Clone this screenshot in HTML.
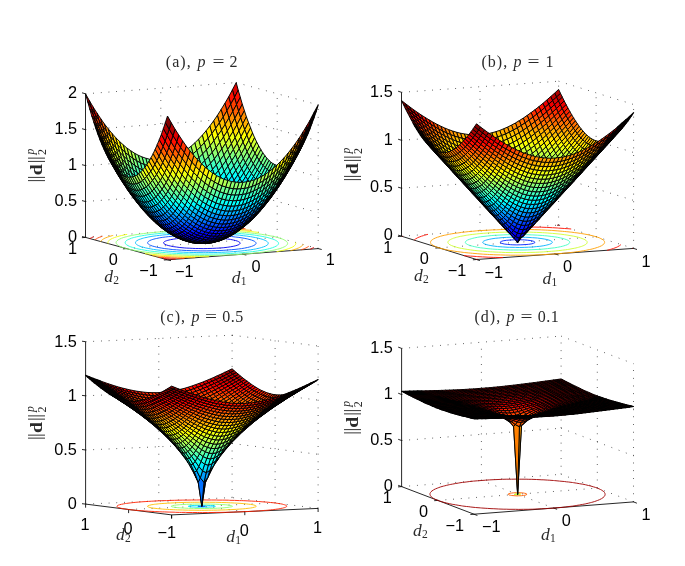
<!DOCTYPE html>
<html lang="en"><head><meta charset="utf-8"><title>Lp norm surfaces</title>
<style>
html,body{margin:0;padding:0;background:#fff}
svg{display:block;will-change:transform}
.gr{fill:none;stroke:#000;stroke-width:.75;stroke-dasharray:.8 6.9;stroke-linecap:butt}
.ax{fill:none;stroke:#000;stroke-width:.85;stroke-linejoin:miter}
.ct{fill:none;stroke-width:.9}
.sf path{stroke:#000;stroke-width:.95;stroke-linejoin:round}
.sf .t{stroke-width:1.15}
.tk{font-family:"Liberation Sans",sans-serif;font-size:16.3px;fill:#000}
.tx{font-family:"Liberation Serif",serif;fill:#2a2a2a}
</style></head><body>
<svg width="685" height="566" viewBox="0 0 685 566">
<rect width="685" height="566" fill="#fff"/>
<g id="pa">
<path class="gr" d="M242.8 254.2L160.8 231.8M126.5 248.6L277.2 237.4M318.2 248.6L236.2 226.2M85.5 237.4L236.2 226.2M160.8 231.8L160.8 88.2M236.2 226.2L236.2 82.6M318.2 248.6L318.2 104.9M277.2 237.4L277.2 93.7M85.5 201.5L236.2 190.3M236.2 190.3L318.2 212.6M85.5 165.6L236.2 154.4M236.2 154.4L318.2 176.7M85.5 129.7L236.2 118.5M236.2 118.5L318.2 140.8M85.5 93.8L236.2 82.6M236.2 82.6L318.2 104.9"/>
<path class="ax" d="M85.5 93.8L85.5 237.4L167.5 259.8L318.2 248.6M167.5 259.8L171 260.7M167.5 259.8L163.9 260M242.8 254.2L246.3 255.1M126.5 248.6L122.9 248.9M318.2 248.6L321.7 249.5M85.5 237.4L81.9 237.7M85.5 237.4L82 236.5M85.5 201.5L82 200.6M85.5 165.6L82 164.7M85.5 129.7L82 128.7M85.5 93.8L82 92.8"/>
<path class="ct" stroke="#0000ef" d="M203.2 248.6L203.2 248.6L198.2 248.5L195.3 248.5L192.8 248.4L189.2 248.2L186.8 248.1L184.2 247.9L179.9 247.5L179.9 247.5L176.3 247L173.2 246.6L170.4 246L168.2 245.5L166.3 244.9L165 244.3L164 243.7L163.5 243L163.5 243L163.7 242.3L164.1 241.9L164.6 241.5L165.7 241L166.6 240.7L167.8 240.3L170.4 239.7L170.4 239.7L173.3 239.2L176.5 238.7L179.9 238.3L183.5 238L187.4 237.8L191.5 237.6L195.9 237.5L200.5 237.4L200.5 237.4L205.5 237.5L208.4 237.5L210.9 237.6L214.5 237.8L216.9 237.9L219.5 238.1L223.8 238.5L223.8 238.5L227.4 239L230.5 239.4L233.3 240L235.5 240.5L237.4 241.1L238.7 241.7L239.7 242.3L240.2 243L240.2 243L240 243.7L239.6 244.1L239.1 244.5L238 245L237.1 245.3L235.9 245.7L233.3 246.3L233.3 246.3L230.4 246.8L227.2 247.3L223.8 247.7L220.2 248L216.3 248.2L212.2 248.4L207.8 248.5L203.2 248.6z"/>
<path class="ct" stroke="#0050ff" d="M211.4 250.8L211.4 250.8L206.8 250.9L202.1 250.9L200.9 250.9L197.1 250.8L193.2 250.7L191.8 250.7L186.8 250.5L186.2 250.5L181.4 250.2L180 250.1L176.6 249.8L173.2 249.6L172.2 249.5L168.4 249L164.8 248.6L164.8 248.6L161.7 248.1L158.9 247.6L156.4 247.1L154.2 246.5L152.3 246L150.7 245.4L149.4 244.8L148.4 244.1L148.4 244.1L147.9 243.5L147.6 242.8L147.6 242.6L147.9 242L148.3 241.5L148.6 241.3L149.7 240.6L149.9 240.5L151.6 239.8L152.2 239.6L153.9 239.1L155.8 238.6L156.4 238.5L159.2 237.9L162.2 237.4L162.2 237.4L165.4 237L168.7 236.6L172.3 236.3L175.9 236L179.8 235.7L183.8 235.5L188 235.3L192.3 235.2L192.3 235.2L196.9 235.1L201.6 235.1L202.8 235.1L206.6 235.2L210.5 235.3L211.9 235.3L216.9 235.5L217.5 235.5L222.3 235.8L223.7 235.9L227.1 236.2L230.5 236.4L231.5 236.5L235.3 237L238.9 237.4L238.9 237.4L242 237.9L244.8 238.4L247.3 238.9L249.5 239.5L251.4 240L253 240.6L254.3 241.2L255.3 241.9L255.3 241.9L255.8 242.5L256.1 243.2L256.1 243.4L255.8 244L255.4 244.5L255.1 244.7L254 245.4L253.8 245.5L252.1 246.2L251.5 246.4L249.8 246.9L247.9 247.4L247.3 247.5L244.5 248.1L241.5 248.6L241.5 248.6L238.3 249L235 249.4L231.4 249.7L227.8 250L223.9 250.3L219.9 250.5L215.7 250.7L211.4 250.8z"/>
<path class="ct" stroke="#00bfff" d="M221.7 252.3L218.1 252.4L217.5 252.5L213.1 252.6L208.5 252.6L205.6 252.7L203.8 252.7L198.9 252.6L196.8 252.6L193.8 252.5L189.6 252.4L188.4 252.4L183.3 252.2L182.8 252.2L177.8 251.9L176.7 251.8L172.8 251.5L170.1 251.3L168.3 251.2L164.2 250.8L162.7 250.6L160.4 250.3L156.9 249.9L153.7 249.4L153.2 249.4L150.8 248.9L148.1 248.4L145.7 247.9L143.5 247.3L141.6 246.8L139.9 246.2L138.5 245.6L137.4 245L137.3 245L136.4 244.3L135.8 243.7L135.5 243.2L135.5 243L135.5 242.3L135.6 242L135.9 241.5L136.6 240.9L136.8 240.7L138.1 240L138.2 239.9L139.9 239.2L140.4 239.1L142.1 238.5L143.5 238.1L144.5 237.8L147.2 237.3L148.2 237L150 236.7L153 236.2L156.1 235.8L156.6 235.7L159.4 235.4L162.8 235L166.4 234.7L170.1 234.4L173.9 234.1L177.9 233.9L182 233.7L185.6 233.6L186.2 233.5L190.6 233.4L195.2 233.4L198.1 233.3L199.9 233.3L204.8 233.4L206.9 233.4L209.9 233.5L214.1 233.6L215.3 233.6L220.4 233.8L220.9 233.8L225.9 234.1L227 234.2L230.9 234.5L233.6 234.7L235.4 234.8L239.5 235.2L241 235.4L243.3 235.7L246.8 236.1L250 236.6L250.5 236.6L252.9 237.1L255.6 237.6L258 238.1L260.2 238.7L262.1 239.2L263.8 239.8L265.2 240.4L266.3 241L266.4 241L267.3 241.7L267.9 242.3L268.2 242.8L268.2 243L268.2 243.7L268.1 244L267.8 244.5L267.1 245.1L266.9 245.3L265.6 246L265.5 246.1L263.8 246.8L263.3 246.9L261.6 247.5L260.2 247.9L259.2 248.2L256.5 248.7L255.5 249L253.7 249.3L250.7 249.8L247.6 250.2L247.1 250.3L244.3 250.6L240.9 251L237.3 251.3L233.6 251.6L229.8 251.9L225.8 252.1L221.7 252.3z"/>
<path class="ct" stroke="#20ffdf" d="M218.2 254L215.8 254L213.8 254.1L209.2 254.1L204.5 254.2L204.5 254.2L199.6 254.1L195.9 254.1L194.6 254.1L189.3 253.9L188.6 253.9L183.8 253.8L182.2 253.7L178 253.5L176.5 253.4L171.9 253.1L171.3 253.1L166.5 252.7L165.3 252.6L162.1 252.3L158 251.9L158 251.9L154.2 251.5L150.7 251.1L149.2 250.9L147.4 250.6L144.4 250.1L141.6 249.6L139 249.1L136.6 248.6L134.5 248L132.5 247.4L130.8 246.9L129.3 246.3L128 245.6L126.9 245L126.4 244.7L126.1 244.4L125.5 243.7L125.2 243L125.2 243L125.2 242.3L125.4 241.8L125.5 241.6L126.2 240.8L126.3 240.7L127.3 240L127.7 239.8L128.9 239.2L129.5 239L131.2 238.3L131.5 238.2L133.8 237.5L134.4 237.4L136.3 236.9L138.9 236.3L138.9 236.3L141.7 235.8L144.7 235.3L146.1 235.1L147.8 234.8L151.1 234.4L154.4 234L157.9 233.7L161.5 233.3L165.2 233L169 232.8L173 232.5L177 232.3L181.2 232.2L185.5 232L187.9 232L189.9 231.9L194.5 231.9L199.2 231.8L199.2 231.8L204.1 231.9L207.8 231.9L209.1 231.9L214.4 232.1L215.1 232.1L219.9 232.2L221.5 232.3L225.7 232.5L227.2 232.6L231.8 232.9L232.4 232.9L237.2 233.3L238.4 233.4L241.6 233.7L245.7 234.1L245.7 234.1L249.5 234.5L253 234.9L254.5 235.1L256.3 235.4L259.3 235.9L262.1 236.4L264.7 236.9L267.1 237.4L269.2 238L271.2 238.6L272.9 239.1L274.4 239.7L275.7 240.4L276.8 241L277.3 241.3L277.6 241.6L278.2 242.3L278.5 243L278.5 243L278.5 243.7L278.3 244.2L278.2 244.4L277.5 245.2L277.4 245.3L276.4 246L276 246.2L274.8 246.8L274.2 247L272.5 247.7L272.2 247.8L269.9 248.5L269.3 248.6L267.4 249.1L264.8 249.7L264.8 249.7L262 250.2L259 250.7L257.6 250.9L255.9 251.2L252.6 251.6L249.3 252L245.8 252.3L242.2 252.7L238.5 253L234.7 253.2L230.7 253.5L226.7 253.7L222.5 253.8L218.2 254z"/>
<path class="ct" stroke="#8fff70" d="M242.8 254.2L239 254.4L235.1 254.7L231.1 254.9L226.9 255L222.7 255.2L218.4 255.3L217.3 255.3L213.9 255.4L209.3 255.5L206 255.5L204.5 255.5L199.7 255.5L197.1 255.4L194.6 255.4L189.4 255.3L189.4 255.3L184 255.1L182.8 255.1L178.4 254.9L176.8 254.8L172.4 254.6L171.3 254.5L166.2 254.2L166.2 254.2L161.5 253.8L159.4 253.6L157.1 253.4L153 253L151.9 252.9L149.2 252.6L145.6 252.1L143 251.8L142.3 251.7L139.2 251.2L136.2 250.7L133.5 250.2L131 249.7L128.6 249.2L126.5 248.6M277.2 237.4L279.2 238L280.9 238.5L282.5 239.1L283.9 239.7L285 240.4L286 241L286.2 241.2L286.8 241.7L287.3 242.3L287.5 242.8L287.6 243L287.6 243.7L287.5 244.1L287.3 244.5L286.7 245.2L286.7 245.2L285.7 246L285.5 246.2L284.3 246.8L283.9 247L282.4 247.7L282 247.8L279.9 248.6L279.9 248.6L277.5 249.2L276.3 249.5L275 249.9L272.4 250.4L271.5 250.6L269.6 251L266.6 251.5L264.3 251.8L263.6 252L260.4 252.4L257.1 252.8L253.7 253.2L250.2 253.5L246.6 253.9L242.8 254.2M126.5 248.6L124.5 248L122.8 247.5L121.2 246.9L119.8 246.3L118.7 245.6L117.7 245L117.5 244.8L116.9 244.3L116.4 243.7L116.2 243.2L116.1 243L116.1 242.3L116.2 241.9L116.4 241.5L117 240.8L117 240.8L118 240L118.2 239.8L119.4 239.2L119.8 239L121.3 238.3L121.7 238.2L123.8 237.4L123.8 237.4L126.2 236.8L127.4 236.5L128.7 236.1L131.3 235.6L132.2 235.4L134.1 235L137.1 234.5L139.4 234.2L140.1 234L143.3 233.6L146.6 233.2L150 232.8L153.5 232.5L157.1 232.1L160.8 231.8M160.8 231.8L164.7 231.6L168.6 231.3L172.6 231.1L176.8 231L181 230.8L185.3 230.7L186.4 230.7L189.8 230.6L194.4 230.5L197.7 230.5L199.2 230.5L204 230.5L206.6 230.6L209.1 230.6L214.3 230.7L214.3 230.7L219.7 230.9L220.9 230.9L225.3 231.1L226.9 231.2L231.3 231.4L232.4 231.5L237.5 231.8L237.5 231.8L242.2 232.2L244.3 232.4L246.6 232.6L250.7 233L251.8 233.1L254.5 233.4L258.1 233.9L260.7 234.2L261.4 234.3L264.5 234.8L267.5 235.3L270.2 235.8L272.7 236.3L275.1 236.8L277.2 237.4"/>
<path class="ct" stroke="#efff10" d="M209.2 256.7L208.9 256.7L204.1 256.7L199.7 256.6L199.2 256.6L194.2 256.6L191.7 256.5L189 256.5L184.7 256.3L183.6 256.3L178.3 256.1L178.1 256.1L172.4 255.8L172.2 255.8L167.1 255.5L166.1 255.5L162.1 255.2L159.6 255L157.4 254.8L153 254.4L152.6 254.4L148.9 254L145 253.6L144.8 253.6M295.5 242.4L295.6 242.4L295.8 243.1L295.8 243.8L295.8 243.8L295.5 244.6L295.2 244.9L294.9 245.3L294.2 245.9L294 246.1L292.8 246.9L292.8 246.9L291.1 247.7L291 247.7L289.1 248.5L288.7 248.6L287 249.2L285.8 249.5L284.6 249.9L282.1 250.5L281.9 250.5L279.5 251.1L276.7 251.6L276.5 251.6M108.2 243.6L108.1 243.6L107.9 242.9L107.9 242.2L107.9 242.2L108.2 241.4L108.5 241.1L108.8 240.7L109.5 240.1L109.7 239.9L110.9 239.1L110.9 239.1L112.6 238.3L112.7 238.3L114.6 237.5L115 237.4L116.7 236.8L117.9 236.5L119.1 236.1L121.6 235.5L121.8 235.5L124.2 234.9L127 234.4L127.2 234.4M194.5 229.3L194.8 229.3L199.6 229.3L204 229.4L204.5 229.4L209.5 229.4L212 229.5L214.7 229.5L219 229.7L220.1 229.7L225.4 229.9L225.6 229.9L231.3 230.2L231.5 230.2L236.6 230.5L237.6 230.5L241.6 230.8L244.1 231L246.3 231.2L250.7 231.6L251.1 231.6L254.8 232L258.7 232.4L258.9 232.4"/>
<path class="ct" stroke="#ffaf00" d="M195.2 257.7L193.4 257.7L188.2 257.6L187.7 257.5L182.8 257.4L180.9 257.3L177.3 257.2L174.7 257.1L171.5 256.9L169 256.8L165.5 256.6L163.7 256.5L159.2 256.2L158.7 256.1L154 255.8L152.4 255.6M303.1 244.4L303 244.7L302.4 245.5L302.3 245.5L301.5 246.2L301.1 246.5L300.3 247L299.6 247.4L298.7 247.9L297.9 248.2L296.6 248.7L295.9 249L293.9 249.6L293.7 249.7L291.4 250.4L290.5 250.6M100.6 241.6L100.7 241.3L101.3 240.5L101.4 240.5L102.2 239.8L102.6 239.5L103.4 239L104.1 238.6L105 238.1L105.8 237.8L107.1 237.3L107.8 237L109.8 236.4L110 236.3L112.3 235.6L113.2 235.4M208.5 228.3L210.3 228.3L215.5 228.4L216 228.5L220.9 228.6L222.8 228.7L226.4 228.8L229 228.9L232.2 229.1L234.7 229.2L238.2 229.4L240 229.5L244.5 229.8L245 229.9L249.7 230.2L251.3 230.4"/>
<path class="ct" stroke="#ff4000" d="M184.5 258.5L181.7 258.4L177.9 258.3L176.2 258.2L171.8 258L170.5 257.9L166.1 257.7L164.5 257.6L160.8 257.4L158.2 257.2M308.9 246L308.5 246.4L307.7 247L307.3 247.2L306.1 247.9L305.7 248.1L304.3 248.7L303.7 248.9L302.3 249.4L301.2 249.8M94.8 240L95.2 239.6L96 239L96.4 238.8L97.6 238.1L98 237.9L99.4 237.3L100 237.1L101.4 236.6L102.5 236.2M219.2 227.5L222 227.6L225.8 227.7L227.5 227.8L231.9 228L233.2 228.1L237.6 228.3L239.2 228.4L242.9 228.6L245.5 228.8"/>
<path class="ct" stroke="#df0000" d="M175.5 259.2L174.8 259.1L169.4 258.9L169.1 258.9L163.8 258.6L163.2 258.6M313.9 247.4L313.7 247.5L312.3 248.2L312.2 248.3L310.5 249.1L310.2 249.1M89.8 238.6L90 238.5L91.4 237.8L91.5 237.7L93.2 236.9L93.5 236.9M228.2 226.8L228.9 226.9L234.3 227.1L234.6 227.1L239.9 227.4L240.5 227.4"/>
<g class="sf">
<path fill="#df0000" d="M234.5 97.4l3.7-7.3-2-7.5-3.8 7.2z"/>
<path fill="#ff1000" d="M230.7 104.3l3.8-6.9-2.1-7.6-3.7 7z"/>
<path fill="#ff3000" d="M226.9 110.9l3.8-6.6-2-7.5-3.8 6.5z"/>
<path fill="#ff6000" d="M223.2 117.1l3.7-6.2-2-7.6-3.8 6.2z"/>
<path fill="#ff8f00" d="M219.4 122.9l3.8-5.8-2.1-7.6-3.7 5.9z"/>
<path fill="#ffaf00" d="M215.6 128.4l3.8-5.5-2-7.5-3.8 5.5z"/>
<path fill="#ffcf00" d="M211.9 133.6l3.7-5.2-2-7.5-3.8 5.1z"/>
<path fill="#ffef00" d="M208.1 138.3l3.8-4.7-2.1-7.6-3.7 4.8z"/>
<path fill="#efff10" d="M204.3 142.7l3.8-4.4-2-7.5-3.8 4.4z"/>
<path fill="#cfff30" d="M200.6 146.8l3.7-4.1-2-7.5-3.8 4z"/>
<path fill="#bfff40" d="M196.8 150.5l3.8-3.7-2.1-7.6-3.7 3.7z"/>
<path fill="#afff50" d="M193 153.8l3.8-3.3-2-7.6-3.8 3.4z"/>
<path fill="#8fff70" d="M189.3 156.8l3.7-3-2-7.5-3.8 2.9z"/>
<path fill="#80ff80" d="M185.5 159.4l3.8-2.6-2.1-7.6-3.7 2.7z"/>
<g fill="#70ff8f"><path d="M181.7 161.7l3.8-2.3-2-7.5-3.8 2.2z"/><path d="M178 163.6l3.7-1.9-2-7.6-3.8 1.9z"/></g>
<g fill="#60ff9f"><path d="M174.2 165.1l3.8-1.5-2.1-7.6-3.7 1.5z"/><path d="M170.4 166.3l3.8-1.2-2-7.6-3.8 1.2z"/></g>
<g fill="#50ffaf"><path d="M166.7 167.1l3.7-.8-2-7.6-3.8 .8z"/><path d="M162.9 167.6l3.8-.5-2.1-7.6-3.8 .5z"/><path d="M159.1 167.7l3.8-.1-2.1-7.6-3.7 .1z"/></g>
<g fill="#60ff9f"><path d="M155.4 167.4l3.7 .3-2-7.6-3.8-.3z"/><path d="M151.6 166.8l3.8 .6-2.1-7.6-3.8-.6z"/></g>
<g fill="#70ff8f"><path d="M147.8 165.8l3.8 1-2.1-7.6-3.7-1z"/><path d="M144.1 164.5l3.7 1.3-2-7.6-3.8-1.3z"/></g>
<path fill="#80ff80" d="M140.3 162.8l3.8 1.7-2.1-7.6-3.8-1.7z"/>
<path fill="#8fff70" d="M136.5 160.7l3.8 2.1-2.1-7.6-3.7-2z"/>
<path fill="#afff50" d="M132.8 158.3l3.7 2.4-2-7.5-3.8-2.5z"/>
<path fill="#bfff40" d="M129 155.5l3.8 2.8-2.1-7.6-3.8-2.7z"/>
<path fill="#cfff30" d="M125.2 152.4l3.8 3.1-2.1-7.5-3.7-3.2z"/>
<path fill="#efff10" d="M121.5 148.9l3.7 3.5-2-7.6-3.8-3.5z"/>
<path fill="#ffef00" d="M117.7 145.1l3.8 3.8-2.1-7.6-3.8-3.8z"/>
<path fill="#ffcf00" d="M113.9 140.8l3.8 4.3-2.1-7.6-3.7-4.2z"/>
<path fill="#ffaf00" d="M110.2 136.3l3.7 4.5-2-7.5-3.8-4.6z"/>
<path fill="#ff8f00" d="M106.4 131.3l3.8 5-2.1-7.6-3.8-4.9z"/>
<path fill="#ff6000" d="M102.6 126.1l3.8 5.2-2.1-7.5-3.7-5.3z"/>
<path fill="#ff3000" d="M98.9 120.4l3.7 5.7-2-7.6-3.8-5.7z"/>
<path fill="#ff1000" d="M95.1 114.4l3.8 6-2.1-7.6-3.8-6z"/>
<path fill="#df0000" d="M91.3 108l3.8 6.4-2.1-7.6-3.7-6.3z"/>
<path fill="#af0000" d="M87.6 101.3l3.7 6.7-2-7.5-3.8-6.7z"/>
<path fill="#ff1000" d="M236.5 104.6l3.8-7.3-2.1-7.2-3.7 7.3z"/>
<path fill="#ff4000" d="M232.8 111.5l3.7-6.9-2-7.2-3.8 6.9z"/>
<path fill="#ff6000" d="M229 118.1l3.8-6.6-2.1-7.2-3.8 6.6z"/>
<path fill="#ff8f00" d="M225.2 124.3l3.8-6.2-2.1-7.2-3.7 6.2z"/>
<path fill="#ffbf00" d="M221.5 130.2l3.7-5.9-2-7.2-3.8 5.8z"/>
<path fill="#ffdf00" d="M217.7 135.6l3.8-5.4-2.1-7.3-3.8 5.5z"/>
<path fill="#ff0" d="M213.9 140.8l3.8-5.2-2.1-7.2-3.7 5.2z"/>
<path fill="#dfff20" d="M210.2 145.5l3.7-4.7-2-7.2-3.8 4.7z"/>
<path fill="#bfff40" d="M206.4 150l3.8-4.5-2.1-7.2-3.8 4.4z"/>
<path fill="#9fff60" d="M202.6 154l3.8-4-2.1-7.3-3.7 4.1z"/>
<path fill="#8fff70" d="M198.9 157.7l3.7-3.7-2-7.2-3.8 3.7z"/>
<path fill="#80ff80" d="M195.1 161l3.8-3.3-2.1-7.2-3.8 3.3z"/>
<path fill="#60ff9f" d="M191.3 164l3.8-3-2.1-7.2-3.7 3z"/>
<path fill="#50ffaf" d="M187.6 166.6l3.7-2.6-2-7.2-3.8 2.6z"/>
<g fill="#40ffbf"><path d="M183.8 168.9l3.8-2.3-2.1-7.2-3.8 2.3z"/><path d="M180 170.8l3.8-1.9-2.1-7.2-3.7 1.9z"/></g>
<g fill="#30ffcf"><path d="M176.3 172.3l3.7-1.5-2-7.2-3.8 1.5z"/><path d="M172.5 173.5l3.8-1.2-2.1-7.2-3.8 1.2z"/><path d="M168.7 174.3l3.8-.8-2.1-7.2-3.7 .8z"/></g>
<path fill="#20ffdf" d="M165 174.8l3.7-.5-2-7.2-3.8 .5z"/>
<g fill="#30ffcf"><path d="M161.2 174.9l3.8-.1-2.1-7.2-3.8 .1z"/><path d="M157.4 174.6l3.8 .3-2.1-7.2-3.7-.3z"/><path d="M153.6 174l3.8 .6-2-7.2-3.8-.6z"/></g>
<g fill="#40ffbf"><path d="M149.9 173l3.7 1-2-7.2-3.8-1z"/><path d="M146.1 171.7l3.8 1.3-2.1-7.2-3.7-1.3z"/></g>
<path fill="#50ffaf" d="M142.3 170l3.8 1.7-2-7.2-3.8-1.7z"/>
<path fill="#60ff9f" d="M138.6 167.9l3.7 2.1-2-7.2-3.8-2.1z"/>
<path fill="#80ff80" d="M134.8 165.5l3.8 2.4-2.1-7.2-3.7-2.4z"/>
<path fill="#8fff70" d="M131 162.7l3.8 2.8-2-7.2-3.8-2.8z"/>
<path fill="#9fff60" d="M127.3 159.6l3.7 3.1-2-7.2-3.8-3.1z"/>
<path fill="#bfff40" d="M123.5 156.1l3.8 3.5-2.1-7.2-3.7-3.5z"/>
<path fill="#dfff20" d="M119.7 152.3l3.8 3.8-2-7.2-3.8-3.8z"/>
<path fill="#ff0" d="M116 148l3.7 4.3-2-7.2-3.8-4.3z"/>
<path fill="#ffdf00" d="M112.2 143.5l3.8 4.5-2.1-7.2-3.7-4.5z"/>
<path fill="#ffbf00" d="M108.4 138.6l3.8 4.9-2-7.2-3.8-5z"/>
<path fill="#ff8f00" d="M104.7 133.3l3.7 5.3-2-7.3-3.8-5.2z"/>
<path fill="#ff6000" d="M100.9 127.6l3.8 5.7-2.1-7.2-3.7-5.7z"/>
<path fill="#ff4000" d="M97.1 121.6l3.8 6-2-7.2-3.8-6z"/>
<path fill="#ff1000" d="M93.4 115.2l3.7 6.4-2-7.2-3.8-6.4z"/>
<path fill="#df0000" d="M89.6 108.5l3.8 6.7-2.1-7.2-3.7-6.7z"/>
<path fill="#ff3000" d="M238.6 111.4l3.7-7.2-2-6.9-3.8 7.3z"/>
<path fill="#ff6000" d="M234.8 118.4l3.8-7-2.1-6.8-3.7 6.9z"/>
<path fill="#ff8f00" d="M231 124.9l3.8-6.5-2-6.9-3.8 6.6z"/>
<path fill="#ffbf00" d="M227.3 131.1l3.7-6.2-2-6.8-3.8 6.2z"/>
<path fill="#ffdf00" d="M223.5 137l3.8-5.9-2.1-6.8-3.7 5.9z"/>
<path fill="#efff10" d="M219.7 142.5l3.8-5.5-2-6.8-3.8 5.4z"/>
<path fill="#cfff30" d="M216 147.6l3.7-5.1-2-6.9-3.8 5.2z"/>
<path fill="#afff50" d="M212.2 152.4l3.8-4.8-2.1-6.8-3.7 4.7z"/>
<path fill="#8fff70" d="M208.4 156.8l3.8-4.4-2-6.9-3.8 4.5z"/>
<path fill="#80ff80" d="M204.7 160.8l3.7-4-2-6.8-3.8 4z"/>
<path fill="#60ff9f" d="M200.9 164.5l3.8-3.7-2.1-6.8-3.7 3.7z"/>
<path fill="#50ffaf" d="M197.1 167.9l3.8-3.4-2-6.8-3.8 3.3z"/>
<path fill="#40ffbf" d="M193.4 170.8l3.7-2.9-2-6.9-3.8 3z"/>
<path fill="#30ffcf" d="M189.6 173.5l3.8-2.7-2.1-6.8-3.7 2.6z"/>
<path fill="#20ffdf" d="M185.8 175.7l3.8-2.2-2-6.9-3.8 2.3z"/>
<path fill="#10ffef" d="M182.1 177.6l3.7-1.9-2-6.8-3.8 1.9z"/>
<g fill="#0ff"><path d="M178.3 179.2l3.8-1.6-2.1-6.8-3.7 1.5z"/><path d="M174.5 180.3l3.8-1.1-2-6.9-3.8 1.2z"/><path d="M170.8 181.2l3.7-.9-2-6.8-3.8 .8z"/><path d="M167 181.6l3.8-.4-2.1-6.9-3.7 .5z"/><path d="M163.2 181.7l3.8-.1-2-6.8-3.8 .1z"/><path d="M159.5 181.5l3.7 .2-2-6.8-3.8-.3z"/><path d="M155.7 180.8l3.8 .7-2.1-6.9-3.8-.6z"/></g>
<path fill="#10ffef" d="M151.9 179.9l3.8 .9-2.1-6.8-3.7-1z"/>
<path fill="#20ffdf" d="M148.2 178.5l3.7 1.4-2-6.9-3.8-1.3z"/>
<path fill="#30ffcf" d="M144.4 176.8l3.8 1.7-2.1-6.8-3.8-1.7z"/>
<path fill="#40ffbf" d="M140.6 174.8l3.8 2-2.1-6.8-3.7-2.1z"/>
<path fill="#50ffaf" d="M136.9 172.4l3.7 2.4-2-6.9-3.8-2.4z"/>
<path fill="#60ff9f" d="M133.1 169.6l3.8 2.8-2.1-6.9-3.8-2.8z"/>
<path fill="#80ff80" d="M129.3 166.4l3.8 3.2-2.1-6.9-3.7-3.1z"/>
<path fill="#8fff70" d="M125.6 163l3.7 3.4-2-6.8-3.8-3.5z"/>
<path fill="#afff50" d="M121.8 159.1l3.8 3.9-2.1-6.9-3.8-3.8z"/>
<path fill="#cfff30" d="M118 154.9l3.8 4.2-2.1-6.8-3.7-4.3z"/>
<path fill="#efff10" d="M114.3 150.3l3.7 4.6-2-6.9-3.8-4.5z"/>
<path fill="#ffdf00" d="M110.5 145.4l3.8 4.9-2.1-6.8-3.8-4.9z"/>
<path fill="#ffbf00" d="M106.7 140.1l3.8 5.3-2.1-6.8-3.7-5.3z"/>
<path fill="#ff8f00" d="M103 134.5l3.7 5.6-2-6.8-3.8-5.7z"/>
<path fill="#ff6000" d="M99.2 128.5l3.8 6-2.1-6.9-3.8-6z"/>
<path fill="#ff3000" d="M95.4 122.1l3.8 6.4-2.1-6.9-3.7-6.4z"/>
<path fill="#f00" d="M91.6 115.4l3.8 6.7-2-6.9-3.8-6.7z"/>
<path fill="#ff6000" d="M240.6 117.9l3.8-7.3-2.1-6.4-3.7 7.2z"/>
<path fill="#ff8f00" d="M236.9 124.9l3.7-7-2-6.5-3.8 7z"/>
<path fill="#ffbf00" d="M233.1 131.4l3.8-6.5-2.1-6.5-3.8 6.5z"/>
<path fill="#ffef00" d="M229.3 137.6l3.8-6.2-2.1-6.5-3.7 6.2z"/>
<path fill="#efff10" d="M225.6 143.5l3.7-5.9-2-6.5-3.8 5.9z"/>
<path fill="#cfff30" d="M221.8 149l3.8-5.5-2.1-6.5-3.8 5.5z"/>
<path fill="#afff50" d="M218 154.1l3.8-5.1-2.1-6.5-3.7 5.1z"/>
<path fill="#8fff70" d="M214.3 158.9l3.7-4.8-2-6.5-3.8 4.8z"/>
<path fill="#70ff8f" d="M210.5 163.3l3.8-4.4-2.1-6.5-3.8 4.4z"/>
<path fill="#50ffaf" d="M206.7 167.3l3.8-4-2.1-6.5-3.7 4z"/>
<path fill="#30ffcf" d="M203 171l3.7-3.7-2-6.5-3.8 3.7z"/>
<path fill="#20ffdf" d="M199.2 174.4l3.8-3.4-2.1-6.5-3.8 3.4z"/>
<path fill="#10ffef" d="M195.4 177.3l3.8-2.9-2.1-6.5-3.7 2.9z"/>
<path fill="#0ff" d="M191.7 179.9l3.7-2.6-2-6.5-3.8 2.7z"/>
<path fill="#00efff" d="M187.9 182.2l3.8-2.3-2.1-6.4-3.8 2.2z"/>
<g fill="#00dfff"><path d="M184.1 184.1l3.8-1.9-2.1-6.5-3.7 1.9z"/><path d="M180.4 185.6l3.7-1.5-2-6.5-3.8 1.6z"/></g>
<g fill="#00cfff"><path d="M176.6 186.8l3.8-1.2-2.1-6.4-3.8 1.1z"/><path d="M172.8 187.6l3.8-.8-2.1-6.5-3.7 .9z"/><path d="M169 188.1l3.8-.5-2-6.4-3.8 .4z"/><path d="M165.3 188.2l3.7-.1-2-6.5-3.8 .1z"/><path d="M161.5 187.9l3.8 .3-2.1-6.5-3.7-.2z"/></g>
<g fill="#00dfff"><path d="M157.7 187.3l3.8 .6-2-6.4-3.8-.7z"/><path d="M154 186.3l3.7 1-2-6.5-3.8-.9z"/></g>
<path fill="#00efff" d="M150.2 185l3.8 1.3-2.1-6.4-3.7-1.4z"/>
<path fill="#0ff" d="M146.4 183.3l3.8 1.7-2-6.5-3.8-1.7z"/>
<path fill="#10ffef" d="M142.7 181.3l3.7 2-2-6.5-3.8-2z"/>
<path fill="#20ffdf" d="M138.9 178.8l3.8 2.5-2.1-6.5-3.7-2.4z"/>
<path fill="#30ffcf" d="M135.1 176.1l3.8 2.7-2-6.4-3.8-2.8z"/>
<path fill="#50ffaf" d="M131.4 172.9l3.7 3.2-2-6.5-3.8-3.2z"/>
<path fill="#70ff8f" d="M127.6 169.4l3.8 3.5-2.1-6.5-3.7-3.4z"/>
<path fill="#8fff70" d="M123.8 165.6l3.8 3.8-2-6.4-3.8-3.9z"/>
<path fill="#afff50" d="M120.1 161.4l3.7 4.2-2-6.5-3.8-4.2z"/>
<path fill="#cfff30" d="M116.3 156.8l3.8 4.6-2.1-6.5-3.7-4.6z"/>
<path fill="#efff10" d="M112.5 151.9l3.8 4.9-2-6.5-3.8-4.9z"/>
<path fill="#ffef00" d="M108.8 146.6l3.7 5.3-2-6.5-3.8-5.3z"/>
<path fill="#ffbf00" d="M105 140.9l3.8 5.7-2.1-6.5-3.7-5.6z"/>
<path fill="#ff8f00" d="M101.2 134.9l3.8 6-2-6.4-3.8-6z"/>
<path fill="#ff6000" d="M97.5 128.6l3.7 6.3-2-6.4-3.8-6.4z"/>
<path fill="#ff3000" d="M93.7 121.8l3.8 6.8-2.1-6.5-3.8-6.7z"/>
<path fill="#ff8f00" d="M242.7 124.1l3.7-7.3-2-6.2-3.8 7.3z"/>
<path fill="#ffbf00" d="M238.9 131l3.8-6.9-2.1-6.2-3.7 7z"/>
<path fill="#ffdf00" d="M235.1 137.6l3.8-6.6-2-6.1-3.8 6.5z"/>
<path fill="#efff10" d="M231.4 143.8l3.7-6.2-2-6.2-3.8 6.2z"/>
<path fill="#cfff30" d="M227.6 149.6l3.8-5.8-2.1-6.2-3.7 5.9z"/>
<path fill="#9fff60" d="M223.8 155.1l3.8-5.5-2-6.1-3.8 5.5z"/>
<path fill="#80ff80" d="M220.1 160.2l3.7-5.1-2-6.1-3.8 5.1z"/>
<path fill="#60ff9f" d="M216.3 165l3.8-4.8-2.1-6.1-3.7 4.8z"/>
<path fill="#40ffbf" d="M212.5 169.4l3.8-4.4-2-6.1-3.8 4.4z"/>
<path fill="#30ffcf" d="M208.8 173.5l3.7-4.1-2-6.1-3.8 4z"/>
<path fill="#10ffef" d="M205 177.2l3.8-3.7-2.1-6.2-3.7 3.7z"/>
<path fill="#0ff" d="M201.2 180.5l3.8-3.3-2-6.2-3.8 3.4z"/>
<path fill="#00dfff" d="M197.5 183.5l3.7-3-2-6.1-3.8 2.9z"/>
<g fill="#00cfff"><path d="M193.7 186.1l3.8-2.6-2.1-6.2-3.7 2.6z"/><path d="M189.9 188.3l3.8-2.2-2-6.2-3.8 2.3z"/></g>
<path fill="#00bfff" d="M186.2 190.2l3.7-1.9-2-6.1-3.8 1.9z"/>
<g fill="#00afff"><path d="M182.4 191.8l3.8-1.6-2.1-6.1-3.7 1.5z"/><path d="M178.6 192.9l3.8-1.1-2-6.2-3.8 1.2z"/><path d="M174.9 193.8l3.7-.9-2-6.1-3.8 .8z"/><path d="M171.1 194.2l3.8-.4-2.1-6.2-3.8 .5z"/><path d="M167.3 194.3l3.8-.1-2.1-6.1-3.7 .1z"/><path d="M163.6 194.1l3.7 .2-2-6.1-3.8-.3z"/><path d="M159.8 193.4l3.8 .7-2.1-6.2-3.8-.6z"/></g>
<path fill="#00bfff" d="M156 192.5l3.8 .9-2.1-6.1-3.7-1z"/>
<g fill="#00cfff"><path d="M152.3 191.1l3.7 1.4-2-6.2-3.8-1.3z"/><path d="M148.5 189.4l3.8 1.7-2.1-6.1-3.8-1.7z"/></g>
<path fill="#00dfff" d="M144.7 187.4l3.8 2-2.1-6.1-3.7-2z"/>
<path fill="#0ff" d="M141 185l3.7 2.4-2-6.1-3.8-2.5z"/>
<path fill="#10ffef" d="M137.2 182.2l3.8 2.8-2.1-6.2-3.8-2.7z"/>
<path fill="#30ffcf" d="M133.4 179.1l3.8 3.1-2.1-6.1-3.7-3.2z"/>
<path fill="#40ffbf" d="M129.7 175.6l3.7 3.5-2-6.2-3.8-3.5z"/>
<path fill="#60ff9f" d="M125.9 171.7l3.8 3.9-2.1-6.2-3.8-3.8z"/>
<path fill="#80ff80" d="M122.1 167.5l3.8 4.2-2.1-6.1-3.7-4.2z"/>
<path fill="#9fff60" d="M118.4 162.9l3.7 4.6-2-6.1-3.8-4.6z"/>
<path fill="#cfff30" d="M114.6 158l3.8 4.9-2.1-6.1-3.8-4.9z"/>
<path fill="#efff10" d="M110.8 152.7l3.8 5.3-2.1-6.1-3.7-5.3z"/>
<path fill="#ffdf00" d="M107.1 147.1l3.7 5.6-2-6.1-3.8-5.7z"/>
<path fill="#ffbf00" d="M103.3 141.1l3.8 6-2.1-6.2-3.8-6z"/>
<path fill="#ff8f00" d="M99.5 134.7l3.8 6.4-2.1-6.2-3.7-6.3z"/>
<path fill="#ff5000" class="t" d="M95.8 128l3.7 6.7-2-6.1-3.8-6.8z"/>
<path fill="#ffaf00" d="M244.7 129.8l3.8-7.3-2.1-5.7-3.7 7.3z"/>
<path fill="#ffdf00" d="M241 136.7l3.7-6.9-2-5.7-3.8 6.9z"/>
<path fill="#efff10" d="M237.2 143.3l3.8-6.6-2.1-5.7-3.8 6.6z"/>
<path fill="#cfff30" d="M233.4 149.5l3.8-6.2-2.1-5.7-3.7 6.2z"/>
<path fill="#9fff60" d="M229.7 155.4l3.7-5.9-2-5.7-3.8 5.8z"/>
<path fill="#80ff80" d="M225.9 160.9l3.8-5.5-2.1-5.8-3.8 5.5z"/>
<path fill="#60ff9f" d="M222.1 166l3.8-5.1-2.1-5.8-3.7 5.1z"/>
<path fill="#40ffbf" d="M218.4 170.8l3.7-4.8-2-5.8-3.8 4.8z"/>
<path fill="#20ffdf" d="M214.6 175.2l3.8-4.4-2.1-5.8-3.8 4.4z"/>
<path fill="#0ff" d="M210.8 179.2l3.8-4-2.1-5.8-3.7 4.1z"/>
<path fill="#00efff" d="M207.1 182.9l3.7-3.7-2-5.7-3.8 3.7z"/>
<path fill="#00cfff" d="M203.3 186.3l3.8-3.4-2.1-5.7-3.8 3.3z"/>
<path fill="#00bfff" d="M199.5 189.2l3.8-2.9-2.1-5.8-3.7 3z"/>
<path fill="#00afff" d="M195.8 191.8l3.7-2.6-2-5.7-3.8 2.6z"/>
<path fill="#009fff" d="M192 194.1l3.8-2.3-2.1-5.7-3.8 2.2z"/>
<g fill="#008fff"><path d="M188.2 196l3.8-1.9-2.1-5.8-3.7 1.9z"/><path d="M184.5 197.5l3.7-1.5-2-5.8-3.8 1.6z"/><path d="M180.7 198.7l3.8-1.2-2.1-5.7-3.8 1.1z"/></g>
<g fill="#0080ff"><path d="M176.9 199.5l3.8-.8-2.1-5.8-3.7 .9z"/><path d="M173.1 200l3.8-.5-2-5.7-3.8 .4z"/><path d="M169.4 200.1l3.7-.1-2-5.8-3.8 .1z"/></g>
<g fill="#008fff"><path d="M165.6 199.8l3.8 .3-2.1-5.8-3.7-.2z"/><path d="M161.8 199.2l3.8 .6-2-5.7-3.8-.7z"/><path d="M158.1 198.2l3.7 1-2-5.8-3.8-.9z"/></g>
<path fill="#009fff" d="M154.3 196.9l3.8 1.3-2.1-5.7-3.7-1.4z"/>
<path fill="#00afff" d="M150.5 195.2l3.8 1.7-2-5.8-3.8-1.7z"/>
<path fill="#00bfff" d="M146.8 193.1l3.7 2.1-2-5.8-3.8-2z"/>
<path fill="#00cfff" d="M143 190.7l3.8 2.4-2.1-5.7-3.7-2.4z"/>
<path fill="#00efff" d="M139.2 188l3.8 2.7-2-5.7-3.8-2.8z"/>
<path fill="#0ff" d="M135.5 184.8l3.7 3.2-2-5.8-3.8-3.1z"/>
<path fill="#20ffdf" d="M131.7 181.3l3.8 3.5-2.1-5.7-3.7-3.5z"/>
<path fill="#40ffbf" d="M127.9 177.5l3.8 3.8-2-5.7-3.8-3.9z"/>
<path fill="#60ff9f" d="M124.2 173.3l3.7 4.2-2-5.8-3.8-4.2z"/>
<path fill="#80ff80" d="M120.4 168.7l3.8 4.6-2.1-5.8-3.7-4.6z"/>
<path fill="#9fff60" d="M116.6 163.8l3.8 4.9-2-5.8-3.8-4.9z"/>
<path fill="#cfff30" d="M112.9 158.5l3.7 5.3-2-5.8-3.8-5.3z"/>
<path fill="#efff10" d="M109.1 152.8l3.8 5.7-2.1-5.8-3.7-5.6z"/>
<path fill="#ffdf00" d="M105.3 146.8l3.8 6-2-5.7-3.8-6z"/>
<path fill="#ffaf00" class="t" d="M101.6 140.5l3.7 6.3-2-5.7-3.8-6.4z"/>
<path fill="#ff8000" class="t" d="M97.8 133.7l3.8 6.8-2.1-5.8-3.7-6.7z"/>
<path fill="#ffcf00" d="M246.8 135.2l3.8-7.3-2.1-5.4-3.8 7.3z"/>
<path fill="#ff0" d="M243 142.2l3.8-7-2.1-5.4-3.7 6.9z"/>
<path fill="#cfff30" d="M239.2 148.7l3.8-6.5-2-5.5-3.8 6.6z"/>
<path fill="#afff50" d="M235.5 154.9l3.7-6.2-2-5.4-3.8 6.2z"/>
<path fill="#80ff80" d="M231.7 160.8l3.8-5.9-2.1-5.4-3.7 5.9z"/>
<path fill="#60ff9f" d="M227.9 166.3l3.8-5.5-2-5.4-3.8 5.5z"/>
<path fill="#40ffbf" d="M224.2 171.4l3.7-5.1-2-5.4-3.8 5.1z"/>
<path fill="#20ffdf" d="M220.4 176.2l3.8-4.8-2.1-5.4-3.7 4.8z"/>
<path fill="#0ff" d="M216.6 180.6l3.8-4.4-2-5.4-3.8 4.4z"/>
<path fill="#00dfff" d="M212.9 184.6l3.7-4-2-5.4-3.8 4z"/>
<path fill="#00cfff" d="M209.1 188.3l3.8-3.7-2.1-5.4-3.7 3.7z"/>
<path fill="#00afff" d="M205.3 191.7l3.8-3.4-2-5.4-3.8 3.4z"/>
<path fill="#009fff" d="M201.6 194.6l3.7-2.9-2-5.4-3.8 2.9z"/>
<path fill="#008fff" d="M197.8 197.2l3.8-2.6-2.1-5.4-3.7 2.6z"/>
<path fill="#0080ff" d="M194 199.5l3.8-2.3-2-5.4-3.8 2.3z"/>
<g fill="#0070ff"><path d="M190.3 201.4l3.7-1.9-2-5.4-3.8 1.9z"/><path d="M186.5 202.9l3.8-1.5-2.1-5.4-3.7 1.5z"/></g>
<g fill="#0060ff"><path d="M182.7 204.1l3.8-1.2-2-5.4-3.8 1.2z"/><path d="M179 204.9l3.7-.8-2-5.4-3.8 .8z"/><path d="M175.2 205.4l3.8-.5-2.1-5.4-3.8 .5z"/><path d="M171.4 205.5l3.8-.1-2.1-5.4-3.7 .1z"/><path d="M167.7 205.2l3.7 .3-2-5.4-3.8-.3z"/></g>
<g fill="#0070ff"><path d="M163.9 204.6l3.8 .6-2.1-5.4-3.8-.6z"/><path d="M160.1 203.6l3.8 1-2.1-5.4-3.7-1z"/></g>
<path fill="#0080ff" d="M156.4 202.3l3.7 1.3-2-5.4-3.8-1.3z"/>
<path fill="#008fff" d="M152.6 200.6l3.8 1.7-2.1-5.4-3.8-1.7z"/>
<path fill="#009fff" d="M148.8 198.6l3.8 2-2.1-5.4-3.7-2.1z"/>
<path fill="#00afff" d="M145.1 196.1l3.7 2.5-2-5.5-3.8-2.4z"/>
<path fill="#00cfff" d="M141.3 193.4l3.8 2.7-2.1-5.4-3.8-2.7z"/>
<path fill="#00dfff" d="M137.5 190.2l3.8 3.2-2.1-5.4-3.7-3.2z"/>
<path fill="#0ff" d="M133.8 186.7l3.7 3.5-2-5.4-3.8-3.5z"/>
<path fill="#20ffdf" d="M130 182.9l3.8 3.8-2.1-5.4-3.8-3.8z"/>
<path fill="#40ffbf" d="M126.2 178.7l3.8 4.2-2.1-5.4-3.7-4.2z"/>
<path fill="#60ff9f" d="M122.5 174.1l3.7 4.6-2-5.4-3.8-4.6z"/>
<path fill="#80ff80" d="M118.7 169.2l3.8 4.9-2.1-5.4-3.8-4.9z"/>
<path fill="#afff50" d="M114.9 163.9l3.8 5.3-2.1-5.4-3.7-5.3z"/>
<path fill="#cfff30" d="M111.2 158.2l3.7 5.7-2-5.4-3.8-5.7z"/>
<path fill="#ff0" class="t" d="M107.4 152.2l3.8 6-2.1-5.4-3.8-6z"/>
<path fill="#ffcf00" class="t" d="M103.6 145.9l3.8 6.3-2.1-5.4-3.7-6.3z"/>
<path fill="#ff9f00" class="t" d="M99.8 139.1l3.8 6.8-2-5.4-3.8-6.8z"/>
<path fill="#ffef00" d="M248.8 140.3l3.8-7.3-2-5.1-3.8 7.3z"/>
<path fill="#dfff20" d="M245.1 147.2l3.7-6.9-2-5.1-3.8 7z"/>
<path fill="#afff50" d="M241.3 153.8l3.8-6.6-2.1-5-3.8 6.5z"/>
<path fill="#8fff70" d="M237.5 160l3.8-6.2-2.1-5.1-3.7 6.2z"/>
<path fill="#60ff9f" d="M233.8 165.8l3.7-5.8-2-5.1-3.8 5.9z"/>
<path fill="#40ffbf" d="M230 171.3l3.8-5.5-2.1-5-3.8 5.5z"/>
<path fill="#20ffdf" d="M226.2 176.4l3.8-5.1-2.1-5-3.7 5.1z"/>
<path fill="#0ff" d="M222.5 181.2l3.7-4.8-2-5-3.8 4.8z"/>
<path fill="#00dfff" d="M218.7 185.6l3.8-4.4-2.1-5-3.8 4.4z"/>
<path fill="#00bfff" d="M214.9 189.7l3.8-4.1-2.1-5-3.7 4z"/>
<path fill="#00afff" d="M211.2 193.4l3.7-3.7-2-5.1-3.8 3.7z"/>
<path fill="#008fff" d="M207.4 196.7l3.8-3.3-2.1-5.1-3.8 3.4z"/>
<path fill="#0080ff" d="M203.6 199.7l3.8-3-2.1-5-3.7 2.9z"/>
<path fill="#0070ff" d="M199.9 202.3l3.7-2.6-2-5.1-3.8 2.6z"/>
<path fill="#0060ff" d="M196.1 204.6l3.8-2.3-2.1-5.1-3.8 2.3z"/>
<g fill="#0050ff"><path d="M192.3 206.4l3.8-1.8-2.1-5.1-3.7 1.9z"/><path d="M188.6 208l3.7-1.6-2-5-3.8 1.5z"/></g>
<g fill="#0040ff"><path d="M184.8 209.2l3.8-1.2-2.1-5.1-3.8 1.2z"/><path d="M181 210l3.8-.8-2.1-5.1-3.7 .8z"/><path d="M177.2 210.4l3.8-.4-2-5.1-3.8 .5z"/><path d="M173.5 210.5l3.7-.1-2-5-3.8 .1z"/><path d="M169.7 210.3l3.8 .2-2.1-5-3.7-.3z"/></g>
<g fill="#0050ff"><path d="M165.9 209.7l3.8 .6-2-5.1-3.8-.6z"/><path d="M162.2 208.7l3.7 1-2-5.1-3.8-1z"/></g>
<path fill="#0060ff" d="M158.4 207.4l3.8 1.3-2.1-5.1-3.7-1.3z"/>
<path fill="#0070ff" d="M154.6 205.7l3.8 1.7-2-5.1-3.8-1.7z"/>
<path fill="#0080ff" d="M150.9 203.6l3.7 2.1-2-5.1-3.8-2z"/>
<path fill="#008fff" d="M147.1 201.2l3.8 2.4-2.1-5-3.7-2.5z"/>
<path fill="#00afff" d="M143.3 198.4l3.8 2.8-2-5.1-3.8-2.7z"/>
<path fill="#00bfff" d="M139.6 195.3l3.7 3.1-2-5-3.8-3.2z"/>
<path fill="#00dfff" d="M135.8 191.8l3.8 3.5-2.1-5.1-3.7-3.5z"/>
<path fill="#0ff" d="M132 187.9l3.8 3.9-2-5.1-3.8-3.8z"/>
<path fill="#20ffdf" d="M128.3 183.7l3.7 4.2-2-5-3.8-4.2z"/>
<path fill="#40ffbf" d="M124.5 179.2l3.8 4.5-2.1-5-3.7-4.6z"/>
<path fill="#60ff9f" d="M120.7 174.2l3.8 5-2-5.1-3.8-4.9z"/>
<path fill="#8fff70" class="t" d="M117 168.9l3.7 5.3-2-5-3.8-5.3z"/>
<path fill="#afff50" class="t" d="M113.2 163.3l3.8 5.6-2.1-5-3.7-5.7z"/>
<path fill="#dfff20" class="t" d="M109.4 157.3l3.8 6-2-5.1-3.8-6z"/>
<path fill="#ffef00" class="t" d="M105.7 150.9l3.7 6.4-2-5.1-3.8-6.3z"/>
<path fill="#ffbf00" class="t" d="M101.9 144.2l3.8 6.7-2.1-5-3.8-6.8z"/>
<path fill="#efff10" d="M250.9 145l3.7-7.3-2-4.7-3.8 7.3z"/>
<path fill="#bfff40" d="M247.1 151.9l3.8-6.9-2.1-4.7-3.7 6.9z"/>
<path fill="#8fff70" d="M243.3 158.5l3.8-6.6-2-4.7-3.8 6.6z"/>
<path fill="#70ff8f" d="M239.6 164.7l3.7-6.2-2-4.7-3.8 6.2z"/>
<path fill="#40ffbf" d="M235.8 170.5l3.8-5.8-2.1-4.7-3.7 5.8z"/>
<path fill="#20ffdf" d="M232 176l3.8-5.5-2-4.7-3.8 5.5z"/>
<path fill="#0ff" d="M228.3 181.1l3.7-5.1-2-4.7-3.8 5.1z"/>
<path fill="#00dfff" d="M224.5 185.9l3.8-4.8-2.1-4.7-3.7 4.8z"/>
<path fill="#00bfff" d="M220.7 190.3l3.8-4.4-2-4.7-3.8 4.4z"/>
<path fill="#009fff" d="M217 194.4l3.7-4.1-2-4.7-3.8 4.1z"/>
<path fill="#008fff" d="M213.2 198.1l3.8-3.7-2.1-4.7-3.7 3.7z"/>
<path fill="#0070ff" d="M209.4 201.4l3.8-3.3-2-4.7-3.8 3.3z"/>
<path fill="#0060ff" d="M205.7 204.4l3.7-3-2-4.7-3.8 3z"/>
<path fill="#0050ff" d="M201.9 207l3.8-2.6-2.1-4.7-3.7 2.6z"/>
<path fill="#0040ff" d="M198.1 209.2l3.8-2.2-2-4.7-3.8 2.3z"/>
<g fill="#0030ff"><path d="M194.4 211.1l3.7-1.9-2-4.6-3.8 1.8z"/><path d="M190.6 212.7l3.8-1.6-2.1-4.7-3.7 1.6z"/><path d="M186.8 213.9l3.8-1.2-2-4.7-3.8 1.2z"/></g>
<g fill="#0020ff"><path d="M183.1 214.7l3.7-.8-2-4.7-3.8 .8z"/><path d="M179.3 215.1l3.8-.4-2.1-4.7-3.8 .4z"/><path d="M175.5 215.2l3.8-.1-2.1-4.7-3.7 .1z"/></g>
<g fill="#0030ff"><path d="M171.8 215l3.7 .2-2-4.7-3.8-.2z"/><path d="M168 214.4l3.8 .6-2.1-4.7-3.8-.6z"/><path d="M164.2 213.4l3.8 1-2.1-4.7-3.7-1z"/></g>
<path fill="#0040ff" d="M160.5 212l3.7 1.4-2-4.7-3.8-1.3z"/>
<path fill="#0050ff" d="M156.7 210.3l3.8 1.7-2.1-4.6-3.8-1.7z"/>
<path fill="#0060ff" d="M152.9 208.3l3.8 2-2.1-4.6-3.7-2.1z"/>
<path fill="#0070ff" d="M149.2 205.9l3.7 2.4-2-4.7-3.8-2.4z"/>
<path fill="#008fff" d="M145.4 203.1l3.8 2.8-2.1-4.7-3.8-2.8z"/>
<path fill="#009fff" d="M141.6 200l3.8 3.1-2.1-4.7-3.7-3.1z"/>
<path fill="#00bfff" d="M137.9 196.5l3.7 3.5-2-4.7-3.8-3.5z"/>
<path fill="#00dfff" d="M134.1 192.6l3.8 3.9-2.1-4.7-3.8-3.9z"/>
<path fill="#0ff" d="M130.3 188.4l3.8 4.2-2.1-4.7-3.7-4.2z"/>
<path fill="#20ffdf" d="M126.6 183.8l3.7 4.6-2-4.7-3.8-4.5z"/>
<path fill="#40ffbf" class="t" d="M122.8 178.9l3.8 4.9-2.1-4.6-3.8-5z"/>
<path fill="#70ff8f" class="t" d="M119 173.6l3.8 5.3-2.1-4.7-3.7-5.3z"/>
<path fill="#8fff70" class="t" d="M115.3 168l3.7 5.6-2-4.7-3.8-5.6z"/>
<path fill="#bfff40" class="t" d="M111.5 162l3.8 6-2.1-4.7-3.8-6z"/>
<path fill="#efff10" class="t" d="M107.7 155.6l3.8 6.4-2.1-4.7-3.7-6.4z"/>
<path fill="#ffdf00" class="t" d="M104 148.9l3.7 6.7-2-4.7-3.8-6.7z"/>
<path fill="#cfff30" d="M252.9 149.3l3.8-7.3-2.1-4.3-3.7 7.3z"/>
<path fill="#9fff60" d="M249.2 156.2l3.7-6.9-2-4.3-3.8 6.9z"/>
<path fill="#80ff80" d="M245.4 162.8l3.8-6.6-2.1-4.3-3.8 6.6z"/>
<path fill="#50ffaf" d="M241.6 169l3.8-6.2-2.1-4.3-3.7 6.2z"/>
<path fill="#30ffcf" d="M237.9 174.8l3.7-5.8-2-4.3-3.8 5.8z"/>
<path fill="#0ff" d="M234.1 180.3l3.8-5.5-2.1-4.3-3.8 5.5z"/>
<path fill="#00dfff" d="M230.3 185.5l3.8-5.2-2.1-4.3-3.7 5.1z"/>
<path fill="#00bfff" d="M226.6 190.2l3.7-4.7-2-4.4-3.8 4.8z"/>
<path fill="#009fff" d="M222.8 194.6l3.8-4.4-2.1-4.3-3.8 4.4z"/>
<path fill="#008fff" d="M219 198.7l3.8-4.1-2.1-4.3-3.7 4.1z"/>
<path fill="#0070ff" d="M215.3 202.4l3.7-3.7-2-4.3-3.8 3.7z"/>
<path fill="#0060ff" d="M211.5 205.7l3.8-3.3-2.1-4.3-3.8 3.3z"/>
<path fill="#0040ff" d="M207.7 208.7l3.8-3-2.1-4.3-3.7 3z"/>
<g fill="#0030ff"><path d="M204 211.3l3.7-2.6-2-4.3-3.8 2.6z"/><path d="M200.2 213.6l3.8-2.3-2.1-4.3-3.8 2.2z"/></g>
<path fill="#0020ff" d="M196.4 215.5l3.8-1.9-2.1-4.4-3.7 1.9z"/>
<g fill="#0010ff"><path d="M192.7 217l3.7-1.5-2-4.4-3.8 1.6z"/><path d="M188.9 218.2l3.8-1.2-2.1-4.3-3.8 1.2z"/><path d="M185.1 219l3.8-.8-2.1-4.3-3.7 .8z"/><path d="M181.4 219.5l3.7-.5-2-4.3-3.8 .4z"/><path d="M177.6 219.6l3.8-.1-2.1-4.4-3.8 .1z"/><path d="M173.8 219.3l3.8 .3-2.1-4.4-3.7-.2z"/><path d="M170 218.7l3.8 .6-2-4.3-3.8-.6z"/></g>
<path fill="#0020ff" d="M166.3 217.7l3.7 1-2-4.3-3.8-1z"/>
<g fill="#0030ff"><path d="M162.5 216.4l3.8 1.3-2.1-4.3-3.7-1.4z"/><path d="M158.7 214.7l3.8 1.7-2-4.4-3.8-1.7z"/></g>
<path fill="#0040ff" d="M155 212.6l3.7 2.1-2-4.4-3.8-2z"/>
<path fill="#0060ff" d="M151.2 210.2l3.8 2.4-2.1-4.3-3.7-2.4z"/>
<path fill="#0070ff" d="M147.4 207.4l3.8 2.8-2-4.3-3.8-2.8z"/>
<path fill="#008fff" d="M143.7 204.3l3.7 3.1-2-4.3-3.8-3.1z"/>
<path fill="#009fff" d="M139.9 200.8l3.8 3.5-2.1-4.3-3.7-3.5z"/>
<path fill="#00bfff" d="M136.1 197l3.8 3.8-2-4.3-3.8-3.9z"/>
<path fill="#00dfff" d="M132.4 192.7l3.7 4.3-2-4.4-3.8-4.2z"/>
<path fill="#0ff" class="t" d="M128.6 188.2l3.8 4.5-2.1-4.3-3.7-4.6z"/>
<path fill="#30ffcf" class="t" d="M124.8 183.2l3.8 5-2-4.4-3.8-4.9z"/>
<path fill="#50ffaf" class="t" d="M121.1 178l3.7 5.2-2-4.3-3.8-5.3z"/>
<path fill="#80ff80" class="t" d="M117.3 172.3l3.8 5.7-2.1-4.4-3.7-5.6z"/>
<path fill="#9fff60" class="t" d="M113.5 166.3l3.8 6-2-4.3-3.8-6z"/>
<path fill="#cfff30" class="t" d="M109.8 159.9l3.7 6.4-2-4.3-3.8-6.4z"/>
<path fill="#ffef00" class="t" d="M106 153.2l3.8 6.7-2.1-4.3-3.7-6.7z"/>
<path fill="#bfff40" d="M255 153.3l3.8-7.3-2.1-4-3.8 7.3z"/>
<path fill="#8fff70" d="M251.2 160.2l3.8-6.9-2.1-4-3.7 6.9z"/>
<path fill="#60ff9f" d="M247.4 166.8l3.8-6.6-2-4-3.8 6.6z"/>
<path fill="#30ffcf" d="M243.7 173l3.7-6.2-2-4-3.8 6.2z"/>
<path fill="#10ffef" d="M239.9 178.8l3.8-5.8-2.1-4-3.7 5.8z"/>
<path fill="#00efff" d="M236.1 184.3l3.8-5.5-2-4-3.8 5.5z"/>
<path fill="#00cfff" d="M232.4 189.4l3.7-5.1-2-4-3.8 5.2z"/>
<path fill="#00afff" d="M228.6 194.2l3.8-4.8-2.1-3.9-3.7 4.7z"/>
<path fill="#008fff" d="M224.8 198.6l3.8-4.4-2-4-3.8 4.4z"/>
<path fill="#0070ff" d="M221.1 202.7l3.7-4.1-2-4-3.8 4.1z"/>
<path fill="#0050ff" d="M217.3 206.4l3.8-3.7-2.1-4-3.7 3.7z"/>
<path fill="#0040ff" d="M213.5 209.7l3.8-3.3-2-4-3.8 3.3z"/>
<path fill="#0030ff" d="M209.8 212.7l3.7-3-2-4-3.8 3z"/>
<path fill="#0020ff" d="M206 215.3l3.8-2.6-2.1-4-3.7 2.6z"/>
<path fill="#0010ff" d="M202.2 217.5l3.8-2.2-2-4-3.8 2.3z"/>
<g fill="#00f"><path d="M198.5 219.4l3.7-1.9-2-3.9-3.8 1.9z"/><path d="M194.7 221l3.8-1.6-2.1-3.9-3.7 1.5z"/></g>
<g fill="#0000ef"><path d="M190.9 222.2l3.8-1.2-2-4-3.8 1.2z"/><path d="M187.2 223l3.7-.8-2-4-3.8 .8z"/><path d="M183.4 223.4l3.8-.4-2.1-4-3.7 .5z"/><path d="M179.6 223.5l3.8-.1-2-3.9-3.8 .1z"/><path d="M175.9 223.3l3.7 .2-2-3.9-3.8-.3z"/></g>
<g fill="#00f"><path d="M172.1 222.7l3.8 .6-2.1-4-3.8-.6z"/><path d="M168.3 221.7l3.8 1-2.1-4-3.7-1z"/></g>
<path fill="#0010ff" d="M164.6 220.3l3.7 1.4-2-4-3.8-1.3z"/>
<path fill="#0020ff" d="M160.8 218.6l3.8 1.7-2.1-3.9-3.8-1.7z"/>
<path fill="#0030ff" d="M157 216.6l3.8 2-2.1-3.9-3.7-2.1z"/>
<path fill="#0040ff" d="M153.3 214.2l3.7 2.4-2-4-3.8-2.4z"/>
<path fill="#0050ff" d="M149.5 211.4l3.8 2.8-2.1-4-3.8-2.8z"/>
<path fill="#0070ff" d="M145.7 208.3l3.8 3.1-2.1-4-3.7-3.1z"/>
<path fill="#008fff" d="M142 204.8l3.7 3.5-2-4-3.8-3.5z"/>
<path fill="#00afff" d="M138.2 200.9l3.8 3.9-2.1-4-3.8-3.8z"/>
<path fill="#00cfff" class="t" d="M134.4 196.7l3.8 4.2-2.1-3.9-3.7-4.3z"/>
<path fill="#00efff" class="t" d="M130.7 192.1l3.7 4.6-2-4-3.8-4.5z"/>
<path fill="#10ffef" class="t" d="M126.9 187.2l3.8 4.9-2.1-3.9-3.8-5z"/>
<path fill="#30ffcf" class="t" d="M123.1 181.9l3.8 5.3-2.1-4-3.7-5.2z"/>
<path fill="#60ff9f" class="t" d="M119.4 176.3l3.7 5.6-2-3.9-3.8-5.7z"/>
<path fill="#8fff70" class="t" d="M115.6 170.3l3.8 6-2.1-4-3.8-6z"/>
<path fill="#bfff40" class="t" d="M111.8 163.9l3.8 6.4-2.1-4-3.7-6.4z"/>
<path fill="#efff10" class="t" d="M108 157.2l3.8 6.7-2-4-3.8-6.7z"/>
<path fill="#afff50" d="M257 156.9l3.8-7.3-2-3.6-3.8 7.3z"/>
<path fill="#80ff80" d="M253.3 163.8l3.7-6.9-2-3.6-3.8 6.9z"/>
<path fill="#50ffaf" d="M249.5 170.4l3.8-6.6-2.1-3.6-3.8 6.6z"/>
<path fill="#20ffdf" d="M245.7 176.6l3.8-6.2-2.1-3.6-3.7 6.2z"/>
<path fill="#0ff" d="M242 182.4l3.7-5.8-2-3.6-3.8 5.8z"/>
<path fill="#00cfff" d="M238.2 187.9l3.8-5.5-2.1-3.6-3.8 5.5z"/>
<path fill="#00afff" d="M234.4 193l3.8-5.1-2.1-3.6-3.7 5.1z"/>
<path fill="#008fff" d="M230.7 197.8l3.7-4.8-2-3.6-3.8 4.8z"/>
<path fill="#0070ff" d="M226.9 202.2l3.8-4.4-2.1-3.6-3.8 4.4z"/>
<path fill="#0060ff" d="M223.1 206.3l3.8-4.1-2.1-3.6-3.7 4.1z"/>
<path fill="#0040ff" d="M219.4 210l3.7-3.7-2-3.6-3.8 3.7z"/>
<path fill="#0030ff" d="M215.6 213.3l3.8-3.3-2.1-3.6-3.8 3.3z"/>
<path fill="#0020ff" d="M211.8 216.3l3.8-3-2.1-3.6-3.7 3z"/>
<path fill="#0010ff" d="M208.1 218.9l3.7-2.6-2-3.6-3.8 2.6z"/>
<path fill="#00f" d="M204.3 221.2l3.8-2.3-2.1-3.6-3.8 2.2z"/>
<path fill="#0000ef" d="M200.5 223l3.8-1.8-2.1-3.7-3.7 1.9z"/>
<g fill="#0000df"><path d="M196.8 224.6l3.7-1.6-2-3.6-3.8 1.6z"/><path d="M193 225.8l3.8-1.2-2.1-3.6-3.8 1.2z"/><path d="M189.2 226.6l3.8-.8-2.1-3.6-3.7 .8z"/><path d="M185.4 227l3.8-.4-2-3.6-3.8 .4z"/><path d="M181.7 227.1l3.7-.1-2-3.6-3.8 .1z"/><path d="M177.9 226.9l3.8 .2-2.1-3.6-3.7-.2z"/><path d="M174.1 226.3l3.8 .6-2-3.6-3.8-.6z"/></g>
<path fill="#0000ef" d="M170.4 225.3l3.7 1-2-3.6-3.8-1z"/>
<path fill="#00f" d="M166.6 224l3.8 1.3-2.1-3.6-3.7-1.4z"/>
<path fill="#0010ff" d="M162.8 222.3l3.8 1.7-2-3.7-3.8-1.7z"/>
<path fill="#0020ff" d="M159.1 220.2l3.7 2.1-2-3.7-3.8-2z"/>
<path fill="#0030ff" d="M155.3 217.8l3.8 2.4-2.1-3.6-3.7-2.4z"/>
<path fill="#0040ff" d="M151.5 215l3.8 2.8-2-3.6-3.8-2.8z"/>
<path fill="#0060ff" d="M147.8 211.9l3.7 3.1-2-3.6-3.8-3.1z"/>
<path fill="#0070ff" d="M144 208.4l3.8 3.5-2.1-3.6-3.7-3.5z"/>
<path fill="#008fff" class="t" d="M140.2 204.5l3.8 3.9-2-3.6-3.8-3.9z"/>
<path fill="#00afff" class="t" d="M136.5 200.3l3.7 4.2-2-3.6-3.8-4.2z"/>
<path fill="#00cfff" class="t" d="M132.7 195.8l3.8 4.5-2.1-3.6-3.7-4.6z"/>
<path fill="#0ff" class="t" d="M128.9 190.8l3.8 5-2-3.7-3.8-4.9z"/>
<path fill="#20ffdf" class="t" d="M125.2 185.5l3.7 5.3-2-3.6-3.8-5.3z"/>
<path fill="#50ffaf" class="t" d="M121.4 179.9l3.8 5.6-2.1-3.6-3.7-5.6z"/>
<path fill="#80ff80" class="t" d="M117.6 173.9l3.8 6-2-3.6-3.8-6z"/>
<path fill="#afff50" class="t" d="M113.9 167.5l3.7 6.4-2-3.6-3.8-6.4z"/>
<path fill="#dfff20" class="t" d="M110.1 160.8l3.8 6.7-2.1-3.6-3.8-6.7z"/>
<path fill="#8fff70" d="M259.1 160.1l3.7-7.3-2-3.2-3.8 7.3z"/>
<path fill="#60ff9f" d="M255.3 167.1l3.8-7-2.1-3.2-3.7 6.9z"/>
<path fill="#40ffbf" d="M251.5 173.6l3.8-6.5-2-3.3-3.8 6.6z"/>
<path fill="#10ffef" d="M247.8 179.8l3.7-6.2-2-3.2-3.8 6.2z"/>
<path fill="#00dfff" d="M244 185.7l3.8-5.9-2.1-3.2-3.7 5.8z"/>
<path fill="#00bfff" d="M240.2 191.2l3.8-5.5-2-3.3-3.8 5.5z"/>
<path fill="#009fff" d="M236.5 196.3l3.7-5.1-2-3.3-3.8 5.1z"/>
<path fill="#0080ff" d="M232.7 201.1l3.8-4.8-2.1-3.3-3.7 4.8z"/>
<path fill="#0060ff" d="M228.9 205.5l3.8-4.4-2-3.3-3.8 4.4z"/>
<path fill="#0040ff" d="M225.2 209.5l3.7-4-2-3.3-3.8 4.1z"/>
<path fill="#0030ff" d="M221.4 213.2l3.8-3.7-2.1-3.2-3.7 3.7z"/>
<path fill="#0020ff" d="M217.6 216.6l3.8-3.4-2-3.2-3.8 3.3z"/>
<path fill="#00f" d="M213.9 219.5l3.7-2.9-2-3.3-3.8 3z"/>
<path fill="#0000ef" d="M210.1 222.1l3.8-2.6-2.1-3.2-3.7 2.6z"/>
<g fill="#0000df"><path d="M206.3 224.4l3.8-2.3-2-3.2-3.8 2.3z"/><path d="M202.6 226.3l3.7-1.9-2-3.2-3.8 1.8z"/></g>
<g fill="#0000cf"><path d="M198.8 227.8l3.8-1.5-2.1-3.3-3.7 1.6z"/><path d="M195 229l3.8-1.2-2-3.2-3.8 1.2z"/><path d="M191.3 229.8l3.7-.8-2-3.2-3.8 .8z"/></g>
<path fill="#0000bf" d="M187.5 230.3l3.8-.5-2.1-3.2-3.8 .4z"/>
<g fill="#0000cf"><path d="M183.7 230.4l3.8-.1-2.1-3.3-3.7 .1z"/><path d="M180 230.1l3.7 .3-2-3.3-3.8-.2z"/><path d="M176.2 229.5l3.8 .6-2.1-3.2-3.8-.6z"/></g>
<g fill="#0000df"><path d="M172.4 228.5l3.8 1-2.1-3.2-3.7-1z"/><path d="M168.7 227.2l3.7 1.3-2-3.2-3.8-1.3z"/></g>
<path fill="#0000ef" d="M164.9 225.5l3.8 1.7-2.1-3.2-3.8-1.7z"/>
<path fill="#00f" d="M161.1 223.5l3.8 2-2.1-3.2-3.7-2.1z"/>
<path fill="#0020ff" d="M157.4 221l3.7 2.5-2-3.3-3.8-2.4z"/>
<path fill="#0030ff" d="M153.6 218.3l3.8 2.7-2.1-3.2-3.8-2.8z"/>
<path fill="#0040ff" class="t" d="M149.8 215.1l3.8 3.2-2.1-3.3-3.7-3.1z"/>
<path fill="#0060ff" class="t" d="M146.1 211.6l3.7 3.5-2-3.2-3.8-3.5z"/>
<path fill="#0080ff" class="t" d="M142.3 207.8l3.8 3.8-2.1-3.2-3.8-3.9z"/>
<path fill="#009fff" class="t" d="M138.5 203.6l3.8 4.2-2.1-3.3-3.7-4.2z"/>
<path fill="#00bfff" class="t" d="M134.8 199l3.7 4.6-2-3.3-3.8-4.5z"/>
<path fill="#00dfff" class="t" d="M131 194.1l3.8 4.9-2.1-3.2-3.8-5z"/>
<path fill="#10ffef" class="t" d="M127.2 188.8l3.8 5.3-2.1-3.3-3.7-5.3z"/>
<path fill="#40ffbf" class="t" d="M123.5 183.1l3.7 5.7-2-3.3-3.8-5.6z"/>
<path fill="#60ff9f" class="t" d="M119.7 177.1l3.8 6-2.1-3.2-3.8-6z"/>
<path fill="#8fff70" class="t" d="M115.9 170.8l3.8 6.3-2.1-3.2-3.7-6.4z"/>
<path fill="#bfff40" class="t" d="M112.2 164l3.7 6.8-2-3.3-3.8-6.7z"/>
<path fill="#80ff80" d="M261.1 163l3.8-7.3-2.1-2.9-3.7 7.3z"/>
<path fill="#50ffaf" d="M257.4 170l3.7-7-2-2.9-3.8 7z"/>
<path fill="#30ffcf" d="M253.6 176.5l3.8-6.5-2.1-2.9-3.8 6.5z"/>
<path fill="#0ff" d="M249.8 182.7l3.8-6.2-2.1-2.9-3.7 6.2z"/>
<path fill="#00cfff" d="M246.1 188.6l3.7-5.9-2-2.9-3.8 5.9z"/>
<path fill="#00afff" d="M242.3 194.1l3.8-5.5-2.1-2.9-3.8 5.5z"/>
<path fill="#008fff" d="M238.5 199.2l3.8-5.1-2.1-2.9-3.7 5.1z"/>
<path fill="#0070ff" d="M234.8 204l3.7-4.8-2-2.9-3.8 4.8z"/>
<path fill="#0050ff" d="M231 208.4l3.8-4.4-2.1-2.9-3.8 4.4z"/>
<path fill="#0030ff" d="M227.2 212.4l3.8-4-2.1-2.9-3.7 4z"/>
<path fill="#0020ff" d="M223.5 216.1l3.7-3.7-2-2.9-3.8 3.7z"/>
<path fill="#0010ff" d="M219.7 219.5l3.8-3.4-2.1-2.9-3.8 3.4z"/>
<path fill="#0000ef" d="M215.9 222.4l3.8-2.9-2.1-2.9-3.7 2.9z"/>
<path fill="#0000df" d="M212.2 225l3.7-2.6-2-2.9-3.8 2.6z"/>
<g fill="#0000cf"><path d="M208.4 227.3l3.8-2.3-2.1-2.9-3.8 2.3z"/><path d="M204.6 229.2l3.8-1.9-2.1-2.9-3.7 1.9z"/></g>
<g fill="#0000bf"><path d="M200.9 230.7l3.7-1.5-2-2.9-3.8 1.5z"/><path d="M197.1 231.9l3.8-1.2-2.1-2.9-3.8 1.2z"/></g>
<g fill="#0000af"><path d="M193.3 232.7l3.8-.8-2.1-2.9-3.7 .8z"/><path d="M189.5 233.2l3.8-.5-2-2.9-3.8 .5z"/><path d="M185.8 233.3l3.7-.1-2-2.9-3.8 .1z"/></g>
<g fill="#0000bf"><path d="M182 233l3.8 .3-2.1-2.9-3.7-.3z"/><path d="M178.2 232.4l3.8 .6-2-2.9-3.8-.6z"/></g>
<g fill="#0000cf"><path d="M174.5 231.4l3.7 1-2-2.9-3.8-1z"/><path d="M170.7 230.1l3.8 1.3-2.1-2.9-3.7-1.3z"/></g>
<path fill="#0000df" d="M166.9 228.4l3.8 1.7-2-2.9-3.8-1.7z"/>
<path fill="#0000ef" d="M163.2 226.3l3.7 2.1-2-2.9-3.8-2z"/>
<path fill="#00f" d="M159.4 223.9l3.8 2.4-2.1-2.8-3.7-2.5z"/>
<path fill="#0020ff" class="t" d="M155.6 221.2l3.8 2.7-2-2.9-3.8-2.7z"/>
<path fill="#0030ff" class="t" d="M151.9 218l3.7 3.2-2-2.9-3.8-3.2z"/>
<path fill="#0050ff" class="t" d="M148.1 214.5l3.8 3.5-2.1-2.9-3.7-3.5z"/>
<path fill="#0070ff" class="t" d="M144.3 210.7l3.8 3.8-2-2.9-3.8-3.8z"/>
<path fill="#008fff" class="t" d="M140.6 206.5l3.7 4.2-2-2.9-3.8-4.2z"/>
<path fill="#00afff" class="t" d="M136.8 201.9l3.8 4.6-2.1-2.9-3.7-4.6z"/>
<path fill="#00cfff" class="t" d="M133 197l3.8 4.9-2-2.9-3.8-4.9z"/>
<path fill="#0ff" class="t" d="M129.3 191.7l3.7 5.3-2-2.9-3.8-5.3z"/>
<path fill="#30ffcf" class="t" d="M125.5 186l3.8 5.7-2.1-2.9-3.7-5.7z"/>
<path fill="#50ffaf" class="t" d="M121.7 180l3.8 6-2-2.9-3.8-6z"/>
<path fill="#80ff80" class="t" d="M118 173.7l3.7 6.3-2-2.9-3.8-6.3z"/>
<path fill="#afff50" class="t" d="M114.2 166.9l3.8 6.8-2.1-2.9-3.7-6.8z"/>
<path fill="#70ff8f" d="M263.2 165.6l3.8-7.3-2.1-2.6-3.8 7.3z"/>
<path fill="#40ffbf" d="M259.4 172.5l3.8-6.9-2.1-2.6-3.7 7z"/>
<path fill="#20ffdf" d="M255.6 179.1l3.8-6.6-2-2.5-3.8 6.5z"/>
<path fill="#00efff" d="M251.9 185.3l3.7-6.2-2-2.6-3.8 6.2z"/>
<path fill="#00cfff" d="M248.1 191.1l3.8-5.8-2.1-2.6-3.7 5.9z"/>
<path fill="#009fff" d="M244.3 196.6l3.8-5.5-2-2.5-3.8 5.5z"/>
<path fill="#0080ff" d="M240.6 201.7l3.7-5.1-2-2.5-3.8 5.1z"/>
<path fill="#0060ff" d="M236.8 206.5l3.8-4.8-2.1-2.5-3.7 4.8z"/>
<path fill="#0040ff" d="M233 210.9l3.8-4.4-2-2.5-3.8 4.4z"/>
<path fill="#0030ff" d="M229.3 215l3.7-4.1-2-2.5-3.8 4z"/>
<path fill="#0010ff" d="M225.5 218.7l3.8-3.7-2.1-2.6-3.7 3.7z"/>
<path fill="#00f" d="M221.7 222l3.8-3.3-2-2.6-3.8 3.4z"/>
<path fill="#0000df" d="M218 225l3.7-3-2-2.5-3.8 2.9z"/>
<g fill="#0000cf"><path d="M214.2 227.6l3.8-2.6-2.1-2.6-3.7 2.6z"/><path d="M210.4 229.8l3.8-2.2-2-2.6-3.8 2.3z"/></g>
<path fill="#0000bf" d="M206.7 231.7l3.7-1.9-2-2.5-3.8 1.9z"/>
<g fill="#0000af"><path d="M202.9 233.3l3.8-1.6-2.1-2.5-3.7 1.5z"/><path d="M199.1 234.4l3.8-1.1-2-2.6-3.8 1.2z"/><path d="M195.4 235.3l3.7-.9-2-2.5-3.8 .8z"/><path d="M191.6 235.7l3.8-.4-2.1-2.6-3.8 .5z"/><path d="M187.8 235.8l3.8-.1-2.1-2.5-3.7 .1z"/><path d="M184.1 235.6l3.7 .2-2-2.5-3.8-.3z"/><path d="M180.3 234.9l3.8 .7-2.1-2.6-3.8-.6z"/></g>
<path fill="#0000bf" d="M176.5 234l3.8 .9-2.1-2.5-3.7-1z"/>
<g fill="#0000cf"><path d="M172.8 232.6l3.7 1.4-2-2.6-3.8-1.3z"/><path d="M169 230.9l3.8 1.7-2.1-2.5-3.8-1.7z"/></g>
<path fill="#0000df" d="M165.2 228.9l3.8 2-2.1-2.5-3.7-2.1z"/>
<path fill="#00f" class="t" d="M161.5 226.5l3.7 2.4-2-2.6-3.8-2.4z"/>
<path fill="#0010ff" class="t" d="M157.7 223.7l3.8 2.8-2.1-2.6-3.8-2.7z"/>
<path fill="#0030ff" class="t" d="M153.9 220.6l3.8 3.1-2.1-2.5-3.7-3.2z"/>
<path fill="#0040ff" class="t" d="M150.2 217.1l3.7 3.5-2-2.6-3.8-3.5z"/>
<path fill="#0060ff" class="t" d="M146.4 213.2l3.8 3.9-2.1-2.6-3.8-3.8z"/>
<path fill="#0080ff" class="t" d="M142.6 209l3.8 4.2-2.1-2.5-3.7-4.2z"/>
<path fill="#009fff" class="t" d="M138.9 204.4l3.7 4.6-2-2.5-3.8-4.6z"/>
<path fill="#00cfff" class="t" d="M135.1 199.5l3.8 4.9-2.1-2.5-3.8-4.9z"/>
<path fill="#00efff" class="t" d="M131.3 194.2l3.8 5.3-2.1-2.5-3.7-5.3z"/>
<path fill="#20ffdf" class="t" d="M127.6 188.6l3.7 5.6-2-2.5-3.8-5.7z"/>
<path fill="#40ffbf" class="t" d="M123.8 182.6l3.8 6-2.1-2.6-3.8-6z"/>
<path fill="#70ff8f" class="t" d="M120 176.2l3.8 6.4-2.1-2.6-3.7-6.3z"/>
<path fill="#afff50" class="t" d="M116.2 169.5l3.8 6.7-2-2.5-3.8-6.8z"/>
<path fill="#70ff8f" d="M265.2 167.7l3.8-7.3-2-2.1-3.8 7.3z"/>
<path fill="#40ffbf" d="M261.5 174.7l3.7-7-2-2.1-3.8 6.9z"/>
<path fill="#10ffef" d="M257.7 181.2l3.8-6.5-2.1-2.2-3.8 6.6z"/>
<path fill="#00dfff" d="M253.9 187.4l3.8-6.2-2.1-2.1-3.7 6.2z"/>
<path fill="#00bfff" d="M250.2 193.3l3.7-5.9-2-2.1-3.8 5.8z"/>
<path fill="#008fff" d="M246.4 198.8l3.8-5.5-2.1-2.2-3.8 5.5z"/>
<path fill="#0070ff" d="M242.6 203.9l3.8-5.1-2.1-2.2-3.7 5.1z"/>
<path fill="#0050ff" d="M238.9 208.7l3.7-4.8-2-2.2-3.8 4.8z"/>
<path fill="#0030ff" d="M235.1 213.1l3.8-4.4-2.1-2.2-3.8 4.4z"/>
<path fill="#0020ff" d="M231.3 217.1l3.8-4-2.1-2.2-3.7 4.1z"/>
<path fill="#00f" d="M227.6 220.8l3.7-3.7-2-2.1-3.8 3.7z"/>
<path fill="#0000ef" d="M223.8 224.2l3.8-3.4-2.1-2.1-3.8 3.3z"/>
<path fill="#0000df" d="M220 227.1l3.8-2.9-2.1-2.2-3.7 3z"/>
<path fill="#0000cf" d="M216.3 229.7l3.7-2.6-2-2.1-3.8 2.6z"/>
<path fill="#0000bf" d="M212.5 232l3.8-2.3-2.1-2.1-3.8 2.2z"/>
<g fill="#0000af"><path d="M208.7 233.9l3.8-1.9-2.1-2.2-3.7 1.9z"/><path d="M205 235.4l3.7-1.5-2-2.2-3.8 1.6z"/></g>
<g fill="#00009f"><path d="M201.2 236.6l3.8-1.2-2.1-2.1-3.8 1.1z"/><path d="M197.4 237.4l3.8-.8-2.1-2.2-3.7 .9z"/><path d="M193.6 237.9l3.8-.5-2-2.1-3.8 .4z"/><path d="M189.9 238l3.7-.1-2-2.2-3.8 .1z"/><path d="M186.1 237.7l3.8 .3-2.1-2.2-3.7-.2z"/></g>
<g fill="#0000af"><path d="M182.3 237.1l3.8 .6-2-2.1-3.8-.7z"/><path d="M178.6 236.1l3.7 1-2-2.2-3.8-.9z"/></g>
<path fill="#0000bf" d="M174.8 234.8l3.8 1.3-2.1-2.1-3.7-1.4z"/>
<path fill="#0000cf" class="t" d="M171 233.1l3.8 1.7-2-2.2-3.8-1.7z"/>
<path fill="#0000df" class="t" d="M167.3 231.1l3.7 2-2-2.2-3.8-2z"/>
<path fill="#0000ef" class="t" d="M163.5 228.6l3.8 2.5-2.1-2.2-3.7-2.4z"/>
<path fill="#00f" class="t" d="M159.7 225.9l3.8 2.7-2-2.1-3.8-2.8z"/>
<path fill="#0020ff" class="t" d="M156 222.7l3.7 3.2-2-2.2-3.8-3.1z"/>
<path fill="#0030ff" class="t" d="M152.2 219.2l3.8 3.5-2.1-2.1-3.7-3.5z"/>
<path fill="#0050ff" class="t" d="M148.4 215.4l3.8 3.8-2-2.1-3.8-3.9z"/>
<path fill="#0070ff" class="t" d="M144.7 211.2l3.7 4.2-2-2.2-3.8-4.2z"/>
<path fill="#008fff" class="t" d="M140.9 206.6l3.8 4.6-2.1-2.2-3.7-4.6z"/>
<path fill="#00bfff" class="t" d="M137.1 201.7l3.8 4.9-2-2.2-3.8-4.9z"/>
<path fill="#00dfff" class="t" d="M133.4 196.4l3.7 5.3-2-2.2-3.8-5.3z"/>
<path fill="#10ffef" class="t" d="M129.6 190.7l3.8 5.7-2.1-2.2-3.7-5.6z"/>
<path fill="#40ffbf" class="t" d="M125.8 184.7l3.8 6-2-2.1-3.8-6z"/>
<path fill="#70ff8f" class="t" d="M122.1 178.4l3.7 6.3-2-2.1-3.8-6.4z"/>
<path fill="#9fff60" class="t" d="M118.3 171.6l3.8 6.8-2.1-2.2-3.8-6.7z"/>
<path fill="#60ff9f" d="M267.3 169.5l3.7-7.2-2-1.9-3.8 7.3z"/>
<path fill="#30ffcf" d="M263.5 176.5l3.8-7-2.1-1.8-3.7 7z"/>
<path fill="#0ff" d="M259.7 183l3.8-6.5-2-1.8-3.8 6.5z"/>
<path fill="#00dfff" d="M256 189.2l3.7-6.2-2-1.8-3.8 6.2z"/>
<path fill="#00afff" d="M252.2 195.1l3.8-5.9-2.1-1.8-3.7 5.9z"/>
<path fill="#008fff" d="M248.4 200.6l3.8-5.5-2-1.8-3.8 5.5z"/>
<path fill="#0070ff" d="M244.7 205.7l3.7-5.1-2-1.8-3.8 5.1z"/>
<path fill="#0050ff" d="M240.9 210.5l3.8-4.8-2.1-1.8-3.7 4.8z"/>
<path fill="#0030ff" d="M237.1 214.9l3.8-4.4-2-1.8-3.8 4.4z"/>
<path fill="#0010ff" d="M233.4 218.9l3.7-4-2-1.8-3.8 4z"/>
<path fill="#00f" d="M229.6 222.6l3.8-3.7-2.1-1.8-3.7 3.7z"/>
<path fill="#0000df" d="M225.8 226l3.8-3.4-2-1.8-3.8 3.4z"/>
<path fill="#0000cf" d="M222.1 228.9l3.7-2.9-2-1.8-3.8 2.9z"/>
<path fill="#0000bf" d="M218.3 231.6l3.8-2.7-2.1-1.8-3.7 2.6z"/>
<g fill="#0000af"><path d="M214.5 233.8l3.8-2.2-2-1.9-3.8 2.3z"/><path d="M210.8 235.7l3.7-1.9-2-1.8-3.8 1.9z"/></g>
<g fill="#00009f"><path d="M207 237.3l3.8-1.6-2.1-1.8-3.7 1.5z"/><path d="M203.2 238.4l3.8-1.1-2-1.9-3.8 1.2z"/></g>
<g fill="#00008f"><path d="M199.5 239.3l3.7-.9-2-1.8-3.8 .8z"/><path d="M195.7 239.7l3.8-.4-2.1-1.9-3.8 .5z"/><path d="M191.9 239.8l3.8-.1-2.1-1.8-3.7 .1z"/></g>
<g fill="#00009f"><path d="M188.2 239.6l3.7 .2-2-1.8-3.8-.3z"/><path d="M184.4 238.9l3.8 .7-2.1-1.9-3.8-.6z"/></g>
<g fill="#0000af"><path d="M180.6 238l3.8 .9-2.1-1.8-3.7-1z"/><path class="t" d="M176.9 236.6l3.7 1.4-2-1.9-3.8-1.3z"/></g>
<path fill="#0000bf" class="t" d="M173.1 234.9l3.8 1.7-2.1-1.8-3.8-1.7z"/>
<path fill="#0000cf" class="t" d="M169.3 232.9l3.8 2-2.1-1.8-3.7-2z"/>
<path fill="#0000df" class="t" d="M165.6 230.5l3.7 2.4-2-1.8-3.8-2.5z"/>
<path fill="#00f" class="t" d="M161.8 227.7l3.8 2.8-2.1-1.9-3.8-2.7z"/>
<path fill="#0010ff" class="t" d="M158 224.5l3.8 3.2-2.1-1.8-3.7-3.2z"/>
<path fill="#0030ff" class="t" d="M154.3 221.1l3.7 3.4-2-1.8-3.8-3.5z"/>
<path fill="#0050ff" class="t" d="M150.5 217.2l3.8 3.9-2.1-1.9-3.8-3.8z"/>
<path fill="#0070ff" class="t" d="M146.7 213l3.8 4.2-2.1-1.8-3.7-4.2z"/>
<path fill="#008fff" class="t" d="M143 208.4l3.7 4.6-2-1.8-3.8-4.6z"/>
<path fill="#00afff" class="t" d="M139.2 203.5l3.8 4.9-2.1-1.8-3.8-4.9z"/>
<path fill="#00dfff" class="t" d="M135.4 198.2l3.8 5.3-2.1-1.8-3.7-5.3z"/>
<path fill="#0ff" class="t" d="M131.7 192.6l3.7 5.6-2-1.8-3.8-5.7z"/>
<path fill="#30ffcf" class="t" d="M127.9 186.6l3.8 6-2.1-1.9-3.8-6z"/>
<path fill="#60ff9f" class="t" d="M124.1 180.2l3.8 6.4-2.1-1.9-3.7-6.3z"/>
<path fill="#8fff70" class="t" d="M120.4 173.5l3.7 6.7-2-1.8-3.8-6.8z"/>
<path fill="#60ff9f" d="M269.3 171l3.8-7.3-2.1-1.4-3.7 7.2z"/>
<path fill="#30ffcf" d="M265.6 177.9l3.7-6.9-2-1.5-3.8 7z"/>
<path fill="#0ff" d="M261.8 184.5l3.8-6.6-2.1-1.4-3.8 6.5z"/>
<path fill="#00cfff" d="M258 190.7l3.8-6.2-2.1-1.5-3.7 6.2z"/>
<path fill="#00afff" d="M254.3 196.6l3.7-5.9-2-1.5-3.8 5.9z"/>
<path fill="#008fff" d="M250.5 202l3.8-5.4-2.1-1.5-3.8 5.5z"/>
<path fill="#0060ff" d="M246.7 207.2l3.8-5.2-2.1-1.4-3.7 5.1z"/>
<path fill="#0040ff" d="M243 211.9l3.7-4.7-2-1.5-3.8 4.8z"/>
<path fill="#0030ff" d="M239.2 216.4l3.8-4.5-2.1-1.4-3.8 4.4z"/>
<path fill="#0010ff" d="M235.4 220.4l3.8-4-2.1-1.5-3.7 4z"/>
<path fill="#0000ef" d="M231.7 224.1l3.7-3.7-2-1.5-3.8 3.7z"/>
<path fill="#0000df" d="M227.9 227.4l3.8-3.3-2.1-1.5-3.8 3.4z"/>
<path fill="#0000cf" d="M224.1 230.4l3.8-3-2.1-1.4-3.7 2.9z"/>
<path fill="#0000bf" d="M220.4 233l3.7-2.6-2-1.5-3.8 2.7z"/>
<path fill="#0000af" d="M216.6 235.3l3.8-2.3-2.1-1.4-3.8 2.2z"/>
<g fill="#00009f"><path d="M212.8 237.2l3.8-1.9-2.1-1.5-3.7 1.9z"/><path d="M209.1 238.7l3.7-1.5-2-1.5-3.8 1.6z"/></g>
<g fill="#00008f"><path d="M205.3 239.9l3.8-1.2-2.1-1.4-3.8 1.1z"/><path d="M201.5 240.7l3.8-.8-2.1-1.5-3.7 .9z"/><path d="M197.8 241.2l3.7-.5-2-1.4-3.8 .4z"/><path d="M194 241.3l3.8-.1-2.1-1.5-3.8 .1z"/><path d="M190.2 241l3.8 .3-2.1-1.5-3.7-.2z"/></g>
<g fill="#00009f"><path class="t" d="M186.4 240.4l3.8 .6-2-1.4-3.8-.7z"/><path class="t" d="M182.7 239.4l3.7 1-2-1.5-3.8-.9z"/></g>
<path fill="#0000af" class="t" d="M178.9 238.1l3.8 1.3-2.1-1.4-3.7-1.4z"/>
<path fill="#0000bf" class="t" d="M175.1 236.4l3.8 1.7-2-1.5-3.8-1.7z"/>
<path fill="#0000cf" class="t" d="M171.4 234.3l3.7 2.1-2-1.5-3.8-2z"/>
<path fill="#0000df" class="t" d="M167.6 231.9l3.8 2.4-2.1-1.4-3.7-2.4z"/>
<path fill="#0000ef" class="t" d="M163.8 229.1l3.8 2.8-2-1.4-3.8-2.8z"/>
<path fill="#0010ff" class="t" d="M160.1 226l3.7 3.1-2-1.4-3.8-3.2z"/>
<path fill="#0030ff" class="t" d="M156.3 222.5l3.8 3.5-2.1-1.5-3.7-3.4z"/>
<path fill="#0040ff" class="t" d="M152.5 218.7l3.8 3.8-2-1.4-3.8-3.9z"/>
<path fill="#0060ff" class="t" d="M148.8 214.4l3.7 4.3-2-1.5-3.8-4.2z"/>
<path fill="#0080ff" class="t" d="M145 209.9l3.8 4.5-2.1-1.4-3.7-4.6z"/>
<path fill="#00afff" class="t" d="M141.2 205l3.8 4.9-2-1.5-3.8-4.9z"/>
<path fill="#00cfff" class="t" d="M137.5 199.7l3.7 5.3-2-1.5-3.8-5.3z"/>
<path fill="#0ff" class="t" d="M133.7 194l3.8 5.7-2.1-1.5-3.7-5.6z"/>
<path fill="#30ffcf" d="M129.9 188l3.8 6-2-1.4-3.8-6z"/>
<path fill="#60ff9f" d="M126.2 181.6l3.7 6.4-2-1.4-3.8-6.4z"/>
<path fill="#8fff70" d="M122.4 174.9l3.8 6.7-2.1-1.4-3.7-6.7z"/>
<path fill="#50ffaf" d="M271.4 172.1l3.8-7.3-2.1-1.1-3.8 7.3z"/>
<path fill="#30ffcf" d="M267.6 179l3.8-6.9-2.1-1.1-3.7 6.9z"/>
<path fill="#0ff" d="M263.8 185.6l3.8-6.6-2-1.1-3.8 6.6z"/>
<path fill="#00cfff" d="M260.1 191.8l3.7-6.2-2-1.1-3.8 6.2z"/>
<path fill="#00afff" d="M256.3 197.6l3.8-5.8-2.1-1.1-3.7 5.9z"/>
<path fill="#0080ff" d="M252.5 203.1l3.8-5.5-2-1-3.8 5.4z"/>
<path fill="#0060ff" d="M248.8 208.3l3.7-5.2-2-1.1-3.8 5.2z"/>
<path fill="#0040ff" d="M245 213l3.8-4.7-2.1-1.1-3.7 4.7z"/>
<path fill="#0020ff" d="M241.2 217.4l3.8-4.4-2-1.1-3.8 4.5z"/>
<path fill="#0010ff" d="M237.5 221.5l3.7-4.1-2-1-3.8 4z"/>
<path fill="#0000ef" d="M233.7 225.2l3.8-3.7-2.1-1.1-3.7 3.7z"/>
<path fill="#0000df" d="M229.9 228.5l3.8-3.3-2-1.1-3.8 3.3z"/>
<path fill="#0000cf" d="M226.2 231.5l3.7-3-2-1.1-3.8 3z"/>
<g fill="#0000af"><path d="M222.4 234.1l3.8-2.6-2.1-1.1-3.7 2.6z"/><path d="M218.6 236.4l3.8-2.3-2-1.1-3.8 2.3z"/></g>
<path fill="#00009f" d="M214.9 238.3l3.7-1.9-2-1.1-3.8 1.9z"/>
<g fill="#00008f"><path d="M211.1 239.8l3.8-1.5-2.1-1.1-3.7 1.5z"/><path d="M207.3 241l3.8-1.2-2-1.1-3.8 1.2z"/><path d="M203.6 241.8l3.7-.8-2-1.1-3.8 .8z"/><path d="M199.8 242.3l3.8-.5-2.1-1.1-3.7 .5z"/><path d="M196 242.4l3.8-.1-2-1.1-3.8 .1z"/><path class="t" d="M192.3 242.1l3.7 .3-2-1.1-3.8-.3z"/><path class="t" d="M188.5 241.5l3.8 .6-2.1-1.1-3.8-.6z"/></g>
<path fill="#00009f" class="t" d="M184.7 240.5l3.8 1-2.1-1.1-3.7-1z"/>
<g fill="#0000af"><path class="t" d="M181 239.2l3.7 1.3-2-1.1-3.8-1.3z"/><path class="t" d="M177.2 237.5l3.8 1.7-2.1-1.1-3.8-1.7z"/></g>
<path fill="#0000bf" class="t" d="M173.4 235.4l3.8 2.1-2.1-1.1-3.7-2.1z"/>
<path fill="#0000df" class="t" d="M169.7 233l3.7 2.4-2-1.1-3.8-2.4z"/>
<path fill="#0000ef" class="t" d="M165.9 230.2l3.8 2.8-2.1-1.1-3.8-2.8z"/>
<path fill="#0010ff" class="t" d="M162.1 227.1l3.8 3.1-2.1-1.1-3.7-3.1z"/>
<path fill="#0020ff" class="t" d="M158.4 223.6l3.7 3.5-2-1.1-3.8-3.5z"/>
<path fill="#0040ff" class="t" d="M154.6 219.8l3.8 3.8-2.1-1.1-3.8-3.8z"/>
<path fill="#0060ff" class="t" d="M150.8 215.5l3.8 4.3-2.1-1.1-3.7-4.3z"/>
<path fill="#0080ff" class="t" d="M147.1 211l3.7 4.5-2-1.1-3.8-4.5z"/>
<path fill="#00afff" d="M143.3 206l3.8 5-2.1-1.1-3.8-4.9z"/>
<path fill="#00cfff" d="M139.5 200.8l3.8 5.2-2.1-1-3.7-5.3z"/>
<path fill="#0ff" d="M135.8 195.1l3.7 5.7-2-1.1-3.8-5.7z"/>
<path fill="#30ffcf" d="M132 189.1l3.8 6-2.1-1.1-3.8-6z"/>
<path fill="#50ffaf" d="M128.2 182.7l3.8 6.4-2.1-1.1-3.7-6.4z"/>
<path fill="#8fff70" d="M124.4 176l3.8 6.7-2-1.1-3.8-6.7z"/>
<path fill="#50ffaf" d="M273.4 172.8l3.8-7.2-2-.8-3.8 7.3z"/>
<path fill="#20ffdf" d="M269.7 179.8l3.7-7-2-.7-3.8 6.9z"/>
<path fill="#0ff" d="M265.9 186.3l3.8-6.5-2.1-.8-3.8 6.6z"/>
<path fill="#00cfff" d="M262.1 192.5l3.8-6.2-2.1-.7-3.7 6.2z"/>
<path fill="#00afff" d="M258.4 198.4l3.7-5.9-2-.7-3.8 5.8z"/>
<path fill="#0080ff" d="M254.6 203.9l3.8-5.5-2.1-.8-3.8 5.5z"/>
<path fill="#0060ff" d="M250.8 209l3.8-5.1-2.1-.8-3.7 5.2z"/>
<path fill="#0040ff" d="M247.1 213.8l3.7-4.8-2-.7-3.8 4.7z"/>
<path fill="#0020ff" d="M243.3 218.2l3.8-4.4-2.1-.8-3.8 4.4z"/>
<path fill="#0010ff" d="M239.5 222.2l3.8-4-2.1-.8-3.7 4.1z"/>
<path fill="#0000ef" d="M235.8 225.9l3.7-3.7-2-.7-3.8 3.7z"/>
<path fill="#0000df" d="M232 229.3l3.8-3.4-2.1-.7-3.8 3.3z"/>
<path fill="#0000bf" d="M228.2 232.2l3.8-2.9-2.1-.8-3.7 3z"/>
<g fill="#0000af"><path d="M224.5 234.9l3.7-2.7-2-.7-3.8 2.6z"/><path d="M220.7 237.1l3.8-2.2-2.1-.8-3.8 2.3z"/></g>
<path fill="#00009f" d="M216.9 239l3.8-1.9-2.1-.7-3.7 1.9z"/>
<g fill="#00008f"><path d="M213.2 240.5l3.7-1.5-2-.7-3.8 1.5z"/><path d="M209.4 241.7l3.8-1.2-2.1-.7-3.8 1.2z"/><path d="M205.6 242.5l3.8-.8-2.1-.7-3.7 .8z"/><path class="t" d="M201.8 243l3.8-.5-2-.7-3.8 .5z"/><path class="t" d="M198.1 243.1l3.7-.1-2-.7-3.8 .1z"/><path class="t" d="M194.3 242.8l3.8 .3-2.1-.7-3.7-.3z"/><path class="t" d="M190.5 242.2l3.8 .6-2-.7-3.8-.6z"/></g>
<path fill="#00009f" class="t" d="M186.8 241.2l3.7 1-2-.7-3.8-1z"/>
<g fill="#0000af"><path class="t" d="M183 239.9l3.8 1.3-2.1-.7-3.7-1.3z"/><path class="t" d="M179.2 238.2l3.8 1.7-2-.7-3.8-1.7z"/></g>
<path fill="#0000bf" class="t" d="M175.5 236.2l3.7 2-2-.7-3.8-2.1z"/>
<path fill="#0000df" class="t" d="M171.7 233.7l3.8 2.5-2.1-.8-3.7-2.4z"/>
<path fill="#0000ef" class="t" d="M167.9 231l3.8 2.7-2-.7-3.8-2.8z"/>
<path fill="#0010ff" class="t" d="M164.2 227.8l3.7 3.2-2-.8-3.8-3.1z"/>
<path fill="#0020ff" class="t" d="M160.4 224.3l3.8 3.5-2.1-.7-3.7-3.5z"/>
<path fill="#0040ff" class="t" d="M156.6 220.5l3.8 3.8-2-.7-3.8-3.8z"/>
<path fill="#0060ff" d="M152.9 216.3l3.7 4.2-2-.7-3.8-4.3z"/>
<path fill="#0080ff" d="M149.1 211.7l3.8 4.6-2.1-.8-3.7-4.5z"/>
<path fill="#00afff" d="M145.3 206.8l3.8 4.9-2-.7-3.8-5z"/>
<path fill="#00cfff" d="M141.6 201.5l3.7 5.3-2-.8-3.8-5.2z"/>
<path fill="#0ff" d="M137.8 195.8l3.8 5.7-2.1-.7-3.7-5.7z"/>
<path fill="#20ffdf" d="M134 189.8l3.8 6-2-.7-3.8-6z"/>
<path fill="#50ffaf" d="M130.3 183.5l3.7 6.3-2-.7-3.8-6.4z"/>
<path fill="#8fff70" d="M126.5 176.8l3.8 6.7-2.1-.8-3.8-6.7z"/>
<path fill="#50ffaf" d="M275.5 173.2l3.7-7.3-2-.3-3.8 7.2z"/>
<path fill="#30ffcf" d="M271.7 180.1l3.8-6.9-2.1-.4-3.7 7z"/>
<path fill="#0ff" d="M267.9 186.7l3.8-6.6-2-.3-3.8 6.5z"/>
<path fill="#00cfff" d="M264.2 192.9l3.7-6.2-2-.4-3.8 6.2z"/>
<path fill="#00afff" d="M260.4 198.8l3.8-5.9-2.1-.4-3.7 5.9z"/>
<path fill="#0080ff" d="M256.6 204.3l3.8-5.5-2-.4-3.8 5.5z"/>
<path fill="#0060ff" d="M252.9 209.4l3.7-5.1-2-.4-3.8 5.1z"/>
<path fill="#0040ff" d="M249.1 214.2l3.8-4.8-2.1-.4-3.7 4.8z"/>
<path fill="#0020ff" d="M245.3 218.6l3.8-4.4-2-.4-3.8 4.4z"/>
<path fill="#0010ff" d="M241.6 222.6l3.7-4-2-.4-3.8 4z"/>
<path fill="#0000ef" d="M237.8 226.3l3.8-3.7-2.1-.4-3.7 3.7z"/>
<path fill="#0000df" d="M234 229.6l3.8-3.3-2-.4-3.8 3.4z"/>
<path fill="#0000cf" d="M230.3 232.6l3.7-3-2-.3-3.8 2.9z"/>
<g fill="#0000af"><path d="M226.5 235.2l3.8-2.6-2.1-.4-3.7 2.7z"/><path d="M222.7 237.5l3.8-2.3-2-.3-3.8 2.2z"/></g>
<path fill="#00009f" d="M219 239.4l3.7-1.9-2-.4-3.8 1.9z"/>
<g fill="#00008f"><path d="M215.2 240.9l3.8-1.5-2.1-.4-3.7 1.5z"/><path class="t" d="M211.4 242.1l3.8-1.2-2-.4-3.8 1.2z"/><path class="t" d="M207.7 242.9l3.7-.8-2-.4-3.8 .8z"/><path class="t" d="M203.9 243.4l3.8-.5-2.1-.4-3.8 .5z"/><path class="t" d="M200.1 243.5l3.8-.1-2.1-.4-3.7 .1z"/><path class="t" d="M196.4 243.2l3.7 .3-2-.4-3.8-.3z"/><path class="t" d="M192.6 242.6l3.8 .6-2.1-.4-3.8-.6z"/></g>
<path fill="#00009f" class="t" d="M188.8 241.6l3.8 1-2.1-.4-3.7-1z"/>
<g fill="#0000af"><path class="t" d="M185.1 240.3l3.7 1.3-2-.4-3.8-1.3z"/><path class="t" d="M181.3 238.6l3.8 1.7-2.1-.4-3.8-1.7z"/></g>
<path fill="#0000bf" class="t" d="M177.5 236.5l3.8 2.1-2.1-.4-3.7-2z"/>
<path fill="#0000df" class="t" d="M173.8 234.1l3.7 2.4-2-.3-3.8-2.5z"/>
<path fill="#0000ef" class="t" d="M170 231.3l3.8 2.8-2.1-.4-3.8-2.7z"/>
<path fill="#0010ff" d="M166.2 228.2l3.8 3.1-2.1-.3-3.7-3.2z"/>
<path fill="#0020ff" d="M162.5 224.7l3.7 3.5-2-.4-3.8-3.5z"/>
<path fill="#0040ff" d="M158.7 220.9l3.8 3.8-2.1-.4-3.8-3.8z"/>
<path fill="#0060ff" d="M154.9 216.7l3.8 4.2-2.1-.4-3.7-4.2z"/>
<path fill="#0080ff" d="M151.2 212.1l3.7 4.6-2-.4-3.8-4.6z"/>
<path fill="#00afff" d="M147.4 207.2l3.8 4.9-2.1-.4-3.8-4.9z"/>
<path fill="#00cfff" d="M143.6 201.9l3.8 5.3-2.1-.4-3.7-5.3z"/>
<path fill="#0ff" d="M139.9 196.2l3.7 5.7-2-.4-3.8-5.7z"/>
<path fill="#30ffcf" d="M136.1 190.2l3.8 6-2.1-.4-3.8-6z"/>
<path fill="#50ffaf" d="M132.3 183.9l3.8 6.3-2.1-.4-3.7-6.3z"/>
<path fill="#8fff70" d="M128.6 177.1l3.7 6.8-2-.4-3.8-6.7z"/>
<path fill="#60ff9f" d="M277.5 173.2l3.8-7.3-2.1 0-3.7 7.3z"/>
<path fill="#30ffcf" d="M273.8 180.2l3.7-7-2 0-3.8 6.9z"/>
<path fill="#0ff" d="M270 186.7l3.8-6.5-2.1-.1-3.8 6.6z"/>
<path fill="#00cfff" d="M266.2 192.9l3.8-6.2-2.1 0-3.7 6.2z"/>
<path fill="#00afff" d="M262.5 198.8l3.7-5.9-2 0-3.8 5.9z"/>
<path fill="#008fff" d="M258.7 204.3l3.8-5.5-2.1 0-3.8 5.5z"/>
<path fill="#0060ff" d="M254.9 209.4l3.8-5.1-2.1 0-3.7 5.1z"/>
<path fill="#0040ff" d="M251.2 214.2l3.7-4.8-2 0-3.8 4.8z"/>
<path fill="#0030ff" d="M247.4 218.6l3.8-4.4-2.1 0-3.8 4.4z"/>
<path fill="#0010ff" d="M243.6 222.6l3.8-4-2.1 0-3.7 4z"/>
<path fill="#0000ef" d="M239.9 226.3l3.7-3.7-2 0-3.8 3.7z"/>
<path fill="#0000df" d="M236.1 229.7l3.8-3.4-2.1 0-3.8 3.3z"/>
<path fill="#0000cf" d="M232.3 232.6l3.8-2.9-2.1-.1-3.7 3z"/>
<path fill="#0000bf" d="M228.6 235.2l3.7-2.6-2 0-3.8 2.6z"/>
<path fill="#0000af" d="M224.8 237.5l3.8-2.3-2.1 0-3.8 2.3z"/>
<g fill="#00009f"><path class="t" d="M221 239.4l3.8-1.9-2.1 0-3.7 1.9z"/><path class="t" d="M217.3 240.9l3.7-1.5-2 0-3.8 1.5z"/></g>
<g fill="#00008f"><path class="t" d="M213.5 242.1l3.8-1.2-2.1 0-3.8 1.2z"/><path class="t" d="M209.7 242.9l3.8-.8-2.1 0-3.7 .8z"/><path class="t" d="M206 243.4l3.7-.5-2 0-3.8 .5z"/><path class="t" d="M202.2 243.5l3.8-.1-2.1 0-3.8 .1z"/><path class="t" d="M198.4 243.2l3.8 .3-2.1 0-3.7-.3z"/></g>
<g fill="#00009f"><path class="t" d="M194.6 242.6l3.8 .6-2 0-3.8-.6z"/><path class="t" d="M190.9 241.6l3.7 1-2 0-3.8-1z"/></g>
<path fill="#0000af" class="t" d="M187.1 240.3l3.8 1.3-2.1 0-3.7-1.3z"/>
<path fill="#0000bf" class="t" d="M183.3 238.6l3.8 1.7-2 0-3.8-1.7z"/>
<path fill="#0000cf" class="t" d="M179.6 236.6l3.7 2-2 0-3.8-2.1z"/>
<path fill="#0000df" d="M175.8 234.1l3.8 2.5-2.1-.1-3.7-2.4z"/>
<path fill="#0000ef" d="M172 231.4l3.8 2.7-2 0-3.8-2.8z"/>
<path fill="#0010ff" d="M168.3 228.2l3.7 3.2-2-.1-3.8-3.1z"/>
<path fill="#0030ff" d="M164.5 224.7l3.8 3.5-2.1 0-3.7-3.5z"/>
<path fill="#0040ff" d="M160.7 220.9l3.8 3.8-2 0-3.8-3.8z"/>
<path fill="#0060ff" d="M157 216.7l3.7 4.2-2 0-3.8-4.2z"/>
<path fill="#0080ff" d="M153.2 212.1l3.8 4.6-2.1 0-3.7-4.6z"/>
<path fill="#00afff" d="M149.4 207.2l3.8 4.9-2 0-3.8-4.9z"/>
<path fill="#00cfff" d="M145.7 201.9l3.7 5.3-2 0-3.8-5.3z"/>
<path fill="#0ff" d="M141.9 196.2l3.8 5.7-2.1 0-3.7-5.7z"/>
<path fill="#30ffcf" d="M138.1 190.2l3.8 6-2 0-3.8-6z"/>
<path fill="#60ff9f" d="M134.4 183.9l3.7 6.3-2 0-3.8-6.3z"/>
<path fill="#8fff70" d="M130.6 177.1l3.8 6.8-2.1 0-3.7-6.8z"/>
<path fill="#60ff9f" d="M279.6 172.9l3.7-7.3-2 .3-3.8 7.3z"/>
<path fill="#30ffcf" d="M275.8 179.8l3.8-6.9-2.1 .3-3.7 7z"/>
<path fill="#0ff" d="M272 186.4l3.8-6.6-2 .4-3.8 6.5z"/>
<path fill="#00dfff" d="M268.3 192.6l3.7-6.2-2 .3-3.8 6.2z"/>
<path fill="#00afff" d="M264.5 198.4l3.8-5.8-2.1 .3-3.7 5.9z"/>
<path fill="#008fff" d="M260.7 203.9l3.8-5.5-2 .4-3.8 5.5z"/>
<path fill="#0070ff" d="M257 209.1l3.7-5.2-2 .4-3.8 5.1z"/>
<path fill="#0050ff" d="M253.2 213.8l3.8-4.7-2.1 .3-3.7 4.8z"/>
<path fill="#0030ff" d="M249.4 218.2l3.8-4.4-2 .4-3.8 4.4z"/>
<path fill="#0010ff" d="M245.7 222.3l3.7-4.1-2 .4-3.8 4z"/>
<path fill="#00f" d="M241.9 226l3.8-3.7-2.1 .3-3.7 3.7z"/>
<path fill="#0000df" d="M238.1 229.3l3.8-3.3-2 .3-3.8 3.4z"/>
<path fill="#0000cf" d="M234.4 232.3l3.7-3-2 .4-3.8 2.9z"/>
<path fill="#0000bf" class="t" d="M230.6 234.9l3.8-2.6-2.1 .3-3.7 2.6z"/>
<g fill="#0000af"><path class="t" d="M226.8 237.2l3.8-2.3-2 .3-3.8 2.3z"/><path class="t" d="M223.1 239.1l3.7-1.9-2 .3-3.8 1.9z"/></g>
<g fill="#00009f"><path class="t" d="M219.3 240.6l3.8-1.5-2.1 .3-3.7 1.5z"/><path class="t" d="M215.5 241.8l3.8-1.2-2 .3-3.8 1.2z"/></g>
<g fill="#00008f"><path class="t" d="M211.8 242.6l3.7-.8-2 .3-3.8 .8z"/><path class="t" d="M208 243.1l3.8-.5-2.1 .3-3.7 .5z"/><path class="t" d="M204.2 243.2l3.8-.1-2 .3-3.8 .1z"/></g>
<g fill="#00009f"><path class="t" d="M200.5 242.9l3.7 .3-2 .3-3.8-.3z"/><path class="t" d="M196.7 242.3l3.8 .6-2.1 .3-3.8-.6z"/><path class="t" d="M192.9 241.3l3.8 1-2.1 .3-3.7-1z"/></g>
<path fill="#0000af" class="t" d="M189.2 240l3.7 1.3-2 .3-3.8-1.3z"/>
<path fill="#0000bf" d="M185.4 238.3l3.8 1.7-2.1 .3-3.8-1.7z"/>
<path fill="#0000cf" d="M181.6 236.2l3.8 2.1-2.1 .3-3.7-2z"/>
<path fill="#0000df" d="M177.9 233.8l3.7 2.4-2 .4-3.8-2.5z"/>
<path fill="#00f" d="M174.1 231l3.8 2.8-2.1 .3-3.8-2.7z"/>
<path fill="#0010ff" d="M170.3 227.9l3.8 3.1-2.1 .4-3.7-3.2z"/>
<path fill="#0030ff" d="M166.6 224.4l3.7 3.5-2 .3-3.8-3.5z"/>
<path fill="#0050ff" d="M162.8 220.5l3.8 3.9-2.1 .3-3.8-3.8z"/>
<path fill="#0070ff" d="M159 216.3l3.8 4.2-2.1 .4-3.7-4.2z"/>
<path fill="#008fff" d="M155.3 211.8l3.7 4.5-2 .4-3.8-4.6z"/>
<path fill="#00afff" d="M151.5 206.8l3.8 5-2.1 .3-3.8-4.9z"/>
<path fill="#00dfff" d="M147.7 201.6l3.8 5.2-2.1 .4-3.7-5.3z"/>
<path fill="#0ff" d="M144 195.9l3.7 5.7-2 .3-3.8-5.7z"/>
<path fill="#30ffcf" d="M140.2 189.9l3.8 6-2.1 .3-3.8-6z"/>
<path fill="#60ff9f" d="M136.4 183.5l3.8 6.4-2.1 .3-3.7-6.3z"/>
<path fill="#8fff70" d="M132.6 176.8l3.8 6.7-2 .4-3.8-6.8z"/>
<path fill="#70ff8f" d="M281.6 172.2l3.8-7.3-2.1 .7-3.7 7.3z"/>
<path fill="#40ffbf" d="M277.9 179.1l3.7-6.9-2 .7-3.8 6.9z"/>
<path fill="#10ffef" d="M274.1 185.7l3.8-6.6-2.1 .7-3.8 6.6z"/>
<path fill="#00dfff" d="M270.3 191.9l3.8-6.2-2.1 .7-3.7 6.2z"/>
<path fill="#00bfff" d="M266.6 197.7l3.7-5.8-2 .7-3.8 5.8z"/>
<path fill="#008fff" d="M262.8 203.2l3.8-5.5-2.1 .7-3.8 5.5z"/>
<path fill="#0070ff" d="M259 208.4l3.8-5.2-2.1 .7-3.7 5.2z"/>
<path fill="#0050ff" d="M255.3 213.1l3.7-4.7-2 .7-3.8 4.7z"/>
<path fill="#0030ff" d="M251.5 217.5l3.8-4.4-2.1 .7-3.8 4.4z"/>
<path fill="#0020ff" d="M247.7 221.6l3.8-4.1-2.1 .7-3.7 4.1z"/>
<path fill="#00f" class="t" d="M244 225.3l3.7-3.7-2 .7-3.8 3.7z"/>
<path fill="#0000ef" class="t" d="M240.2 228.6l3.8-3.3-2.1 .7-3.8 3.3z"/>
<path fill="#0000df" class="t" d="M236.4 231.6l3.8-3-2.1 .7-3.7 3z"/>
<path fill="#0000cf" class="t" d="M232.7 234.2l3.7-2.6-2 .7-3.8 2.6z"/>
<path fill="#0000bf" class="t" d="M228.9 236.5l3.8-2.3-2.1 .7-3.8 2.3z"/>
<g fill="#0000af"><path class="t" d="M225.1 238.4l3.8-1.9-2.1 .7-3.7 1.9z"/><path class="t" d="M221.4 239.9l3.7-1.5-2 .7-3.8 1.5z"/></g>
<g fill="#00009f"><path class="t" d="M217.6 241.1l3.8-1.2-2.1 .7-3.8 1.2z"/><path class="t" d="M213.8 241.9l3.8-.8-2.1 .7-3.7 .8z"/><path class="t" d="M210 242.4l3.8-.5-2 .7-3.8 .5z"/><path class="t" d="M206.3 242.5l3.7-.1-2 .7-3.8 .1z"/><path class="t" d="M202.5 242.2l3.8 .3-2.1 .7-3.7-.3z"/><path class="t" d="M198.7 241.6l3.8 .6-2 .7-3.8-.6z"/></g>
<path fill="#0000af" d="M195 240.6l3.7 1-2 .7-3.8-1z"/>
<path fill="#0000bf" d="M191.2 239.3l3.8 1.3-2.1 .7-3.7-1.3z"/>
<path fill="#0000cf" d="M187.4 237.6l3.8 1.7-2 .7-3.8-1.7z"/>
<path fill="#0000df" d="M183.7 235.5l3.7 2.1-2 .7-3.8-2.1z"/>
<path fill="#0000ef" d="M179.9 233.1l3.8 2.4-2.1 .7-3.7-2.4z"/>
<path fill="#00f" d="M176.1 230.3l3.8 2.8-2 .7-3.8-2.8z"/>
<path fill="#0020ff" d="M172.4 227.2l3.7 3.1-2 .7-3.8-3.1z"/>
<path fill="#0030ff" d="M168.6 223.7l3.8 3.5-2.1 .7-3.7-3.5z"/>
<path fill="#0050ff" d="M164.8 219.8l3.8 3.9-2 .7-3.8-3.9z"/>
<path fill="#0070ff" d="M161.1 215.6l3.7 4.2-2 .7-3.8-4.2z"/>
<path fill="#008fff" d="M157.3 211.1l3.8 4.5-2.1 .7-3.7-4.5z"/>
<path fill="#00bfff" d="M153.5 206.1l3.8 5-2 .7-3.8-5z"/>
<path fill="#00dfff" d="M149.8 200.9l3.7 5.2-2 .7-3.8-5.2z"/>
<path fill="#10ffef" d="M146 195.2l3.8 5.7-2.1 .7-3.7-5.7z"/>
<path fill="#40ffbf" d="M142.2 189.2l3.8 6-2 .7-3.8-6z"/>
<path fill="#70ff8f" d="M138.5 182.8l3.7 6.4-2 .7-3.8-6.4z"/>
<path fill="#9fff60" d="M134.7 176.1l3.8 6.7-2.1 .7-3.8-6.7z"/>
<path fill="#70ff8f" d="M283.7 171.1l3.7-7.3-2 1.1-3.8 7.3z"/>
<path fill="#40ffbf" d="M279.9 178.1l3.8-7-2.1 1.1-3.7 6.9z"/>
<path fill="#20ffdf" d="M276.1 184.6l3.8-6.5-2 1-3.8 6.6z"/>
<path fill="#00efff" d="M272.4 190.8l3.7-6.2-2 1.1-3.8 6.2z"/>
<path fill="#00cfff" d="M268.6 196.7l3.8-5.9-2.1 1.1-3.7 5.8z"/>
<path fill="#009fff" d="M264.8 202.2l3.8-5.5-2 1-3.8 5.5z"/>
<path fill="#0080ff" d="M261.1 207.3l3.7-5.1-2 1-3.8 5.2z"/>
<path fill="#0060ff" d="M257.3 212.1l3.8-4.8-2.1 1.1-3.7 4.7z"/>
<path fill="#0040ff" class="t" d="M253.5 216.5l3.8-4.4-2 1-3.8 4.4z"/>
<path fill="#0030ff" class="t" d="M249.8 220.5l3.7-4-2 1-3.8 4.1z"/>
<path fill="#0010ff" class="t" d="M246 224.2l3.8-3.7-2.1 1.1-3.7 3.7z"/>
<path fill="#00f" class="t" d="M242.2 227.6l3.8-3.4-2 1.1-3.8 3.3z"/>
<path fill="#0000df" class="t" d="M238.5 230.5l3.7-2.9-2 1-3.8 3z"/>
<g fill="#0000cf"><path class="t" d="M234.7 233.2l3.8-2.7-2.1 1.1-3.7 2.6z"/><path class="t" d="M230.9 235.4l3.8-2.2-2 1-3.8 2.3z"/></g>
<path fill="#0000bf" class="t" d="M227.2 237.3l3.7-1.9-2 1.1-3.8 1.9z"/>
<g fill="#0000af"><path class="t" d="M223.4 238.8l3.8-1.5-2.1 1.1-3.7 1.5z"/><path class="t" d="M219.6 240l3.8-1.2-2 1.1-3.8 1.2z"/><path class="t" d="M215.9 240.8l3.7-.8-2 1.1-3.8 .8z"/><path class="t" d="M212.1 241.3l3.8-.5-2.1 1.1-3.8 .5z"/><path class="t" d="M208.3 241.4l3.8-.1-2.1 1.1-3.7 .1z"/><path d="M204.6 241.1l3.7 .3-2 1.1-3.8-.3z"/><path d="M200.8 240.5l3.8 .6-2.1 1.1-3.8-.6z"/></g>
<path fill="#0000bf" d="M197 239.5l3.8 1-2.1 1.1-3.7-1z"/>
<g fill="#0000cf"><path d="M193.3 238.2l3.7 1.3-2 1.1-3.8-1.3z"/><path d="M189.5 236.5l3.8 1.7-2.1 1.1-3.8-1.7z"/></g>
<path fill="#0000df" d="M185.7 234.5l3.8 2-2.1 1.1-3.7-2.1z"/>
<path fill="#00f" d="M182 232l3.7 2.5-2 1-3.8-2.4z"/>
<path fill="#0010ff" d="M178.2 229.3l3.8 2.7-2.1 1.1-3.8-2.8z"/>
<path fill="#0030ff" d="M174.4 226.1l3.8 3.2-2.1 1-3.7-3.1z"/>
<path fill="#0040ff" d="M170.7 222.6l3.7 3.5-2 1.1-3.8-3.5z"/>
<path fill="#0060ff" d="M166.9 218.8l3.8 3.8-2.1 1.1-3.8-3.9z"/>
<path fill="#0080ff" d="M163.1 214.6l3.8 4.2-2.1 1-3.7-4.2z"/>
<path fill="#009fff" d="M159.4 210l3.7 4.6-2 1-3.8-4.5z"/>
<path fill="#00cfff" d="M155.6 205.1l3.8 4.9-2.1 1.1-3.8-5z"/>
<path fill="#00efff" d="M151.8 199.8l3.8 5.3-2.1 1-3.7-5.2z"/>
<path fill="#20ffdf" d="M148.1 194.1l3.7 5.7-2 1.1-3.8-5.7z"/>
<path fill="#40ffbf" d="M144.3 188.1l3.8 6-2.1 1.1-3.8-6z"/>
<path fill="#70ff8f" d="M140.5 181.8l3.8 6.3-2.1 1.1-3.7-6.4z"/>
<path fill="#afff50" d="M136.8 175l3.7 6.8-2 1-3.8-6.7z"/>
<path fill="#80ff80" d="M285.7 169.7l3.8-7.3-2.1 1.4-3.7 7.3z"/>
<path fill="#50ffaf" d="M282 176.6l3.7-6.9-2 1.4-3.8 7z"/>
<path fill="#30ffcf" d="M278.2 183.2l3.8-6.6-2.1 1.5-3.8 6.5z"/>
<path fill="#0ff" d="M274.4 189.4l3.8-6.2-2.1 1.4-3.7 6.2z"/>
<path fill="#00cfff" d="M270.7 195.3l3.7-5.9-2 1.4-3.8 5.9z"/>
<path fill="#00afff" class="t" d="M266.9 200.8l3.8-5.5-2.1 1.4-3.8 5.5z"/>
<path fill="#008fff" class="t" d="M263.1 205.9l3.8-5.1-2.1 1.4-3.7 5.1z"/>
<path fill="#0070ff" class="t" d="M259.4 210.7l3.7-4.8-2 1.4-3.8 4.8z"/>
<path fill="#0050ff" class="t" d="M255.6 215.1l3.8-4.4-2.1 1.4-3.8 4.4z"/>
<path fill="#0030ff" class="t" d="M251.8 219.1l3.8-4-2.1 1.4-3.7 4z"/>
<path fill="#0020ff" class="t" d="M248.1 222.8l3.7-3.7-2 1.4-3.8 3.7z"/>
<path fill="#0010ff" class="t" d="M244.3 226.1l3.8-3.3-2.1 1.4-3.8 3.4z"/>
<path fill="#0000ef" class="t" d="M240.5 229.1l3.8-3-2.1 1.5-3.7 2.9z"/>
<path fill="#0000df" class="t" d="M236.8 231.7l3.7-2.6-2 1.4-3.8 2.7z"/>
<g fill="#0000cf"><path class="t" d="M233 234l3.8-2.3-2.1 1.5-3.8 2.2z"/><path class="t" d="M229.2 235.9l3.8-1.9-2.1 1.4-3.7 1.9z"/></g>
<g fill="#0000bf"><path class="t" d="M225.5 237.4l3.7-1.5-2 1.4-3.8 1.5z"/><path class="t" d="M221.7 238.6l3.8-1.2-2.1 1.4-3.8 1.2z"/></g>
<g fill="#0000af"><path class="t" d="M217.9 239.4l3.8-.8-2.1 1.4-3.7 .8z"/><path d="M214.2 239.9l3.7-.5-2 1.4-3.8 .5z"/><path d="M210.4 240l3.8-.1-2.1 1.4-3.8 .1z"/></g>
<g fill="#0000bf"><path d="M206.6 239.7l3.8 .3-2.1 1.4-3.7-.3z"/><path d="M202.8 239.1l3.8 .6-2 1.4-3.8-.6z"/></g>
<g fill="#0000cf"><path d="M199.1 238.1l3.7 1-2 1.4-3.8-1z"/><path d="M195.3 236.8l3.8 1.3-2.1 1.4-3.7-1.3z"/></g>
<path fill="#0000df" d="M191.5 235.1l3.8 1.7-2 1.4-3.8-1.7z"/>
<path fill="#0000ef" d="M187.8 233l3.7 2.1-2 1.4-3.8-2z"/>
<path fill="#00f" d="M184 230.6l3.8 2.4-2.1 1.5-3.7-2.5z"/>
<path fill="#0020ff" d="M180.2 227.8l3.8 2.8-2 1.4-3.8-2.7z"/>
<path fill="#0030ff" d="M176.5 224.7l3.7 3.1-2 1.5-3.8-3.2z"/>
<path fill="#0050ff" d="M172.7 221.2l3.8 3.5-2.1 1.4-3.7-3.5z"/>
<path fill="#0070ff" d="M168.9 217.4l3.8 3.8-2 1.4-3.8-3.8z"/>
<path fill="#008fff" d="M165.2 213.2l3.7 4.2-2 1.4-3.8-4.2z"/>
<path fill="#00afff" d="M161.4 208.6l3.8 4.6-2.1 1.4-3.7-4.6z"/>
<path fill="#00cfff" d="M157.6 203.7l3.8 4.9-2 1.4-3.8-4.9z"/>
<path fill="#0ff" d="M153.9 198.4l3.7 5.3-2 1.4-3.8-5.3z"/>
<path fill="#20ffdf" d="M150.1 192.7l3.8 5.7-2.1 1.4-3.7-5.7z"/>
<path fill="#50ffaf" d="M146.3 186.7l3.8 6-2 1.4-3.8-6z"/>
<path fill="#80ff80" d="M142.6 180.4l3.7 6.3-2 1.4-3.8-6.3z"/>
<path fill="#afff50" d="M138.8 173.6l3.8 6.8-2.1 1.4-3.7-6.8z"/>
<path fill="#8fff70" d="M287.8 167.9l3.8-7.2-2.1 1.7-3.8 7.3z"/>
<path fill="#60ff9f" d="M284 174.9l3.8-7-2.1 1.8-3.7 6.9z"/>
<path fill="#40ffbf" class="t" d="M280.2 181.4l3.8-6.5-2 1.7-3.8 6.6z"/>
<path fill="#10ffef" class="t" d="M276.5 187.6l3.7-6.2-2 1.8-3.8 6.2z"/>
<path fill="#00dfff" class="t" d="M272.7 193.5l3.8-5.9-2.1 1.8-3.7 5.9z"/>
<path fill="#00bfff" class="t" d="M268.9 199l3.8-5.5-2 1.8-3.8 5.5z"/>
<path fill="#009fff" class="t" d="M265.2 204.1l3.7-5.1-2 1.8-3.8 5.1z"/>
<path fill="#0080ff" class="t" d="M261.4 208.9l3.8-4.8-2.1 1.8-3.7 4.8z"/>
<path fill="#0060ff" class="t" d="M257.6 213.3l3.8-4.4-2 1.8-3.8 4.4z"/>
<path fill="#0040ff" class="t" d="M253.9 217.3l3.7-4-2 1.8-3.8 4z"/>
<path fill="#0030ff" class="t" d="M250.1 221l3.8-3.7-2.1 1.8-3.7 3.7z"/>
<path fill="#0020ff" class="t" d="M246.3 224.4l3.8-3.4-2 1.8-3.8 3.3z"/>
<path fill="#00f" class="t" d="M242.6 227.3l3.7-2.9-2 1.7-3.8 3z"/>
<path fill="#0000ef" class="t" d="M238.8 230l3.8-2.7-2.1 1.8-3.7 2.6z"/>
<g fill="#0000df"><path class="t" d="M235 232.2l3.8-2.2-2 1.7-3.8 2.3z"/><path class="t" d="M231.3 234.1l3.7-1.9-2 1.8-3.8 1.9z"/></g>
<g fill="#0000cf"><path class="t" d="M227.5 235.6l3.8-1.5-2.1 1.8-3.7 1.5z"/><path class="t" d="M223.7 236.8l3.8-1.2-2 1.8-3.8 1.2z"/></g>
<g fill="#0000bf"><path d="M220 237.6l3.7-.8-2 1.8-3.8 .8z"/><path d="M216.2 238.1l3.8-.5-2.1 1.8-3.7 .5z"/><path d="M212.4 238.2l3.8-.1-2 1.8-3.8 .1z"/></g>
<g fill="#0000cf"><path d="M208.7 237.9l3.7 .3-2 1.8-3.8-.3z"/><path d="M204.9 237.3l3.8 .6-2.1 1.8-3.8-.6z"/></g>
<g fill="#0000df"><path d="M201.1 236.3l3.8 1-2.1 1.8-3.7-1z"/><path d="M197.4 235l3.7 1.3-2 1.8-3.8-1.3z"/></g>
<path fill="#0000ef" d="M193.6 233.3l3.8 1.7-2.1 1.8-3.8-1.7z"/>
<path fill="#00f" d="M189.8 231.3l3.8 2-2.1 1.8-3.7-2.1z"/>
<path fill="#0020ff" d="M186.1 228.8l3.7 2.5-2 1.7-3.8-2.4z"/>
<path fill="#0030ff" d="M182.3 226.1l3.8 2.7-2.1 1.8-3.8-2.8z"/>
<path fill="#0040ff" d="M178.5 222.9l3.8 3.2-2.1 1.7-3.7-3.1z"/>
<path fill="#0060ff" d="M174.8 219.4l3.7 3.5-2 1.8-3.8-3.5z"/>
<path fill="#0080ff" d="M171 215.6l3.8 3.8-2.1 1.8-3.8-3.8z"/>
<path fill="#009fff" d="M167.2 211.4l3.8 4.2-2.1 1.8-3.7-4.2z"/>
<path fill="#00bfff" d="M163.5 206.8l3.7 4.6-2 1.8-3.8-4.6z"/>
<path fill="#00dfff" d="M159.7 201.9l3.8 4.9-2.1 1.8-3.8-4.9z"/>
<path fill="#10ffef" d="M155.9 196.6l3.8 5.3-2.1 1.8-3.7-5.3z"/>
<path fill="#40ffbf" d="M152.2 190.9l3.7 5.7-2 1.8-3.8-5.7z"/>
<path fill="#60ff9f" d="M148.4 184.9l3.8 6-2.1 1.8-3.8-6z"/>
<path fill="#8fff70" d="M144.6 178.6l3.8 6.3-2.1 1.8-3.7-6.3z"/>
<path fill="#bfff40" d="M140.8 171.9l3.8 6.7-2 1.8-3.8-6.8z"/>
<path fill="#afff50" class="t" d="M289.8 165.8l3.8-7.3-2 2.2-3.8 7.2z"/>
<path fill="#80ff80" class="t" d="M286.1 172.7l3.7-6.9-2 2.1-3.8 7z"/>
<path fill="#50ffaf" class="t" d="M282.3 179.3l3.8-6.6-2.1 2.2-3.8 6.5z"/>
<path fill="#20ffdf" class="t" d="M278.5 185.5l3.8-6.2-2.1 2.1-3.7 6.2z"/>
<path fill="#0ff" class="t" d="M274.8 191.3l3.7-5.8-2 2.1-3.8 5.9z"/>
<path fill="#00cfff" class="t" d="M271 196.8l3.8-5.5-2.1 2.2-3.8 5.5z"/>
<path fill="#00afff" class="t" d="M267.2 202l3.8-5.2-2.1 2.2-3.7 5.1z"/>
<path fill="#008fff" class="t" d="M263.5 206.7l3.7-4.7-2 2.1-3.8 4.8z"/>
<path fill="#0070ff" class="t" d="M259.7 211.1l3.8-4.4-2.1 2.2-3.8 4.4z"/>
<path fill="#0060ff" class="t" d="M255.9 215.2l3.8-4.1-2.1 2.2-3.7 4z"/>
<path fill="#0040ff" class="t" d="M252.2 218.9l3.7-3.7-2 2.1-3.8 3.7z"/>
<path fill="#0030ff" class="t" d="M248.4 222.2l3.8-3.3-2.1 2.1-3.8 3.4z"/>
<path fill="#0020ff" class="t" d="M244.6 225.2l3.8-3-2.1 2.2-3.7 2.9z"/>
<g fill="#00f"><path class="t" d="M240.9 227.8l3.7-2.6-2 2.1-3.8 2.7z"/><path class="t" d="M237.1 230.1l3.8-2.3-2.1 2.2-3.8 2.2z"/></g>
<path fill="#0000ef" class="t" d="M233.3 232l3.8-1.9-2.1 2.1-3.7 1.9z"/>
<g fill="#0000df"><path d="M229.6 233.5l3.7-1.5-2 2.1-3.8 1.5z"/><path d="M225.8 234.7l3.8-1.2-2.1 2.1-3.8 1.2z"/><path d="M222 235.5l3.8-.8-2.1 2.1-3.7 .8z"/><path d="M218.2 236l3.8-.5-2 2.1-3.8 .5z"/><path d="M214.5 236.1l3.7-.1-2 2.1-3.8 .1z"/><path d="M210.7 235.8l3.8 .3-2.1 2.1-3.7-.3z"/><path d="M206.9 235.2l3.8 .6-2 2.1-3.8-.6z"/></g>
<path fill="#0000ef" d="M203.2 234.2l3.7 1-2 2.1-3.8-1z"/>
<g fill="#00f"><path d="M199.4 232.9l3.8 1.3-2.1 2.1-3.7-1.3z"/><path d="M195.6 231.2l3.8 1.7-2 2.1-3.8-1.7z"/></g>
<path fill="#0020ff" d="M191.9 229.1l3.7 2.1-2 2.1-3.8-2z"/>
<path fill="#0030ff" d="M188.1 226.7l3.8 2.4-2.1 2.2-3.7-2.5z"/>
<path fill="#0040ff" d="M184.3 223.9l3.8 2.8-2 2.1-3.8-2.7z"/>
<path fill="#0060ff" d="M180.6 220.8l3.7 3.1-2 2.2-3.8-3.2z"/>
<path fill="#0070ff" d="M176.8 217.3l3.8 3.5-2.1 2.1-3.7-3.5z"/>
<path fill="#008fff" d="M173 213.5l3.8 3.8-2 2.1-3.8-3.8z"/>
<path fill="#00afff" d="M169.3 209.2l3.7 4.3-2 2.1-3.8-4.2z"/>
<path fill="#00cfff" d="M165.5 204.7l3.8 4.5-2.1 2.2-3.7-4.6z"/>
<path fill="#0ff" d="M161.7 199.7l3.8 5-2 2.1-3.8-4.9z"/>
<path fill="#20ffdf" d="M158 194.5l3.7 5.2-2 2.2-3.8-5.3z"/>
<path fill="#50ffaf" d="M154.2 188.8l3.8 5.7-2.1 2.1-3.7-5.7z"/>
<path fill="#80ff80" d="M150.4 182.8l3.8 6-2 2.1-3.8-6z"/>
<path fill="#afff50" d="M146.7 176.4l3.7 6.4-2 2.1-3.8-6.3z"/>
<path fill="#dfff20" d="M142.9 169.7l3.8 6.7-2.1 2.2-3.8-6.7z"/>
<path fill="#bfff40" class="t" d="M291.9 163.3l3.7-7.3-2 2.5-3.8 7.3z"/>
<path fill="#8fff70" class="t" d="M288.1 170.2l3.8-6.9-2.1 2.5-3.7 6.9z"/>
<path fill="#60ff9f" class="t" d="M284.3 176.8l3.8-6.6-2 2.5-3.8 6.6z"/>
<path fill="#30ffcf" class="t" d="M280.6 183l3.7-6.2-2 2.5-3.8 6.2z"/>
<path fill="#10ffef" class="t" d="M276.8 188.9l3.8-5.9-2.1 2.5-3.7 5.8z"/>
<path fill="#00efff" class="t" d="M273 194.3l3.8-5.4-2 2.4-3.8 5.5z"/>
<path fill="#00cfff" class="t" d="M269.3 199.5l3.7-5.2-2 2.5-3.8 5.2z"/>
<path fill="#00afff" class="t" d="M265.5 204.2l3.8-4.7-2.1 2.5-3.7 4.7z"/>
<path fill="#008fff" class="t" d="M261.7 208.7l3.8-4.5-2 2.5-3.8 4.4z"/>
<path fill="#0070ff" class="t" d="M258 212.7l3.7-4-2 2.4-3.8 4.1z"/>
<path fill="#0050ff" class="t" d="M254.2 216.4l3.8-3.7-2.1 2.5-3.7 3.7z"/>
<path fill="#0040ff" class="t" d="M250.4 219.7l3.8-3.3-2 2.5-3.8 3.3z"/>
<path fill="#0030ff" class="t" d="M246.7 222.7l3.7-3-2 2.5-3.8 3z"/>
<path fill="#0020ff" class="t" d="M242.9 225.3l3.8-2.6-2.1 2.5-3.7 2.6z"/>
<path fill="#0010ff" class="t" d="M239.1 227.6l3.8-2.3-2 2.5-3.8 2.3z"/>
<g fill="#00f"><path d="M235.4 229.5l3.7-1.9-2 2.5-3.8 1.9z"/><path d="M231.6 231l3.8-1.5-2.1 2.5-3.7 1.5z"/></g>
<g fill="#0000ef"><path d="M227.8 232.2l3.8-1.2-2 2.5-3.8 1.2z"/><path d="M224.1 233l3.7-.8-2 2.5-3.8 .8z"/><path d="M220.3 233.5l3.8-.5-2.1 2.5-3.8 .5z"/><path d="M216.5 233.6l3.8-.1-2.1 2.5-3.7 .1z"/><path d="M212.8 233.3l3.7 .3-2 2.5-3.8-.3z"/></g>
<g fill="#00f"><path d="M209 232.7l3.8 .6-2.1 2.5-3.8-.6z"/><path d="M205.2 231.7l3.8 1-2.1 2.5-3.7-1z"/></g>
<path fill="#0010ff" d="M201.5 230.4l3.7 1.3-2 2.5-3.8-1.3z"/>
<path fill="#0020ff" d="M197.7 228.7l3.8 1.7-2.1 2.5-3.8-1.7z"/>
<path fill="#0030ff" d="M193.9 226.6l3.8 2.1-2.1 2.5-3.7-2.1z"/>
<path fill="#0040ff" d="M190.2 224.2l3.7 2.4-2 2.5-3.8-2.4z"/>
<path fill="#0050ff" d="M186.4 221.4l3.8 2.8-2.1 2.5-3.8-2.8z"/>
<path fill="#0070ff" d="M182.6 218.3l3.8 3.1-2.1 2.5-3.7-3.1z"/>
<path fill="#008fff" d="M178.9 214.8l3.7 3.5-2 2.5-3.8-3.5z"/>
<path fill="#00afff" d="M175.1 211l3.8 3.8-2.1 2.5-3.8-3.8z"/>
<path fill="#00bfff" d="M171.3 206.8l3.8 4.2-2.1 2.5-3.7-4.3z"/>
<path fill="#00efff" d="M167.6 202.2l3.7 4.6-2 2.4-3.8-4.5z"/>
<path fill="#10ffef" d="M163.8 197.3l3.8 4.9-2.1 2.5-3.8-5z"/>
<path fill="#30ffcf" d="M160 192l3.8 5.3-2.1 2.4-3.7-5.2z"/>
<path fill="#60ff9f" d="M156.3 186.3l3.7 5.7-2 2.5-3.8-5.7z"/>
<path fill="#8fff70" d="M152.5 180.3l3.8 6-2.1 2.5-3.8-6z"/>
<path fill="#bfff40" d="M148.7 173.9l3.8 6.4-2.1 2.5-3.7-6.4z"/>
<path fill="#efff10" d="M145 167.2l3.7 6.7-2 2.5-3.8-6.7z"/>
<path fill="#cfff30" class="t" d="M293.9 160.4l3.8-7.2-2.1 2.8-3.7 7.3z"/>
<path fill="#9fff60" class="t" d="M290.2 167.4l3.7-7-2 2.9-3.8 6.9z"/>
<path fill="#80ff80" class="t" d="M286.4 173.9l3.8-6.5-2.1 2.8-3.8 6.6z"/>
<path fill="#50ffaf" class="t" d="M282.6 180.1l3.8-6.2-2.1 2.9-3.7 6.2z"/>
<path fill="#30ffcf" class="t" d="M278.9 186l3.7-5.9-2 2.9-3.8 5.9z"/>
<path fill="#0ff" class="t" d="M275.1 191.5l3.8-5.5-2.1 2.9-3.8 5.4z"/>
<path fill="#00dfff" class="t" d="M271.3 196.6l3.8-5.1-2.1 2.8-3.7 5.2z"/>
<path fill="#00bfff" class="t" d="M267.6 201.4l3.7-4.8-2 2.9-3.8 4.7z"/>
<path fill="#009fff" class="t" d="M263.8 205.8l3.8-4.4-2.1 2.8-3.8 4.5z"/>
<path fill="#008fff" class="t" d="M260 209.8l3.8-4-2.1 2.9-3.7 4z"/>
<path fill="#0070ff" class="t" d="M256.3 213.5l3.7-3.7-2 2.9-3.8 3.7z"/>
<path fill="#0060ff" class="t" d="M252.5 216.9l3.8-3.4-2.1 2.9-3.8 3.3z"/>
<path fill="#0040ff" class="t" d="M248.7 219.9l3.8-3-2.1 2.8-3.7 3z"/>
<g fill="#0030ff"><path class="t" d="M245 222.5l3.7-2.6-2 2.8-3.8 2.6z"/><path d="M241.2 224.7l3.8-2.2-2.1 2.8-3.8 2.3z"/></g>
<path fill="#0020ff" d="M237.4 226.6l3.8-1.9-2.1 2.9-3.7 1.9z"/>
<g fill="#0010ff"><path d="M233.7 228.2l3.7-1.6-2 2.9-3.8 1.5z"/><path d="M229.9 229.3l3.8-1.1-2.1 2.8-3.8 1.2z"/><path d="M226.1 230.2l3.8-.9-2.1 2.9-3.7 .8z"/><path d="M222.4 230.6l3.7-.4-2 2.8-3.8 .5z"/><path d="M218.6 230.7l3.8-.1-2.1 2.9-3.8 .1z"/><path d="M214.8 230.5l3.8 .2-2.1 2.9-3.7-.3z"/><path d="M211 229.8l3.8 .7-2 2.8-3.8-.6z"/></g>
<path fill="#0020ff" d="M207.3 228.9l3.7 .9-2 2.9-3.8-1z"/>
<g fill="#0030ff"><path d="M203.5 227.5l3.8 1.4-2.1 2.8-3.7-1.3z"/><path d="M199.7 225.8l3.8 1.7-2 2.9-3.8-1.7z"/></g>
<path fill="#0040ff" d="M196 223.8l3.7 2-2 2.9-3.8-2.1z"/>
<path fill="#0060ff" d="M192.2 221.4l3.8 2.4-2.1 2.8-3.7-2.4z"/>
<path fill="#0070ff" d="M188.4 218.6l3.8 2.8-2 2.8-3.8-2.8z"/>
<path fill="#008fff" d="M184.7 215.4l3.7 3.2-2 2.8-3.8-3.1z"/>
<path fill="#009fff" d="M180.9 212l3.8 3.4-2.1 2.9-3.7-3.5z"/>
<path fill="#00bfff" d="M177.1 208.1l3.8 3.9-2 2.8-3.8-3.8z"/>
<path fill="#00dfff" d="M173.4 203.9l3.7 4.2-2 2.9-3.8-4.2z"/>
<path fill="#0ff" d="M169.6 199.3l3.8 4.6-2.1 2.9-3.7-4.6z"/>
<path fill="#30ffcf" d="M165.8 194.4l3.8 4.9-2 2.9-3.8-4.9z"/>
<path fill="#50ffaf" d="M162.1 189.1l3.7 5.3-2 2.9-3.8-5.3z"/>
<path fill="#80ff80" d="M158.3 183.5l3.8 5.6-2.1 2.9-3.7-5.7z"/>
<path fill="#9fff60" d="M154.5 177.5l3.8 6-2 2.8-3.8-6z"/>
<path fill="#cfff30" d="M150.8 171.1l3.7 6.4-2 2.8-3.8-6.4z"/>
<path fill="#ffef00" d="M147 164.4l3.8 6.7-2.1 2.8-3.7-6.7z"/>
<path fill="#efff10" class="t" d="M296 157.2l3.8-7.3-2.1 3.3-3.8 7.2z"/>
<path fill="#bfff40" class="t" d="M292.2 164.2l3.8-7-2.1 3.2-3.7 7z"/>
<path fill="#8fff70" class="t" d="M288.4 170.7l3.8-6.5-2 3.2-3.8 6.5z"/>
<path fill="#70ff8f" class="t" d="M284.7 176.9l3.7-6.2-2 3.2-3.8 6.2z"/>
<path fill="#40ffbf" class="t" d="M280.9 182.8l3.8-5.9-2.1 3.2-3.7 5.9z"/>
<path fill="#20ffdf" class="t" d="M277.1 188.3l3.8-5.5-2 3.2-3.8 5.5z"/>
<path fill="#0ff" class="t" d="M273.4 193.4l3.7-5.1-2 3.2-3.8 5.1z"/>
<path fill="#00dfff" class="t" d="M269.6 198.2l3.8-4.8-2.1 3.2-3.7 4.8z"/>
<path fill="#00bfff" class="t" d="M265.8 202.6l3.8-4.4-2 3.2-3.8 4.4z"/>
<path fill="#009fff" class="t" d="M262.1 206.6l3.7-4-2 3.2-3.8 4z"/>
<path fill="#008fff" class="t" d="M258.3 210.3l3.8-3.7-2.1 3.2-3.7 3.7z"/>
<path fill="#0070ff" class="t" d="M254.5 213.7l3.8-3.4-2 3.2-3.8 3.4z"/>
<path fill="#0060ff" d="M250.8 216.6l3.7-2.9-2 3.2-3.8 3z"/>
<path fill="#0050ff" d="M247 219.3l3.8-2.7-2.1 3.3-3.7 2.6z"/>
<path fill="#0040ff" d="M243.2 221.5l3.8-2.2-2 3.2-3.8 2.2z"/>
<g fill="#0030ff"><path d="M239.5 223.4l3.7-1.9-2 3.2-3.8 1.9z"/><path d="M235.7 224.9l3.8-1.5-2.1 3.2-3.7 1.6z"/><path d="M231.9 226.1l3.8-1.2-2 3.3-3.8 1.1z"/></g>
<g fill="#0020ff"><path d="M228.2 226.9l3.7-.8-2 3.2-3.8 .9z"/><path d="M224.4 227.4l3.8-.5-2.1 3.3-3.7 .4z"/><path d="M220.6 227.5l3.8-.1-2 3.2-3.8 .1z"/></g>
<g fill="#0030ff"><path d="M216.9 227.2l3.7 .3-2 3.2-3.8-.2z"/><path d="M213.1 226.6l3.8 .6-2.1 3.3-3.8-.7z"/><path d="M209.3 225.6l3.8 1-2.1 3.2-3.7-.9z"/></g>
<path fill="#0040ff" d="M205.6 224.3l3.7 1.3-2 3.3-3.8-1.4z"/>
<path fill="#0050ff" d="M201.8 222.6l3.8 1.7-2.1 3.2-3.8-1.7z"/>
<path fill="#0060ff" d="M198 220.6l3.8 2-2.1 3.2-3.7-2z"/>
<path fill="#0070ff" d="M194.3 218.1l3.7 2.5-2 3.2-3.8-2.4z"/>
<path fill="#008fff" d="M190.5 215.4l3.8 2.7-2.1 3.3-3.8-2.8z"/>
<path fill="#009fff" d="M186.7 212.2l3.8 3.2-2.1 3.2-3.7-3.2z"/>
<path fill="#00bfff" d="M183 208.7l3.7 3.5-2 3.2-3.8-3.4z"/>
<path fill="#00dfff" d="M179.2 204.9l3.8 3.8-2.1 3.3-3.8-3.9z"/>
<path fill="#0ff" d="M175.4 200.7l3.8 4.2-2.1 3.2-3.7-4.2z"/>
<path fill="#20ffdf" d="M171.7 196.1l3.7 4.6-2 3.2-3.8-4.6z"/>
<path fill="#40ffbf" d="M167.9 191.2l3.8 4.9-2.1 3.2-3.8-4.9z"/>
<path fill="#70ff8f" d="M164.1 185.9l3.8 5.3-2.1 3.2-3.7-5.3z"/>
<path fill="#8fff70" d="M160.4 180.2l3.7 5.7-2 3.2-3.8-5.6z"/>
<path fill="#bfff40" d="M156.6 174.2l3.8 6-2.1 3.3-3.8-6z"/>
<path fill="#efff10" d="M152.8 167.9l3.8 6.3-2.1 3.3-3.7-6.4z"/>
<path fill="#ffdf00" d="M149 161.1l3.8 6.8-2 3.2-3.8-6.7z"/>
<path fill="#ffef00" class="t" d="M298 153.7l3.8-7.3-2 3.5-3.8 7.3z"/>
<path fill="#dfff20" class="t" d="M294.3 160.6l3.7-6.9-2 3.5-3.8 7z"/>
<path fill="#afff50" class="t" d="M290.5 167.2l3.8-6.6-2.1 3.6-3.8 6.5z"/>
<path fill="#8fff70" class="t" d="M286.7 173.4l3.8-6.2-2.1 3.5-3.7 6.2z"/>
<path fill="#60ff9f" class="t" d="M283 179.2l3.7-5.8-2 3.5-3.8 5.9z"/>
<path fill="#40ffbf" class="t" d="M279.2 184.7l3.8-5.5-2.1 3.6-3.8 5.5z"/>
<path fill="#20ffdf" class="t" d="M275.4 189.8l3.8-5.1-2.1 3.6-3.7 5.1z"/>
<path fill="#0ff" class="t" d="M271.7 194.6l3.7-4.8-2 3.6-3.8 4.8z"/>
<path fill="#00dfff" class="t" d="M267.9 199l3.8-4.4-2.1 3.6-3.8 4.4z"/>
<path fill="#00bfff" class="t" d="M264.1 203.1l3.8-4.1-2.1 3.6-3.7 4z"/>
<path fill="#00afff" class="t" d="M260.4 206.8l3.7-3.7-2 3.5-3.8 3.7z"/>
<path fill="#008fff" d="M256.6 210.1l3.8-3.3-2.1 3.5-3.8 3.4z"/>
<path fill="#0080ff" d="M252.8 213.1l3.8-3-2.1 3.6-3.7 2.9z"/>
<path fill="#0070ff" d="M249.1 215.7l3.7-2.6-2 3.5-3.8 2.7z"/>
<path fill="#0060ff" d="M245.3 217.9l3.8-2.2-2.1 3.6-3.8 2.2z"/>
<g fill="#0050ff"><path d="M241.5 219.8l3.8-1.9-2.1 3.6-3.7 1.9z"/><path d="M237.8 221.4l3.7-1.6-2 3.6-3.8 1.5z"/></g>
<g fill="#0040ff"><path d="M234 222.5l3.8-1.1-2.1 3.5-3.8 1.2z"/><path d="M230.2 223.4l3.8-.9-2.1 3.6-3.7 .8z"/><path d="M226.4 223.8l3.8-.4-2 3.5-3.8 .5z"/><path d="M222.7 223.9l3.7-.1-2 3.6-3.8 .1z"/><path d="M218.9 223.7l3.8 .2-2.1 3.6-3.7-.3z"/></g>
<g fill="#0050ff"><path d="M215.1 223l3.8 .7-2 3.5-3.8-.6z"/><path d="M211.4 222.1l3.7 .9-2 3.6-3.8-1z"/></g>
<path fill="#0060ff" d="M207.6 220.7l3.8 1.4-2.1 3.5-3.7-1.3z"/>
<path fill="#0070ff" d="M203.8 219l3.8 1.7-2 3.6-3.8-1.7z"/>
<path fill="#0080ff" d="M200.1 217l3.7 2-2 3.6-3.8-2z"/>
<path fill="#008fff" d="M196.3 214.6l3.8 2.4-2.1 3.6-3.7-2.5z"/>
<path fill="#00afff" d="M192.5 211.8l3.8 2.8-2 3.5-3.8-2.7z"/>
<path fill="#00bfff" d="M188.8 208.7l3.7 3.1-2 3.6-3.8-3.2z"/>
<path fill="#00dfff" d="M185 205.2l3.8 3.5-2.1 3.5-3.7-3.5z"/>
<path fill="#0ff" d="M181.2 201.3l3.8 3.9-2 3.5-3.8-3.8z"/>
<path fill="#20ffdf" d="M177.5 197.1l3.7 4.2-2 3.6-3.8-4.2z"/>
<path fill="#40ffbf" d="M173.7 192.5l3.8 4.6-2.1 3.6-3.7-4.6z"/>
<path fill="#60ff9f" d="M169.9 187.6l3.8 4.9-2 3.6-3.8-4.9z"/>
<path fill="#8fff70" d="M166.2 182.3l3.7 5.3-2 3.6-3.8-5.3z"/>
<path fill="#afff50" d="M162.4 176.7l3.8 5.6-2.1 3.6-3.7-5.7z"/>
<path fill="#dfff20" d="M158.6 170.7l3.8 6-2 3.5-3.8-6z"/>
<path fill="#ffef00" d="M154.9 164.3l3.7 6.4-2 3.5-3.8-6.3z"/>
<path fill="#ffbf00" d="M151.1 157.6l3.8 6.7-2.1 3.6-3.8-6.8z"/>
<path fill="#ffcf00" class="t" d="M300.1 149.7l3.7-7.3-2 4-3.8 7.3z"/>
<path fill="#ff0" class="t" d="M296.3 156.7l3.8-7-2.1 4-3.7 6.9z"/>
<path fill="#cfff30" class="t" d="M292.5 163.2l3.8-6.5-2 3.9-3.8 6.6z"/>
<path fill="#afff50" class="t" d="M288.8 169.4l3.7-6.2-2 4-3.8 6.2z"/>
<path fill="#80ff80" class="t" d="M285 175.3l3.8-5.9-2.1 4-3.7 5.8z"/>
<path fill="#60ff9f" class="t" d="M281.2 180.8l3.8-5.5-2 3.9-3.8 5.5z"/>
<path fill="#40ffbf" class="t" d="M277.5 185.9l3.7-5.1-2 3.9-3.8 5.1z"/>
<path fill="#20ffdf" class="t" d="M273.7 190.7l3.8-4.8-2.1 3.9-3.7 4.8z"/>
<path fill="#0ff" class="t" d="M269.9 195.1l3.8-4.4-2 3.9-3.8 4.4z"/>
<path fill="#00dfff" class="t" d="M266.2 199.1l3.7-4-2 3.9-3.8 4.1z"/>
<path fill="#00cfff" d="M262.4 202.8l3.8-3.7-2.1 4-3.7 3.7z"/>
<path fill="#00afff" d="M258.6 206.2l3.8-3.4-2 4-3.8 3.3z"/>
<path fill="#009fff" d="M254.9 209.1l3.7-2.9-2 3.9-3.8 3z"/>
<path fill="#008fff" d="M251.1 211.7l3.8-2.6-2.1 4-3.7 2.6z"/>
<path fill="#0080ff" d="M247.3 214l3.8-2.3-2 4-3.8 2.2z"/>
<g fill="#0070ff"><path d="M243.6 215.9l3.7-1.9-2 3.9-3.8 1.9z"/><path d="M239.8 217.4l3.8-1.5-2.1 3.9-3.7 1.6z"/></g>
<g fill="#0060ff"><path d="M236 218.6l3.8-1.2-2 4-3.8 1.1z"/><path d="M232.3 219.4l3.7-.8-2 3.9-3.8 .9z"/><path d="M228.5 219.9l3.8-.5-2.1 4-3.8 .4z"/><path d="M224.7 220l3.8-.1-2.1 3.9-3.7 .1z"/><path d="M221 219.7l3.7 .3-2 3.9-3.8-.2z"/></g>
<g fill="#0070ff"><path d="M217.2 219.1l3.8 .6-2.1 4-3.8-.7z"/><path d="M213.4 218.1l3.8 1-2.1 3.9-3.7-.9z"/></g>
<path fill="#0080ff" d="M209.7 216.8l3.7 1.3-2 4-3.8-1.4z"/>
<path fill="#008fff" d="M205.9 215.1l3.8 1.7-2.1 3.9-3.8-1.7z"/>
<path fill="#009fff" d="M202.1 213l3.8 2.1-2.1 3.9-3.7-2z"/>
<path fill="#00afff" d="M198.4 210.6l3.7 2.4-2 4-3.8-2.4z"/>
<path fill="#00bfff" d="M194.6 207.9l3.8 2.7-2.1 4-3.8-2.8z"/>
<path fill="#00dfff" d="M190.8 204.7l3.8 3.2-2.1 3.9-3.7-3.1z"/>
<path fill="#0ff" d="M187.1 201.2l3.7 3.5-2 4-3.8-3.5z"/>
<path fill="#20ffdf" d="M183.3 197.4l3.8 3.8-2.1 4-3.8-3.9z"/>
<path fill="#40ffbf" d="M179.5 193.2l3.8 4.2-2.1 3.9-3.7-4.2z"/>
<path fill="#60ff9f" d="M175.8 188.6l3.7 4.6-2 3.9-3.8-4.6z"/>
<path fill="#80ff80" d="M172 183.7l3.8 4.9-2.1 3.9-3.8-4.9z"/>
<path fill="#afff50" d="M168.2 178.4l3.8 5.3-2.1 3.9-3.7-5.3z"/>
<path fill="#cfff30" d="M164.5 172.7l3.7 5.7-2 3.9-3.8-5.6z"/>
<path fill="#ff0" d="M160.7 166.7l3.8 6-2.1 4-3.8-6z"/>
<path fill="#ffcf00" d="M156.9 160.4l3.8 6.3-2.1 4-3.7-6.4z"/>
<path fill="#ff9f00" d="M153.2 153.6l3.7 6.8-2 3.9-3.8-6.7z"/>
<path fill="#ffaf00" class="t" d="M302.1 145.4l3.8-7.3-2.1 4.3-3.7 7.3z"/>
<path fill="#ffdf00" class="t" d="M298.4 152.4l3.7-7-2 4.3-3.8 7z"/>
<path fill="#efff10" class="t" d="M294.6 158.9l3.8-6.5-2.1 4.3-3.8 6.5z"/>
<path fill="#cfff30" class="t" d="M290.8 165.1l3.8-6.2-2.1 4.3-3.7 6.2z"/>
<path fill="#9fff60" class="t" d="M287.1 171l3.7-5.9-2 4.3-3.8 5.9z"/>
<path fill="#80ff80" class="t" d="M283.3 176.5l3.8-5.5-2.1 4.3-3.8 5.5z"/>
<path fill="#60ff9f" class="t" d="M279.5 181.6l3.8-5.1-2.1 4.3-3.7 5.1z"/>
<path fill="#40ffbf" class="t" d="M275.8 186.4l3.7-4.8-2 4.3-3.8 4.8z"/>
<path fill="#20ffdf" class="t" d="M272 190.8l3.8-4.4-2.1 4.3-3.8 4.4z"/>
<path fill="#0ff" d="M268.2 194.8l3.8-4-2.1 4.3-3.7 4z"/>
<path fill="#00efff" d="M264.5 198.5l3.7-3.7-2 4.3-3.8 3.7z"/>
<path fill="#00cfff" d="M260.7 201.9l3.8-3.4-2.1 4.3-3.8 3.4z"/>
<path fill="#00bfff" d="M256.9 204.8l3.8-2.9-2.1 4.3-3.7 2.9z"/>
<path fill="#00afff" d="M253.2 207.5l3.7-2.7-2 4.3-3.8 2.6z"/>
<path fill="#009fff" d="M249.4 209.7l3.8-2.2-2.1 4.2-3.8 2.3z"/>
<g fill="#008fff"><path d="M245.6 211.6l3.8-1.9-2.1 4.3-3.7 1.9z"/><path d="M241.9 213.1l3.7-1.5-2 4.3-3.8 1.5z"/></g>
<g fill="#0080ff"><path d="M238.1 214.3l3.8-1.2-2.1 4.3-3.8 1.2z"/><path d="M234.3 215.1l3.8-.8-2.1 4.3-3.7 .8z"/><path d="M230.6 215.6l3.7-.5-2 4.3-3.8 .5z"/><path d="M226.8 215.7l3.8-.1-2.1 4.3-3.8 .1z"/><path d="M223 215.4l3.8 .3-2.1 4.3-3.7-.3z"/></g>
<g fill="#008fff"><path d="M219.2 214.8l3.8 .6-2 4.3-3.8-.6z"/><path d="M215.5 213.8l3.7 1-2 4.3-3.8-1z"/></g>
<path fill="#009fff" d="M211.7 212.5l3.8 1.3-2.1 4.3-3.7-1.3z"/>
<path fill="#00afff" d="M207.9 210.8l3.8 1.7-2 4.3-3.8-1.7z"/>
<path fill="#00bfff" d="M204.2 208.8l3.7 2-2 4.3-3.8-2.1z"/>
<path fill="#00cfff" d="M200.4 206.3l3.8 2.5-2.1 4.2-3.7-2.4z"/>
<path fill="#00efff" d="M196.6 203.6l3.8 2.7-2 4.3-3.8-2.7z"/>
<path fill="#0ff" d="M192.9 200.4l3.7 3.2-2 4.3-3.8-3.2z"/>
<path fill="#20ffdf" d="M189.1 196.9l3.8 3.5-2.1 4.3-3.7-3.5z"/>
<path fill="#40ffbf" d="M185.3 193.1l3.8 3.8-2 4.3-3.8-3.8z"/>
<path fill="#60ff9f" d="M181.6 188.9l3.7 4.2-2 4.3-3.8-4.2z"/>
<path fill="#80ff80" d="M177.8 184.3l3.8 4.6-2.1 4.3-3.7-4.6z"/>
<path fill="#9fff60" d="M174 179.4l3.8 4.9-2 4.3-3.8-4.9z"/>
<path fill="#cfff30" d="M170.3 174.1l3.7 5.3-2 4.3-3.8-5.3z"/>
<path fill="#efff10" d="M166.5 168.4l3.8 5.7-2.1 4.3-3.7-5.7z"/>
<path fill="#ffdf00" d="M162.7 162.4l3.8 6-2 4.3-3.8-6z"/>
<path fill="#ffaf00" d="M159 156.1l3.7 6.3-2 4.3-3.8-6.3z"/>
<path fill="#ff8000" d="M155.2 149.3l3.8 6.8-2.1 4.3-3.7-6.8z"/>
<path fill="#ff8f00" class="t" d="M304.2 140.8l3.8-7.3-2.1 4.6-3.8 7.3z"/>
<path fill="#ffbf00" class="t" d="M300.4 147.7l3.8-6.9-2.1 4.6-3.7 7z"/>
<path fill="#ffdf00" class="t" d="M296.6 154.3l3.8-6.6-2 4.7-3.8 6.5z"/>
<path fill="#efff10" class="t" d="M292.9 160.5l3.7-6.2-2 4.6-3.8 6.2z"/>
<path fill="#cfff30" class="t" d="M289.1 166.3l3.8-5.8-2.1 4.6-3.7 5.9z"/>
<path fill="#9fff60" class="t" d="M285.3 171.8l3.8-5.5-2 4.7-3.8 5.5z"/>
<path fill="#80ff80" class="t" d="M281.6 177l3.7-5.2-2 4.7-3.8 5.1z"/>
<path fill="#60ff9f" class="t" d="M277.8 181.7l3.8-4.7-2.1 4.6-3.7 4.8z"/>
<path fill="#40ffbf" d="M274 186.1l3.8-4.4-2 4.7-3.8 4.4z"/>
<path fill="#30ffcf" d="M270.3 190.2l3.7-4.1-2 4.7-3.8 4z"/>
<path fill="#10ffef" d="M266.5 193.9l3.8-3.7-2.1 4.6-3.7 3.7z"/>
<path fill="#0ff" d="M262.7 197.2l3.8-3.3-2 4.6-3.8 3.4z"/>
<path fill="#00dfff" d="M259 200.2l3.7-3-2 4.7-3.8 2.9z"/>
<g fill="#00cfff"><path d="M255.2 202.8l3.8-2.6-2.1 4.6-3.7 2.7z"/><path d="M251.4 205.1l3.8-2.3-2 4.7-3.8 2.2z"/></g>
<path fill="#00bfff" d="M247.7 207l3.7-1.9-2 4.6-3.8 1.9z"/>
<g fill="#00afff"><path d="M243.9 208.5l3.8-1.5-2.1 4.6-3.7 1.5z"/><path d="M240.1 209.7l3.8-1.2-2 4.6-3.8 1.2z"/><path d="M236.4 210.5l3.7-.8-2 4.6-3.8 .8z"/><path d="M232.6 210.9l3.8-.4-2.1 4.6-3.7 .5z"/><path d="M228.8 211l3.8-.1-2 4.7-3.8 .1z"/><path d="M225.1 210.8l3.7 .2-2 4.7-3.8-.3z"/><path d="M221.3 210.2l3.8 .6-2.1 4.6-3.8-.6z"/></g>
<path fill="#00bfff" d="M217.5 209.2l3.8 1-2.1 4.6-3.7-1z"/>
<g fill="#00cfff"><path d="M213.8 207.9l3.7 1.3-2 4.6-3.8-1.3z"/><path d="M210 206.2l3.8 1.7-2.1 4.6-3.8-1.7z"/></g>
<path fill="#00dfff" d="M206.2 204.1l3.8 2.1-2.1 4.6-3.7-2z"/>
<path fill="#0ff" d="M202.5 201.7l3.7 2.4-2 4.7-3.8-2.5z"/>
<path fill="#10ffef" d="M198.7 198.9l3.8 2.8-2.1 4.6-3.8-2.7z"/>
<path fill="#30ffcf" d="M194.9 195.8l3.8 3.1-2.1 4.7-3.7-3.2z"/>
<path fill="#40ffbf" d="M191.2 192.3l3.7 3.5-2 4.6-3.8-3.5z"/>
<path fill="#60ff9f" d="M187.4 188.4l3.8 3.9-2.1 4.6-3.8-3.8z"/>
<path fill="#80ff80" d="M183.6 184.2l3.8 4.2-2.1 4.7-3.7-4.2z"/>
<path fill="#9fff60" d="M179.9 179.7l3.7 4.5-2 4.7-3.8-4.6z"/>
<path fill="#cfff30" d="M176.1 174.7l3.8 5-2.1 4.6-3.8-4.9z"/>
<path fill="#efff10" d="M172.3 169.4l3.8 5.3-2.1 4.7-3.7-5.3z"/>
<path fill="#ffdf00" d="M168.6 163.8l3.7 5.6-2 4.7-3.8-5.7z"/>
<path fill="#ffbf00" d="M164.8 157.8l3.8 6-2.1 4.6-3.8-6z"/>
<path fill="#ff8f00" d="M161 151.4l3.8 6.4-2.1 4.6-3.7-6.3z"/>
<path fill="#ff5000" d="M157.2 144.7l3.8 6.7-2 4.7-3.8-6.8z"/>
<path fill="#ff6000" class="t" d="M306.2 135.8l3.8-7.3-2 5-3.8 7.3z"/>
<path fill="#ff8f00" class="t" d="M302.5 142.7l3.7-6.9-2 5-3.8 6.9z"/>
<path fill="#ffbf00" class="t" d="M298.7 149.3l3.8-6.6-2.1 5-3.8 6.6z"/>
<path fill="#ffef00" class="t" d="M294.9 155.5l3.8-6.2-2.1 5-3.7 6.2z"/>
<path fill="#efff10" class="t" d="M291.2 161.3l3.7-5.8-2 5-3.8 5.8z"/>
<path fill="#cfff30" class="t" d="M287.4 166.8l3.8-5.5-2.1 5-3.8 5.5z"/>
<path fill="#afff50" d="M283.6 171.9l3.8-5.1-2.1 5-3.7 5.2z"/>
<path fill="#8fff70" d="M279.9 176.7l3.7-4.8-2 5.1-3.8 4.7z"/>
<path fill="#70ff8f" d="M276.1 181.1l3.8-4.4-2.1 5-3.8 4.4z"/>
<path fill="#50ffaf" d="M272.3 185.2l3.8-4.1-2.1 5-3.7 4.1z"/>
<path fill="#30ffcf" d="M268.6 188.9l3.7-3.7-2 5-3.8 3.7z"/>
<path fill="#20ffdf" d="M264.8 192.2l3.8-3.3-2.1 5-3.8 3.3z"/>
<path fill="#10ffef" d="M261 195.2l3.8-3-2.1 5-3.7 3z"/>
<path fill="#0ff" d="M257.3 197.8l3.7-2.6-2 5-3.8 2.6z"/>
<path fill="#00efff" d="M253.5 200l3.8-2.2-2.1 5-3.8 2.3z"/>
<g fill="#00dfff"><path d="M249.7 201.9l3.8-1.9-2.1 5.1-3.7 1.9z"/><path d="M246 203.5l3.7-1.6-2 5.1-3.8 1.5z"/></g>
<g fill="#00cfff"><path d="M242.2 204.7l3.8-1.2-2.1 5-3.8 1.2z"/><path d="M238.4 205.5l3.8-.8-2.1 5-3.7 .8z"/><path d="M234.6 205.9l3.8-.4-2 5-3.8 .4z"/><path d="M230.9 206l3.7-.1-2 5-3.8 .1z"/><path d="M227.1 205.8l3.8 .2-2.1 5-3.7-.2z"/></g>
<g fill="#00dfff"><path d="M223.3 205.2l3.8 .6-2 5-3.8-.6z"/><path d="M219.6 204.2l3.7 1-2 5-3.8-1z"/></g>
<path fill="#00efff" d="M215.8 202.8l3.8 1.4-2.1 5-3.7-1.3z"/>
<path fill="#0ff" d="M212 201.1l3.8 1.7-2 5.1-3.8-1.7z"/>
<path fill="#10ffef" d="M208.3 199.1l3.7 2-2 5.1-3.8-2.1z"/>
<path fill="#20ffdf" d="M204.5 196.7l3.8 2.4-2.1 5-3.7-2.4z"/>
<path fill="#30ffcf" d="M200.7 193.9l3.8 2.8-2 5-3.8-2.8z"/>
<path fill="#50ffaf" d="M197 190.8l3.7 3.1-2 5-3.8-3.1z"/>
<path fill="#70ff8f" d="M193.2 187.3l3.8 3.5-2.1 5-3.7-3.5z"/>
<path fill="#8fff70" d="M189.4 183.4l3.8 3.9-2 5-3.8-3.9z"/>
<path fill="#afff50" d="M185.7 179.2l3.7 4.2-2 5-3.8-4.2z"/>
<path fill="#cfff30" d="M181.9 174.6l3.8 4.6-2.1 5-3.7-4.5z"/>
<path fill="#efff10" d="M178.1 169.7l3.8 4.9-2 5.1-3.8-5z"/>
<path fill="#ffef00" d="M174.4 164.4l3.7 5.3-2 5-3.8-5.3z"/>
<path fill="#ffbf00" d="M170.6 158.8l3.8 5.6-2.1 5-3.7-5.6z"/>
<path fill="#ff8f00" d="M166.8 152.8l3.8 6-2 5-3.8-6z"/>
<path fill="#ff6000" d="M163.1 146.4l3.7 6.4-2 5-3.8-6.4z"/>
<g fill="#ff3000"><path d="M159.3 139.7l3.8 6.7-2.1 5-3.8-6.7z"/><path class="t" d="M308.3 130.4l3.7-7.3-2 5.4-3.8 7.3z"/></g>
<path fill="#ff6000" class="t" d="M304.5 137.3l3.8-6.9-2.1 5.4-3.7 6.9z"/>
<path fill="#ff8f00" class="t" d="M300.7 143.9l3.8-6.6-2 5.4-3.8 6.6z"/>
<path fill="#ffbf00" class="t" d="M297 150.1l3.7-6.2-2 5.4-3.8 6.2z"/>
<path fill="#ffdf00" class="t" d="M293.2 156l3.8-5.9-2.1 5.4-3.7 5.8z"/>
<path fill="#efff10" d="M289.4 161.4l3.8-5.4-2 5.3-3.8 5.5z"/>
<path fill="#cfff30" d="M285.7 166.6l3.7-5.2-2 5.4-3.8 5.1z"/>
<path fill="#afff50" d="M281.9 171.3l3.8-4.7-2.1 5.3-3.7 4.8z"/>
<path fill="#8fff70" d="M278.1 175.8l3.8-4.5-2 5.4-3.8 4.4z"/>
<path fill="#80ff80" d="M274.4 179.8l3.7-4-2 5.3-3.8 4.1z"/>
<path fill="#60ff9f" d="M270.6 183.5l3.8-3.7-2.1 5.4-3.7 3.7z"/>
<path fill="#50ffaf" d="M266.8 186.8l3.8-3.3-2 5.4-3.8 3.3z"/>
<path fill="#40ffbf" d="M263.1 189.8l3.7-3-2 5.4-3.8 3z"/>
<path fill="#30ffcf" d="M259.3 192.4l3.8-2.6-2.1 5.4-3.7 2.6z"/>
<path fill="#20ffdf" d="M255.5 194.7l3.8-2.3-2 5.4-3.8 2.2z"/>
<path fill="#10ffef" d="M251.8 196.6l3.7-1.9-2 5.3-3.8 1.9z"/>
<g fill="#0ff"><path d="M248 198.1l3.8-1.5-2.1 5.3-3.7 1.6z"/><path d="M244.2 199.3l3.8-1.2-2 5.4-3.8 1.2z"/><path d="M240.5 200.1l3.7-.8-2 5.4-3.8 .8z"/><path d="M236.7 200.6l3.8-.5-2.1 5.4-3.8 .4z"/><path d="M232.9 200.7l3.8-.1-2.1 5.3-3.7 .1z"/><path d="M229.2 200.4l3.7 .3-2 5.3-3.8-.2z"/><path d="M225.4 199.8l3.8 .6-2.1 5.4-3.8-.6z"/></g>
<path fill="#10ffef" d="M221.6 198.8l3.8 1-2.1 5.4-3.7-1z"/>
<g fill="#20ffdf"><path d="M217.9 197.5l3.7 1.3-2 5.4-3.8-1.4z"/><path d="M214.1 195.8l3.8 1.7-2.1 5.3-3.8-1.7z"/></g>
<path fill="#40ffbf" d="M210.3 193.7l3.8 2.1-2.1 5.3-3.7-2z"/>
<path fill="#50ffaf" d="M206.6 191.3l3.7 2.4-2 5.4-3.8-2.4z"/>
<path fill="#60ff9f" d="M202.8 188.5l3.8 2.8-2.1 5.4-3.8-2.8z"/>
<path fill="#80ff80" d="M199 185.4l3.8 3.1-2.1 5.4-3.7-3.1z"/>
<path fill="#8fff70" d="M195.3 181.9l3.7 3.5-2 5.4-3.8-3.5z"/>
<path fill="#afff50" d="M191.5 178.1l3.8 3.8-2.1 5.4-3.8-3.9z"/>
<path fill="#cfff30" d="M187.7 173.8l3.8 4.3-2.1 5.3-3.7-4.2z"/>
<path fill="#efff10" d="M184 169.3l3.7 4.5-2 5.4-3.8-4.6z"/>
<path fill="#ffdf00" d="M180.2 164.4l3.8 4.9-2.1 5.3-3.8-4.9z"/>
<path fill="#ffbf00" d="M176.4 159.1l3.8 5.3-2.1 5.3-3.7-5.3z"/>
<path fill="#ff8f00" d="M172.7 153.4l3.7 5.7-2 5.3-3.8-5.6z"/>
<path fill="#ff6000" d="M168.9 147.4l3.8 6-2.1 5.4-3.8-6z"/>
<path fill="#ff3000" d="M165.1 141l3.8 6.4-2.1 5.4-3.7-6.4z"/>
<path fill="#f00" d="M161.4 134.3l3.7 6.7-2 5.4-3.8-6.7z"/>
<path fill="#ff1000" class="t" d="M310.3 124.7l3.8-7.3-2.1 5.7-3.7 7.3z"/>
<path fill="#ff4000" class="t" d="M306.6 131.6l3.7-6.9-2 5.7-3.8 6.9z"/>
<path fill="#ff6000" class="t" d="M302.8 138.2l3.8-6.6-2.1 5.7-3.8 6.6z"/>
<path fill="#ff8f00" class="t" d="M299 144.4l3.8-6.2-2.1 5.7-3.7 6.2z"/>
<path fill="#ffbf00" d="M295.3 150.2l3.7-5.8-2 5.7-3.8 5.9z"/>
<path fill="#ffdf00" d="M291.5 155.7l3.8-5.5-2.1 5.8-3.8 5.4z"/>
<path fill="#ff0" d="M287.7 160.8l3.8-5.1-2.1 5.7-3.7 5.2z"/>
<path fill="#dfff20" d="M284 165.6l3.7-4.8-2 5.8-3.8 4.7z"/>
<path fill="#bfff40" d="M280.2 170l3.8-4.4-2.1 5.7-3.8 4.5z"/>
<path fill="#9fff60" d="M276.4 174.1l3.8-4.1-2.1 5.8-3.7 4z"/>
<path fill="#8fff70" d="M272.7 177.8l3.7-3.7-2 5.7-3.8 3.7z"/>
<path fill="#80ff80" d="M268.9 181.1l3.8-3.3-2.1 5.7-3.8 3.3z"/>
<path fill="#60ff9f" d="M265.1 184.1l3.8-3-2.1 5.7-3.7 3z"/>
<path fill="#50ffaf" d="M261.4 186.7l3.7-2.6-2 5.7-3.8 2.6z"/>
<g fill="#40ffbf"><path d="M257.6 188.9l3.8-2.2-2.1 5.7-3.8 2.3z"/><path d="M253.8 190.8l3.8-1.9-2.1 5.8-3.7 1.9z"/></g>
<g fill="#30ffcf"><path d="M250.1 192.4l3.7-1.6-2 5.8-3.8 1.5z"/><path d="M246.3 193.6l3.8-1.2-2.1 5.7-3.8 1.2z"/><path d="M242.5 194.4l3.8-.8-2.1 5.7-3.7 .8z"/></g>
<path fill="#20ffdf" d="M238.8 194.8l3.7-.4-2 5.7-3.8 .5z"/>
<g fill="#30ffcf"><path d="M235 194.9l3.8-.1-2.1 5.8-3.8 .1z"/><path d="M231.2 194.7l3.8 .2-2.1 5.8-3.7-.3z"/><path d="M227.4 194.1l3.8 .6-2 5.7-3.8-.6z"/></g>
<g fill="#40ffbf"><path d="M223.7 193.1l3.7 1-2 5.7-3.8-1z"/><path d="M219.9 191.7l3.8 1.4-2.1 5.7-3.7-1.3z"/></g>
<path fill="#50ffaf" d="M216.1 190l3.8 1.7-2 5.8-3.8-1.7z"/>
<path fill="#60ff9f" d="M212.4 188l3.7 2-2 5.8-3.8-2.1z"/>
<path fill="#80ff80" d="M208.6 185.6l3.8 2.4-2.1 5.7-3.7-2.4z"/>
<path fill="#8fff70" d="M204.8 182.8l3.8 2.8-2 5.7-3.8-2.8z"/>
<path fill="#9fff60" d="M201.1 179.7l3.7 3.1-2 5.7-3.8-3.1z"/>
<path fill="#bfff40" d="M197.3 176.2l3.8 3.5-2.1 5.7-3.7-3.5z"/>
<path fill="#dfff20" d="M193.5 172.3l3.8 3.9-2 5.7-3.8-3.8z"/>
<path fill="#ff0" d="M189.8 168.1l3.7 4.2-2 5.8-3.8-4.3z"/>
<path fill="#ffdf00" d="M186 163.5l3.8 4.6-2.1 5.7-3.7-4.5z"/>
<path fill="#ffbf00" d="M182.2 158.6l3.8 4.9-2 5.8-3.8-4.9z"/>
<path fill="#ff8f00" d="M178.5 153.3l3.7 5.3-2 5.8-3.8-5.3z"/>
<path fill="#ff6000" d="M174.7 147.7l3.8 5.6-2.1 5.8-3.7-5.7z"/>
<path fill="#ff4000" d="M170.9 141.7l3.8 6-2 5.7-3.8-6z"/>
<path fill="#ff1000" d="M167.2 135.3l3.7 6.4-2 5.7-3.8-6.4z"/>
<g fill="#df0000"><path d="M163.4 128.6l3.8 6.7-2.1 5.7-3.7-6.7z"/><path class="t" d="M312.4 118.6l3.8-7.3-2.1 6.1-3.8 7.3z"/></g>
<path fill="#ff1000" class="t" d="M308.6 125.5l3.8-6.9-2.1 6.1-3.7 6.9z"/>
<path fill="#ff3000" class="t" d="M304.8 132.1l3.8-6.6-2 6.1-3.8 6.6z"/>
<path fill="#ff6000" d="M301.1 138.3l3.7-6.2-2 6.1-3.8 6.2z"/>
<path fill="#ff8f00" d="M297.3 144.1l3.8-5.8-2.1 6.1-3.7 5.8z"/>
<path fill="#ffaf00" d="M293.5 149.6l3.8-5.5-2 6.1-3.8 5.5z"/>
<path fill="#ffcf00" d="M289.8 154.8l3.7-5.2-2 6.1-3.8 5.1z"/>
<path fill="#ffef00" d="M286 159.5l3.8-4.7-2.1 6-3.7 4.8z"/>
<path fill="#efff10" d="M282.2 163.9l3.8-4.4-2 6.1-3.8 4.4z"/>
<path fill="#cfff30" d="M278.5 168l3.7-4.1-2 6.1-3.8 4.1z"/>
<path fill="#bfff40" d="M274.7 171.7l3.8-3.7-2.1 6.1-3.7 3.7z"/>
<path fill="#afff50" d="M270.9 175l3.8-3.3-2 6.1-3.8 3.3z"/>
<path fill="#8fff70" d="M267.2 178l3.7-3-2 6.1-3.8 3z"/>
<path fill="#80ff80" d="M263.4 180.6l3.8-2.6-2.1 6.1-3.7 2.6z"/>
<g fill="#70ff8f"><path d="M259.6 182.9l3.8-2.3-2 6.1-3.8 2.2z"/><path d="M255.9 184.8l3.7-1.9-2 6-3.8 1.9z"/></g>
<g fill="#60ff9f"><path d="M252.1 186.3l3.8-1.5-2.1 6-3.7 1.6z"/><path d="M248.3 187.5l3.8-1.2-2 6.1-3.8 1.2z"/></g>
<g fill="#50ffaf"><path d="M244.6 188.3l3.7-.8-2 6.1-3.8 .8z"/><path d="M240.8 188.7l3.8-.4-2.1 6.1-3.7 .4z"/><path d="M237 188.8l3.8-.1-2 6.1-3.8 .1z"/></g>
<g fill="#60ff9f"><path d="M233.3 188.6l3.7 .2-2 6.1-3.8-.2z"/><path d="M229.5 188l3.8 .6-2.1 6.1-3.8-.6z"/></g>
<g fill="#70ff8f"><path d="M225.7 187l3.8 1-2.1 6.1-3.7-1z"/><path d="M222 185.7l3.7 1.3-2 6.1-3.8-1.4z"/></g>
<path fill="#80ff80" d="M218.2 184l3.8 1.7-2.1 6-3.8-1.7z"/>
<path fill="#8fff70" d="M214.4 181.9l3.8 2.1-2.1 6-3.7-2z"/>
<path fill="#afff50" d="M210.7 179.5l3.7 2.4-2 6.1-3.8-2.4z"/>
<path fill="#bfff40" d="M206.9 176.7l3.8 2.8-2.1 6.1-3.8-2.8z"/>
<path fill="#cfff30" d="M203.1 173.6l3.8 3.1-2.1 6.1-3.7-3.1z"/>
<path fill="#efff10" d="M199.4 170.1l3.7 3.5-2 6.1-3.8-3.5z"/>
<path fill="#ffef00" d="M195.6 166.2l3.8 3.9-2.1 6.1-3.8-3.9z"/>
<path fill="#ffcf00" d="M191.8 162l3.8 4.2-2.1 6.1-3.7-4.2z"/>
<path fill="#ffaf00" d="M188.1 157.5l3.7 4.5-2 6.1-3.8-4.6z"/>
<path fill="#ff8f00" d="M184.3 152.5l3.8 5-2.1 6-3.8-4.9z"/>
<path fill="#ff6000" d="M180.5 147.2l3.8 5.3-2.1 6.1-3.7-5.3z"/>
<path fill="#ff3000" d="M176.8 141.6l3.7 5.6-2 6.1-3.8-5.6z"/>
<path fill="#ff1000" d="M173 135.6l3.8 6-2.1 6.1-3.8-6z"/>
<path fill="#df0000" d="M169.2 129.2l3.8 6.4-2.1 6.1-3.7-6.4z"/>
<g fill="#af0000"><path d="M165.4 122.5l3.8 6.7-2 6.1-3.8-6.7z"/><path class="t" d="M314.4 112.1l3.8-7.2-2 6.4-3.8 7.3z"/></g>
<path fill="#df0000" class="t" d="M310.7 119.1l3.7-7-2 6.5-3.8 6.9z"/>
<path fill="#f00" d="M306.9 125.6l3.8-6.5-2.1 6.4-3.8 6.6z"/>
<path fill="#ff3000" d="M303.1 131.8l3.8-6.2-2.1 6.5-3.7 6.2z"/>
<path fill="#ff5000" d="M299.4 137.7l3.7-5.9-2 6.5-3.8 5.8z"/>
<path fill="#ff8000" d="M295.6 143.2l3.8-5.5-2.1 6.4-3.8 5.5z"/>
<path fill="#ff9f00" d="M291.8 148.3l3.8-5.1-2.1 6.4-3.7 5.2z"/>
<path fill="#ffbf00" d="M288.1 153.1l3.7-4.8-2 6.5-3.8 4.7z"/>
<path fill="#ffdf00" d="M284.3 157.5l3.8-4.4-2.1 6.4-3.8 4.4z"/>
<path fill="#ffef00" d="M280.5 161.5l3.8-4-2.1 6.4-3.7 4.1z"/>
<path fill="#efff10" d="M276.8 165.2l3.7-3.7-2 6.5-3.8 3.7z"/>
<path fill="#dfff20" d="M273 168.6l3.8-3.4-2.1 6.5-3.8 3.3z"/>
<path fill="#bfff40" d="M269.2 171.5l3.8-2.9-2.1 6.4-3.7 3z"/>
<g fill="#afff50"><path d="M265.5 174.2l3.7-2.7-2 6.5-3.8 2.6z"/><path d="M261.7 176.4l3.8-2.2-2.1 6.4-3.8 2.3z"/></g>
<path fill="#9fff60" d="M257.9 178.3l3.8-1.9-2.1 6.5-3.7 1.9z"/>
<g fill="#8fff70"><path d="M254.2 179.8l3.7-1.5-2 6.5-3.8 1.5z"/><path d="M250.4 181l3.8-1.2-2.1 6.5-3.8 1.2z"/><path d="M246.6 181.8l3.8-.8-2.1 6.5-3.7 .8z"/><path d="M242.8 182.3l3.8-.5-2 6.5-3.8 .4z"/><path d="M239.1 182.4l3.7-.1-2 6.4-3.8 .1z"/><path d="M235.3 182.1l3.8 .3-2.1 6.4-3.7-.2z"/><path d="M231.5 181.5l3.8 .6-2 6.5-3.8-.6z"/></g>
<path fill="#9fff60" d="M227.8 180.5l3.7 1-2 6.5-3.8-1z"/>
<g fill="#afff50"><path d="M224 179.2l3.8 1.3-2.1 6.5-3.7-1.3z"/><path d="M220.2 177.5l3.8 1.7-2 6.5-3.8-1.7z"/></g>
<path fill="#bfff40" d="M216.5 175.5l3.7 2-2 6.5-3.8-2.1z"/>
<path fill="#dfff20" d="M212.7 173l3.8 2.5-2.1 6.4-3.7-2.4z"/>
<path fill="#efff10" d="M208.9 170.3l3.8 2.7-2 6.5-3.8-2.8z"/>
<path fill="#ffef00" d="M205.2 167.1l3.7 3.2-2 6.4-3.8-3.1z"/>
<path fill="#ffdf00" d="M201.4 163.6l3.8 3.5-2.1 6.5-3.7-3.5z"/>
<path fill="#ffbf00" d="M197.6 159.8l3.8 3.8-2 6.5-3.8-3.9z"/>
<path fill="#ff9f00" d="M193.9 155.6l3.7 4.2-2 6.4-3.8-4.2z"/>
<path fill="#ff8000" d="M190.1 151l3.8 4.6-2.1 6.4-3.7-4.5z"/>
<path fill="#ff5000" d="M186.3 146.1l3.8 4.9-2 6.5-3.8-5z"/>
<path fill="#ff3000" d="M182.6 140.8l3.7 5.3-2 6.4-3.8-5.3z"/>
<path fill="#f00" d="M178.8 135.1l3.8 5.7-2.1 6.4-3.7-5.6z"/>
<path fill="#df0000" d="M175 129.1l3.8 6-2 6.5-3.8-6z"/>
<path fill="#af0000" d="M171.3 122.8l3.7 6.3-2 6.5-3.8-6.4z"/>
<path fill="#800000" d="M167.5 116l3.8 6.8-2.1 6.4-3.8-6.7z"/>
</g>
</g>
<g id="pb">
<path class="gr" d="M555 253.9L480 230.6M439 247.8L596.1 236.8M633.6 248.4L558.6 225.1M401.5 236.2L558.6 225.1M480 230.6L480 86.8M558.6 225.1L558.6 81.2M633.6 248.4L633.6 104.5M596.1 236.8L596.1 92.9M401.5 188.2L558.6 177.1M558.6 177.1L633.6 200.4M401.5 140.3L558.6 129.2M558.6 129.2L633.6 152.5M401.5 92.3L558.6 81.2M558.6 81.2L633.6 104.5"/>
<path class="ax" d="M401.5 92.3L401.5 236.2L476.5 259.5L633.6 248.4M476.5 259.5L479.9 260.6M476.5 259.5L472.9 259.8M555 253.9L558.5 255M439 247.8L435.4 248.1M633.6 248.4L637 249.5M401.5 236.2L397.9 236.5M401.5 236.2L398.1 235.1M401.5 188.2L398.1 187.2M401.5 140.3L398.1 139.2M401.5 92.3L398.1 91.2"/>
<path class="ct" stroke="#0020ff" d="M525 244.6L525 244.6L520.9 244.8L516.2 244.9L512.9 244.8L510.7 244.7L507.7 244.4L504.2 244L501.8 243.4L501.8 243.4L501.8 243.4L500.5 242.8L500.2 242.1L500.9 241.6L501.6 241.3L503.2 240.8L506.4 240.3L510 240L514.2 239.8L518.9 239.7L522.2 239.8L524.4 239.9L527.4 240.2L530.9 240.6L533.3 241.2L534.6 241.8L534.9 242.5L534.2 243L533.5 243.3L531.9 243.8L528.7 244.3L525.1 244.6L525 244.6z"/>
<path class="ct" stroke="#00afff" d="M532.5 247L532.5 247L528.5 247.2L524.2 247.4L519.7 247.5L515.5 247.4L514.8 247.4L509.6 247.3L508.1 247.3L503.9 247L502.4 246.9L497.8 246.6L497.3 246.5L494.1 246.1L490.9 245.6L488.3 245.1L486.1 244.5L486.1 244.5L486.1 244.5L484.5 243.9L483.4 243.3L482.8 242.6L482.8 242L482.8 241.9L483.7 241.1L484.1 240.9L485.6 240.3L486.2 240.1L488.9 239.4L489.3 239.3L491.9 238.8L495.2 238.3L498.7 238L502.5 237.6L506.6 237.4L510.9 237.2L515.4 237.1L519.6 237.2L520.3 237.2L525.5 237.3L527 237.3L531.2 237.6L532.7 237.7L537.3 238L537.8 238.1L541 238.5L544.2 239L546.8 239.5L549 240.1L550.6 240.7L551.7 241.3L552.3 242L552.3 242.6L552.3 242.7L551.4 243.5L551 243.7L549.5 244.3L548.9 244.5L546.2 245.2L545.8 245.3L543.2 245.8L539.9 246.3L536.4 246.6L532.6 247L532.5 247z"/>
<path class="ct" stroke="#40ffbf" d="M540 249.3L540 249.3L536 249.5L531.9 249.7L527.6 249.9L523.1 250L519.4 250L518.4 250L513.5 250L510.3 250L508.3 249.9L503.3 249.7L502.9 249.7L497.4 249.4L497.1 249.4L492.4 249.1L490.7 248.9L488 248.7L484.1 248.2L483.3 248.1L480.6 247.8L477.5 247.3L474.8 246.7L472.5 246.2L470.4 245.6L470.4 245.6L470.4 245.6L468.7 245L467.3 244.4L466.3 243.8L465.6 243.1L465.4 242.6L465.3 242.4L465.5 241.7L465.9 241.2L466.2 240.9L467.3 240.2L467.4 240.1L469.4 239.3L469.5 239.3L471.8 238.6L472.8 238.3L474.5 237.9L477.5 237.3L478.1 237.2L480.6 236.8L484 236.4L487.5 236L491.2 235.6L495 235.3L495 235.3L495 235.3L499.1 235.1L503.2 234.9L507.5 234.7L512 234.6L515.7 234.6L516.7 234.6L521.6 234.6L524.8 234.6L526.8 234.7L531.8 234.9L532.2 234.9L537.7 235.2L538 235.2L542.7 235.5L544.4 235.7L547.1 235.9L551 236.4L551.8 236.5L554.5 236.8L557.6 237.3L560.3 237.9L562.6 238.4L564.7 239L564.7 239L564.7 239L566.4 239.6L567.8 240.2L568.8 240.8L569.5 241.5L569.7 242L569.8 242.2L569.6 242.9L569.2 243.4L568.9 243.7L567.8 244.4L567.7 244.5L565.7 245.3L565.6 245.3L563.3 246L562.3 246.3L560.6 246.7L557.6 247.3L557 247.4L554.5 247.8L551.1 248.2L547.6 248.6L543.9 249L540.1 249.3L540 249.3z"/>
<path class="ct" stroke="#cfff30" d="M547.5 251.6L547.5 251.6L543.6 251.9L539.5 252.1L535.2 252.3L530.9 252.4L526.4 252.5L523.9 252.6L521.8 252.6L517 252.6L513.4 252.6L512.1 252.6L507 252.5L505.3 252.5L501.7 252.3L498.5 252.2L496.1 252.1L492.6 251.9L490.3 251.8L487.3 251.6L484 251.3L482.5 251.2L478.1 250.8L477.1 250.7L474.2 250.4L470.5 249.9L469 249.7L467.2 249.4L464.2 248.9L461.5 248.4L459 247.9L456.7 247.3L454.7 246.7L454.7 246.7L454.7 246.7L453 246.1L451.5 245.5L450.2 244.9L449.2 244.3L448.5 243.6L448.2 243.2L448 242.9L447.9 242.2L448.1 241.7L448.1 241.5L448.7 240.7L449 240.5L449.8 239.9L450.6 239.5L451.3 239.1L452.6 238.6L453.5 238.2L454.9 237.8L456.6 237.3L457.4 237.1L460.2 236.4L460.9 236.3L463.1 235.9L466.2 235.3L467.6 235.1L469.4 234.8L472.8 234.4L476.3 234L479.9 233.6L483.7 233.3L487.5 233L487.5 233L487.5 233L491.5 232.7L495.6 232.5L499.9 232.3L504.2 232.2L508.7 232.1L511.2 232L513.3 232L518.1 232L521.7 232L523 232L528.1 232.1L529.8 232.1L533.4 232.3L536.6 232.4L539 232.5L542.5 232.7L544.8 232.8L547.8 233L551.1 233.3L552.6 233.4L557 233.8L558 233.9L560.9 234.2L564.6 234.7L566.1 234.9L567.9 235.2L570.9 235.7L573.6 236.2L576.1 236.7L578.4 237.3L580.4 237.9L580.4 237.9L580.4 237.9L582.1 238.5L583.6 239.1L584.9 239.7L585.9 240.3L586.6 241L586.9 241.4L587.1 241.7L587.2 242.4L587 242.9L587 243.1L586.4 243.9L586.1 244.1L585.3 244.7L584.5 245.1L583.8 245.5L582.5 246L581.6 246.4L580.2 246.8L578.5 247.3L577.7 247.5L574.9 248.2L574.2 248.3L572 248.7L568.9 249.3L567.5 249.5L565.7 249.8L562.3 250.2L558.8 250.6L555.2 251L551.4 251.3L547.5 251.6L547.5 251.6z"/>
<path class="ct" stroke="#ff9f00" d="M555 253.9L551.1 254.2L547 254.4L542.8 254.7L538.6 254.8L534.2 255L529.8 255.1L528.7 255.1L525.2 255.2L520.5 255.2L517.1 255.2L515.7 255.2L510.7 255.2L508.1 255.1L505.7 255.1L500.4 254.9L500.4 254.9L495 254.8L493.7 254.7L489.3 254.5L487.7 254.4L483.4 254.2L482.2 254.1L477.2 253.7L477.2 253.7L472.6 253.3L470.5 253.1L468.3 252.9L464.3 252.5L463.2 252.4L460.6 252L457.1 251.6L454.6 251.2L453.9 251.1L450.9 250.6L448.1 250.1L445.5 249.5L443.1 249L441 248.4L439 247.8M596.1 236.8L597.9 237.3L599.5 237.9L600.8 238.6L602 239.2L603 239.8L603.7 240.5L603.9 240.7L604.3 241.2L604.5 241.9L604.6 242.4L604.6 242.6L604.3 243.3L604.1 243.7L603.8 244.1L602.9 244.8L602.9 244.8L601.6 245.7L601.3 245.8L599.9 246.5L599.3 246.7L597.6 247.4L597.1 247.5L594.7 248.3L594.7 248.3L592.1 249L590.8 249.3L589.3 249.6L586.4 250.2L585.5 250.4L583.3 250.8L580.2 251.3L577.7 251.6L576.9 251.7L573.5 252.2L570 252.6L566.4 253L562.7 253.3L558.9 253.7L555 253.9M439 247.8L437.2 247.3L435.6 246.7L434.3 246L433.1 245.4L432.1 244.8L431.4 244.1L431.2 243.9L430.8 243.4L430.6 242.7L430.5 242.2L430.5 242L430.8 241.3L431 240.9L431.3 240.5L432.2 239.8L432.2 239.8L433.5 238.9L433.8 238.8L435.2 238.1L435.8 237.9L437.5 237.2L438 237.1L440.4 236.3L440.4 236.3L443 235.6L444.3 235.3L445.8 235L448.7 234.4L449.6 234.2L451.8 233.8L454.9 233.3L457.4 233L458.2 232.9L461.6 232.4L465.1 232L468.7 231.6L472.4 231.3L476.2 230.9L480 230.6M480 230.6L484 230.4L488.1 230.2L492.3 229.9L496.5 229.8L500.9 229.6L505.3 229.5L506.4 229.5L509.9 229.4L514.6 229.4L518 229.4L519.4 229.4L524.4 229.4L527 229.5L529.4 229.5L534.7 229.7L534.7 229.7L540.1 229.8L541.4 229.9L545.8 230.1L547.4 230.2L551.7 230.4L552.9 230.5L557.9 230.9L557.9 230.9L562.5 231.3L564.6 231.5L566.8 231.7L570.8 232.1L571.9 232.2L574.5 232.6L578 233L580.5 233.4L581.2 233.5L584.2 234L587 234.5L589.6 235.1L592 235.6L594.1 236.2L596.1 236.8"/>
<path class="ct" stroke="#ff1000" d="M503 257.6L499.1 257.5L495.6 257.4L493.8 257.4L489 257.2L488.2 257.2L482.9 256.9L482.5 256.9L477.3 256.6L476.6 256.5L472.1 256.2L470.4 256.1L467.2 255.9L463.9 255.6M621 244.5L620.4 245L619.7 245.6L619.2 245.8L618 246.6L617.8 246.7L616.1 247.5L616 247.5L613.9 248.3L613.6 248.4L611.6 249L610.7 249.3L609.1 249.8L607.1 250.3M414.1 240.1L414.7 239.6L415.4 239L415.9 238.8L417.1 238L417.3 237.9L419 237.1L419.1 237.1L421.2 236.3L421.5 236.2L423.5 235.6L424.4 235.3L426 234.8L428 234.3M532.1 227L536 227.1L539.5 227.2L541.3 227.2L546.1 227.4L546.9 227.4L552.2 227.7L552.6 227.7L557.8 228L558.5 228.1L563 228.4L564.7 228.5L567.9 228.7L571.2 229"/>
<path class="ct" stroke="#800000" d="M478.1 259.4L475.7 259.3M632.8 248.2L632 248.5M402.3 236.4L403.1 236.1M557 225.2L559.4 225.3"/>
<g class="sf">
<path fill="#af0000" d="M556.5 97.1l4-3.7-1.9-4-3.9 3.7z"/>
<path fill="#bf0000" d="M552.6 100.7l3.9-3.6-1.8-4-4 3.5z"/>
<path fill="#df0000" d="M548.7 104.2l3.9-3.5-1.9-4.1-3.9 3.4z"/>
<path fill="#ef0000" d="M544.8 107.6l3.9-3.4-1.9-4.2-3.9 3.4z"/>
<path fill="#ff1000" d="M540.8 111l4-3.4-1.9-4.2-3.9 3.2z"/>
<path fill="#ff2000" d="M536.9 114.1l3.9-3.1-1.8-4.4-4 3.1z"/>
<path fill="#ff3000" d="M533 117.2l3.9-3.1-1.9-4.4-3.9 2.9z"/>
<path fill="#ff5000" d="M529.1 120.1l3.9-2.9-1.9-4.6-3.9 2.8z"/>
<path fill="#ff6000" d="M525.1 122.9l4-2.8-1.9-4.7-3.9 2.7z"/>
<path fill="#ff7000" d="M521.2 125.5l3.9-2.6-1.8-4.8-4 2.5z"/>
<path fill="#ff8000" d="M517.3 127.9l3.9-2.4-1.9-4.9-3.9 2.4z"/>
<path fill="#ff8f00" d="M513.3 130.1l4-2.2-1.9-4.9-3.9 2.1z"/>
<g fill="#ff9f00"><path d="M509.4 132.2l3.9-2.1-1.8-5-4 2z"/><path d="M505.5 134l3.9-1.8-1.9-5.1-3.9 1.7z"/></g>
<path fill="#ffaf00" d="M501.6 135.6l3.9-1.6-1.9-5.2-3.9 1.6z"/>
<g fill="#ffbf00"><path d="M497.6 137l4-1.4-1.9-5.2-3.9 1.3z"/><path d="M493.7 138.1l3.9-1.1-1.8-5.3-4 1.1z"/><path d="M489.8 139l3.9-.9-1.9-5.3-3.9 .9z"/><path d="M485.9 139.7l3.9-.7-1.9-5.3-3.9 .6z"/></g>
<path fill="#ffcf00" d="M481.9 140.1l4-.4-1.9-5.4-4 .4z"/>
<g fill="#ffbf00"><path d="M478 140.3l3.9-.2-1.9-5.4-3.9 .2z"/><path d="M474.1 140.2l3.9 .1-1.9-5.4-3.9-.1z"/><path d="M470.1 139.8l4 .4-1.9-5.4-3.9-.3z"/><path d="M466.2 139.2l3.9 .6-1.8-5.3-4-.6z"/></g>
<path fill="#ffaf00" d="M462.3 138.4l3.9 .8-1.9-5.3-3.9-.7z"/>
<g fill="#ff9f00"><path d="M458.4 137.3l3.9 1.1-1.9-5.2-3.9-1z"/><path d="M454.4 136.1l4 1.2-1.9-5.1-3.9-1.2z"/></g>
<path fill="#ff8f00" d="M450.5 134.6l3.9 1.5-1.8-5.1-4-1.4z"/>
<path fill="#ff8000" d="M446.6 132.9l3.9 1.7-1.9-5-3.9-1.6z"/>
<path fill="#ff7000" d="M442.6 131l4 1.9-1.9-4.9-3.9-1.8z"/>
<path fill="#ff6000" d="M438.7 129l3.9 2-1.8-4.8-4-2z"/>
<path fill="#ff5000" d="M434.8 126.8l3.9 2.2-1.9-4.8-3.9-2.1z"/>
<path fill="#ff3000" d="M430.9 124.4l3.9 2.4-1.9-4.7-3.9-2.3z"/>
<path fill="#ff2000" d="M426.9 121.9l4 2.5-1.9-4.6-3.9-2.4z"/>
<path fill="#ff1000" d="M423 119.3l3.9 2.6-1.8-4.5-4-2.5z"/>
<path fill="#ef0000" d="M419.1 116.5l3.9 2.8-1.9-4.4-3.9-2.7z"/>
<path fill="#df0000" d="M415.2 113.7l3.9 2.8-1.9-4.3-3.9-2.7z"/>
<path fill="#bf0000" d="M411.2 110.7l4 3-1.9-4.2-3.9-2.9z"/>
<path fill="#af0000" d="M407.3 107.6l3.9 3.1-1.8-4.1-4-3z"/>
<path fill="#8f0000" d="M403.4 104.5l3.9 3.1-1.9-4-3.9-3.1z"/>
<path fill="#bf0000" d="M558.4 101l4-3.8-1.9-3.8-4 3.7z"/>
<path fill="#df0000" d="M554.5 104.7l3.9-3.7-1.9-3.9-3.9 3.6z"/>
<path fill="#ef0000" d="M550.6 108.3l3.9-3.6-1.9-4-3.9 3.5z"/>
<path fill="#ff1000" d="M546.6 111.9l4-3.6-1.9-4.1-3.9 3.4z"/>
<path fill="#ff2000" d="M542.7 115.3l3.9-3.4-1.8-4.3-4 3.4z"/>
<path fill="#ff4000" d="M538.8 118.6l3.9-3.3-1.9-4.3-3.9 3.1z"/>
<path fill="#ff5000" d="M534.9 121.7l3.9-3.1-1.9-4.5-3.9 3.1z"/>
<path fill="#ff7000" d="M530.9 124.7l4-3-1.9-4.5-3.9 2.9z"/>
<path fill="#ff8000" d="M527 127.6l3.9-2.9-1.8-4.6-4 2.8z"/>
<path fill="#ff8f00" d="M523.1 130.3l3.9-2.7-1.9-4.7-3.9 2.6z"/>
<path fill="#ff9f00" d="M519.1 132.8l4-2.5-1.9-4.8-3.9 2.4z"/>
<path fill="#ffaf00" d="M515.2 135.1l3.9-2.3-1.8-4.9-4 2.2z"/>
<path fill="#ffbf00" d="M511.3 137.2l3.9-2.1-1.9-5-3.9 2.1z"/>
<g fill="#ffcf00"><path d="M507.4 139.1l3.9-1.9-1.9-5-3.9 1.8z"/><path d="M503.4 140.8l4-1.7-1.9-5.1-3.9 1.6z"/></g>
<g fill="#ffdf00"><path d="M499.5 142.3l3.9-1.5-1.8-5.2-4 1.4z"/><path d="M495.6 143.5l3.9-1.2-1.9-5.3-3.9 1.1z"/></g>
<g fill="#ffef00"><path d="M491.7 144.4l3.9-.9-1.9-5.4-3.9 .9z"/><path d="M487.7 145.1l4-.7-1.9-5.4-3.9 .7z"/><path d="M483.8 145.5l3.9-.4-1.8-5.4-4 .4z"/><path d="M479.9 145.6l3.9-.1-1.9-5.4-3.9 .2z"/><path d="M475.9 145.5l4 .1-1.9-5.3-3.9-.1z"/></g>
<g fill="#ffdf00"><path d="M472 145.1l3.9 .4-1.8-5.3-4-.4z"/><path d="M468.1 144.5l3.9 .6-1.9-5.3-3.9-.6z"/></g>
<g fill="#ffcf00"><path d="M464.2 143.6l3.9 .9-1.9-5.3-3.9-.8z"/><path d="M460.2 142.5l4 1.1-1.9-5.2-3.9-1.1z"/></g>
<path fill="#ffbf00" d="M456.3 141.1l3.9 1.4-1.8-5.2-4-1.2z"/>
<path fill="#ffaf00" d="M452.4 139.6l3.9 1.5-1.9-5-3.9-1.5z"/>
<path fill="#ff9f00" d="M448.5 137.8l3.9 1.8-1.9-5-3.9-1.7z"/>
<path fill="#ff8f00" d="M444.5 135.8l4 2-1.9-4.9-4-1.9z"/>
<path fill="#ff8000" d="M440.6 133.7l3.9 2.1-1.9-4.8-3.9-2z"/>
<path fill="#ff7000" d="M436.7 131.4l3.9 2.3-1.9-4.7-3.9-2.2z"/>
<path fill="#ff5000" d="M432.7 128.9l4 2.5-1.9-4.6-3.9-2.4z"/>
<path fill="#ff4000" d="M428.8 126.3l3.9 2.6-1.8-4.5-4-2.5z"/>
<path fill="#ff2000" d="M424.9 123.6l3.9 2.7-1.9-4.4-3.9-2.6z"/>
<path fill="#ff1000" d="M421 120.7l3.9 2.9-1.9-4.3-3.9-2.8z"/>
<path fill="#ef0000" d="M417 117.8l4 2.9-1.9-4.2-3.9-2.8z"/>
<path fill="#df0000" d="M413.1 114.7l3.9 3.1-1.8-4.1-4-3z"/>
<path fill="#bf0000" d="M409.2 111.6l3.9 3.1-1.9-4-3.9-3.1z"/>
<path fill="#af0000" d="M405.2 108.3l4 3.3-1.9-4-3.9-3.1z"/>
<path fill="#df0000" d="M560.3 104.8l3.9-3.9-1.8-3.7-4 3.8z"/>
<path fill="#ef0000" d="M556.4 108.6l3.9-3.8-1.9-3.8-3.9 3.7z"/>
<path fill="#ff1000" d="M552.4 112.4l4-3.8-1.9-3.9-3.9 3.6z"/>
<path fill="#ff3000" d="M548.5 116l3.9-3.6-1.8-4.1-4 3.6z"/>
<path fill="#ff4000" d="M544.6 119.5l3.9-3.5-1.9-4.1-3.9 3.4z"/>
<path fill="#ff6000" d="M540.7 122.9l3.9-3.4-1.9-4.2-3.9 3.3z"/>
<path fill="#ff7000" d="M536.7 126.1l4-3.2-1.9-4.3-3.9 3.1z"/>
<path fill="#ff8000" d="M532.8 129.3l3.9-3.2-1.8-4.4-4 3z"/>
<path fill="#ff9f00" d="M528.9 132.2l3.9-2.9-1.9-4.6-3.9 2.9z"/>
<path fill="#ffaf00" d="M525 135l3.9-2.8-1.9-4.6-3.9 2.7z"/>
<path fill="#ffbf00" d="M521 137.6l4-2.6-1.9-4.7-4 2.5z"/>
<path fill="#ffcf00" d="M517.1 140.1l3.9-2.5-1.9-4.8-3.9 2.3z"/>
<path fill="#ffdf00" d="M513.2 142.3l3.9-2.2-1.9-5-3.9 2.1z"/>
<g fill="#ffef00"><path d="M509.2 144.3l4-2-1.9-5.1-3.9 1.9z"/><path d="M505.3 146l3.9-1.7-1.8-5.2-4 1.7z"/></g>
<g fill="#ff0"><path d="M501.4 147.5l3.9-1.5-1.9-5.2-3.9 1.5z"/><path d="M497.5 148.8l3.9-1.3-1.9-5.2-3.9 1.2z"/></g>
<g fill="#efff10"><path d="M493.5 149.7l4-.9-1.9-5.3-3.9 .9z"/><path d="M489.6 150.4l3.9-.7-1.8-5.3-4 .7z"/><path d="M485.7 150.9l3.9-.5-1.9-5.3-3.9 .4z"/><path d="M481.7 151l4-.1-1.9-5.4-3.9 .1z"/><path d="M477.8 150.8l3.9 .2-1.8-5.4-4-.1z"/></g>
<g fill="#ff0"><path d="M473.9 150.4l3.9 .4-1.9-5.3-3.9-.4z"/><path d="M470 149.7l3.9 .7-1.9-5.3-3.9-.6z"/></g>
<g fill="#ffef00"><path d="M466 148.8l4 .9-1.9-5.2-3.9-.9z"/><path d="M462.1 147.6l3.9 1.2-1.8-5.2-4-1.1z"/></g>
<path fill="#ffdf00" d="M458.2 146.2l3.9 1.4-1.9-5.1-3.9-1.4z"/>
<path fill="#ffcf00" d="M454.3 144.5l3.9 1.7-1.9-5.1-3.9-1.5z"/>
<path fill="#ffbf00" d="M450.3 142.6l4 1.9-1.9-4.9-3.9-1.8z"/>
<path fill="#ffaf00" d="M446.4 140.6l3.9 2-1.8-4.8-4-2z"/>
<path fill="#ff9f00" d="M442.5 138.3l3.9 2.3-1.9-4.8-3.9-2.1z"/>
<path fill="#ff8000" d="M438.5 135.9l4 2.4-1.9-4.6-3.9-2.3z"/>
<path fill="#ff7000" d="M434.6 133.4l3.9 2.5-1.8-4.5-4-2.5z"/>
<path fill="#ff6000" d="M430.7 130.7l3.9 2.7-1.9-4.5-3.9-2.6z"/>
<path fill="#ff4000" d="M426.8 127.8l3.9 2.9-1.9-4.4-3.9-2.7z"/>
<path fill="#ff3000" d="M422.8 124.9l4 2.9-1.9-4.2-3.9-2.9z"/>
<path fill="#ff1000" d="M418.9 121.8l3.9 3.1-1.8-4.2-4-2.9z"/>
<path fill="#ef0000" d="M415 118.6l3.9 3.2-1.9-4-3.9-3.1z"/>
<path fill="#df0000" d="M411.1 115.4l3.9 3.2-1.9-3.9-3.9-3.1z"/>
<path fill="#bf0000" d="M407.1 112l4 3.4-1.9-3.8-4-3.3z"/>
<path fill="#ef0000" d="M562.2 108.6l3.9-4-1.9-3.7-3.9 3.9z"/>
<path fill="#ff1000" d="M558.2 112.5l4-3.9-1.9-3.8-3.9 3.8z"/>
<path fill="#ff3000" d="M554.3 116.3l3.9-3.8-1.8-3.9-4 3.8z"/>
<path fill="#ff4000" d="M550.4 120l3.9-3.7-1.9-3.9-3.9 3.6z"/>
<path fill="#ff6000" d="M546.5 123.6l3.9-3.6-1.9-4-3.9 3.5z"/>
<path fill="#ff7000" d="M542.5 127.1l4-3.5-1.9-4.1-3.9 3.4z"/>
<path fill="#ff8f00" d="M538.6 130.5l3.9-3.4-1.8-4.2-4 3.2z"/>
<path fill="#ff9f00" d="M534.7 133.7l3.9-3.2-1.9-4.4-3.9 3.2z"/>
<path fill="#ffbf00" d="M530.8 136.8l3.9-3.1-1.9-4.4-3.9 2.9z"/>
<path fill="#ffcf00" d="M526.8 139.7l4-2.9-1.9-4.6-3.9 2.8z"/>
<path fill="#ffdf00" d="M522.9 142.4l3.9-2.7-1.8-4.7-4 2.6z"/>
<path fill="#ffef00" d="M519 145l3.9-2.6-1.9-4.8-3.9 2.5z"/>
<path fill="#ff0" d="M515 147.3l4-2.3-1.9-4.9-3.9 2.2z"/>
<path fill="#efff10" d="M511.1 149.4l3.9-2.1-1.8-5-4 2z"/>
<g fill="#dfff20"><path d="M507.2 151.2l3.9-1.8-1.9-5.1-3.9 1.7z"/><path d="M503.3 152.8l3.9-1.6-1.9-5.2-3.9 1.5z"/></g>
<g fill="#cfff30"><path d="M499.3 154.1l4-1.3-1.9-5.3-3.9 1.3z"/><path d="M495.4 155.1l3.9-1-1.8-5.3-4 .9z"/><path d="M491.5 155.8l3.9-.7-1.9-5.4-3.9 .7z"/><path d="M487.6 156.2l3.9-.4-1.9-5.4-3.9 .5z"/><path d="M483.6 156.4l4-.2-1.9-5.3-4 .1z"/><path d="M479.7 156.2l3.9 .2-1.9-5.4-3.9-.2z"/><path d="M475.8 155.7l3.9 .5-1.9-5.4-3.9-.4z"/></g>
<g fill="#dfff20"><path d="M471.8 155l4 .7-1.9-5.3-3.9-.7z"/><path d="M467.9 154l3.9 1-1.8-5.3-4-.9z"/></g>
<path fill="#efff10" d="M464 152.7l3.9 1.3-1.9-5.2-3.9-1.2z"/>
<path fill="#ff0" d="M460.1 151.2l3.9 1.5-1.9-5.1-3.9-1.4z"/>
<path fill="#ffef00" d="M456.1 149.4l4 1.8-1.9-5-3.9-1.7z"/>
<path fill="#ffdf00" d="M452.2 147.4l3.9 2-1.8-4.9-4-1.9z"/>
<path fill="#ffcf00" d="M448.3 145.3l3.9 2.1-1.9-4.8-3.9-2z"/>
<path fill="#ffbf00" d="M444.3 142.9l4 2.4-1.9-4.7-3.9-2.3z"/>
<path fill="#ff9f00" d="M440.4 140.4l3.9 2.5-1.8-4.6-4-2.4z"/>
<path fill="#ff8f00" d="M436.5 137.7l3.9 2.7-1.9-4.5-3.9-2.5z"/>
<path fill="#ff7000" d="M432.6 134.9l3.9 2.8-1.9-4.3-3.9-2.7z"/>
<path fill="#ff6000" d="M428.6 131.9l4 3-1.9-4.2-3.9-2.9z"/>
<path fill="#ff4000" d="M424.7 128.9l3.9 3-1.8-4.1-4-2.9z"/>
<path fill="#ff3000" d="M420.8 125.7l3.9 3.2-1.9-4-3.9-3.1z"/>
<path fill="#ff1000" d="M416.9 122.5l3.9 3.2-1.9-3.9-3.9-3.2z"/>
<path fill="#ef0000" d="M412.9 119.1l4 3.4-1.9-3.9-3.9-3.2z"/>
<path fill="#df0000" d="M409 115.7l3.9 3.4-1.8-3.7-4-3.4z"/>
<path fill="#ff1000" d="M564 112.2l4-4.1-1.9-3.5-3.9 4z"/>
<path fill="#ff2000" d="M560.1 116.2l3.9-4-1.8-3.6-4 3.9z"/>
<path fill="#ff4000" d="M556.2 120.1l3.9-3.9-1.9-3.7-3.9 3.8z"/>
<path fill="#ff6000" d="M552.3 123.9l3.9-3.8-1.9-3.8-3.9 3.7z"/>
<path fill="#ff8000" d="M548.3 127.7l4-3.8-1.9-3.9-3.9 3.6z"/>
<path fill="#ff8f00" d="M544.4 131.3l3.9-3.6-1.8-4.1-4 3.5z"/>
<path fill="#ffaf00" d="M540.5 134.7l3.9-3.4-1.9-4.2-3.9 3.4z"/>
<path fill="#ffbf00" d="M536.6 138.1l3.9-3.4-1.9-4.2-3.9 3.2z"/>
<path fill="#ffcf00" d="M532.6 141.3l4-3.2-1.9-4.4-3.9 3.1z"/>
<path fill="#ffef00" d="M528.7 144.3l3.9-3-1.8-4.5-4 2.9z"/>
<path fill="#ff0" d="M524.8 147.2l3.9-2.9-1.9-4.6-3.9 2.7z"/>
<path fill="#efff10" d="M520.8 149.8l4-2.6-1.9-4.8-3.9 2.6z"/>
<path fill="#dfff20" d="M516.9 152.2l3.9-2.4-1.8-4.8-4 2.3z"/>
<path fill="#cfff30" d="M513 154.4l3.9-2.2-1.9-4.9-3.9 2.1z"/>
<g fill="#bfff40"><path d="M509.1 156.3l3.9-1.9-1.9-5-3.9 1.8z"/><path d="M505.1 158l4-1.7-1.9-5.1-3.9 1.6z"/></g>
<g fill="#afff50"><path d="M501.2 159.4l3.9-1.4-1.8-5.2-4 1.3z"/><path d="M497.3 160.4l3.9-1-1.9-5.3-3.9 1z"/><path d="M493.4 161.2l3.9-.8-1.9-5.3-3.9 .7z"/></g>
<path fill="#9fff60" d="M489.4 161.6l4-.4-1.9-5.4-3.9 .4z"/>
<g fill="#afff50"><path d="M485.5 161.7l3.9-.1-1.8-5.4-4 .2z"/><path d="M481.6 161.5l3.9 .2-1.9-5.3-3.9-.2z"/><path d="M477.6 161l4 .5-1.9-5.3-3.9-.5z"/></g>
<g fill="#bfff40"><path d="M473.7 160.2l3.9 .8-1.8-5.3-4-.7z"/><path d="M469.8 159.1l3.9 1.1-1.9-5.2-3.9-1z"/></g>
<path fill="#cfff30" d="M465.9 157.7l3.9 1.4-1.9-5.1-3.9-1.3z"/>
<path fill="#dfff20" d="M461.9 156.1l4 1.6-1.9-5-3.9-1.5z"/>
<path fill="#efff10" d="M458 154.2l3.9 1.9-1.8-4.9-4-1.8z"/>
<path fill="#ff0" d="M454.1 152.2l3.9 2-1.9-4.8-3.9-2z"/>
<path fill="#ffef00" d="M450.2 149.9l3.9 2.3-1.9-4.8-3.9-2.1z"/>
<path fill="#ffcf00" d="M446.2 147.4l4 2.5-1.9-4.6-4-2.4z"/>
<path fill="#ffbf00" d="M442.3 144.8l3.9 2.6-1.9-4.5-3.9-2.5z"/>
<path fill="#ffaf00" d="M438.4 142l3.9 2.8-1.9-4.4-3.9-2.7z"/>
<path fill="#ff8f00" d="M434.4 139l4 3-1.9-4.3-3.9-2.8z"/>
<path fill="#ff8000" d="M430.5 136l3.9 3-1.8-4.1-4-3z"/>
<path fill="#ff6000" d="M426.6 132.8l3.9 3.2-1.9-4.1-3.9-3z"/>
<path fill="#ff4000" d="M422.7 129.5l3.9 3.3-1.9-3.9-3.9-3.2z"/>
<path fill="#ff2000" d="M418.7 126.2l4 3.3-1.9-3.8-3.9-3.2z"/>
<path fill="#ff1000" d="M414.8 122.7l3.9 3.5-1.8-3.7-4-3.4z"/>
<path fill="#ef0000" d="M410.9 119.2l3.9 3.5-1.9-3.6-3.9-3.4z"/>
<path fill="#ff2000" d="M565.9 115.7l3.9-4.2-1.8-3.4-4 4.1z"/>
<path fill="#ff4000" d="M562 119.8l3.9-4.1-1.9-3.5-3.9 4z"/>
<path fill="#ff6000" d="M558.1 123.8l3.9-4-1.9-3.6-3.9 3.9z"/>
<path fill="#ff7000" d="M554.1 127.7l4-3.9-1.9-3.7-3.9 3.8z"/>
<path fill="#ff8f00" d="M550.2 131.6l3.9-3.9-1.8-3.8-4 3.8z"/>
<path fill="#ffaf00" d="M546.3 135.3l3.9-3.7-1.9-3.9-3.9 3.6z"/>
<path fill="#ffbf00" d="M542.4 138.9l3.9-3.6-1.9-4-3.9 3.4z"/>
<path fill="#ffdf00" d="M538.4 142.4l4-3.5-1.9-4.2-3.9 3.4z"/>
<path fill="#ffef00" d="M534.5 145.7l3.9-3.3-1.8-4.3-4 3.2z"/>
<path fill="#efff10" d="M530.6 148.8l3.9-3.1-1.9-4.4-3.9 3z"/>
<path fill="#dfff20" d="M526.6 151.8l4-3-1.9-4.5-3.9 2.9z"/>
<path fill="#cfff30" d="M522.7 154.6l3.9-2.8-1.8-4.6-4 2.6z"/>
<path fill="#bfff40" d="M518.8 157.1l3.9-2.5-1.9-4.8-3.9 2.4z"/>
<path fill="#afff50" d="M514.9 159.4l3.9-2.3-1.9-4.9-3.9 2.2z"/>
<path fill="#9fff60" d="M510.9 161.5l4-2.1-1.9-5-3.9 1.9z"/>
<g fill="#8fff70"><path d="M507 163.2l3.9-1.7-1.8-5.2-4 1.7z"/><path d="M503.1 164.6l3.9-1.4-1.9-5.2-3.9 1.4z"/><path d="M499.2 165.8l3.9-1.2-1.9-5.2-3.9 1z"/></g>
<g fill="#80ff80"><path d="M495.2 166.5l4-.7-1.9-5.4-3.9 .8z"/><path d="M491.3 167l3.9-.5-1.8-5.3-4 .4z"/><path d="M487.4 167.1l3.9-.1-1.9-5.4-3.9 .1z"/></g>
<g fill="#8fff70"><path d="M483.4 166.9l4 .2-1.9-5.4-3.9-.2z"/><path d="M479.5 166.3l3.9 .6-1.8-5.4-4-.5z"/><path d="M475.6 165.4l3.9 .9-1.9-5.3-3.9-.8z"/></g>
<path fill="#9fff60" d="M471.7 164.2l3.9 1.2-1.9-5.2-3.9-1.1z"/>
<path fill="#afff50" d="M467.7 162.8l4 1.4-1.9-5.1-3.9-1.4z"/>
<path fill="#bfff40" d="M463.8 161l3.9 1.8-1.8-5.1-4-1.6z"/>
<path fill="#cfff30" d="M459.9 159l3.9 2-1.9-4.9-3.9-1.9z"/>
<path fill="#dfff20" d="M456 156.8l3.9 2.2-1.9-4.8-3.9-2z"/>
<path fill="#efff10" d="M452 154.4l4 2.4-1.9-4.6-3.9-2.3z"/>
<path fill="#ffef00" d="M448.1 151.8l3.9 2.6-1.8-4.5-4-2.5z"/>
<path fill="#ffdf00" d="M444.2 149l3.9 2.8-1.9-4.4-3.9-2.6z"/>
<path fill="#ffbf00" d="M440.2 146.1l4 2.9-1.9-4.2-3.9-2.8z"/>
<path fill="#ffaf00" d="M436.3 143.1l3.9 3-1.8-4.1-4-3z"/>
<path fill="#ff8f00" d="M432.4 139.9l3.9 3.2-1.9-4.1-3.9-3z"/>
<path fill="#ff7000" d="M428.5 136.6l3.9 3.3-1.9-3.9-3.9-3.2z"/>
<path fill="#ff6000" d="M424.5 133.2l4 3.4-1.9-3.8-3.9-3.3z"/>
<path fill="#ff4000" d="M420.6 129.8l3.9 3.4-1.8-3.7-4-3.3z"/>
<path fill="#ff2000" d="M416.7 126.2l3.9 3.6-1.9-3.6-3.9-3.5z"/>
<path fill="#f00" d="M412.8 122.6l3.9 3.6-1.9-3.5-3.9-3.5z"/>
<path fill="#ff3000" d="M567.8 119l3.9-4.2-1.9-3.3-3.9 4.2z"/>
<path fill="#ff5000" d="M563.9 123.2l3.9-4.2-1.9-3.3-3.9 4.1z"/>
<path fill="#ff7000" d="M559.9 127.4l4-4.2-1.9-3.4-3.9 4z"/>
<path fill="#ff8f00" d="M556 131.4l3.9-4-1.8-3.6-4 3.9z"/>
<path fill="#ffaf00" d="M552.1 135.4l3.9-4-1.9-3.7-3.9 3.9z"/>
<path fill="#ffbf00" d="M548.2 139.2l3.9-3.8-1.9-3.8-3.9 3.7z"/>
<path fill="#ffdf00" d="M544.2 142.9l4-3.7-1.9-3.9-3.9 3.6z"/>
<path fill="#ffef00" d="M540.3 146.5l3.9-3.6-1.8-4-4 3.5z"/>
<path fill="#efff10" d="M536.4 150l3.9-3.5-1.9-4.1-3.9 3.3z"/>
<path fill="#dfff20" d="M532.4 153.3l4-3.3-1.9-4.3-3.9 3.1z"/>
<path fill="#bfff40" d="M528.5 156.4l3.9-3.1-1.8-4.5-4 3z"/>
<path fill="#afff50" d="M524.6 159.3l3.9-2.9-1.9-4.6-3.9 2.8z"/>
<path fill="#9fff60" d="M520.7 162l3.9-2.7-1.9-4.7-3.9 2.5z"/>
<path fill="#8fff70" d="M516.7 164.4l4-2.4-1.9-4.9-3.9 2.3z"/>
<path fill="#80ff80" d="M512.8 166.5l3.9-2.1-1.8-5-4 2.1z"/>
<g fill="#70ff8f"><path d="M508.9 168.4l3.9-1.9-1.9-5-3.9 1.7z"/><path d="M505 169.9l3.9-1.5-1.9-5.2-3.9 1.4z"/></g>
<g fill="#60ff9f"><path d="M501 171.1l4-1.2-1.9-5.3-3.9 1.2z"/><path d="M497.1 171.9l3.9-.8-1.8-5.3-4 .7z"/><path d="M493.2 172.4l3.9-.5-1.9-5.4-3.9 .5z"/><path d="M489.2 172.5l4-.1-1.9-5.4-3.9 .1z"/><path d="M485.3 172.2l3.9 .3-1.8-5.4-4-.2z"/></g>
<g fill="#70ff8f"><path d="M481.4 171.6l3.9 .6-1.9-5.3-3.9-.6z"/><path d="M477.5 170.6l3.9 1-1.9-5.3-3.9-.9z"/></g>
<path fill="#80ff80" d="M473.5 169.3l4 1.3-1.9-5.2-3.9-1.2z"/>
<path fill="#8fff70" d="M469.6 167.7l3.9 1.6-1.8-5.1-4-1.4z"/>
<path fill="#9fff60" d="M465.7 165.9l3.9 1.8-1.9-4.9-3.9-1.8z"/>
<path fill="#afff50" d="M461.8 163.7l3.9 2.2-1.9-4.9-3.9-2z"/>
<path fill="#bfff40" d="M457.8 161.4l4 2.3-1.9-4.7-3.9-2.2z"/>
<path fill="#dfff20" d="M453.9 158.8l3.9 2.6-1.8-4.6-4-2.4z"/>
<path fill="#efff10" d="M450 156.1l3.9 2.7-1.9-4.4-3.9-2.6z"/>
<path fill="#ffef00" d="M446 153.2l4 2.9-1.9-4.3-3.9-2.8z"/>
<path fill="#ffdf00" d="M442.1 150.2l3.9 3-1.8-4.2-4-2.9z"/>
<path fill="#ffbf00" d="M438.2 147l3.9 3.2-1.9-4.1-3.9-3z"/>
<path fill="#ffaf00" d="M434.3 143.7l3.9 3.3-1.9-3.9-3.9-3.2z"/>
<path fill="#ff8f00" d="M430.3 140.3l4 3.4-1.9-3.8-3.9-3.3z"/>
<path fill="#ff7000" d="M426.4 136.8l3.9 3.5-1.8-3.7-4-3.4z"/>
<path fill="#ff5000" d="M422.5 133.2l3.9 3.6-1.9-3.6-3.9-3.4z"/>
<path fill="#ff3000" d="M418.6 129.6l3.9 3.6-1.9-3.4-3.9-3.6z"/>
<path fill="#ff2000" class="t" d="M414.6 125.9l4 3.7-1.9-3.4-3.9-3.6z"/>
<path fill="#ff5000" d="M569.7 122.2l3.9-4.3-1.9-3.1-3.9 4.2z"/>
<path fill="#ff7000" d="M565.7 126.6l4-4.4-1.9-3.2-3.9 4.2z"/>
<path fill="#ff8000" d="M561.8 130.8l3.9-4.2-1.8-3.4-4 4.2z"/>
<path fill="#ff9f00" d="M557.9 134.9l3.9-4.1-1.9-3.4-3.9 4z"/>
<path fill="#ffbf00" d="M554 139l3.9-4.1-1.9-3.5-3.9 4z"/>
<path fill="#ffdf00" d="M550 143l4-4-1.9-3.6-3.9 3.8z"/>
<path fill="#ffef00" d="M546.1 146.8l3.9-3.8-1.8-3.8-4 3.7z"/>
<path fill="#efff10" d="M542.2 150.6l3.9-3.8-1.9-3.9-3.9 3.6z"/>
<path fill="#cfff30" d="M538.3 154.2l3.9-3.6-1.9-4.1-3.9 3.5z"/>
<path fill="#bfff40" d="M534.3 157.6l4-3.4-1.9-4.2-4 3.3z"/>
<path fill="#9fff60" d="M530.4 160.9l3.9-3.3-1.9-4.3-3.9 3.1z"/>
<path fill="#8fff70" d="M526.5 163.9l3.9-3-1.9-4.5-3.9 2.9z"/>
<path fill="#80ff80" d="M522.5 166.7l4-2.8-1.9-4.6-3.9 2.7z"/>
<path fill="#70ff8f" d="M518.6 169.3l3.9-2.6-1.8-4.7-4 2.4z"/>
<path fill="#60ff9f" d="M514.7 171.6l3.9-2.3-1.9-4.9-3.9 2.1z"/>
<path fill="#50ffaf" d="M510.8 173.5l3.9-1.9-1.9-5.1-3.9 1.9z"/>
<g fill="#40ffbf"><path d="M506.8 175.1l4-1.6-1.9-5.1-3.9 1.5z"/><path d="M502.9 176.4l3.9-1.3-1.8-5.2-4 1.2z"/><path d="M499 177.3l3.9-.9-1.9-5.3-3.9 .8z"/><path d="M495 177.8l4-.5-1.9-5.4-3.9 .5z"/><path d="M491.1 177.8l3.9 0-1.8-5.4-4 .1z"/><path d="M487.2 177.5l3.9 .3-1.9-5.3-3.9-.3z"/><path d="M483.3 176.8l3.9 .7-1.9-5.3-3.9-.6z"/></g>
<path fill="#50ffaf" d="M479.3 175.7l4 1.1-1.9-5.2-3.9-1z"/>
<path fill="#60ff9f" d="M475.4 174.3l3.9 1.4-1.8-5.1-4-1.3z"/>
<path fill="#70ff8f" d="M471.5 172.6l3.9 1.7-1.9-5-3.9-1.6z"/>
<path fill="#80ff80" d="M467.6 170.6l3.9 2-1.9-4.9-3.9-1.8z"/>
<path fill="#8fff70" d="M463.6 168.4l4 2.2-1.9-4.7-3.9-2.2z"/>
<path fill="#9fff60" d="M459.7 165.9l3.9 2.5-1.8-4.7-4-2.3z"/>
<path fill="#bfff40" d="M455.8 163.2l3.9 2.7-1.9-4.5-3.9-2.6z"/>
<path fill="#cfff30" d="M451.8 160.3l4 2.9-1.9-4.4-3.9-2.7z"/>
<path fill="#efff10" d="M447.9 157.2l3.9 3.1-1.8-4.2-4-2.9z"/>
<path fill="#ffef00" d="M444 154.1l3.9 3.1-1.9-4-3.9-3z"/>
<path fill="#ffdf00" d="M440.1 150.8l3.9 3.3-1.9-3.9-3.9-3.2z"/>
<path fill="#ffbf00" d="M436.1 147.3l4 3.5-1.9-3.8-3.9-3.3z"/>
<path fill="#ff9f00" d="M432.2 143.8l3.9 3.5-1.8-3.6-4-3.4z"/>
<path fill="#ff8000" d="M428.3 140.2l3.9 3.6-1.9-3.5-3.9-3.5z"/>
<path fill="#ff7000" d="M424.4 136.5l3.9 3.7-1.9-3.4-3.9-3.6z"/>
<path fill="#ff5000" class="t" d="M420.4 132.8l4 3.7-1.9-3.3-3.9-3.6z"/>
<path fill="#ff3000" class="t" d="M416.5 129l3.9 3.8-1.8-3.2-4-3.7z"/>
<path fill="#ff6000" d="M571.5 125.3l4-4.4-1.9-3-3.9 4.3z"/>
<path fill="#ff8000" d="M567.6 129.7l3.9-4.4-1.8-3.1-4 4.4z"/>
<path fill="#ff9f00" d="M563.7 134.1l3.9-4.4-1.9-3.1-3.9 4.2z"/>
<path fill="#ffbf00" d="M559.8 138.3l3.9-4.2-1.9-3.3-3.9 4.1z"/>
<path fill="#ffcf00" d="M555.8 142.5l4-4.2-1.9-3.4-3.9 4.1z"/>
<path fill="#ffef00" d="M551.9 146.6l3.9-4.1-1.8-3.5-4 4z"/>
<path fill="#efff10" d="M548 150.6l3.9-4-1.9-3.6-3.9 3.8z"/>
<path fill="#cfff30" d="M544.1 154.5l3.9-3.9-1.9-3.8-3.9 3.8z"/>
<path fill="#bfff40" d="M540.1 158.2l4-3.7-1.9-3.9-3.9 3.6z"/>
<path fill="#9fff60" d="M536.2 161.8l3.9-3.6-1.8-4-4 3.4z"/>
<path fill="#8fff70" d="M532.3 165.2l3.9-3.4-1.9-4.2-3.9 3.3z"/>
<path fill="#70ff8f" d="M528.3 168.4l4-3.2-1.9-4.3-3.9 3z"/>
<path fill="#60ff9f" d="M524.4 171.4l3.9-3-1.8-4.5-4 2.8z"/>
<path fill="#50ffaf" d="M520.5 174.1l3.9-2.7-1.9-4.7-3.9 2.6z"/>
<path fill="#40ffbf" d="M516.6 176.5l3.9-2.4-1.9-4.8-3.9 2.3z"/>
<path fill="#30ffcf" d="M512.6 178.6l4-2.1-1.9-4.9-3.9 1.9z"/>
<g fill="#20ffdf"><path d="M508.7 180.4l3.9-1.8-1.8-5.1-4 1.6z"/><path d="M504.8 181.7l3.9-1.3-1.9-5.3-3.9 1.3z"/></g>
<g fill="#10ffef"><path d="M500.9 182.6l3.9-.9-1.9-5.3-3.9 .9z"/><path d="M496.9 183.1l4-.5-1.9-5.3-4 .5z"/><path d="M493 183.2l3.9-.1-1.9-5.3-3.9 0z"/></g>
<g fill="#20ffdf"><path d="M489.1 182.8l3.9 .4-1.9-5.4-3.9-.3z"/><path d="M485.1 182l4 .8-1.9-5.3-3.9-.7z"/></g>
<path fill="#30ffcf" d="M481.2 180.9l3.9 1.1-1.8-5.2-4-1.1z"/>
<path fill="#40ffbf" d="M477.3 179.3l3.9 1.6-1.9-5.2-3.9-1.4z"/>
<path fill="#50ffaf" d="M473.4 177.5l3.9 1.8-1.9-5-3.9-1.7z"/>
<path fill="#60ff9f" d="M469.4 175.3l4 2.2-1.9-4.9-3.9-2z"/>
<path fill="#70ff8f" d="M465.5 172.9l3.9 2.4-1.8-4.7-4-2.2z"/>
<path fill="#8fff70" d="M461.6 170.2l3.9 2.7-1.9-4.5-3.9-2.5z"/>
<path fill="#9fff60" d="M457.6 167.4l4 2.8-1.9-4.3-3.9-2.7z"/>
<path fill="#bfff40" d="M453.7 164.3l3.9 3.1-1.8-4.2-4-2.9z"/>
<path fill="#cfff30" d="M449.8 161.1l3.9 3.2-1.9-4-3.9-3.1z"/>
<path fill="#efff10" d="M445.9 157.8l3.9 3.3-1.9-3.9-3.9-3.1z"/>
<path fill="#ffef00" d="M441.9 154.4l4 3.4-1.9-3.7-3.9-3.3z"/>
<path fill="#ffcf00" d="M438 150.8l3.9 3.6-1.8-3.6-4-3.5z"/>
<path fill="#ffbf00" d="M434.1 147.2l3.9 3.6-1.9-3.5-3.9-3.5z"/>
<path fill="#ff9f00" class="t" d="M430.2 143.5l3.9 3.7-1.9-3.4-3.9-3.6z"/>
<path fill="#ff8000" class="t" d="M426.2 139.7l4 3.8-1.9-3.3-3.9-3.7z"/>
<path fill="#ff6000" class="t" d="M422.3 135.9l3.9 3.8-1.8-3.2-4-3.7z"/>
<path fill="#ff4000" class="t" d="M418.4 132l3.9 3.9-1.9-3.1-3.9-3.8z"/>
<path fill="#ff7000" d="M573.4 128.2l4-4.5-1.9-2.8-4 4.4z"/>
<path fill="#ff8f00" d="M569.5 132.7l3.9-4.5-1.9-2.9-3.9 4.4z"/>
<path fill="#ffaf00" d="M565.6 137.2l3.9-4.5-1.9-3-3.9 4.4z"/>
<path fill="#ffcf00" d="M561.6 141.5l4-4.3-1.9-3.1-3.9 4.2z"/>
<path fill="#ffef00" d="M557.7 145.8l3.9-4.3-1.8-3.2-4 4.2z"/>
<path fill="#efff10" d="M553.8 150.1l3.9-4.3-1.9-3.3-3.9 4.1z"/>
<path fill="#dfff20" d="M549.9 154.2l3.9-4.1-1.9-3.5-3.9 4z"/>
<path fill="#bfff40" d="M545.9 158.2l4-4-1.9-3.6-3.9 3.9z"/>
<path fill="#9fff60" d="M542 162.1l3.9-3.9-1.8-3.7-4 3.7z"/>
<path fill="#8fff70" d="M538.1 165.9l3.9-3.8-1.9-3.9-3.9 3.6z"/>
<path fill="#70ff8f" d="M534.1 169.4l4-3.5-1.9-4.1-3.9 3.4z"/>
<path fill="#50ffaf" d="M530.2 172.8l3.9-3.4-1.8-4.2-4 3.2z"/>
<path fill="#40ffbf" d="M526.3 176l3.9-3.2-1.9-4.4-3.9 3z"/>
<path fill="#30ffcf" d="M522.4 178.9l3.9-2.9-1.9-4.6-3.9 2.7z"/>
<path fill="#20ffdf" d="M518.4 181.5l4-2.6-1.9-4.8-3.9 2.4z"/>
<path fill="#10ffef" d="M514.5 183.7l3.9-2.2-1.8-5-4 2.1z"/>
<g fill="#0ff"><path d="M510.6 185.6l3.9-1.9-1.9-5.1-3.9 1.8z"/><path d="M506.7 187l3.9-1.4-1.9-5.2-3.9 1.3z"/></g>
<g fill="#00efff"><path d="M502.7 188l4-1-1.9-5.3-3.9 .9z"/><path d="M498.8 188.5l3.9-.5-1.8-5.4-4 .5z"/><path d="M494.9 188.5l3.9 0-1.9-5.4-3.9 .1z"/></g>
<g fill="#0ff"><path d="M490.9 188.1l4 .4-1.9-5.3-3.9-.4z"/><path d="M487 187.2l3.9 .9-1.8-5.3-4-.8z"/></g>
<path fill="#10ffef" d="M483.1 185.9l3.9 1.3-1.9-5.2-3.9-1.1z"/>
<path fill="#20ffdf" d="M479.2 184.2l3.9 1.7-1.9-5-3.9-1.6z"/>
<path fill="#30ffcf" d="M475.2 182.2l4 2-1.9-4.9-3.9-1.8z"/>
<path fill="#40ffbf" d="M471.3 179.9l3.9 2.3-1.8-4.7-4-2.2z"/>
<path fill="#50ffaf" d="M467.4 177.3l3.9 2.6-1.9-4.6-3.9-2.4z"/>
<path fill="#70ff8f" d="M463.5 174.4l3.9 2.9-1.9-4.4-3.9-2.7z"/>
<path fill="#8fff70" d="M459.5 171.4l4 3-1.9-4.2-4-2.8z"/>
<path fill="#9fff60" d="M455.6 168.2l3.9 3.2-1.9-4-3.9-3.1z"/>
<path fill="#bfff40" d="M451.7 164.9l3.9 3.3-1.9-3.9-3.9-3.2z"/>
<path fill="#dfff20" d="M447.7 161.4l4 3.5-1.9-3.8-3.9-3.3z"/>
<path fill="#efff10" d="M443.8 157.8l3.9 3.6-1.8-3.6-4-3.4z"/>
<path fill="#ffef00" d="M439.9 154.2l3.9 3.6-1.9-3.4-3.9-3.6z"/>
<path fill="#ffcf00" class="t" d="M436 150.4l3.9 3.8-1.9-3.4-3.9-3.6z"/>
<path fill="#ffaf00" class="t" d="M432 146.6l4 3.8-1.9-3.2-3.9-3.7z"/>
<path fill="#ff8f00" class="t" d="M428.1 142.7l3.9 3.9-1.8-3.1-4-3.8z"/>
<path fill="#ff7000" class="t" d="M424.2 138.8l3.9 3.9-1.9-3-3.9-3.8z"/>
<path fill="#ff5000" class="t" d="M420.2 134.8l4 4-1.9-2.9-3.9-3.9z"/>
<path fill="#ff8000" d="M575.3 130.9l3.9-4.6-1.8-2.6-4 4.5z"/>
<path fill="#ff9f00" d="M571.4 135.5l3.9-4.6-1.9-2.7-3.9 4.5z"/>
<path fill="#ffbf00" d="M567.4 140.1l4-4.6-1.9-2.8-3.9 4.5z"/>
<path fill="#ffdf00" d="M563.5 144.6l3.9-4.5-1.8-2.9-4 4.3z"/>
<path fill="#ff0" d="M559.6 149l3.9-4.4-1.9-3.1-3.9 4.3z"/>
<path fill="#dfff20" d="M555.7 153.3l3.9-4.3-1.9-3.2-3.9 4.3z"/>
<path fill="#bfff40" d="M551.7 157.6l4-4.3-1.9-3.2-3.9 4.1z"/>
<path fill="#9fff60" d="M547.8 161.8l3.9-4.2-1.8-3.4-4 4z"/>
<path fill="#8fff70" d="M543.9 165.8l3.9-4-1.9-3.6-3.9 3.9z"/>
<path fill="#70ff8f" d="M540 169.8l3.9-4-1.9-3.7-3.9 3.8z"/>
<path fill="#50ffaf" d="M536 173.5l4-3.7-1.9-3.9-4 3.5z"/>
<path fill="#40ffbf" d="M532.1 177.1l3.9-3.6-1.9-4.1-3.9 3.4z"/>
<path fill="#20ffdf" d="M528.2 180.4l3.9-3.3-1.9-4.3-3.9 3.2z"/>
<path fill="#10ffef" d="M524.2 183.5l4-3.1-1.9-4.4-3.9 2.9z"/>
<path fill="#0ff" d="M520.3 186.3l3.9-2.8-1.8-4.6-4 2.6z"/>
<path fill="#00efff" d="M516.4 188.7l3.9-2.4-1.9-4.8-3.9 2.2z"/>
<path fill="#00dfff" d="M512.5 190.7l3.9-2-1.9-5-3.9 1.9z"/>
<g fill="#00cfff"><path d="M508.5 192.3l4-1.6-1.9-5.1-3.9 1.4z"/><path d="M504.6 193.3l3.9-1-1.8-5.3-4 1z"/><path d="M500.7 193.9l3.9-.6-1.9-5.3-3.9 .5z"/><path d="M496.7 193.9l4 0-1.9-5.4-3.9 0z"/><path d="M492.8 193.4l3.9 .5-1.8-5.4-4-.4z"/></g>
<path fill="#00dfff" d="M488.9 192.4l3.9 1-1.9-5.3-3.9-.9z"/>
<path fill="#00efff" d="M485 190.9l3.9 1.5-1.9-5.2-3.9-1.3z"/>
<path fill="#0ff" d="M481 189.1l4 1.8-1.9-5-3.9-1.7z"/>
<path fill="#10ffef" d="M477.1 186.8l3.9 2.3-1.8-4.9-4-2z"/>
<path fill="#20ffdf" d="M473.2 184.3l3.9 2.5-1.9-4.6-3.9-2.3z"/>
<path fill="#40ffbf" d="M469.3 181.5l3.9 2.8-1.9-4.4-3.9-2.6z"/>
<path fill="#50ffaf" d="M465.3 178.5l4 3-1.9-4.2-3.9-2.9z"/>
<path fill="#70ff8f" d="M461.4 175.3l3.9 3.2-1.8-4.1-4-3z"/>
<path fill="#8fff70" d="M457.5 171.9l3.9 3.4-1.9-3.9-3.9-3.2z"/>
<path fill="#9fff60" d="M453.5 168.4l4 3.5-1.9-3.7-3.9-3.3z"/>
<path fill="#bfff40" d="M449.6 164.8l3.9 3.6-1.8-3.5-4-3.5z"/>
<path fill="#dfff20" class="t" d="M445.7 161.1l3.9 3.7-1.9-3.4-3.9-3.6z"/>
<path fill="#ff0" class="t" d="M441.8 157.3l3.9 3.8-1.9-3.3-3.9-3.6z"/>
<path fill="#ffdf00" class="t" d="M437.8 153.4l4 3.9-1.9-3.1-3.9-3.8z"/>
<path fill="#ffbf00" class="t" d="M433.9 149.5l3.9 3.9-1.8-3-4-3.8z"/>
<path fill="#ff9f00" class="t" d="M430 145.5l3.9 4-1.9-2.9-3.9-3.9z"/>
<path fill="#ff8000" class="t" d="M426.1 141.5l3.9 4-1.9-2.8-3.9-3.9z"/>
<path fill="#ff6000" class="t" d="M422.1 137.4l4 4.1-1.9-2.7-4-4z"/>
<path fill="#ff8f00" d="M577.2 133.5l3.9-4.7-1.9-2.5-3.9 4.6z"/>
<path fill="#ffaf00" d="M573.2 138.2l4-4.7-1.9-2.6-3.9 4.6z"/>
<path fill="#ffcf00" d="M569.3 142.8l3.9-4.6-1.8-2.7-4 4.6z"/>
<path fill="#ffef00" d="M565.4 147.4l3.9-4.6-1.9-2.7-3.9 4.5z"/>
<path fill="#efff10" d="M561.5 151.9l3.9-4.5-1.9-2.8-3.9 4.4z"/>
<path fill="#cfff30" d="M557.5 156.4l4-4.5-1.9-2.9-3.9 4.3z"/>
<path fill="#afff50" d="M553.6 160.8l3.9-4.4-1.8-3.1-4 4.3z"/>
<path fill="#8fff70" d="M549.7 165.1l3.9-4.3-1.9-3.2-3.9 4.2z"/>
<path fill="#70ff8f" d="M545.8 169.3l3.9-4.2-1.9-3.3-3.9 4z"/>
<path fill="#50ffaf" d="M541.8 173.4l4-4.1-1.9-3.5-3.9 4z"/>
<path fill="#40ffbf" d="M537.9 177.4l3.9-4-1.8-3.6-4 3.7z"/>
<path fill="#20ffdf" d="M534 181.2l3.9-3.8-1.9-3.9-3.9 3.6z"/>
<path fill="#10ffef" d="M530 184.7l4-3.5-1.9-4.1-3.9 3.3z"/>
<path fill="#00efff" d="M526.1 188l3.9-3.3-1.8-4.3-4 3.1z"/>
<path fill="#00dfff" d="M522.2 191l3.9-3-1.9-4.5-3.9 2.8z"/>
<path fill="#00cfff" d="M518.3 193.6l3.9-2.6-1.9-4.7-3.9 2.4z"/>
<path fill="#00bfff" d="M514.3 195.8l4-2.2-1.9-4.9-3.9 2z"/>
<g fill="#00afff"><path d="M510.4 197.5l3.9-1.7-1.8-5.1-4 1.6z"/><path d="M506.5 198.7l3.9-1.2-1.9-5.2-3.9 1z"/><path d="M502.6 199.3l3.9-.6-1.9-5.4-3.9 .6z"/><path d="M498.6 199.2l4 .1-1.9-5.4-4 0z"/><path d="M494.7 198.6l3.9 .6-1.9-5.3-3.9-.5z"/></g>
<path fill="#00bfff" d="M490.8 197.5l3.9 1.1-1.9-5.2-3.9-1z"/>
<path fill="#00cfff" d="M486.8 195.8l4 1.7-1.9-5.1-3.9-1.5z"/>
<path fill="#00dfff" d="M482.9 193.8l3.9 2-1.8-4.9-4-1.8z"/>
<path fill="#00efff" d="M479 191.3l3.9 2.5-1.9-4.7-3.9-2.3z"/>
<path fill="#10ffef" d="M475.1 188.6l3.9 2.7-1.9-4.5-3.9-2.5z"/>
<path fill="#20ffdf" d="M471.1 185.6l4 3-1.9-4.3-3.9-2.8z"/>
<path fill="#40ffbf" d="M467.2 182.4l3.9 3.2-1.8-4.1-4-3z"/>
<path fill="#50ffaf" d="M463.3 179l3.9 3.4-1.9-3.9-3.9-3.2z"/>
<path fill="#70ff8f" d="M459.3 175.5l4 3.5-1.9-3.7-3.9-3.4z"/>
<path fill="#8fff70" d="M455.4 171.8l3.9 3.7-1.8-3.6-4-3.5z"/>
<path fill="#afff50" class="t" d="M451.5 168l3.9 3.8-1.9-3.4-3.9-3.6z"/>
<path fill="#cfff30" class="t" d="M447.6 164.2l3.9 3.8-1.9-3.2-3.9-3.7z"/>
<path fill="#efff10" class="t" d="M443.6 160.3l4 3.9-1.9-3.1-3.9-3.8z"/>
<path fill="#ffef00" class="t" d="M439.7 156.3l3.9 4-1.8-3-4-3.9z"/>
<path fill="#ffcf00" class="t" d="M435.8 152.2l3.9 4.1-1.9-2.9-3.9-3.9z"/>
<path fill="#ffaf00" class="t" d="M431.9 148.2l3.9 4-1.9-2.7-3.9-4z"/>
<path fill="#ff8f00" class="t" d="M427.9 144l4 4.2-1.9-2.7-3.9-4z"/>
<path fill="#ff7000" class="t" d="M424 139.9l3.9 4.1-1.8-2.5-4-4.1z"/>
<path fill="#ff9f00" d="M579 135.8l4-4.8-1.9-2.2-3.9 4.7z"/>
<path fill="#ffbf00" d="M575.1 140.6l3.9-4.8-1.8-2.3-4 4.7z"/>
<path fill="#ffdf00" d="M571.2 145.3l3.9-4.7-1.9-2.4-3.9 4.6z"/>
<path fill="#ff0" d="M567.3 150l3.9-4.7-1.9-2.5-3.9 4.6z"/>
<path fill="#dfff20" d="M563.3 154.7l4-4.7-1.9-2.6-3.9 4.5z"/>
<path fill="#bfff40" d="M559.4 159.3l3.9-4.6-1.8-2.8-4 4.5z"/>
<path fill="#9fff60" d="M555.5 163.8l3.9-4.5-1.9-2.9-3.9 4.4z"/>
<path fill="#80ff80" d="M551.6 168.3l3.9-4.5-1.9-3-3.9 4.3z"/>
<path fill="#60ff9f" d="M547.6 172.6l4-4.3-1.9-3.2-3.9 4.2z"/>
<path fill="#40ffbf" d="M543.7 176.9l3.9-4.3-1.8-3.3-4 4.1z"/>
<path fill="#20ffdf" d="M539.8 181l3.9-4.1-1.9-3.5-3.9 4z"/>
<path fill="#10ffef" d="M535.8 185l4-4-1.9-3.6-3.9 3.8z"/>
<path fill="#00efff" d="M531.9 188.8l3.9-3.8-1.8-3.8-4 3.5z"/>
<path fill="#00cfff" d="M528 192.3l3.9-3.5-1.9-4.1-3.9 3.3z"/>
<path fill="#00bfff" d="M524.1 195.6l3.9-3.3-1.9-4.3-3.9 3z"/>
<path fill="#00afff" d="M520.1 198.4l4-2.8-1.9-4.6-3.9 2.6z"/>
<path fill="#009fff" d="M516.2 200.9l3.9-2.5-1.8-4.8-4 2.2z"/>
<g fill="#008fff"><path d="M512.3 202.7l3.9-1.8-1.9-5.1-3.9 1.7z"/><path d="M508.4 204l3.9-1.3-1.9-5.2-3.9 1.2z"/></g>
<path fill="#0080ff" d="M504.4 204.6l4-.6-1.9-5.3-3.9 .6z"/>
<g fill="#008fff"><path d="M500.5 204.6l3.9 0-1.8-5.3-4-.1z"/><path d="M496.6 203.9l3.9 .7-1.9-5.4-3.9-.6z"/></g>
<path fill="#009fff" d="M492.6 202.5l4 1.4-1.9-5.3-3.9-1.1z"/>
<path fill="#00afff" d="M488.7 200.7l3.9 1.8-1.8-5-4-1.7z"/>
<path fill="#00bfff" d="M484.8 198.3l3.9 2.4-1.9-4.9-3.9-2z"/>
<path fill="#00cfff" d="M480.9 195.7l3.9 2.6-1.9-4.5-3.9-2.5z"/>
<path fill="#00efff" d="M476.9 192.7l4 3-1.9-4.4-3.9-2.7z"/>
<path fill="#10ffef" d="M473 189.5l3.9 3.2-1.8-4.1-4-3z"/>
<path fill="#20ffdf" d="M469.1 186l3.9 3.5-1.9-3.9-3.9-3.2z"/>
<path fill="#40ffbf" d="M465.2 182.4l3.9 3.6-1.9-3.6-3.9-3.4z"/>
<path fill="#60ff9f" d="M461.2 178.7l4 3.7-1.9-3.4-4-3.5z"/>
<path fill="#80ff80" class="t" d="M457.3 174.9l3.9 3.8-1.9-3.2-3.9-3.7z"/>
<path fill="#9fff60" class="t" d="M453.4 171l3.9 3.9-1.9-3.1-3.9-3.8z"/>
<path fill="#bfff40" class="t" d="M449.4 167l4 4-1.9-3-3.9-3.8z"/>
<path fill="#dfff20" class="t" d="M445.5 163l3.9 4-1.8-2.8-4-3.9z"/>
<path fill="#ff0" class="t" d="M441.6 158.9l3.9 4.1-1.9-2.7-3.9-4z"/>
<path fill="#ffdf00" class="t" d="M437.7 154.8l3.9 4.1-1.9-2.6-3.9-4.1z"/>
<path fill="#ffbf00" class="t" d="M433.7 150.6l4 4.2-1.9-2.6-3.9-4z"/>
<path fill="#ff9f00" class="t" d="M429.8 146.4l3.9 4.2-1.8-2.4-4-4.2z"/>
<path fill="#ff8000" class="t" d="M425.9 142.1l3.9 4.3-1.9-2.4-3.9-4.1z"/>
<path fill="#ff9f00" d="M580.9 138l3.9-4.9-1.8-2.1-4 4.8z"/>
<path fill="#ffcf00" d="M577 142.8l3.9-4.8-1.9-2.2-3.9 4.8z"/>
<path fill="#ffef00" d="M573.1 147.6l3.9-4.8-1.9-2.2-3.9 4.7z"/>
<path fill="#efff10" d="M569.1 152.4l4-4.8-1.9-2.3-3.9 4.7z"/>
<path fill="#cfff30" d="M565.2 157.2l3.9-4.8-1.8-2.4-4 4.7z"/>
<path fill="#afff50" d="M561.3 161.9l3.9-4.7-1.9-2.5-3.9 4.6z"/>
<path fill="#8fff70" d="M557.4 166.5l3.9-4.6-1.9-2.6-3.9 4.5z"/>
<path fill="#70ff8f" d="M553.4 171.1l4-4.6-1.9-2.7-3.9 4.5z"/>
<path fill="#50ffaf" d="M549.5 175.7l3.9-4.6-1.8-2.8-4 4.3z"/>
<path fill="#30ffcf" d="M545.6 180.1l3.9-4.4-1.9-3.1-3.9 4.3z"/>
<path fill="#10ffef" d="M541.6 184.4l4-4.3-1.9-3.2-3.9 4.1z"/>
<path fill="#00efff" d="M537.7 188.6l3.9-4.2-1.8-3.4-4 4z"/>
<path fill="#00cfff" d="M533.8 192.6l3.9-4-1.9-3.6-3.9 3.8z"/>
<path fill="#00bfff" d="M529.9 196.4l3.9-3.8-1.9-3.8-3.9 3.5z"/>
<path fill="#009fff" d="M525.9 200l4-3.6-1.9-4.1-3.9 3.3z"/>
<path fill="#008fff" d="M522 203.1l3.9-3.1-1.8-4.4-4 2.8z"/>
<path fill="#0080ff" d="M518.1 205.8l3.9-2.7-1.9-4.7-3.9 2.5z"/>
<path fill="#0070ff" d="M514.2 207.9l3.9-2.1-1.9-4.9-3.9 1.8z"/>
<g fill="#0060ff"><path d="M510.2 209.4l4-1.5-1.9-5.2-3.9 1.3z"/><path d="M506.3 210l3.9-.6-1.8-5.4-4 .6z"/><path d="M502.4 209.9l3.9 .1-1.9-5.4-3.9 0z"/></g>
<path fill="#0070ff" d="M498.4 209l4 .9-1.9-5.3-3.9-.7z"/>
<path fill="#0080ff" d="M494.5 207.5l3.9 1.5-1.8-5.1-4-1.4z"/>
<path fill="#008fff" d="M490.6 205.3l3.9 2.2-1.9-5-3.9-1.8z"/>
<path fill="#009fff" d="M486.7 202.7l3.9 2.6-1.9-4.6-3.9-2.4z"/>
<path fill="#00bfff" d="M482.7 199.8l4 2.9-1.9-4.4-3.9-2.6z"/>
<path fill="#00cfff" d="M478.8 196.5l3.9 3.3-1.8-4.1-4-3z"/>
<path fill="#00efff" d="M474.9 193.1l3.9 3.4-1.9-3.8-3.9-3.2z"/>
<path fill="#10ffef" d="M471 189.4l3.9 3.7-1.9-3.6-3.9-3.5z"/>
<path fill="#30ffcf" class="t" d="M467 185.6l4 3.8-1.9-3.4-3.9-3.6z"/>
<path fill="#50ffaf" class="t" d="M463.1 181.8l3.9 3.8-1.8-3.2-4-3.7z"/>
<path fill="#70ff8f" class="t" d="M459.2 177.8l3.9 4-1.9-3.1-3.9-3.8z"/>
<path fill="#8fff70" class="t" d="M455.2 173.7l4 4.1-1.9-2.9-3.9-3.9z"/>
<path fill="#afff50" class="t" d="M451.3 169.6l3.9 4.1-1.8-2.7-4-4z"/>
<path fill="#cfff30" class="t" d="M447.4 165.5l3.9 4.1-1.9-2.6-3.9-4z"/>
<path fill="#efff10" class="t" d="M443.5 161.3l3.9 4.2-1.9-2.5-3.9-4.1z"/>
<path fill="#ffef00" class="t" d="M439.5 157.1l4 4.2-1.9-2.4-3.9-4.1z"/>
<path fill="#ffcf00" class="t" d="M435.6 152.8l3.9 4.3-1.8-2.3-4-4.2z"/>
<path fill="#ff9f00" class="t" d="M431.7 148.5l3.9 4.3-1.9-2.2-3.9-4.2z"/>
<path fill="#ff8000" class="t" d="M427.8 144.2l3.9 4.3-1.9-2.1-3.9-4.3z"/>
<path fill="#ffaf00" d="M582.8 139.9l3.9-4.9-1.9-1.9-3.9 4.9z"/>
<path fill="#ffcf00" d="M578.9 144.8l3.9-4.9-1.9-1.9-3.9 4.8z"/>
<path fill="#ffef00" d="M574.9 149.7l4-4.9-1.9-2-3.9 4.8z"/>
<path fill="#dfff20" d="M571 154.5l3.9-4.8-1.8-2.1-4 4.8z"/>
<path fill="#bfff40" d="M567.1 159.4l3.9-4.9-1.9-2.1-3.9 4.8z"/>
<path fill="#9fff60" d="M563.2 164.2l3.9-4.8-1.9-2.2-3.9 4.7z"/>
<path fill="#80ff80" d="M559.2 169l4-4.8-1.9-2.3-3.9 4.6z"/>
<path fill="#60ff9f" d="M555.3 173.7l3.9-4.7-1.8-2.5-4 4.6z"/>
<path fill="#40ffbf" d="M551.4 178.4l3.9-4.7-1.9-2.6-3.9 4.6z"/>
<path fill="#20ffdf" d="M547.4 183l4-4.6-1.9-2.7-3.9 4.4z"/>
<path fill="#0ff" d="M543.5 187.5l3.9-4.5-1.8-2.9-4 4.3z"/>
<path fill="#00dfff" d="M539.6 191.9l3.9-4.4-1.9-3.1-3.9 4.2z"/>
<path fill="#00bfff" d="M535.7 196.2l3.9-4.3-1.9-3.3-3.9 4z"/>
<path fill="#009fff" d="M531.7 200.3l4-4.1-1.9-3.6-3.9 3.8z"/>
<path fill="#008fff" d="M527.8 204.1l3.9-3.8-1.8-3.9-4 3.6z"/>
<path fill="#0070ff" d="M523.9 207.6l3.9-3.5-1.9-4.1-3.9 3.1z"/>
<path fill="#0060ff" d="M520 210.6l3.9-3-1.9-4.5-3.9 2.7z"/>
<path fill="#0050ff" d="M516 213l4-2.4-1.9-4.8-3.9 2.1z"/>
<g fill="#0040ff"><path d="M512.1 214.7l3.9-1.7-1.8-5.1-4 1.5z"/><path d="M508.2 215.4l3.9-.7-1.9-5.3-3.9 .6z"/><path d="M504.2 215.2l4 .2-1.9-5.4-3.9-.1z"/></g>
<path fill="#0050ff" d="M500.3 214.1l3.9 1.1-1.8-5.3-4-.9z"/>
<path fill="#0060ff" d="M496.4 212.3l3.9 1.8-1.9-5.1-3.9-1.5z"/>
<path fill="#0070ff" d="M492.5 209.8l3.9 2.5-1.9-4.8-3.9-2.2z"/>
<path fill="#008fff" d="M488.5 206.9l4 2.9-1.9-4.5-3.9-2.6z"/>
<path fill="#009fff" d="M484.6 203.6l3.9 3.3-1.8-4.2-4-2.9z"/>
<path fill="#00bfff" d="M480.7 200.1l3.9 3.5-1.9-3.8-3.9-3.3z"/>
<path fill="#00dfff" d="M476.8 196.4l3.9 3.7-1.9-3.6-3.9-3.4z"/>
<path fill="#0ff" class="t" d="M472.8 192.5l4 3.9-1.9-3.3-3.9-3.7z"/>
<path fill="#20ffdf" class="t" d="M468.9 188.5l3.9 4-1.8-3.1-4-3.8z"/>
<path fill="#40ffbf" class="t" d="M465 184.5l3.9 4-1.9-2.9-3.9-3.8z"/>
<path fill="#60ff9f" class="t" d="M461 180.4l4 4.1-1.9-2.7-3.9-4z"/>
<path fill="#80ff80" class="t" d="M457.1 176.2l3.9 4.2-1.8-2.6-4-4.1z"/>
<path fill="#9fff60" class="t" d="M453.2 172l3.9 4.2-1.9-2.5-3.9-4.1z"/>
<path fill="#bfff40" class="t" d="M449.3 167.7l3.9 4.3-1.9-2.4-3.9-4.1z"/>
<path fill="#dfff20" class="t" d="M445.3 163.4l4 4.3-1.9-2.2-3.9-4.2z"/>
<path fill="#ffef00" class="t" d="M441.4 159.1l3.9 4.3-1.8-2.1-4-4.2z"/>
<path fill="#ffcf00" class="t" d="M437.5 154.8l3.9 4.3-1.9-2-3.9-4.3z"/>
<path fill="#ffaf00" class="t" d="M433.6 150.4l3.9 4.4-1.9-2-3.9-4.3z"/>
<path fill="#ff8f00" class="t" d="M429.6 146.1l4 4.3-1.9-1.9-3.9-4.3z"/>
<path fill="#ffbf00" d="M584.7 141.6l3.9-5-1.9-1.6-3.9 4.9z"/>
<path fill="#ffdf00" d="M580.7 146.5l4-4.9-1.9-1.7-3.9 4.9z"/>
<path fill="#ff0" d="M576.8 151.5l3.9-5-1.8-1.7-4 4.9z"/>
<path fill="#dfff20" d="M572.9 156.4l3.9-4.9-1.9-1.8-3.9 4.8z"/>
<path fill="#bfff40" d="M569 161.3l3.9-4.9-1.9-1.9-3.9 4.9z"/>
<path fill="#8fff70" d="M565 166.2l4-4.9-1.9-1.9-3.9 4.8z"/>
<path fill="#70ff8f" d="M561.1 171.1l3.9-4.9-1.8-2-4 4.8z"/>
<path fill="#50ffaf" d="M557.2 176l3.9-4.9-1.9-2.1-3.9 4.7z"/>
<path fill="#30ffcf" d="M553.3 180.8l3.9-4.8-1.9-2.3-3.9 4.7z"/>
<path fill="#10ffef" d="M549.3 185.5l4-4.7-1.9-2.4-4 4.6z"/>
<path fill="#00efff" d="M545.4 190.2l3.9-4.7-1.9-2.5-3.9 4.5z"/>
<path fill="#00cfff" d="M541.5 194.8l3.9-4.6-1.9-2.7-3.9 4.4z"/>
<path fill="#00afff" d="M537.5 199.4l4-4.6-1.9-2.9-3.9 4.3z"/>
<path fill="#008fff" d="M533.6 203.7l3.9-4.3-1.8-3.2-4 4.1z"/>
<path fill="#0070ff" d="M529.7 207.9l3.9-4.2-1.9-3.4-3.9 3.8z"/>
<path fill="#0050ff" d="M525.8 211.7l3.9-3.8-1.9-3.8-3.9 3.5z"/>
<path fill="#0040ff" d="M521.8 215.2l4-3.5-1.9-4.1-3.9 3z"/>
<path fill="#0030ff" d="M517.9 218l3.9-2.8-1.8-4.6-4 2.4z"/>
<g fill="#0020ff"><path d="M514 219.9l3.9-1.9-1.9-5-3.9 1.7z"/><path d="M510 220.8l4-.9-1.9-5.2-3.9 .7z"/><path d="M506.1 220.5l3.9 .3-1.8-5.4-4-.2z"/></g>
<path fill="#0030ff" d="M502.2 219.1l3.9 1.4-1.9-5.3-3.9-1.1z"/>
<path fill="#0040ff" d="M498.3 216.8l3.9 2.3-1.9-5-3.9-1.8z"/>
<path fill="#0050ff" d="M494.3 213.9l4 2.9-1.9-4.5-3.9-2.5z"/>
<path fill="#0070ff" d="M490.4 210.6l3.9 3.3-1.8-4.1-4-2.9z"/>
<path fill="#008fff" d="M486.5 207l3.9 3.6-1.9-3.7-3.9-3.3z"/>
<path fill="#00afff" class="t" d="M482.6 203.2l3.9 3.8-1.9-3.4-3.9-3.5z"/>
<path fill="#00cfff" class="t" d="M478.6 199.3l4 3.9-1.9-3.1-3.9-3.7z"/>
<path fill="#00efff" class="t" d="M474.7 195.2l3.9 4.1-1.8-2.9-4-3.9z"/>
<path fill="#10ffef" class="t" d="M470.8 191.1l3.9 4.1-1.9-2.7-3.9-4z"/>
<path fill="#30ffcf" class="t" d="M466.8 186.9l4 4.2-1.9-2.6-3.9-4z"/>
<path fill="#50ffaf" class="t" d="M462.9 182.6l3.9 4.3-1.8-2.4-4-4.1z"/>
<path fill="#70ff8f" class="t" d="M459 178.3l3.9 4.3-1.9-2.2-3.9-4.2z"/>
<path fill="#8fff70" class="t" d="M455.1 174l3.9 4.3-1.9-2.1-3.9-4.2z"/>
<path fill="#bfff40" class="t" d="M451.1 169.7l4 4.3-1.9-2-3.9-4.3z"/>
<path fill="#dfff20" class="t" d="M447.2 165.3l3.9 4.4-1.8-2-4-4.3z"/>
<path fill="#ff0" class="t" d="M443.3 160.9l3.9 4.4-1.9-1.9-3.9-4.3z"/>
<path fill="#ffdf00" class="t" d="M439.4 156.5l3.9 4.4-1.9-1.8-3.9-4.3z"/>
<path fill="#ffbf00" class="t" d="M435.4 152.1l4 4.4-1.9-1.7-3.9-4.4z"/>
<path fill="#ff8f00" class="t" d="M431.5 147.7l3.9 4.4-1.8-1.7-4-4.3z"/>
<path fill="#ffbf00" d="M586.5 143l4-5-1.9-1.4-3.9 5z"/>
<path fill="#ffdf00" d="M582.6 148l3.9-5-1.8-1.4-4 4.9z"/>
<path fill="#ff0" d="M578.7 153l3.9-5-1.9-1.5-3.9 5z"/>
<path fill="#cfff30" d="M574.8 158l3.9-5-1.9-1.5-3.9 4.9z"/>
<path fill="#afff50" d="M570.8 163l4-5-1.9-1.6-3.9 4.9z"/>
<path fill="#8fff70" d="M566.9 168l3.9-5-1.8-1.7-4 4.9z"/>
<path fill="#70ff8f" d="M563 173l3.9-5-1.9-1.8-3.9 4.9z"/>
<path fill="#40ffbf" d="M559.1 177.9l3.9-4.9-1.9-1.9-3.9 4.9z"/>
<path fill="#20ffdf" d="M555.1 182.8l4-4.9-1.9-1.9-3.9 4.8z"/>
<path fill="#0ff" d="M551.2 187.7l3.9-4.9-1.8-2-4 4.7z"/>
<path fill="#00dfff" d="M547.3 192.6l3.9-4.9-1.9-2.2-3.9 4.7z"/>
<path fill="#00bfff" d="M543.3 197.4l4-4.8-1.9-2.4-3.9 4.6z"/>
<path fill="#009fff" d="M539.4 202.1l3.9-4.7-1.8-2.6-4 4.6z"/>
<path fill="#0080ff" d="M535.5 206.7l3.9-4.6-1.9-2.7-3.9 4.3z"/>
<path fill="#0060ff" d="M531.6 211.2l3.9-4.5-1.9-3-3.9 4.2z"/>
<path fill="#0040ff" d="M527.6 215.5l4-4.3-1.9-3.3-3.9 3.8z"/>
<path fill="#0020ff" d="M523.7 219.4l3.9-3.9-1.8-3.8-4 3.5z"/>
<path fill="#0010ff" d="M519.8 222.7l3.9-3.3-1.9-4.2-3.9 2.8z"/>
<path fill="#00f" d="M515.9 225.1l3.9-2.4-1.9-4.7-3.9 1.9z"/>
<path fill="#0000ef" d="M511.9 226.2l4-1.1-1.9-5.2-4 .9z"/>
<path fill="#00f" d="M508 225.7l3.9 .5-1.9-5.4-3.9-.3z"/>
<path fill="#0010ff" d="M504.1 223.8l3.9 1.9-1.9-5.2-3.9-1.4z"/>
<path fill="#0020ff" d="M500.1 221l4 2.8-1.9-4.7-3.9-2.3z"/>
<path fill="#0040ff" d="M496.2 217.7l3.9 3.3-1.8-4.2-4-2.9z"/>
<path fill="#0060ff" d="M492.3 214l3.9 3.7-1.9-3.8-3.9-3.3z"/>
<path fill="#0080ff" class="t" d="M488.4 210l3.9 4-1.9-3.4-3.9-3.6z"/>
<path fill="#009fff" class="t" d="M484.4 206l4 4-1.9-3-3.9-3.8z"/>
<path fill="#00bfff" class="t" d="M480.5 201.8l3.9 4.2-1.8-2.8-4-3.9z"/>
<path fill="#00dfff" class="t" d="M476.6 197.5l3.9 4.3-1.9-2.5-3.9-4.1z"/>
<path fill="#0ff" class="t" d="M472.6 193.3l4 4.2-1.9-2.3-3.9-4.1z"/>
<path fill="#20ffdf" class="t" d="M468.7 188.9l3.9 4.4-1.8-2.2-4-4.2z"/>
<path fill="#40ffbf" class="t" d="M464.8 184.6l3.9 4.3-1.9-2-3.9-4.3z"/>
<path fill="#70ff8f" class="t" d="M460.9 180.2l3.9 4.4-1.9-2-3.9-4.3z"/>
<path fill="#8fff70" class="t" d="M456.9 175.8l4 4.4-1.9-1.9-3.9-4.3z"/>
<path fill="#afff50" class="t" d="M453 171.3l3.9 4.5-1.8-1.8-4-4.3z"/>
<path fill="#cfff30" class="t" d="M449.1 166.9l3.9 4.4-1.9-1.6-3.9-4.4z"/>
<path fill="#ff0" class="t" d="M445.2 162.5l3.9 4.4-1.9-1.6-3.9-4.4z"/>
<path fill="#ffdf00" class="t" d="M441.2 158l4 4.5-1.9-1.6-3.9-4.4z"/>
<path fill="#ffbf00" class="t" d="M437.3 153.6l3.9 4.4-1.8-1.5-4-4.4z"/>
<path fill="#ff9f00" class="t" d="M433.4 149.1l3.9 4.5-1.9-1.5-3.9-4.4z"/>
<path fill="#ffbf00" d="M588.4 144.2l4-5-1.9-1.2-4 5z"/>
<path fill="#ffef00" d="M584.5 149.3l3.9-5.1-1.9-1.2-3.9 5z"/>
<path fill="#efff10" d="M580.6 154.3l3.9-5-1.9-1.3-3.9 5z"/>
<path fill="#cfff30" d="M576.6 159.4l4-5.1-1.9-1.3-3.9 5z"/>
<path fill="#afff50" d="M572.7 164.4l3.9-5-1.8-1.4-4 5z"/>
<path fill="#8fff70" d="M568.8 169.4l3.9-5-1.9-1.4-3.9 5z"/>
<path fill="#60ff9f" d="M564.9 174.4l3.9-5-1.9-1.4-3.9 5z"/>
<path fill="#40ffbf" d="M560.9 179.5l4-5.1-1.9-1.4-3.9 4.9z"/>
<path fill="#20ffdf" d="M557 184.5l3.9-5-1.8-1.6-4 4.9z"/>
<path fill="#0ff" d="M553.1 189.4l3.9-4.9-1.9-1.7-3.9 4.9z"/>
<path fill="#00cfff" d="M549.1 194.4l4-5-1.9-1.7-3.9 4.9z"/>
<path fill="#00afff" d="M545.2 199.4l3.9-5-1.8-1.8-4 4.8z"/>
<path fill="#008fff" d="M541.3 204.3l3.9-4.9-1.9-2-3.9 4.7z"/>
<path fill="#0070ff" d="M537.4 209.1l3.9-4.8-1.9-2.2-3.9 4.6z"/>
<path fill="#0050ff" d="M533.4 213.9l4-4.8-1.9-2.4-3.9 4.5z"/>
<path fill="#0030ff" d="M529.5 218.6l3.9-4.7-1.8-2.7-4 4.3z"/>
<path fill="#0010ff" d="M525.6 223l3.9-4.4-1.9-3.1-3.9 3.9z"/>
<path fill="#0000ef" d="M521.7 227l3.9-4-1.9-3.6-3.9 3.3z"/>
<path fill="#0000df" d="M517.7 230.1l4-3.1-1.9-4.3-3.9 2.4z"/>
<path fill="#0000cf" d="M513.8 231.5l3.9-1.4-1.8-5-4 1.1z"/>
<path fill="#0000df" d="M509.9 230.7l3.9 .8-1.9-5.3-3.9-.5z"/>
<path fill="#0000ef" d="M505.9 228.1l4 2.6-1.9-5-3.9-1.9z"/>
<path fill="#0010ff" d="M502 224.7l3.9 3.4-1.8-4.3-4-2.8z"/>
<path fill="#0030ff" d="M498.1 220.8l3.9 3.9-1.9-3.7-3.9-3.3z"/>
<path fill="#0050ff" class="t" d="M494.2 216.7l3.9 4.1-1.9-3.1-3.9-3.7z"/>
<path fill="#0070ff" class="t" d="M490.2 212.5l4 4.2-1.9-2.7-3.9-4z"/>
<path fill="#008fff" class="t" d="M486.3 208.2l3.9 4.3-1.8-2.5-4-4z"/>
<path fill="#00afff" class="t" d="M482.4 203.8l3.9 4.4-1.9-2.2-3.9-4.2z"/>
<path fill="#00cfff" class="t" d="M478.5 199.4l3.9 4.4-1.9-2-3.9-4.3z"/>
<path fill="#0ff" class="t" d="M474.5 195l4 4.4-1.9-1.9-4-4.2z"/>
<path fill="#20ffdf" class="t" d="M470.6 190.6l3.9 4.4-1.9-1.7-3.9-4.4z"/>
<path fill="#40ffbf" class="t" d="M466.7 186.1l3.9 4.5-1.9-1.7-3.9-4.3z"/>
<path fill="#60ff9f" class="t" d="M462.7 181.7l4 4.4-1.9-1.5-3.9-4.4z"/>
<path fill="#80ff80" class="t" d="M458.8 177.2l3.9 4.5-1.8-1.5-4-4.4z"/>
<path fill="#afff50" class="t" d="M454.9 172.7l3.9 4.5-1.9-1.4-3.9-4.5z"/>
<path fill="#cfff30" class="t" d="M451 168.2l3.9 4.5-1.9-1.4-3.9-4.4z"/>
<path fill="#efff10" class="t" d="M447 163.7l4 4.5-1.9-1.3-3.9-4.4z"/>
<path fill="#ffef00" class="t" d="M443.1 159.3l3.9 4.4-1.8-1.2-4-4.5z"/>
<path fill="#ffbf00" class="t" d="M439.2 154.8l3.9 4.5-1.9-1.3-3.9-4.4z"/>
<path fill="#ff9f00" class="t" d="M435.2 150.3l4 4.5-1.9-1.2-3.9-4.5z"/>
<path fill="#ffbf00" d="M590.3 145.2l3.9-5.1-1.8-.9-4 5z"/>
<path fill="#ffef00" d="M586.4 150.3l3.9-5.1-1.9-1-3.9 5.1z"/>
<path fill="#efff10" d="M582.4 155.3l4-5-1.9-1-3.9 5z"/>
<path fill="#cfff30" d="M578.5 160.4l3.9-5.1-1.8-1-4 5.1z"/>
<path fill="#afff50" d="M574.6 165.4l3.9-5-1.9-1-3.9 5z"/>
<path fill="#80ff80" d="M570.7 170.5l3.9-5.1-1.9-1-3.9 5z"/>
<path fill="#60ff9f" d="M566.7 175.6l4-5.1-1.9-1.1-3.9 5z"/>
<path fill="#40ffbf" d="M562.8 180.6l3.9-5-1.8-1.2-4 5.1z"/>
<path fill="#10ffef" d="M558.9 185.7l3.9-5.1-1.9-1.1-3.9 5z"/>
<path fill="#00efff" d="M555 190.7l3.9-5-1.9-1.2-3.9 4.9z"/>
<path fill="#00cfff" d="M551 195.8l4-5.1-1.9-1.3-4 5z"/>
<path fill="#00afff" d="M547.1 200.8l3.9-5-1.9-1.4-3.9 5z"/>
<path fill="#008fff" d="M543.2 205.9l3.9-5.1-1.9-1.4-3.9 4.9z"/>
<path fill="#0060ff" d="M539.2 210.9l4-5-1.9-1.6-3.9 4.8z"/>
<path fill="#0040ff" d="M535.3 215.9l3.9-5-1.8-1.8-4 4.8z"/>
<path fill="#0020ff" d="M531.4 220.8l3.9-4.9-1.9-2-3.9 4.7z"/>
<path fill="#00f" d="M527.5 225.7l3.9-4.9-1.9-2.2-3.9 4.4z"/>
<path fill="#0000df" d="M523.5 230.4l4-4.7-1.9-2.7-3.9 4z"/>
<path fill="#0000bf" d="M519.6 234.7l3.9-4.3-1.8-3.4-4 3.1z"/>
<path fill="#0000af" d="M515.7 236.9l3.9-2.2-1.9-4.6-3.9 1.4z"/>
<path fill="#0000bf" d="M511.7 235.2l4 1.7-1.9-5.4-3.9-.8z"/>
<path fill="#0000df" d="M507.8 231.5l3.9 3.7-1.8-4.5-4-2.6z"/>
<path fill="#00f" class="t" d="M503.9 227.4l3.9 4.1-1.9-3.4-3.9-3.4z"/>
<path fill="#0020ff" class="t" d="M500 223.1l3.9 4.3-1.9-2.7-3.9-3.9z"/>
<path fill="#0040ff" class="t" d="M496 218.6l4 4.5-1.9-2.3-3.9-4.1z"/>
<path fill="#0060ff" class="t" d="M492.1 214.2l3.9 4.4-1.8-1.9-4-4.2z"/>
<path fill="#0080ff" class="t" d="M488.2 209.7l3.9 4.5-1.9-1.7-3.9-4.3z"/>
<path fill="#00afff" class="t" d="M484.3 205.3l3.9 4.4-1.9-1.5-3.9-4.4z"/>
<path fill="#00cfff" class="t" d="M480.3 200.8l4 4.5-1.9-1.5-3.9-4.4z"/>
<path fill="#00efff" class="t" d="M476.4 196.3l3.9 4.5-1.8-1.4-4-4.4z"/>
<path fill="#10ffef" class="t" d="M472.5 191.8l3.9 4.5-1.9-1.3-3.9-4.4z"/>
<path fill="#40ffbf" class="t" d="M468.5 187.3l4 4.5-1.9-1.2-3.9-4.5z"/>
<path fill="#60ff9f" class="t" d="M464.6 182.8l3.9 4.5-1.8-1.2-4-4.4z"/>
<path fill="#80ff80" class="t" d="M460.7 178.3l3.9 4.5-1.9-1.1-3.9-4.5z"/>
<path fill="#afff50" class="t" d="M456.8 173.8l3.9 4.5-1.9-1.1-3.9-4.5z"/>
<path fill="#cfff30" class="t" d="M452.8 169.3l4 4.5-1.9-1.1-3.9-4.5z"/>
<path fill="#efff10" class="t" d="M448.9 164.8l3.9 4.5-1.8-1.1-4-4.5z"/>
<path fill="#ffef00" class="t" d="M445 160.2l3.9 4.6-1.9-1.1-3.9-4.4z"/>
<path fill="#ffbf00" class="t" d="M441.1 155.7l3.9 4.5-1.9-.9-3.9-4.5z"/>
<path fill="#ff9f00" class="t" d="M437.1 151.2l4 4.5-1.9-.9-4-4.5z"/>
<path fill="#ffcf00" d="M592.2 145.9l3.9-5.1-1.9-.7-3.9 5.1z"/>
<path fill="#ffef00" d="M588.2 151l4-5.1-1.9-.7-3.9 5.1z"/>
<path fill="#efff10" d="M584.3 156l3.9-5-1.8-.7-4 5z"/>
<path fill="#cfff30" d="M580.4 161.1l3.9-5.1-1.9-.7-3.9 5.1z"/>
<path fill="#9fff60" d="M576.5 166.2l3.9-5.1-1.9-.7-3.9 5z"/>
<path fill="#80ff80" d="M572.5 171.3l4-5.1-1.9-.8-3.9 5.1z"/>
<path fill="#60ff9f" d="M568.6 176.3l3.9-5-1.8-.8-4 5.1z"/>
<path fill="#40ffbf" d="M564.7 181.4l3.9-5.1-1.9-.7-3.9 5z"/>
<path fill="#10ffef" d="M560.8 186.5l3.9-5.1-1.9-.8-3.9 5.1z"/>
<path fill="#00efff" d="M556.8 191.6l4-5.1-1.9-.8-3.9 5z"/>
<path fill="#00cfff" d="M552.9 196.6l3.9-5-1.8-.9-4 5.1z"/>
<path fill="#00afff" d="M549 201.7l3.9-5.1-1.9-.8-3.9 5z"/>
<path fill="#0080ff" d="M545 206.8l4-5.1-1.9-.9-3.9 5.1z"/>
<path fill="#0060ff" d="M541.1 211.9l3.9-5.1-1.8-.9-4 5z"/>
<path fill="#0040ff" d="M537.2 216.9l3.9-5-1.9-1-3.9 5z"/>
<path fill="#0020ff" d="M533.3 222l3.9-5.1-1.9-1-3.9 4.9z"/>
<path fill="#0000ef" d="M529.3 227.1l4-5.1-1.9-1.2-3.9 4.9z"/>
<path fill="#0000cf" d="M525.4 232.2l3.9-5.1-1.8-1.4-4 4.7z"/>
<path fill="#0000af" d="M521.5 237.2l3.9-5-1.9-1.8-3.9 4.3z"/>
<path fill="#00008f" d="M517.6 242.3l3.9-5.1-1.9-2.5-3.9 2.2z"/>
<path fill="#0000af" d="M513.6 237.8l4 4.5-1.9-5.4-4-1.7z"/>
<path fill="#0000cf" class="t" d="M509.7 233.3l3.9 4.5-1.9-2.6-3.9-3.7z"/>
<path fill="#0000ef" class="t" d="M505.8 228.7l3.9 4.6-1.9-1.8-3.9-4.1z"/>
<path fill="#0020ff" class="t" d="M501.8 224.2l4 4.5-1.9-1.3-3.9-4.3z"/>
<path fill="#0040ff" class="t" d="M497.9 219.7l3.9 4.5-1.8-1.1-4-4.5z"/>
<path fill="#0060ff" class="t" d="M494 215.2l3.9 4.5-1.9-1.1-3.9-4.4z"/>
<path fill="#0080ff" class="t" d="M490.1 210.7l3.9 4.5-1.9-1-3.9-4.5z"/>
<path fill="#00afff" class="t" d="M486.1 206.1l4 4.6-1.9-1-3.9-4.4z"/>
<path fill="#00cfff" class="t" d="M482.2 201.6l3.9 4.5-1.8-.8-4-4.5z"/>
<path fill="#00efff" class="t" d="M478.3 197.1l3.9 4.5-1.9-.8-3.9-4.5z"/>
<path fill="#10ffef" class="t" d="M474.3 192.6l4 4.5-1.9-.8-3.9-4.5z"/>
<path fill="#40ffbf" class="t" d="M470.4 188.1l3.9 4.5-1.8-.8-4-4.5z"/>
<path fill="#60ff9f" class="t" d="M466.5 183.6l3.9 4.5-1.9-.8-3.9-4.5z"/>
<path fill="#80ff80" class="t" d="M462.6 179l3.9 4.6-1.9-.8-3.9-4.5z"/>
<path fill="#9fff60" d="M458.6 174.5l4 4.5-1.9-.7-3.9-4.5z"/>
<path fill="#cfff30" d="M454.7 170l3.9 4.5-1.8-.7-4-4.5z"/>
<path fill="#efff10" d="M450.8 165.5l3.9 4.5-1.9-.7-3.9-4.5z"/>
<path fill="#ffef00" d="M446.9 161l3.9 4.5-1.9-.7-3.9-4.6z"/>
<path fill="#ffcf00" d="M442.9 156.4l4 4.6-1.9-.8-3.9-4.5z"/>
<path fill="#ff9f00" d="M439 151.9l3.9 4.5-1.8-.7-4-4.5z"/>
<path fill="#ffbf00" d="M594 146.4l4-5.1-1.9-.5-3.9 5.1z"/>
<path fill="#ffef00" d="M590.1 151.4l3.9-5-1.8-.5-4 5.1z"/>
<path fill="#efff10" d="M586.2 156.5l3.9-5.1-1.9-.4-3.9 5z"/>
<path fill="#cfff30" d="M582.3 161.5l3.9-5-1.9-.5-3.9 5.1z"/>
<path fill="#afff50" d="M578.3 166.6l4-5.1-1.9-.4-3.9 5.1z"/>
<path fill="#80ff80" d="M574.4 171.7l3.9-5.1-1.8-.4-4 5.1z"/>
<path fill="#60ff9f" d="M570.5 176.7l3.9-5-1.9-.4-3.9 5z"/>
<path fill="#40ffbf" d="M566.6 181.8l3.9-5.1-1.9-.4-3.9 5.1z"/>
<path fill="#10ffef" d="M562.6 186.9l4-5.1-1.9-.4-3.9 5.1z"/>
<path fill="#00efff" d="M558.7 191.9l3.9-5-1.8-.4-4 5.1z"/>
<path fill="#00cfff" d="M554.8 197l3.9-5.1-1.9-.3-3.9 5z"/>
<path fill="#00afff" d="M550.8 202l4-5-1.9-.4-3.9 5.1z"/>
<path fill="#008fff" d="M546.9 207l3.9-5-1.8-.3-4 5.1z"/>
<path fill="#0060ff" d="M543 212l3.9-5-1.9-.2-3.9 5.1z"/>
<path fill="#0040ff" d="M539.1 217l3.9-5-1.9-.1-3.9 5z"/>
<path fill="#0020ff" d="M535.1 222l4-5-1.9-.1-3.9 5.1z"/>
<path fill="#00f" d="M531.2 226.9l3.9-4.9-1.8 0-4 5.1z"/>
<path fill="#0000df" d="M527.3 231.6l3.9-4.7-1.9 .2-3.9 5.1z"/>
<path fill="#0000bf" class="t" d="M523.4 235.8l3.9-4.2-1.9 .6-3.9 5z"/>
<path fill="#0000af" class="t" d="M519.4 238.1l4-2.3-1.9 1.4-3.9 5.1z"/>
<path fill="#0000bf" d="M515.5 236.4l3.9 1.7-1.8 4.2-4-4.5z"/>
<path fill="#0000df" d="M511.6 232.7l3.9 3.7-1.9 1.4-3.9-4.5z"/>
<path fill="#00f" d="M507.6 228.5l4 4.2-1.9 .6-3.9-4.6z"/>
<path fill="#0020ff" d="M503.7 224.2l3.9 4.3-1.8 .2-4-4.5z"/>
<path fill="#0040ff" d="M499.8 219.8l3.9 4.4-1.9 0-3.9-4.5z"/>
<path fill="#0060ff" d="M495.9 215.4l3.9 4.4-1.9-.1-3.9-4.5z"/>
<path fill="#0080ff" d="M491.9 210.9l4 4.5-1.9-.2-3.9-4.5z"/>
<path fill="#00afff" d="M488 206.4l3.9 4.5-1.8-.2-4-4.6z"/>
<path fill="#00cfff" d="M484.1 201.9l3.9 4.5-1.9-.3-3.9-4.5z"/>
<path fill="#00efff" d="M480.2 197.5l3.9 4.4-1.9-.3-3.9-4.5z"/>
<path fill="#10ffef" d="M476.2 193l4 4.5-1.9-.4-4-4.5z"/>
<path fill="#40ffbf" d="M472.3 188.5l3.9 4.5-1.9-.4-3.9-4.5z"/>
<path fill="#60ff9f" d="M468.4 184l3.9 4.5-1.9-.4-3.9-4.5z"/>
<path fill="#80ff80" d="M464.4 179.4l4 4.6-1.9-.4-3.9-4.6z"/>
<path fill="#afff50" d="M460.5 174.9l3.9 4.5-1.8-.4-4-4.5z"/>
<path fill="#cfff30" d="M456.6 170.4l3.9 4.5-1.9-.4-3.9-4.5z"/>
<path fill="#efff10" d="M452.7 165.9l3.9 4.5-1.9-.4-3.9-4.5z"/>
<path fill="#ffef00" d="M448.7 161.4l4 4.5-1.9-.4-3.9-4.5z"/>
<path fill="#ffbf00" d="M444.8 156.9l3.9 4.5-1.8-.4-4-4.6z"/>
<path fill="#ff9f00" d="M440.9 152.4l3.9 4.5-1.9-.5-3.9-4.5z"/>
<path fill="#ffbf00" d="M595.9 146.6l3.9-5.1-1.8-.2-4 5.1z"/>
<path fill="#ffef00" d="M592 151.6l3.9-5-1.9-.2-3.9 5z"/>
<path fill="#efff10" d="M588.1 156.6l3.9-5-1.9-.2-3.9 5.1z"/>
<path fill="#cfff30" d="M584.1 161.7l4-5.1-1.9-.1-3.9 5z"/>
<path fill="#afff50" d="M580.2 166.7l3.9-5-1.8-.2-4 5.1z"/>
<path fill="#8fff70" d="M576.3 171.7l3.9-5-1.9-.1-3.9 5.1z"/>
<path fill="#60ff9f" d="M572.4 176.8l3.9-5.1-1.9 0-3.9 5z"/>
<path fill="#40ffbf" d="M568.4 181.8l4-5-1.9-.1-3.9 5.1z"/>
<path fill="#20ffdf" d="M564.5 186.8l3.9-5-1.8 0-4 5.1z"/>
<path fill="#0ff" d="M560.6 191.8l3.9-5-1.9 .1-3.9 5z"/>
<path fill="#00cfff" d="M556.6 196.7l4-4.9-1.9 .1-3.9 5.1z"/>
<path fill="#00afff" d="M552.7 201.7l3.9-5-1.8 .3-4 5z"/>
<path fill="#008fff" d="M548.8 206.6l3.9-4.9-1.9 .3-3.9 5z"/>
<path fill="#0070ff" d="M544.9 211.5l3.9-4.9-1.9 .4-3.9 5z"/>
<path fill="#0050ff" d="M540.9 216.2l4-4.7-1.9 .5-3.9 5z"/>
<path fill="#0030ff" class="t" d="M537 220.9l3.9-4.7-1.8 .8-4 5z"/>
<path fill="#0010ff" class="t" d="M533.1 225.3l3.9-4.4-1.9 1.1-3.9 4.9z"/>
<path fill="#0000ef" class="t" d="M529.2 229.3l3.9-4-1.9 1.6-3.9 4.7z"/>
<path fill="#0000df" class="t" d="M525.2 232.5l4-3.2-1.9 2.3-3.9 4.2z"/>
<path fill="#0000cf" d="M521.3 233.9l3.9-1.4-1.8 3.3-4 2.3z"/>
<path fill="#0000df" d="M517.4 233l3.9 .9-1.9 4.2-3.9-1.7z"/>
<path fill="#0000ef" d="M513.4 230.5l4 2.5-1.9 3.4-3.9-3.7z"/>
<path fill="#0010ff" d="M509.5 227l3.9 3.5-1.8 2.2-4-4.2z"/>
<path fill="#0030ff" d="M505.6 223.1l3.9 3.9-1.9 1.5-3.9-4.3z"/>
<path fill="#0050ff" d="M501.7 219l3.9 4.1-1.9 1.1-3.9-4.4z"/>
<path fill="#0070ff" d="M497.7 214.8l4 4.2-1.9 .8-3.9-4.4z"/>
<path fill="#008fff" d="M493.8 210.5l3.9 4.3-1.8 .6-4-4.5z"/>
<path fill="#00afff" d="M489.9 206.1l3.9 4.4-1.9 .4-3.9-4.5z"/>
<path fill="#00cfff" d="M486 201.7l3.9 4.4-1.9 .3-3.9-4.5z"/>
<path fill="#0ff" d="M482 197.3l4 4.4-1.9 .2-3.9-4.4z"/>
<path fill="#20ffdf" d="M478.1 192.9l3.9 4.4-1.8 .2-4-4.5z"/>
<path fill="#40ffbf" d="M474.2 188.4l3.9 4.5-1.9 .1-3.9-4.5z"/>
<path fill="#60ff9f" d="M470.2 184l4 4.4-1.9 .1-3.9-4.5z"/>
<path fill="#80ff80" d="M466.3 179.5l3.9 4.5-1.8 0-4-4.6z"/>
<path fill="#afff50" d="M462.4 175l3.9 4.5-1.9-.1-3.9-4.5z"/>
<path fill="#cfff30" d="M458.5 170.6l3.9 4.4-1.9-.1-3.9-4.5z"/>
<path fill="#efff10" d="M454.5 166.1l4 4.5-1.9-.2-3.9-4.5z"/>
<path fill="#ffef00" d="M450.6 161.6l3.9 4.5-1.8-.2-4-4.5z"/>
<path fill="#ffbf00" d="M446.7 157.1l3.9 4.5-1.9-.2-3.9-4.5z"/>
<path fill="#ff9f00" d="M442.8 152.6l3.9 4.5-1.9-.2-3.9-4.5z"/>
<path fill="#ffbf00" d="M597.8 146.5l3.9-5-1.9 0-3.9 5.1z"/>
<path fill="#ffdf00" d="M593.9 151.5l3.9-5-1.9 .1-3.9 5z"/>
<path fill="#ff0" d="M589.9 156.5l4-5-1.9 .1-3.9 5z"/>
<path fill="#cfff30" d="M586 161.5l3.9-5-1.8 .1-4 5.1z"/>
<path fill="#afff50" d="M582.1 166.5l3.9-5-1.9 .2-3.9 5z"/>
<path fill="#8fff70" d="M578.2 171.5l3.9-5-1.9 .2-3.9 5z"/>
<path fill="#70ff8f" d="M574.2 176.4l4-4.9-1.9 .2-3.9 5.1z"/>
<path fill="#40ffbf" d="M570.3 181.4l3.9-5-1.8 .4-4 5z"/>
<path fill="#20ffdf" d="M566.4 186.3l3.9-4.9-1.9 .4-3.9 5z"/>
<path fill="#0ff" d="M562.4 191.2l4-4.9-1.9 .5-3.9 5z"/>
<path fill="#00dfff" d="M558.5 196l3.9-4.8-1.8 .6-4 4.9z"/>
<path fill="#00bfff" d="M554.6 200.8l3.9-4.8-1.9 .7-3.9 5z"/>
<path fill="#009fff" class="t" d="M550.7 205.6l3.9-4.8-1.9 .9-3.9 4.9z"/>
<path fill="#0080ff" class="t" d="M546.7 210.2l4-4.6-1.9 1-3.9 4.9z"/>
<path fill="#0060ff" class="t" d="M542.8 214.7l3.9-4.5-1.8 1.3-4 4.7z"/>
<path fill="#0040ff" class="t" d="M538.9 219l3.9-4.3-1.9 1.5-3.9 4.7z"/>
<path fill="#0020ff" class="t" d="M535 222.9l3.9-3.9-1.9 1.9-3.9 4.4z"/>
<path fill="#0010ff" class="t" d="M531 226.2l4-3.3-1.9 2.4-3.9 4z"/>
<path fill="#00f" d="M527.1 228.6l3.9-2.4-1.8 3.1-4 3.2z"/>
<path fill="#0000ef" d="M523.2 229.7l3.9-1.1-1.9 3.9-3.9 1.4z"/>
<path fill="#00f" d="M519.2 229.2l4 .5-1.9 4.2-3.9-.9z"/>
<path fill="#0010ff" d="M515.3 227.3l3.9 1.9-1.8 3.8-4-2.5z"/>
<path fill="#0020ff" d="M511.4 224.5l3.9 2.8-1.9 3.2-3.9-3.5z"/>
<path fill="#0040ff" d="M507.5 221.2l3.9 3.3-1.9 2.5-3.9-3.9z"/>
<path fill="#0060ff" d="M503.5 217.5l4 3.7-1.9 1.9-3.9-4.1z"/>
<path fill="#0080ff" d="M499.6 213.5l3.9 4-1.8 1.5-4-4.2z"/>
<path fill="#009fff" d="M495.7 209.5l3.9 4-1.9 1.3-3.9-4.3z"/>
<path fill="#00bfff" d="M491.8 205.3l3.9 4.2-1.9 1-3.9-4.4z"/>
<path fill="#00dfff" d="M487.8 201l4 4.3-1.9 .8-3.9-4.4z"/>
<path fill="#0ff" d="M483.9 196.7l3.9 4.3-1.8 .7-4-4.4z"/>
<path fill="#20ffdf" d="M480 192.4l3.9 4.3-1.9 .6-3.9-4.4z"/>
<path fill="#40ffbf" d="M476 188l4 4.4-1.9 .5-3.9-4.5z"/>
<path fill="#70ff8f" d="M472.1 183.7l3.9 4.3-1.8 .4-4-4.4z"/>
<path fill="#8fff70" d="M468.2 179.3l3.9 4.4-1.9 .3-3.9-4.5z"/>
<path fill="#afff50" d="M464.3 174.8l3.9 4.5-1.9 .2-3.9-4.5z"/>
<path fill="#cfff30" d="M460.3 170.4l4 4.4-1.9 .2-3.9-4.4z"/>
<path fill="#ff0" d="M456.4 166l3.9 4.4-1.8 .2-4-4.5z"/>
<path fill="#ffdf00" d="M452.5 161.5l3.9 4.5-1.9 .1-3.9-4.5z"/>
<path fill="#ffbf00" d="M448.6 157.1l3.9 4.4-1.9 .1-3.9-4.5z"/>
<path fill="#ff9f00" d="M444.6 152.6l4 4.5-1.9 0-3.9-4.5z"/>
<path fill="#ffbf00" d="M599.7 146.2l3.9-4.9-1.9 .2-3.9 5z"/>
<path fill="#ffdf00" d="M595.7 151.2l4-5-1.9 .3-3.9 5z"/>
<path fill="#ff0" d="M591.8 156.1l3.9-4.9-1.8 .3-4 5z"/>
<path fill="#dfff20" d="M587.9 161.1l3.9-5-1.9 .4-3.9 5z"/>
<path fill="#bfff40" d="M584 166l3.9-4.9-1.9 .4-3.9 5z"/>
<path fill="#8fff70" d="M580 170.9l4-4.9-1.9 .5-3.9 5z"/>
<path fill="#70ff8f" d="M576.1 175.8l3.9-4.9-1.8 .6-4 4.9z"/>
<path fill="#50ffaf" d="M572.2 180.6l3.9-4.8-1.9 .6-3.9 5z"/>
<path fill="#30ffcf" d="M568.3 185.4l3.9-4.8-1.9 .8-3.9 4.9z"/>
<path fill="#10ffef" class="t" d="M564.3 190.2l4-4.8-1.9 .9-4 4.9z"/>
<path fill="#00efff" class="t" d="M560.4 194.9l3.9-4.7-1.9 1-3.9 4.8z"/>
<path fill="#00cfff" class="t" d="M556.5 199.5l3.9-4.6-1.9 1.1-3.9 4.8z"/>
<path fill="#00afff" class="t" d="M552.5 204l4-4.5-1.9 1.3-3.9 4.8z"/>
<path fill="#008fff" class="t" d="M548.6 208.4l3.9-4.4-1.8 1.6-4 4.6z"/>
<path fill="#0070ff" class="t" d="M544.7 212.5l3.9-4.1-1.9 1.8-3.9 4.5z"/>
<path fill="#0050ff" class="t" d="M540.8 216.4l3.9-3.9-1.9 2.2-3.9 4.3z"/>
<path fill="#0040ff" class="t" d="M536.8 219.8l4-3.4-1.9 2.6-3.9 3.9z"/>
<path fill="#0030ff" d="M532.9 222.6l3.9-2.8-1.8 3.1-4 3.3z"/>
<g fill="#0020ff"><path d="M529 224.6l3.9-2-1.9 3.6-3.9 2.4z"/><path d="M525 225.4l4-.8-1.9 4-3.9 1.1z"/><path d="M521.1 225.1l3.9 .3-1.8 4.3-4-.5z"/></g>
<path fill="#0030ff" d="M517.2 223.7l3.9 1.4-1.9 4.1-3.9-1.9z"/>
<path fill="#0040ff" d="M513.3 221.5l3.9 2.2-1.9 3.6-3.9-2.8z"/>
<path fill="#0050ff" d="M509.3 218.6l4 2.9-1.9 3-3.9-3.3z"/>
<path fill="#0070ff" d="M505.4 215.3l3.9 3.3-1.8 2.6-4-3.7z"/>
<path fill="#008fff" d="M501.5 211.7l3.9 3.6-1.9 2.2-3.9-4z"/>
<path fill="#00afff" d="M497.6 207.9l3.9 3.8-1.9 1.8-3.9-4z"/>
<path fill="#00cfff" d="M493.6 203.9l4 4-1.9 1.6-3.9-4.2z"/>
<path fill="#00efff" d="M489.7 199.9l3.9 4-1.8 1.4-4-4.3z"/>
<path fill="#10ffef" d="M485.8 195.7l3.9 4.2-1.9 1.1-3.9-4.3z"/>
<path fill="#30ffcf" d="M481.8 191.5l4 4.2-1.9 1-3.9-4.3z"/>
<path fill="#50ffaf" d="M477.9 187.3l3.9 4.2-1.8 .9-4-4.4z"/>
<path fill="#70ff8f" d="M474 183l3.9 4.3-1.9 .7-3.9-4.3z"/>
<path fill="#8fff70" d="M470.1 178.7l3.9 4.3-1.9 .7-3.9-4.4z"/>
<path fill="#bfff40" d="M466.1 174.3l4 4.4-1.9 .6-3.9-4.5z"/>
<path fill="#dfff20" d="M462.2 170l3.9 4.3-1.8 .5-4-4.4z"/>
<path fill="#ff0" d="M458.3 165.6l3.9 4.4-1.9 .4-3.9-4.4z"/>
<path fill="#ffdf00" d="M454.4 161.2l3.9 4.4-1.9 .4-3.9-4.5z"/>
<path fill="#ffbf00" d="M450.4 156.8l4 4.4-1.9 .3-3.9-4.4z"/>
<path fill="#ff8f00" d="M446.5 152.4l3.9 4.4-1.8 .3-4-4.5z"/>
<path fill="#ffaf00" d="M601.5 145.7l4-4.9-1.9 .5-3.9 4.9z"/>
<path fill="#ffcf00" d="M597.6 150.6l3.9-4.9-1.8 .5-4 5z"/>
<path fill="#ffef00" d="M593.7 155.5l3.9-4.9-1.9 .6-3.9 4.9z"/>
<path fill="#dfff20" d="M589.8 160.4l3.9-4.9-1.9 .6-3.9 5z"/>
<path fill="#bfff40" d="M585.8 165.2l4-4.8-1.9 .7-3.9 4.9z"/>
<path fill="#9fff60" d="M581.9 170l3.9-4.8-1.8 .8-4 4.9z"/>
<path fill="#80ff80" class="t" d="M578 174.8l3.9-4.8-1.9 .9-3.9 4.9z"/>
<path fill="#60ff9f" class="t" d="M574.1 179.5l3.9-4.7-1.9 1-3.9 4.8z"/>
<path fill="#40ffbf" class="t" d="M570.1 184.2l4-4.7-1.9 1.1-3.9 4.8z"/>
<path fill="#20ffdf" class="t" d="M566.2 188.8l3.9-4.6-1.8 1.2-4 4.8z"/>
<path fill="#0ff" class="t" d="M562.3 193.3l3.9-4.5-1.9 1.4-3.9 4.7z"/>
<path fill="#00dfff" class="t" d="M558.3 197.7l4-4.4-1.9 1.6-3.9 4.6z"/>
<path fill="#00bfff" class="t" d="M554.4 202l3.9-4.3-1.8 1.8-4 4.5z"/>
<path fill="#009fff" class="t" d="M550.5 206.1l3.9-4.1-1.9 2-3.9 4.4z"/>
<path fill="#008fff" class="t" d="M546.6 209.9l3.9-3.8-1.9 2.3-3.9 4.1z"/>
<path fill="#0070ff" class="t" d="M542.6 213.4l4-3.5-1.9 2.6-3.9 3.9z"/>
<path fill="#0060ff" d="M538.7 216.4l3.9-3-1.8 3-4 3.4z"/>
<path fill="#0050ff" d="M534.8 218.8l3.9-2.4-1.9 3.4-3.9 2.8z"/>
<g fill="#0040ff"><path d="M530.9 220.5l3.9-1.7-1.9 3.8-3.9 2z"/><path d="M526.9 221.2l4-.7-1.9 4.1-4 .8z"/><path d="M523 221l3.9 .2-1.9 4.2-3.9-.3z"/></g>
<path fill="#0050ff" d="M519.1 219.9l3.9 1.1-1.9 4.1-3.9-1.4z"/>
<path fill="#0060ff" d="M515.1 218.1l4 1.8-1.9 3.8-3.9-2.2z"/>
<path fill="#0070ff" d="M511.2 215.6l3.9 2.5-1.8 3.4-4-2.9z"/>
<path fill="#008fff" d="M507.3 212.7l3.9 2.9-1.9 3-3.9-3.3z"/>
<path fill="#009fff" d="M503.4 209.4l3.9 3.3-1.9 2.6-3.9-3.6z"/>
<path fill="#00bfff" d="M499.4 205.9l4 3.5-1.9 2.3-3.9-3.8z"/>
<path fill="#00dfff" d="M495.5 202.2l3.9 3.7-1.8 2-4-4z"/>
<path fill="#0ff" d="M491.6 198.3l3.9 3.9-1.9 1.7-3.9-4z"/>
<path fill="#20ffdf" d="M487.6 194.4l4 3.9-1.9 1.6-3.9-4.2z"/>
<path fill="#40ffbf" d="M483.7 190.3l3.9 4.1-1.8 1.3-4-4.2z"/>
<path fill="#60ff9f" d="M479.8 186.2l3.9 4.1-1.9 1.2-3.9-4.2z"/>
<path fill="#80ff80" d="M475.9 182l3.9 4.2-1.9 1.1-3.9-4.3z"/>
<path fill="#9fff60" d="M471.9 177.8l4 4.2-1.9 1-3.9-4.3z"/>
<path fill="#bfff40" d="M468 173.5l3.9 4.3-1.8 .9-4-4.4z"/>
<path fill="#dfff20" d="M464.1 169.2l3.9 4.3-1.9 .8-3.9-4.3z"/>
<path fill="#ffef00" d="M460.2 164.9l3.9 4.3-1.9 .8-3.9-4.4z"/>
<path fill="#ffcf00" d="M456.2 160.6l4 4.3-1.9 .7-3.9-4.4z"/>
<path fill="#ffaf00" d="M452.3 156.2l3.9 4.4-1.8 .6-4-4.4z"/>
<path fill="#ff8f00" d="M448.4 151.9l3.9 4.3-1.9 .6-3.9-4.4z"/>
<path fill="#ff9f00" d="M603.4 145l4-4.9-1.9 .7-4 4.9z"/>
<path fill="#ffcf00" d="M599.5 149.8l3.9-4.8-1.9 .7-3.9 4.9z"/>
<path fill="#ffef00" d="M595.6 154.6l3.9-4.8-1.9 .8-3.9 4.9z"/>
<path fill="#efff10" class="t" d="M591.6 159.4l4-4.8-1.9 .9-3.9 4.9z"/>
<path fill="#cfff30" class="t" d="M587.7 164.1l3.9-4.7-1.8 1-4 4.8z"/>
<path fill="#afff50" class="t" d="M583.8 168.9l3.9-4.8-1.9 1.1-3.9 4.8z"/>
<path fill="#8fff70" class="t" d="M579.9 173.5l3.9-4.6-1.9 1.1-3.9 4.8z"/>
<path fill="#70ff8f" class="t" d="M575.9 178.1l4-4.6-1.9 1.3-3.9 4.7z"/>
<path fill="#50ffaf" class="t" d="M572 182.6l3.9-4.5-1.8 1.4-4 4.7z"/>
<path fill="#30ffcf" class="t" d="M568.1 187.1l3.9-4.5-1.9 1.6-3.9 4.6z"/>
<path fill="#10ffef" class="t" d="M564.1 191.4l4-4.3-1.9 1.7-3.9 4.5z"/>
<path fill="#00efff" class="t" d="M560.2 195.6l3.9-4.2-1.8 1.9-4 4.4z"/>
<path fill="#00cfff" class="t" d="M556.3 199.6l3.9-4-1.9 2.1-3.9 4.3z"/>
<path fill="#00bfff" class="t" d="M552.4 203.4l3.9-3.8-1.9 2.4-3.9 4.1z"/>
<path fill="#009fff" class="t" d="M548.4 206.9l4-3.5-1.9 2.7-3.9 3.8z"/>
<path fill="#008fff" class="t" d="M544.5 210.1l3.9-3.2-1.8 3-4 3.5z"/>
<path fill="#0080ff" d="M540.6 212.8l3.9-2.7-1.9 3.3-3.9 3z"/>
<path fill="#0070ff" d="M536.7 214.9l3.9-2.1-1.9 3.6-3.9 2.4z"/>
<g fill="#0060ff"><path d="M532.7 216.3l4-1.4-1.9 3.9-3.9 1.7z"/><path d="M528.8 217l3.9-.7-1.8 4.2-4 .7z"/><path d="M524.9 216.9l3.9 .1-1.9 4.2-3.9-.2z"/></g>
<path fill="#0070ff" d="M520.9 216l4 .9-1.9 4.1-3.9-1.1z"/>
<path fill="#0080ff" d="M517 214.5l3.9 1.5-1.8 3.9-4-1.8z"/>
<path fill="#008fff" d="M513.1 212.3l3.9 2.2-1.9 3.6-3.9-2.5z"/>
<path fill="#009fff" d="M509.2 209.7l3.9 2.6-1.9 3.3-3.9-2.9z"/>
<path fill="#00bfff" d="M505.2 206.8l4 2.9-1.9 3-3.9-3.3z"/>
<path fill="#00cfff" d="M501.3 203.5l3.9 3.3-1.8 2.6-4-3.5z"/>
<path fill="#00efff" d="M497.4 200l3.9 3.5-1.9 2.4-3.9-3.7z"/>
<path fill="#10ffef" d="M493.5 196.4l3.9 3.6-1.9 2.2-3.9-3.9z"/>
<path fill="#30ffcf" d="M489.5 192.6l4 3.8-1.9 1.9-4-3.9z"/>
<path fill="#50ffaf" d="M485.6 188.7l3.9 3.9-1.9 1.8-3.9-4.1z"/>
<path fill="#70ff8f" d="M481.7 184.8l3.9 3.9-1.9 1.6-3.9-4.1z"/>
<path fill="#8fff70" d="M477.7 180.7l4 4.1-1.9 1.4-3.9-4.2z"/>
<path fill="#afff50" d="M473.8 176.6l3.9 4.1-1.8 1.3-4-4.2z"/>
<path fill="#cfff30" d="M469.9 172.5l3.9 4.1-1.9 1.2-3.9-4.3z"/>
<path fill="#efff10" d="M466 168.3l3.9 4.2-1.9 1-3.9-4.3z"/>
<path fill="#ffef00" d="M462 164l4 4.3-1.9 .9-3.9-4.3z"/>
<path fill="#ffcf00" d="M458.1 159.8l3.9 4.2-1.8 .9-4-4.3z"/>
<path fill="#ff9f00" d="M454.2 155.5l3.9 4.3-1.9 .8-3.9-4.4z"/>
<path fill="#ff8000" d="M450.2 151.2l4 4.3-1.9 .7-3.9-4.3z"/>
<path fill="#ff9f00" class="t" d="M605.3 144l3.9-4.8-1.8 .9-4 4.9z"/>
<path fill="#ffbf00" class="t" d="M601.4 148.7l3.9-4.7-1.9 1-3.9 4.8z"/>
<path fill="#ffdf00" class="t" d="M597.4 153.5l4-4.8-1.9 1.1-3.9 4.8z"/>
<path fill="#ff0" class="t" d="M593.5 158.2l3.9-4.7-1.8 1.1-4 4.8z"/>
<path fill="#dfff20" class="t" d="M589.6 162.8l3.9-4.6-1.9 1.2-3.9 4.7z"/>
<path fill="#bfff40" class="t" d="M585.7 167.4l3.9-4.6-1.9 1.3-3.9 4.8z"/>
<path fill="#9fff60" class="t" d="M581.7 172l4-4.6-1.9 1.5-3.9 4.6z"/>
<path fill="#80ff80" class="t" d="M577.8 176.4l3.9-4.4-1.8 1.5-4 4.6z"/>
<path fill="#60ff9f" class="t" d="M573.9 180.8l3.9-4.4-1.9 1.7-3.9 4.5z"/>
<path fill="#40ffbf" class="t" d="M570 185.1l3.9-4.3-1.9 1.8-3.9 4.5z"/>
<path fill="#20ffdf" class="t" d="M566 189.2l4-4.1-1.9 2-4 4.3z"/>
<path fill="#10ffef" class="t" d="M562.1 193.2l3.9-4-1.9 2.2-3.9 4.2z"/>
<path fill="#00efff" class="t" d="M558.2 197l3.9-3.8-1.9 2.4-3.9 4z"/>
<path fill="#00cfff" class="t" d="M554.2 200.5l4-3.5-1.9 2.6-3.9 3.8z"/>
<path fill="#00bfff" class="t" d="M550.3 203.7l3.9-3.2-1.8 2.9-4 3.5z"/>
<path fill="#00afff" d="M546.4 206.6l3.9-2.9-1.9 3.2-3.9 3.2z"/>
<path fill="#009fff" d="M542.5 209l3.9-2.4-1.9 3.5-3.9 2.7z"/>
<path fill="#008fff" d="M538.5 210.9l4-1.9-1.9 3.8-3.9 2.1z"/>
<g fill="#0080ff"><path d="M534.6 212.2l3.9-1.3-1.8 4-4 1.4z"/><path d="M530.7 212.8l3.9-.6-1.9 4.1-3.9 .7z"/><path d="M526.7 212.7l4 .1-1.9 4.2-3.9-.1z"/></g>
<path fill="#008fff" d="M522.8 212l3.9 .7-1.8 4.2-4-.9z"/>
<path fill="#009fff" d="M518.9 210.7l3.9 1.3-1.9 4-3.9-1.5z"/>
<path fill="#00afff" d="M515 208.8l3.9 1.9-1.9 3.8-3.9-2.2z"/>
<path fill="#00bfff" d="M511 206.5l4 2.3-1.9 3.5-3.9-2.6z"/>
<path fill="#00cfff" d="M507.1 203.8l3.9 2.7-1.8 3.2-4-2.9z"/>
<path fill="#00efff" d="M503.2 200.8l3.9 3-1.9 3-3.9-3.3z"/>
<path fill="#10ffef" d="M499.3 197.6l3.9 3.2-1.9 2.7-3.9-3.5z"/>
<path fill="#20ffdf" d="M495.3 194.2l4 3.4-1.9 2.4-3.9-3.6z"/>
<path fill="#40ffbf" d="M491.4 190.6l3.9 3.6-1.8 2.2-4-3.8z"/>
<path fill="#60ff9f" d="M487.5 186.9l3.9 3.7-1.9 2-3.9-3.9z"/>
<path fill="#80ff80" d="M483.5 183.1l4 3.8-1.9 1.8-3.9-3.9z"/>
<path fill="#9fff60" d="M479.6 179.2l3.9 3.9-1.8 1.7-4-4.1z"/>
<path fill="#bfff40" d="M475.7 175.2l3.9 4-1.9 1.5-3.9-4.1z"/>
<path fill="#dfff20" d="M471.8 171.1l3.9 4.1-1.9 1.4-3.9-4.1z"/>
<path fill="#ff0" d="M467.8 167.1l4 4-1.9 1.4-3.9-4.2z"/>
<path fill="#ffdf00" d="M463.9 162.9l3.9 4.2-1.8 1.2-4-4.3z"/>
<path fill="#ffbf00" d="M460 158.7l3.9 4.2-1.9 1.1-3.9-4.2z"/>
<path fill="#ff9f00" d="M456.1 154.5l3.9 4.2-1.9 1.1-3.9-4.3z"/>
<path fill="#ff8000" d="M452.1 150.3l4 4.2-1.9 1-4-4.3z"/>
<path fill="#ff8f00" class="t" d="M607.2 142.8l3.9-4.7-1.9 1.1-3.9 4.8z"/>
<path fill="#ffaf00" class="t" d="M603.2 147.5l4-4.7-1.9 1.2-3.9 4.7z"/>
<path fill="#ffcf00" class="t" d="M599.3 152.1l3.9-4.6-1.8 1.2-4 4.8z"/>
<path fill="#ffef00" class="t" d="M595.4 156.7l3.9-4.6-1.9 1.4-3.9 4.7z"/>
<path fill="#efff10" class="t" d="M591.5 161.3l3.9-4.6-1.9 1.5-3.9 4.6z"/>
<path fill="#cfff30" class="t" d="M587.5 165.7l4-4.4-1.9 1.5-3.9 4.6z"/>
<path fill="#afff50" class="t" d="M583.6 170.1l3.9-4.4-1.8 1.7-4 4.6z"/>
<path fill="#8fff70" class="t" d="M579.7 174.5l3.9-4.4-1.9 1.9-3.9 4.4z"/>
<path fill="#70ff8f" class="t" d="M575.8 178.7l3.9-4.2-1.9 1.9-3.9 4.4z"/>
<path fill="#50ffaf" class="t" d="M571.8 182.8l4-4.1-1.9 2.1-3.9 4.3z"/>
<path fill="#40ffbf" class="t" d="M567.9 186.7l3.9-3.9-1.8 2.3-4 4.1z"/>
<path fill="#20ffdf" class="t" d="M564 190.5l3.9-3.8-1.9 2.5-3.9 4z"/>
<path fill="#10ffef" class="t" d="M560 194l4-3.5-1.9 2.7-3.9 3.8z"/>
<path fill="#00efff" class="t" d="M556.1 197.3l3.9-3.3-1.8 3-4 3.5z"/>
<path fill="#00dfff" d="M552.2 200.3l3.9-3-1.9 3.2-3.9 3.2z"/>
<path fill="#00cfff" d="M548.3 202.9l3.9-2.6-1.9 3.4-3.9 2.9z"/>
<path fill="#00bfff" d="M544.3 205.1l4-2.2-1.9 3.7-3.9 2.4z"/>
<g fill="#00afff"><path d="M540.4 206.9l3.9-1.8-1.8 3.9-4 1.9z"/><path d="M536.5 208l3.9-1.1-1.9 4-3.9 1.3z"/><path d="M532.6 208.6l3.9-.6-1.9 4.2-3.9 .6z"/><path d="M528.6 208.6l4 0-1.9 4.2-4-.1z"/><path d="M524.7 208l3.9 .6-1.9 4.1-3.9-.7z"/></g>
<path fill="#00bfff" d="M520.8 206.8l3.9 1.2-1.9 4-3.9-1.3z"/>
<path fill="#00cfff" d="M516.8 205.2l4 1.6-1.9 3.9-3.9-1.9z"/>
<path fill="#00dfff" d="M512.9 203.1l3.9 2.1-1.8 3.6-4-2.3z"/>
<path fill="#00efff" d="M509 200.7l3.9 2.4-1.9 3.4-3.9-2.7z"/>
<path fill="#10ffef" d="M505.1 197.9l3.9 2.8-1.9 3.1-3.9-3z"/>
<path fill="#20ffdf" d="M501.1 194.9l4 3-1.9 2.9-3.9-3.2z"/>
<path fill="#40ffbf" d="M497.2 191.7l3.9 3.2-1.8 2.7-4-3.4z"/>
<path fill="#50ffaf" d="M493.3 188.3l3.9 3.4-1.9 2.5-3.9-3.6z"/>
<path fill="#70ff8f" d="M489.3 184.8l4 3.5-1.9 2.3-3.9-3.7z"/>
<path fill="#8fff70" d="M485.4 181.1l3.9 3.7-1.8 2.1-4-3.8z"/>
<path fill="#afff50" d="M481.5 177.4l3.9 3.7-1.9 2-3.9-3.9z"/>
<path fill="#cfff30" d="M477.6 173.5l3.9 3.9-1.9 1.8-3.9-4z"/>
<path fill="#efff10" d="M473.6 169.6l4 3.9-1.9 1.7-3.9-4.1z"/>
<path fill="#ffef00" d="M469.7 165.6l3.9 4-1.8 1.5-4-4z"/>
<path fill="#ffcf00" d="M465.8 161.6l3.9 4-1.9 1.5-3.9-4.2z"/>
<path fill="#ffaf00" d="M461.9 157.5l3.9 4.1-1.9 1.3-3.9-4.2z"/>
<path fill="#ff8f00" d="M457.9 153.4l4 4.1-1.9 1.2-3.9-4.2z"/>
<path fill="#ff7000" d="M454 149.2l3.9 4.2-1.8 1.1-4-4.2z"/>
<path fill="#ff8000" class="t" d="M609 141.4l4-4.6-1.9 1.3-3.9 4.7z"/>
<path fill="#ff9f00" class="t" d="M605.1 146l3.9-4.6-1.8 1.4-4 4.7z"/>
<path fill="#ffbf00" class="t" d="M601.2 150.6l3.9-4.6-1.9 1.5-3.9 4.6z"/>
<path fill="#ffdf00" class="t" d="M597.3 155.1l3.9-4.5-1.9 1.5-3.9 4.6z"/>
<path fill="#ff0" class="t" d="M593.3 159.5l4-4.4-1.9 1.6-3.9 4.6z"/>
<path fill="#dfff20" class="t" d="M589.4 163.8l3.9-4.3-1.8 1.8-4 4.4z"/>
<path fill="#bfff40" class="t" d="M585.5 168.1l3.9-4.3-1.9 1.9-3.9 4.4z"/>
<path fill="#9fff60" class="t" d="M581.6 172.3l3.9-4.2-1.9 2-3.9 4.4z"/>
<path fill="#8fff70" class="t" d="M577.6 176.3l4-4-1.9 2.2-3.9 4.2z"/>
<path fill="#70ff8f" class="t" d="M573.7 180.2l3.9-3.9-1.8 2.4-4 4.1z"/>
<path fill="#50ffaf" class="t" d="M569.8 184l3.9-3.8-1.9 2.6-3.9 3.9z"/>
<path fill="#40ffbf" class="t" d="M565.8 187.6l4-3.6-1.9 2.7-3.9 3.8z"/>
<path fill="#20ffdf" class="t" d="M561.9 190.9l3.9-3.3-1.8 2.9-4 3.5z"/>
<path fill="#10ffef" d="M558 194l3.9-3.1-1.9 3.1-3.9 3.3z"/>
<path fill="#0ff" d="M554.1 196.8l3.9-2.8-1.9 3.3-3.9 3z"/>
<path fill="#00efff" d="M550.1 199.2l4-2.4-1.9 3.5-3.9 2.6z"/>
<path fill="#00dfff" d="M546.2 201.2l3.9-2-1.8 3.7-4 2.2z"/>
<g fill="#00cfff"><path d="M542.3 202.8l3.9-1.6-1.9 3.9-3.9 1.8z"/><path d="M538.4 203.8l3.9-1-1.9 4.1-3.9 1.1z"/><path d="M534.4 204.4l4-.6-1.9 4.2-3.9 .6z"/><path d="M530.5 204.4l3.9 0-1.8 4.2-4 0z"/><path d="M526.6 203.9l3.9 .5-1.9 4.2-3.9-.6z"/></g>
<path fill="#00dfff" d="M522.6 202.9l4 1-1.9 4.1-3.9-1.2z"/>
<path fill="#00efff" d="M518.7 201.4l3.9 1.5-1.8 3.9-4-1.6z"/>
<path fill="#0ff" d="M514.8 199.5l3.9 1.9-1.9 3.8-3.9-2.1z"/>
<path fill="#10ffef" d="M510.9 197.3l3.9 2.2-1.9 3.6-3.9-2.4z"/>
<path fill="#20ffdf" d="M506.9 194.8l4 2.5-1.9 3.4-3.9-2.8z"/>
<path fill="#40ffbf" d="M503 192l3.9 2.8-1.8 3.1-4-3z"/>
<path fill="#50ffaf" d="M499.1 189l3.9 3-1.9 2.9-3.9-3.2z"/>
<path fill="#70ff8f" d="M495.2 185.8l3.9 3.2-1.9 2.7-3.9-3.4z"/>
<path fill="#8fff70" d="M491.2 182.4l4 3.4-1.9 2.5-4-3.5z"/>
<path fill="#9fff60" d="M487.3 178.9l3.9 3.5-1.9 2.4-3.9-3.7z"/>
<path fill="#bfff40" d="M483.4 175.3l3.9 3.6-1.9 2.2-3.9-3.7z"/>
<path fill="#dfff20" d="M479.4 171.6l4 3.7-1.9 2.1-3.9-3.9z"/>
<path fill="#ff0" d="M475.5 167.8l3.9 3.8-1.8 1.9-4-3.9z"/>
<path fill="#ffdf00" d="M471.6 163.9l3.9 3.9-1.9 1.8-3.9-4z"/>
<path fill="#ffbf00" d="M467.7 160l3.9 3.9-1.9 1.7-3.9-4z"/>
<path fill="#ff9f00" d="M463.7 156l4 4-1.9 1.6-3.9-4.1z"/>
<path fill="#ff8000" d="M459.8 152l3.9 4-1.8 1.5-4-4.1z"/>
<path fill="#ff6000" d="M455.9 147.9l3.9 4.1-1.9 1.4-3.9-4.2z"/>
<path fill="#ff7000" class="t" d="M610.9 139.9l3.9-4.6-1.8 1.5-4 4.6z"/>
<path fill="#ff8f00" class="t" d="M607 144.4l3.9-4.5-1.9 1.5-3.9 4.6z"/>
<path fill="#ffaf00" class="t" d="M603.1 148.8l3.9-4.4-1.9 1.6-3.9 4.6z"/>
<path fill="#ffcf00" class="t" d="M599.1 153.2l4-4.4-1.9 1.8-3.9 4.5z"/>
<path fill="#ffef00" class="t" d="M595.2 157.5l3.9-4.3-1.8 1.9-4 4.4z"/>
<path fill="#efff10" class="t" d="M591.3 161.7l3.9-4.2-1.9 2-3.9 4.3z"/>
<path fill="#dfff20" class="t" d="M587.4 165.8l3.9-4.1-1.9 2.1-3.9 4.3z"/>
<path fill="#bfff40" class="t" d="M583.4 169.9l4-4.1-1.9 2.3-3.9 4.2z"/>
<path fill="#9fff60" class="t" d="M579.5 173.8l3.9-3.9-1.8 2.4-4 4z"/>
<path fill="#8fff70" class="t" d="M575.6 177.5l3.9-3.7-1.9 2.5-3.9 3.9z"/>
<path fill="#70ff8f" class="t" d="M571.6 181.1l4-3.6-1.9 2.7-3.9 3.8z"/>
<path fill="#50ffaf" class="t" d="M567.7 184.5l3.9-3.4-1.8 2.9-4 3.6z"/>
<path fill="#40ffbf" d="M563.8 187.6l3.9-3.1-1.9 3.1-3.9 3.3z"/>
<path fill="#30ffcf" d="M559.9 190.5l3.9-2.9-1.9 3.3-3.9 3.1z"/>
<path fill="#20ffdf" d="M555.9 193.1l4-2.6-1.9 3.5-3.9 2.8z"/>
<path fill="#10ffef" d="M552 195.4l3.9-2.3-1.8 3.7-4 2.4z"/>
<g fill="#0ff"><path d="M548.1 197.2l3.9-1.8-1.9 3.8-3.9 2z"/><path d="M544.2 198.7l3.9-1.5-1.9 4-3.9 1.6z"/></g>
<g fill="#00efff"><path d="M540.2 199.6l4-.9-1.9 4.1-3.9 1z"/><path d="M536.3 200.2l3.9-.6-1.8 4.2-4 .6z"/><path d="M532.4 200.2l3.9 0-1.9 4.2-3.9 0z"/></g>
<g fill="#0ff"><path d="M528.4 199.8l4 .4-1.9 4.2-3.9-.5z"/><path d="M524.5 198.9l3.9 .9-1.8 4.1-4-1z"/></g>
<path fill="#10ffef" d="M520.6 197.6l3.9 1.3-1.9 4-3.9-1.5z"/>
<path fill="#20ffdf" d="M516.7 195.9l3.9 1.7-1.9 3.8-3.9-1.9z"/>
<path fill="#30ffcf" d="M512.7 193.9l4 2-1.9 3.6-3.9-2.2z"/>
<path fill="#40ffbf" d="M508.8 191.5l3.9 2.4-1.8 3.4-4-2.5z"/>
<path fill="#50ffaf" d="M504.9 188.9l3.9 2.6-1.9 3.3-3.9-2.8z"/>
<path fill="#70ff8f" d="M501 186.1l3.9 2.8-1.9 3.1-3.9-3z"/>
<path fill="#8fff70" d="M497 183.1l4 3-1.9 2.9-3.9-3.2z"/>
<path fill="#9fff60" d="M493.1 179.9l3.9 3.2-1.8 2.7-4-3.4z"/>
<path fill="#bfff40" d="M489.2 176.5l3.9 3.4-1.9 2.5-3.9-3.5z"/>
<path fill="#dfff20" d="M485.2 173.1l4 3.4-1.9 2.4-3.9-3.6z"/>
<path fill="#efff10" d="M481.3 169.5l3.9 3.6-1.8 2.2-4-3.7z"/>
<path fill="#ffef00" d="M477.4 165.8l3.9 3.7-1.9 2.1-3.9-3.8z"/>
<path fill="#ffcf00" d="M473.5 162.1l3.9 3.7-1.9 2-3.9-3.9z"/>
<path fill="#ffaf00" d="M469.5 158.2l4 3.9-1.9 1.8-3.9-3.9z"/>
<path fill="#ff8f00" d="M465.6 154.4l3.9 3.8-1.8 1.8-4-4z"/>
<path fill="#ff7000" d="M461.7 150.4l3.9 4-1.9 1.6-3.9-4z"/>
<path fill="#ff5000" d="M457.8 146.4l3.9 4-1.9 1.6-3.9-4.1z"/>
<path fill="#ff6000" class="t" d="M612.8 138.1l3.9-4.4-1.9 1.6-3.9 4.6z"/>
<path fill="#ff8000" class="t" d="M608.9 142.5l3.9-4.4-1.9 1.8-3.9 4.5z"/>
<path fill="#ff9f00" class="t" d="M604.9 146.9l4-4.4-1.9 1.9-3.9 4.4z"/>
<path fill="#ffbf00" class="t" d="M601 151.1l3.9-4.2-1.8 1.9-4 4.4z"/>
<path fill="#ffcf00" class="t" d="M597.1 155.3l3.9-4.2-1.9 2.1-3.9 4.3z"/>
<path fill="#ffef00" class="t" d="M593.2 159.4l3.9-4.1-1.9 2.2-3.9 4.2z"/>
<path fill="#efff10" class="t" d="M589.2 163.4l4-4-1.9 2.3-3.9 4.1z"/>
<path fill="#cfff30" class="t" d="M585.3 167.3l3.9-3.9-1.8 2.4-4 4.1z"/>
<path fill="#bfff40" class="t" d="M581.4 171l3.9-3.7-1.9 2.6-3.9 3.9z"/>
<path fill="#9fff60" class="t" d="M577.4 174.6l4-3.6-1.9 2.8-3.9 3.7z"/>
<path fill="#8fff70" class="t" d="M573.5 178l3.9-3.4-1.8 2.9-4 3.6z"/>
<path fill="#70ff8f" d="M569.6 181.2l3.9-3.2-1.9 3.1-3.9 3.4z"/>
<path fill="#60ff9f" d="M565.7 184.2l3.9-3-1.9 3.3-3.9 3.1z"/>
<path fill="#50ffaf" d="M561.7 186.9l4-2.7-1.9 3.4-3.9 2.9z"/>
<path fill="#40ffbf" d="M557.8 189.4l3.9-2.5-1.8 3.6-4 2.6z"/>
<path fill="#30ffcf" d="M553.9 191.5l3.9-2.1-1.9 3.7-3.9 2.3z"/>
<g fill="#20ffdf"><path d="M550 193.2l3.9-1.7-1.9 3.9-3.9 1.8z"/><path d="M546 194.5l4-1.3-1.9 4-3.9 1.5z"/></g>
<g fill="#10ffef"><path d="M542.1 195.5l3.9-1-1.8 4.2-4 .9z"/><path d="M538.2 195.9l3.9-.4-1.9 4.1-3.9 .6z"/><path d="M534.2 196l4-.1-1.9 4.3-3.9 0z"/></g>
<g fill="#20ffdf"><path d="M530.3 195.6l3.9 .4-1.8 4.2-4-.4z"/><path d="M526.4 194.9l3.9 .7-1.9 4.2-3.9-.9z"/></g>
<path fill="#30ffcf" d="M522.5 193.7l3.9 1.2-1.9 4-3.9-1.3z"/>
<path fill="#40ffbf" d="M518.5 192.1l4 1.6-1.9 3.9-3.9-1.7z"/>
<path fill="#50ffaf" d="M514.6 190.3l3.9 1.8-1.8 3.8-4-2z"/>
<path fill="#60ff9f" d="M510.7 188.1l3.9 2.2-1.9 3.6-3.9-2.4z"/>
<path fill="#70ff8f" d="M506.8 185.7l3.9 2.4-1.9 3.4-3.9-2.6z"/>
<path fill="#8fff70" d="M502.8 183l4 2.7-1.9 3.2-3.9-2.8z"/>
<path fill="#9fff60" d="M498.9 180.2l3.9 2.8-1.8 3.1-4-3z"/>
<path fill="#bfff40" d="M495 177.1l3.9 3.1-1.9 2.9-3.9-3.2z"/>
<path fill="#cfff30" d="M491 174l4 3.1-1.9 2.8-3.9-3.4z"/>
<path fill="#efff10" d="M487.1 170.6l3.9 3.4-1.8 2.5-4-3.4z"/>
<path fill="#ffef00" d="M483.2 167.2l3.9 3.4-1.9 2.5-3.9-3.6z"/>
<path fill="#ffcf00" d="M479.3 163.6l3.9 3.6-1.9 2.3-3.9-3.7z"/>
<path fill="#ffbf00" d="M475.3 160l4 3.6-1.9 2.2-3.9-3.7z"/>
<path fill="#ff9f00" d="M471.4 156.3l3.9 3.7-1.8 2.1-4-3.9z"/>
<path fill="#ff8000" d="M467.5 152.5l3.9 3.8-1.9 1.9-3.9-3.8z"/>
<path fill="#ff6000" d="M463.6 148.7l3.9 3.8-1.9 1.9-3.9-4z"/>
<path fill="#ff4000" d="M459.6 144.8l4 3.9-1.9 1.7-3.9-4z"/>
<path fill="#ff5000" class="t" d="M614.7 136.2l3.9-4.3-1.9 1.8-3.9 4.4z"/>
<path fill="#ff7000" class="t" d="M610.7 140.5l4-4.3-1.9 1.9-3.9 4.4z"/>
<path fill="#ff8000" class="t" d="M606.8 144.8l3.9-4.3-1.8 2-4 4.4z"/>
<path fill="#ff9f00" class="t" d="M602.9 148.9l3.9-4.1-1.9 2.1-3.9 4.2z"/>
<path fill="#ffbf00" class="t" d="M599 153l3.9-4.1-1.9 2.2-3.9 4.2z"/>
<path fill="#ffdf00" class="t" d="M595 157l4-4-1.9 2.3-3.9 4.1z"/>
<path fill="#ffef00" class="t" d="M591.1 160.8l3.9-3.8-1.8 2.4-4 4z"/>
<path fill="#efff10" class="t" d="M587.2 164.6l3.9-3.8-1.9 2.6-3.9 3.9z"/>
<path fill="#cfff30" class="t" d="M583.3 168.2l3.9-3.6-1.9 2.7-3.9 3.7z"/>
<path fill="#bfff40" class="t" d="M579.3 171.6l4-3.4-1.9 2.8-4 3.6z"/>
<path fill="#9fff60" class="t" d="M575.4 174.8l3.9-3.2-1.9 3-3.9 3.4z"/>
<path fill="#8fff70" d="M571.5 177.9l3.9-3.1-1.9 3.2-3.9 3.2z"/>
<path fill="#80ff80" d="M567.5 180.7l4-2.8-1.9 3.3-3.9 3z"/>
<path fill="#70ff8f" d="M563.6 183.3l3.9-2.6-1.8 3.5-4 2.7z"/>
<path fill="#60ff9f" d="M559.7 185.5l3.9-2.2-1.9 3.6-3.9 2.5z"/>
<path fill="#50ffaf" d="M555.8 187.5l3.9-2-1.9 3.9-3.9 2.1z"/>
<g fill="#40ffbf"><path d="M551.8 189.1l4-1.6-1.9 4-3.9 1.7z"/><path d="M547.9 190.4l3.9-1.3-1.8 4.1-4 1.3z"/><path d="M544 191.3l3.9-.9-1.9 4.1-3.9 1z"/><path d="M540 191.7l4-.4-1.9 4.2-3.9 .4z"/><path d="M536.1 191.8l3.9-.1-1.8 4.2-4 .1z"/><path d="M532.2 191.5l3.9 .3-1.9 4.2-3.9-.4z"/><path d="M528.3 190.8l3.9 .7-1.9 4.1-3.9-.7z"/></g>
<path fill="#50ffaf" d="M524.3 189.7l4 1.1-1.9 4.1-3.9-1.2z"/>
<path fill="#60ff9f" d="M520.4 188.3l3.9 1.4-1.8 4-4-1.6z"/>
<path fill="#70ff8f" d="M516.5 186.6l3.9 1.7-1.9 3.8-3.9-1.8z"/>
<path fill="#80ff80" d="M512.6 184.6l3.9 2-1.9 3.7-3.9-2.2z"/>
<path fill="#8fff70" d="M508.6 182.3l4 2.3-1.9 3.5-3.9-2.4z"/>
<path fill="#9fff60" d="M504.7 179.8l3.9 2.5-1.8 3.4-4-2.7z"/>
<path fill="#bfff40" d="M500.8 177.1l3.9 2.7-1.9 3.2-3.9-2.8z"/>
<path fill="#cfff30" d="M496.8 174.3l4 2.8-1.9 3.1-3.9-3.1z"/>
<path fill="#efff10" d="M492.9 171.2l3.9 3.1-1.8 2.8-4-3.1z"/>
<path fill="#ffef00" d="M489 168l3.9 3.2-1.9 2.8-3.9-3.4z"/>
<path fill="#ffdf00" d="M485.1 164.7l3.9 3.3-1.9 2.6-3.9-3.4z"/>
<path fill="#ffbf00" d="M481.1 161.3l4 3.4-1.9 2.5-3.9-3.6z"/>
<path fill="#ff9f00" d="M477.2 157.8l3.9 3.5-1.8 2.3-4-3.6z"/>
<path fill="#ff8000" d="M473.3 154.2l3.9 3.6-1.9 2.2-3.9-3.7z"/>
<path fill="#ff7000" d="M469.4 150.5l3.9 3.7-1.9 2.1-3.9-3.8z"/>
<path fill="#ff5000" d="M465.4 146.8l4 3.7-1.9 2-3.9-3.8z"/>
<g fill="#ff3000"><path d="M461.5 143l3.9 3.8-1.8 1.9-4-3.9z"/><path class="t" d="M616.5 134.2l4-4.3-1.9 2-3.9 4.3z"/></g>
<path fill="#ff5000" class="t" d="M612.6 138.4l3.9-4.2-1.8 2-4 4.3z"/>
<path fill="#ff7000" class="t" d="M608.7 142.5l3.9-4.1-1.9 2.1-3.9 4.3z"/>
<path fill="#ff8f00" class="t" d="M604.8 146.6l3.9-4.1-1.9 2.3-3.9 4.1z"/>
<path fill="#ffaf00" class="t" d="M600.8 150.5l4-3.9-1.9 2.3-3.9 4.1z"/>
<path fill="#ffbf00" class="t" d="M596.9 154.4l3.9-3.9-1.8 2.5-4 4z"/>
<path fill="#ffdf00" class="t" d="M593 158.1l3.9-3.7-1.9 2.6-3.9 3.8z"/>
<path fill="#ffef00" class="t" d="M589.1 161.7l3.9-3.6-1.9 2.7-3.9 3.8z"/>
<path fill="#efff10" class="t" d="M585.1 165.1l4-3.4-1.9 2.9-3.9 3.6z"/>
<path fill="#dfff20" class="t" d="M581.2 168.4l3.9-3.3-1.8 3.1-4 3.4z"/>
<path fill="#bfff40" d="M577.3 171.5l3.9-3.1-1.9 3.2-3.9 3.2z"/>
<path fill="#afff50" d="M573.3 174.4l4-2.9-1.9 3.3-3.9 3.1z"/>
<path fill="#9fff60" d="M569.4 177.1l3.9-2.7-1.8 3.5-4 2.8z"/>
<path fill="#8fff70" d="M565.5 179.5l3.9-2.4-1.9 3.6-3.9 2.6z"/>
<path fill="#80ff80" d="M561.6 181.7l3.9-2.2-1.9 3.8-3.9 2.2z"/>
<g fill="#70ff8f"><path d="M557.6 183.5l4-1.8-1.9 3.8-3.9 2z"/><path d="M553.7 185l3.9-1.5-1.8 4-4 1.6z"/></g>
<g fill="#60ff9f"><path d="M549.8 186.2l3.9-1.2-1.9 4.1-3.9 1.3z"/><path d="M545.9 187.1l3.9-.9-1.9 4.2-3.9 .9z"/><path d="M541.9 187.5l4-.4-1.9 4.2-4 .4z"/><path d="M538 187.6l3.9-.1-1.9 4.2-3.9 .1z"/><path d="M534.1 187.3l3.9 .3-1.9 4.2-3.9-.3z"/></g>
<g fill="#70ff8f"><path d="M530.1 186.7l4 .6-1.9 4.2-3.9-.7z"/><path d="M526.2 185.7l3.9 1-1.8 4.1-4-1.1z"/></g>
<path fill="#80ff80" d="M522.3 184.5l3.9 1.2-1.9 4-3.9-1.4z"/>
<path fill="#8fff70" d="M518.4 182.9l3.9 1.6-1.9 3.8-3.9-1.7z"/>
<path fill="#9fff60" d="M514.4 181l4 1.9-1.9 3.7-3.9-2z"/>
<path fill="#afff50" d="M510.5 178.9l3.9 2.1-1.8 3.6-4-2.3z"/>
<path fill="#bfff40" d="M506.6 176.5l3.9 2.4-1.9 3.4-3.9-2.5z"/>
<path fill="#dfff20" d="M502.6 174l4 2.5-1.9 3.3-3.9-2.7z"/>
<path fill="#efff10" d="M498.7 171.2l3.9 2.8-1.8 3.1-4-2.8z"/>
<path fill="#ffef00" d="M494.8 168.3l3.9 2.9-1.9 3.1-3.9-3.1z"/>
<path fill="#ffdf00" d="M490.9 165.3l3.9 3-1.9 2.9-3.9-3.2z"/>
<path fill="#ffbf00" d="M486.9 162.1l4 3.2-1.9 2.7-3.9-3.3z"/>
<path fill="#ffaf00" d="M483 158.8l3.9 3.3-1.8 2.6-4-3.4z"/>
<path fill="#ff8f00" d="M479.1 155.4l3.9 3.4-1.9 2.5-3.9-3.5z"/>
<path fill="#ff7000" d="M475.2 151.9l3.9 3.5-1.9 2.4-3.9-3.6z"/>
<path fill="#ff5000" d="M471.2 148.4l4 3.5-1.9 2.3-3.9-3.7z"/>
<path fill="#ff3000" d="M467.3 144.7l3.9 3.7-1.8 2.1-4-3.7z"/>
<g fill="#ff2000"><path d="M463.4 141l3.9 3.7-1.9 2.1-3.9-3.8z"/><path class="t" d="M618.4 132l4-4.2-1.9 2.1-4 4.3z"/></g>
<path fill="#ff4000" class="t" d="M614.5 136.1l3.9-4.1-1.9 2.2-3.9 4.2z"/>
<path fill="#ff6000" class="t" d="M610.6 140.1l3.9-4-1.9 2.3-3.9 4.1z"/>
<path fill="#ff7000" class="t" d="M606.6 144l4-3.9-1.9 2.4-3.9 4.1z"/>
<path fill="#ff8f00" class="t" d="M602.7 147.9l3.9-3.9-1.8 2.6-4 3.9z"/>
<path fill="#ffaf00" class="t" d="M598.8 151.6l3.9-3.7-1.9 2.6-3.9 3.9z"/>
<path fill="#ffbf00" class="t" d="M594.9 155.2l3.9-3.6-1.9 2.8-3.9 3.7z"/>
<path fill="#ffdf00" class="t" d="M590.9 158.7l4-3.5-1.9 2.9-3.9 3.6z"/>
<path fill="#ffef00" class="t" d="M587 162l3.9-3.3-1.8 3-4 3.4z"/>
<path fill="#efff10" d="M583.1 165.2l3.9-3.2-1.9 3.1-3.9 3.3z"/>
<path fill="#dfff20" d="M579.1 168.1l4-2.9-1.9 3.2-3.9 3.1z"/>
<path fill="#cfff30" d="M575.2 170.9l3.9-2.8-1.8 3.4-4 2.9z"/>
<path fill="#bfff40" d="M571.3 173.4l3.9-2.5-1.9 3.5-3.9 2.7z"/>
<path fill="#afff50" d="M567.4 175.7l3.9-2.3-1.9 3.7-3.9 2.4z"/>
<path fill="#9fff60" d="M563.4 177.8l4-2.1-1.9 3.8-3.9 2.2z"/>
<g fill="#8fff70"><path d="M559.5 179.5l3.9-1.7-1.8 3.9-4 1.8z"/><path d="M555.6 180.9l3.9-1.4-1.9 4-3.9 1.5z"/></g>
<g fill="#80ff80"><path d="M551.7 182.1l3.9-1.2-1.9 4.1-3.9 1.2z"/><path d="M547.7 182.9l4-.8-1.9 4.1-3.9 .9z"/><path d="M543.8 183.3l3.9-.4-1.8 4.2-4 .4z"/><path d="M539.9 183.4l3.9-.1-1.9 4.2-3.9 .1z"/><path d="M535.9 183.2l4 .2-1.9 4.2-3.9-.3z"/></g>
<g fill="#8fff70"><path d="M532 182.6l3.9 .6-1.8 4.1-4-.6z"/><path d="M528.1 181.7l3.9 .9-1.9 4.1-3.9-1z"/></g>
<path fill="#9fff60" d="M524.2 180.5l3.9 1.2-1.9 4-3.9-1.2z"/>
<path fill="#afff50" d="M520.2 179.1l4 1.4-1.9 4-3.9-1.6z"/>
<path fill="#bfff40" d="M516.3 177.3l3.9 1.8-1.8 3.8-4-1.9z"/>
<path fill="#cfff30" d="M512.4 175.3l3.9 2-1.9 3.7-3.9-2.1z"/>
<path fill="#dfff20" d="M508.5 173.1l3.9 2.2-1.9 3.6-3.9-2.4z"/>
<path fill="#efff10" d="M504.5 170.7l4 2.4-1.9 3.4-4-2.5z"/>
<path fill="#ffef00" d="M500.6 168.1l3.9 2.6-1.9 3.3-3.9-2.8z"/>
<path fill="#ffdf00" d="M496.7 165.3l3.9 2.8-1.9 3.1-3.9-2.9z"/>
<path fill="#ffbf00" d="M492.7 162.4l4 2.9-1.9 3-3.9-3z"/>
<path fill="#ffaf00" d="M488.8 159.4l3.9 3-1.8 2.9-4-3.2z"/>
<path fill="#ff8f00" d="M484.9 156.2l3.9 3.2-1.9 2.7-3.9-3.3z"/>
<path fill="#ff7000" d="M481 152.9l3.9 3.3-1.9 2.6-3.9-3.4z"/>
<path fill="#ff6000" d="M477 149.5l4 3.4-1.9 2.5-3.9-3.5z"/>
<path fill="#ff4000" d="M473.1 146.1l3.9 3.4-1.8 2.4-4-3.5z"/>
<path fill="#ff2000" d="M469.2 142.5l3.9 3.6-1.9 2.3-3.9-3.7z"/>
<path fill="#f00" d="M465.2 138.9l4 3.6-1.9 2.2-3.9-3.7z"/>
<path fill="#ff1000" class="t" d="M620.3 129.7l3.9-4.1-1.8 2.2-4 4.2z"/>
<path fill="#ff2000" class="t" d="M616.4 133.7l3.9-4-1.9 2.3-3.9 4.1z"/>
<path fill="#ff4000" class="t" d="M612.4 137.6l4-3.9-1.9 2.4-3.9 4z"/>
<path fill="#ff6000" class="t" d="M608.5 141.4l3.9-3.8-1.8 2.5-4 3.9z"/>
<path fill="#ff8000" class="t" d="M604.6 145.1l3.9-3.7-1.9 2.6-3.9 3.9z"/>
<path fill="#ff8f00" class="t" d="M600.7 148.7l3.9-3.6-1.9 2.8-3.9 3.7z"/>
<path fill="#ffaf00" class="t" d="M596.7 152.2l4-3.5-1.9 2.9-3.9 3.6z"/>
<path fill="#ffbf00" class="t" d="M592.8 155.6l3.9-3.4-1.8 3-4 3.5z"/>
<path fill="#ffcf00" d="M588.9 158.8l3.9-3.2-1.9 3.1-3.9 3.3z"/>
<path fill="#ffef00" d="M585 161.8l3.9-3-1.9 3.2-3.9 3.2z"/>
<path fill="#ff0" d="M581 164.6l4-2.8-1.9 3.4-4 2.9z"/>
<path fill="#efff10" d="M577.1 167.3l3.9-2.7-1.9 3.5-3.9 2.8z"/>
<path fill="#dfff20" d="M573.2 169.7l3.9-2.4-1.9 3.6-3.9 2.5z"/>
<path fill="#cfff30" d="M569.2 171.9l4-2.2-1.9 3.7-3.9 2.3z"/>
<g fill="#bfff40"><path d="M565.3 173.8l3.9-1.9-1.8 3.8-4 2.1z"/><path d="M561.4 175.5l3.9-1.7-1.9 4-3.9 1.7z"/></g>
<g fill="#afff50"><path d="M557.5 176.8l3.9-1.3-1.9 4-3.9 1.4z"/><path d="M553.5 177.9l4-1.1-1.9 4.1-3.9 1.2z"/><path d="M549.6 178.7l3.9-.8-1.8 4.2-4 .8z"/></g>
<path fill="#9fff60" d="M545.7 179.1l3.9-.4-1.9 4.2-3.9 .4z"/>
<g fill="#afff50"><path d="M541.7 179.2l4-.1-1.9 4.2-3.9 .1z"/><path d="M537.8 179l3.9 .2-1.8 4.2-4-.2z"/><path d="M533.9 178.5l3.9 .5-1.9 4.2-3.9-.6z"/></g>
<g fill="#bfff40"><path d="M530 177.7l3.9 .8-1.9 4.1-3.9-.9z"/><path d="M526 176.6l4 1.1-1.9 4-3.9-1.2z"/></g>
<path fill="#cfff30" d="M522.1 175.2l3.9 1.4-1.8 3.9-4-1.4z"/>
<path fill="#dfff20" d="M518.2 173.6l3.9 1.6-1.9 3.9-3.9-1.8z"/>
<path fill="#efff10" d="M514.3 171.7l3.9 1.9-1.9 3.7-3.9-2z"/>
<path fill="#ff0" d="M510.3 169.6l4 2.1-1.9 3.6-3.9-2.2z"/>
<path fill="#ffef00" d="M506.4 167.3l3.9 2.3-1.8 3.5-4-2.4z"/>
<path fill="#ffcf00" d="M502.5 164.9l3.9 2.4-1.9 3.4-3.9-2.6z"/>
<path fill="#ffbf00" d="M498.5 162.2l4 2.7-1.9 3.2-3.9-2.8z"/>
<path fill="#ffaf00" d="M494.6 159.4l3.9 2.8-1.8 3.1-4-2.9z"/>
<path fill="#ff8f00" d="M490.7 156.5l3.9 2.9-1.9 3-3.9-3z"/>
<path fill="#ff8000" d="M486.8 153.5l3.9 3-1.9 2.9-3.9-3.2z"/>
<path fill="#ff6000" d="M482.8 150.3l4 3.2-1.9 2.7-3.9-3.3z"/>
<path fill="#ff4000" d="M478.9 147l3.9 3.3-1.8 2.6-4-3.4z"/>
<path fill="#ff2000" d="M475 143.6l3.9 3.4-1.9 2.5-3.9-3.4z"/>
<path fill="#ff1000" d="M471.1 140.2l3.9 3.4-1.9 2.5-3.9-3.6z"/>
<g fill="#ef0000"><path d="M467.1 136.7l4 3.5-1.9 2.3-4-3.6z"/><path class="t" d="M622.2 127.2l3.9-4-1.9 2.4-3.9 4.1z"/></g>
<path fill="#ff1000" class="t" d="M618.2 131.1l4-3.9-1.9 2.5-3.9 4z"/>
<path fill="#ff3000" class="t" d="M614.3 134.9l3.9-3.8-1.8 2.6-4 3.9z"/>
<path fill="#ff4000" class="t" d="M610.4 138.6l3.9-3.7-1.9 2.7-3.9 3.8z"/>
<path fill="#ff6000" class="t" d="M606.5 142.3l3.9-3.7-1.9 2.8-3.9 3.7z"/>
<path fill="#ff7000" class="t" d="M602.5 145.8l4-3.5-1.9 2.8-3.9 3.6z"/>
<path fill="#ff8f00" class="t" d="M598.6 149.1l3.9-3.3-1.8 2.9-4 3.5z"/>
<path fill="#ff9f00" d="M594.7 152.4l3.9-3.3-1.9 3.1-3.9 3.4z"/>
<path fill="#ffbf00" d="M590.8 155.4l3.9-3-1.9 3.2-3.9 3.2z"/>
<path fill="#ffcf00" d="M586.8 158.3l4-2.9-1.9 3.4-3.9 3z"/>
<path fill="#ffdf00" d="M582.9 161.1l3.9-2.8-1.8 3.5-4 2.8z"/>
<path fill="#ffef00" d="M579 163.6l3.9-2.5-1.9 3.5-3.9 2.7z"/>
<path fill="#ff0" d="M575 165.9l4-2.3-1.9 3.7-3.9 2.4z"/>
<path fill="#efff10" d="M571.1 168l3.9-2.1-1.8 3.8-4 2.2z"/>
<g fill="#dfff20"><path d="M567.2 169.8l3.9-1.8-1.9 3.9-3.9 1.9z"/><path d="M563.3 171.4l3.9-1.6-1.9 4-3.9 1.7z"/></g>
<g fill="#cfff30"><path d="M559.3 172.7l4-1.3-1.9 4.1-3.9 1.3z"/><path d="M555.4 173.7l3.9-1-1.8 4.1-4 1.1z"/><path d="M551.5 174.4l3.9-.7-1.9 4.2-3.9 .8z"/><path d="M547.6 174.9l3.9-.5-1.9 4.3-3.9 .4z"/><path d="M543.6 175l4-.1-1.9 4.2-4 .1z"/><path d="M539.7 174.8l3.9 .2-1.9 4.2-3.9-.2z"/><path d="M535.8 174.4l3.9 .4-1.9 4.2-3.9-.5z"/></g>
<g fill="#dfff20"><path d="M531.8 173.6l4 .8-1.9 4.1-3.9-.8z"/><path d="M527.9 172.6l3.9 1-1.8 4.1-4-1.1z"/></g>
<path fill="#efff10" d="M524 171.3l3.9 1.3-1.9 4-3.9-1.4z"/>
<path fill="#ff0" d="M520.1 169.8l3.9 1.5-1.9 3.9-3.9-1.6z"/>
<path fill="#ffef00" d="M516.1 168l4 1.8-1.9 3.8-3.9-1.9z"/>
<path fill="#ffdf00" d="M512.2 166.1l3.9 1.9-1.8 3.7-4-2.1z"/>
<path fill="#ffcf00" d="M508.3 163.9l3.9 2.2-1.9 3.5-3.9-2.3z"/>
<path fill="#ffbf00" d="M504.3 161.5l4 2.4-1.9 3.4-3.9-2.4z"/>
<path fill="#ff9f00" d="M500.4 159l3.9 2.5-1.8 3.4-4-2.7z"/>
<path fill="#ff8f00" d="M496.5 156.3l3.9 2.7-1.9 3.2-3.9-2.8z"/>
<path fill="#ff7000" d="M492.6 153.5l3.9 2.8-1.9 3.1-3.9-2.9z"/>
<path fill="#ff6000" d="M488.6 150.6l4 2.9-1.9 3-3.9-3z"/>
<path fill="#ff4000" d="M484.7 147.5l3.9 3.1-1.8 2.9-4-3.2z"/>
<path fill="#ff3000" d="M480.8 144.4l3.9 3.1-1.9 2.8-3.9-3.3z"/>
<path fill="#ff1000" d="M476.9 141.1l3.9 3.3-1.9 2.6-3.9-3.4z"/>
<path fill="#ef0000" d="M472.9 137.7l4 3.4-1.9 2.5-3.9-3.4z"/>
<g fill="#df0000"><path d="M469 134.3l3.9 3.4-1.8 2.5-4-3.5z"/><path class="t" d="M624 124.6l4-3.8-1.9 2.4-3.9 4z"/></g>
<path fill="#ef0000" class="t" d="M620.1 128.5l3.9-3.9-1.8 2.6-4 3.9z"/>
<path fill="#ff1000" class="t" d="M616.2 132.2l3.9-3.7-1.9 2.6-3.9 3.8z"/>
<path fill="#ff3000" class="t" d="M612.3 135.8l3.9-3.6-1.9 2.7-3.9 3.7z"/>
<path fill="#ff4000" class="t" d="M608.3 139.3l4-3.5-1.9 2.8-3.9 3.7z"/>
<path fill="#ff6000" class="t" d="M604.4 142.7l3.9-3.4-1.8 3-4 3.5z"/>
<path fill="#ff7000" d="M600.5 145.9l3.9-3.2-1.9 3.1-3.9 3.3z"/>
<path fill="#ff8000" d="M596.6 149.1l3.9-3.2-1.9 3.2-3.9 3.3z"/>
<path fill="#ff9f00" d="M592.6 152l4-2.9-1.9 3.3-3.9 3z"/>
<path fill="#ffaf00" d="M588.7 154.8l3.9-2.8-1.8 3.4-4 2.9z"/>
<path fill="#ffbf00" d="M584.8 157.4l3.9-2.6-1.9 3.5-3.9 2.8z"/>
<path fill="#ffcf00" d="M580.8 159.9l4-2.5-1.9 3.7-3.9 2.5z"/>
<path fill="#ffdf00" d="M576.9 162.1l3.9-2.2-1.8 3.7-4 2.3z"/>
<g fill="#ffef00"><path d="M573 164.1l3.9-2-1.9 3.8-3.9 2.1z"/><path d="M569.1 165.8l3.9-1.7-1.9 3.9-3.9 1.8z"/></g>
<g fill="#ff0"><path d="M565.1 167.3l4-1.5-1.9 4-3.9 1.6z"/><path d="M561.2 168.6l3.9-1.3-1.8 4.1-4 1.3z"/></g>
<g fill="#efff10"><path d="M557.3 169.5l3.9-.9-1.9 4.1-3.9 1z"/><path d="M553.4 170.2l3.9-.7-1.9 4.2-3.9 .7z"/><path d="M549.4 170.7l4-.5-1.9 4.2-3.9 .5z"/><path d="M545.5 170.8l3.9-.1-1.8 4.2-4 .1z"/><path d="M541.6 170.7l3.9 .1-1.9 4.2-3.9-.2z"/></g>
<g fill="#ff0"><path d="M537.6 170.2l4 .5-1.9 4.1-3.9-.4z"/><path d="M533.7 169.5l3.9 .7-1.8 4.2-4-.8z"/></g>
<g fill="#ffef00"><path d="M529.8 168.6l3.9 .9-1.9 4.1-3.9-1z"/><path d="M525.9 167.4l3.9 1.2-1.9 4-3.9-1.3z"/></g>
<path fill="#ffdf00" d="M521.9 166l4 1.4-1.9 3.9-3.9-1.5z"/>
<path fill="#ffcf00" d="M518 164.3l3.9 1.7-1.8 3.8-4-1.8z"/>
<path fill="#ffbf00" d="M514.1 162.4l3.9 1.9-1.9 3.7-3.9-1.9z"/>
<path fill="#ffaf00" d="M510.2 160.4l3.9 2-1.9 3.7-3.9-2.2z"/>
<path fill="#ff9f00" d="M506.2 158.1l4 2.3-1.9 3.5-4-2.4z"/>
<path fill="#ff8000" d="M502.3 155.7l3.9 2.4-1.9 3.4-3.9-2.5z"/>
<path fill="#ff7000" d="M498.4 153.2l3.9 2.5-1.9 3.3-3.9-2.7z"/>
<path fill="#ff6000" d="M494.4 150.5l4 2.7-1.9 3.1-3.9-2.8z"/>
<path fill="#ff4000" d="M490.5 147.6l3.9 2.9-1.8 3-4-2.9z"/>
<path fill="#ff3000" d="M486.6 144.7l3.9 2.9-1.9 3-3.9-3.1z"/>
<path fill="#ff1000" d="M482.7 141.6l3.9 3.1-1.9 2.8-3.9-3.1z"/>
<path fill="#ef0000" d="M478.7 138.4l4 3.2-1.9 2.8-3.9-3.3z"/>
<path fill="#df0000" d="M474.8 135.2l3.9 3.2-1.8 2.7-4-3.4z"/>
<g fill="#bf0000"><path d="M470.9 131.9l3.9 3.3-1.9 2.5-3.9-3.4z"/><path class="t" d="M625.9 122l3.9-3.8-1.8 2.6-4 3.8z"/></g>
<path fill="#df0000" class="t" d="M622 125.7l3.9-3.7-1.9 2.6-3.9 3.9z"/>
<path fill="#ef0000" class="t" d="M618.1 129.3l3.9-3.6-1.9 2.8-3.9 3.7z"/>
<path fill="#ff1000" class="t" d="M614.1 132.8l4-3.5-1.9 2.9-3.9 3.6z"/>
<path fill="#ff2000" class="t" d="M610.2 136.2l3.9-3.4-1.8 3-4 3.5z"/>
<path fill="#ff4000" class="t" d="M606.3 139.5l3.9-3.3-1.9 3.1-3.9 3.4z"/>
<path fill="#ff5000" d="M602.4 142.7l3.9-3.2-1.9 3.2-3.9 3.2z"/>
<path fill="#ff7000" d="M598.4 145.7l4-3-1.9 3.2-3.9 3.2z"/>
<path fill="#ff8000" d="M594.5 148.6l3.9-2.9-1.8 3.4-4 2.9z"/>
<path fill="#ff8f00" d="M590.6 151.2l3.9-2.6-1.9 3.4-3.9 2.8z"/>
<path fill="#ff9f00" d="M586.6 153.8l4-2.6-1.9 3.6-3.9 2.6z"/>
<path fill="#ffaf00" d="M582.7 156.1l3.9-2.3-1.8 3.6-4 2.5z"/>
<path fill="#ffbf00" d="M578.8 158.2l3.9-2.1-1.9 3.8-3.9 2.2z"/>
<g fill="#ffcf00"><path d="M574.9 160.1l3.9-1.9-1.9 3.9-3.9 2z"/><path d="M570.9 161.8l4-1.7-1.9 4-3.9 1.7z"/></g>
<g fill="#ffdf00"><path d="M567 163.2l3.9-1.4-1.8 4-4 1.5z"/><path d="M563.1 164.4l3.9-1.2-1.9 4.1-3.9 1.3z"/></g>
<g fill="#ffef00"><path d="M559.2 165.4l3.9-1-1.9 4.2-3.9 .9z"/><path d="M555.2 166l4-.6-1.9 4.1-3.9 .7z"/><path d="M551.3 166.4l3.9-.4-1.8 4.2-4 .5z"/><path d="M547.4 166.6l3.9-.2-1.9 4.3-3.9 .1z"/><path d="M543.4 166.5l4 .1-1.9 4.2-3.9-.1z"/></g>
<g fill="#ffdf00"><path d="M539.5 166.1l3.9 .4-1.8 4.2-4-.5z"/><path d="M535.6 165.5l3.9 .6-1.9 4.1-3.9-.7z"/></g>
<g fill="#ffcf00"><path d="M531.7 164.6l3.9 .9-1.9 4-3.9-.9z"/><path d="M527.7 163.4l4 1.2-1.9 4-3.9-1.2z"/></g>
<path fill="#ffbf00" d="M523.8 162.1l3.9 1.3-1.8 4-4-1.4z"/>
<path fill="#ffaf00" d="M519.9 160.5l3.9 1.6-1.9 3.9-3.9-1.7z"/>
<path fill="#ff9f00" d="M516 158.8l3.9 1.7-1.9 3.8-3.9-1.9z"/>
<path fill="#ff8f00" d="M512 156.8l4 2-1.9 3.6-3.9-2z"/>
<path fill="#ff8000" d="M508.1 154.7l3.9 2.1-1.8 3.6-4-2.3z"/>
<path fill="#ff7000" d="M504.2 152.4l3.9 2.3-1.9 3.4-3.9-2.4z"/>
<path fill="#ff5000" d="M500.2 149.9l4 2.5-1.9 3.3-3.9-2.5z"/>
<path fill="#ff4000" d="M496.3 147.3l3.9 2.6-1.8 3.3-4-2.7z"/>
<path fill="#ff2000" d="M492.4 144.6l3.9 2.7-1.9 3.2-3.9-2.9z"/>
<path fill="#ff1000" d="M488.5 141.7l3.9 2.9-1.9 3-3.9-2.9z"/>
<path fill="#ef0000" d="M484.5 138.7l4 3-1.9 3-3.9-3.1z"/>
<path fill="#df0000" d="M480.6 135.7l3.9 3-1.8 2.9-4-3.2z"/>
<path fill="#bf0000" d="M476.7 132.5l3.9 3.2-1.9 2.7-3.9-3.2z"/>
<g fill="#af0000"><path d="M472.8 129.3l3.9 3.2-1.9 2.7-3.9-3.3z"/><path class="t" d="M627.8 119.2l3.9-3.7-1.9 2.7-3.9 3.8z"/></g>
<path fill="#bf0000" class="t" d="M623.9 122.8l3.9-3.6-1.9 2.8-3.9 3.7z"/>
<path fill="#df0000" class="t" d="M619.9 126.4l4-3.6-1.9 2.9-3.9 3.6z"/>
<path fill="#ef0000" class="t" d="M616 129.8l3.9-3.4-1.8 2.9-4 3.5z"/>
<path fill="#ff1000" class="t" d="M612.1 133.1l3.9-3.3-1.9 3-3.9 3.4z"/>
<path fill="#ff2000" d="M608.2 136.3l3.9-3.2-1.9 3.1-3.9 3.3z"/>
<path fill="#ff3000" d="M604.2 139.3l4-3-1.9 3.2-3.9 3.2z"/>
<path fill="#ff5000" d="M600.3 142.2l3.9-2.9-1.8 3.4-4 3z"/>
<path fill="#ff6000" d="M596.4 145l3.9-2.8-1.9 3.5-3.9 2.9z"/>
<path fill="#ff7000" d="M592.4 147.6l4-2.6-1.9 3.6-3.9 2.6z"/>
<path fill="#ff8000" d="M588.5 150l3.9-2.4-1.8 3.6-4 2.6z"/>
<path fill="#ff8f00" d="M584.6 152.3l3.9-2.3-1.9 3.8-3.9 2.3z"/>
<g fill="#ff9f00"><path d="M580.7 154.3l3.9-2-1.9 3.8-3.9 2.1z"/><path d="M576.7 156.1l4-1.8-1.9 3.9-3.9 1.9z"/></g>
<path fill="#ffaf00" d="M572.8 157.7l3.9-1.6-1.8 4-4 1.7z"/>
<g fill="#ffbf00"><path d="M568.9 159.1l3.9-1.4-1.9 4.1-3.9 1.4z"/><path d="M565 160.3l3.9-1.2-1.9 4.1-3.9 1.2z"/><path d="M561 161.2l4-.9-1.9 4.1-3.9 1z"/><path d="M557.1 161.8l3.9-.6-1.8 4.2-4 .6z"/></g>
<path fill="#ffcf00" d="M553.2 162.2l3.9-.4-1.9 4.2-3.9 .4z"/>
<g fill="#ffbf00"><path d="M549.2 162.4l4-.2-1.9 4.2-3.9 .2z"/><path d="M545.3 162.3l3.9 .1-1.8 4.2-4-.1z"/><path d="M541.4 161.9l3.9 .4-1.9 4.2-3.9-.4z"/><path d="M537.5 161.3l3.9 .6-1.9 4.2-3.9-.6z"/></g>
<path fill="#ffaf00" d="M533.5 160.5l4 .8-1.9 4.2-3.9-.9z"/>
<g fill="#ff9f00"><path d="M529.6 159.5l3.9 1-1.8 4.1-4-1.2z"/><path d="M525.7 158.2l3.9 1.3-1.9 3.9-3.9-1.3z"/></g>
<path fill="#ff8f00" d="M521.8 156.7l3.9 1.5-1.9 3.9-3.9-1.6z"/>
<path fill="#ff8000" d="M517.8 155l4 1.7-1.9 3.8-3.9-1.7z"/>
<path fill="#ff7000" d="M513.9 153.2l3.9 1.8-1.8 3.8-4-2z"/>
<path fill="#ff6000" d="M510 151.1l3.9 2.1-1.9 3.6-3.9-2.1z"/>
<path fill="#ff5000" d="M506 148.9l4 2.2-1.9 3.6-3.9-2.3z"/>
<path fill="#ff3000" d="M502.1 146.6l3.9 2.3-1.8 3.5-4-2.5z"/>
<path fill="#ff2000" d="M498.2 144.1l3.9 2.5-1.9 3.3-3.9-2.6z"/>
<path fill="#ff1000" d="M494.3 141.4l3.9 2.7-1.9 3.2-3.9-2.7z"/>
<path fill="#ef0000" d="M490.3 138.7l4 2.7-1.9 3.2-3.9-2.9z"/>
<path fill="#df0000" d="M486.4 135.8l3.9 2.9-1.8 3-4-3z"/>
<path fill="#bf0000" d="M482.5 132.8l3.9 3-1.9 2.9-3.9-3z"/>
<path fill="#af0000" d="M478.6 129.8l3.9 3-1.9 2.9-3.9-3.2z"/>
<g fill="#8f0000"><path d="M474.6 126.6l4 3.2-1.9 2.7-3.9-3.2z"/><path class="t" d="M629.7 116.4l3.9-3.7-1.9 2.8-3.9 3.7z"/></g>
<path fill="#af0000" class="t" d="M625.7 119.9l4-3.5-1.9 2.8-3.9 3.6z"/>
<path fill="#bf0000" class="t" d="M621.8 123.3l3.9-3.4-1.8 2.9-4 3.6z"/>
<path fill="#df0000" class="t" d="M617.9 126.7l3.9-3.4-1.9 3.1-3.9 3.4z"/>
<path fill="#ef0000" d="M614 129.9l3.9-3.2-1.9 3.1-3.9 3.3z"/>
<path fill="#f00" d="M610 133l4-3.1-1.9 3.2-3.9 3.2z"/>
<path fill="#ff2000" d="M606.1 135.9l3.9-2.9-1.8 3.3-4 3z"/>
<path fill="#ff3000" d="M602.2 138.7l3.9-2.8-1.9 3.4-3.9 2.9z"/>
<path fill="#ff4000" d="M598.3 141.4l3.9-2.7-1.9 3.5-3.9 2.8z"/>
<path fill="#ff5000" d="M594.3 143.9l4-2.5-1.9 3.6-4 2.6z"/>
<path fill="#ff6000" d="M590.4 146.3l3.9-2.4-1.9 3.7-3.9 2.4z"/>
<path fill="#ff7000" d="M586.5 148.4l3.9-2.1-1.9 3.7-3.9 2.3z"/>
<g fill="#ff8000"><path d="M582.5 150.4l4-2-1.9 3.9-3.9 2z"/><path d="M578.6 152.1l3.9-1.7-1.8 3.9-4 1.8z"/></g>
<g fill="#ff8f00"><path d="M574.7 153.7l3.9-1.6-1.9 4-3.9 1.6z"/><path d="M570.8 155l3.9-1.3-1.9 4-3.9 1.4z"/></g>
<g fill="#ff9f00"><path d="M566.8 156.1l4-1.1-1.9 4.1-3.9 1.2z"/><path d="M562.9 157l3.9-.9-1.8 4.2-4 .9z"/><path d="M559 157.6l3.9-.6-1.9 4.2-3.9 .6z"/><path d="M555 158l4-.4-1.9 4.2-3.9 .4z"/><path d="M551.1 158.2l3.9-.2-1.8 4.2-4 .2z"/><path d="M547.2 158.1l3.9 .1-1.9 4.2-3.9-.1z"/><path d="M543.3 157.8l3.9 .3-1.9 4.2-3.9-.4z"/></g>
<g fill="#ff8f00"><path d="M539.3 157.2l4 .6-1.9 4.1-3.9-.6z"/><path d="M535.4 156.5l3.9 .7-1.8 4.1-4-.8z"/></g>
<g fill="#ff8000"><path d="M531.5 155.5l3.9 1-1.9 4-3.9-1z"/><path d="M527.6 154.3l3.9 1.2-1.9 4-3.9-1.3z"/></g>
<path fill="#ff7000" d="M523.6 152.9l4 1.4-1.9 3.9-3.9-1.5z"/>
<path fill="#ff6000" d="M519.7 151.3l3.9 1.6-1.8 3.8-4-1.7z"/>
<path fill="#ff5000" d="M515.8 149.5l3.9 1.8-1.9 3.7-3.9-1.8z"/>
<path fill="#ff4000" d="M511.8 147.5l4 2-1.9 3.7-3.9-2.1z"/>
<path fill="#ff3000" d="M507.9 145.4l3.9 2.1-1.8 3.6-4-2.2z"/>
<path fill="#ff2000" d="M504 143.1l3.9 2.3-1.9 3.5-3.9-2.3z"/>
<path fill="#f00" d="M500.1 140.7l3.9 2.4-1.9 3.5-3.9-2.5z"/>
<path fill="#ef0000" d="M496.1 138.2l4 2.5-1.9 3.4-3.9-2.7z"/>
<path fill="#df0000" d="M492.2 135.5l3.9 2.7-1.8 3.2-4-2.7z"/>
<path fill="#bf0000" d="M488.3 132.8l3.9 2.7-1.9 3.2-3.9-2.9z"/>
<path fill="#af0000" d="M484.4 129.9l3.9 2.9-1.9 3-3.9-3z"/>
<path fill="#8f0000" d="M480.4 126.9l4 3-1.9 2.9-3.9-3z"/>
<path fill="#800000" d="M476.5 123.8l3.9 3.1-1.8 2.9-4-3.2z"/>
</g>
</g>
<g id="pc">
<path class="gr" d="M244.8 511.6L158.8 500.8M128.6 509.5L275.1 503M318.1 508.4L232.1 497.6M85.6 504.1L232.1 497.6M158.8 500.8L158.8 338.4M232.1 497.6L232.1 335.2M318.1 508.4L318.1 346M275.1 503L275.1 340.6M85.6 450L232.1 443.5M232.1 443.5L318.1 454.3M85.6 395.8L232.1 389.3M232.1 389.3L318.1 400.1M85.6 341.7L232.1 335.2M232.1 335.2L318.1 346"/>
<path class="ax" d="M85.6 341.7L85.6 504.1L171.6 514.9L318.1 508.4M171.6 514.9L171.6 518.5M171.6 514.9L171.6 518.5M244.8 511.6L244.8 515.2M128.6 509.5L128.6 513.1M318.1 508.4L318.1 512M85.6 504.1L85.6 507.7M85.6 504.1L82 503.7M85.6 450L82 449.5M85.6 395.8L82 395.4M85.6 341.7L82 341.2"/>
<path class="ct" stroke="#0030ff" d="M203.8 506.5L198.6 506.4L199.9 506L205.1 506.1L203.8 506.5z"/>
<path class="ct" stroke="#00dfff" d="M204.7 507.2L204.3 507.2L199.9 507.2L197 507.2L193.2 507L192.9 507L190.1 506.8L188.6 506.5L188.5 506.4L188.4 506.1L189.2 505.9L191.4 505.6L191.6 505.6L194.9 505.4L199 505.3L199.4 505.3L203.8 505.3L206.7 505.3L210.5 505.5L210.8 505.5L213.6 505.7L215.1 506L215.2 506.1L215.3 506.4L214.5 506.6L212.3 506.9L212.1 506.9L208.8 507.1L204.7 507.2z"/>
<path class="ct" stroke="#8fff70" d="M213.5 508.3L211 508.4L209.4 508.4L204.9 508.5L200.2 508.5L200.1 508.5L194.7 508.5L193.6 508.4L188.5 508.3L188.4 508.3L184.3 508.1L180.8 507.9L179.7 507.8L177.9 507.7L175.5 507.4L173.6 507.1L172.7 507L172.2 506.8L171.4 506.5L171.3 506.2L171.3 506.1L172.1 505.7L172.4 505.7L174.3 505.3L174.4 505.3L176.8 505L179.6 504.7L180.9 504.6L182.8 504.5L186.4 504.3L190.2 504.2L192.7 504.1L194.3 504.1L198.8 504L203.5 504L203.6 504L209 504L210.1 504.1L215.2 504.2L215.3 504.2L219.4 504.4L222.9 504.6L224 504.7L225.8 504.8L228.2 505.1L230.1 505.4L231 505.5L231.5 505.7L232.3 506L232.4 506.3L232.4 506.4L231.6 506.8L231.3 506.8L229.4 507.2L229.3 507.2L226.9 507.5L224.1 507.8L222.8 507.9L220.9 508L217.3 508.2L213.5 508.3z"/>
<path class="ct" stroke="#ffbf00" d="M213.3 510.2L211.4 510.2L208.9 510.2L204.2 510.3L201.6 510.3L199.3 510.3L194.1 510.2L194 510.2L188.5 510.2L187.9 510.2L182.5 510L182.4 510L177.6 509.9L175.6 509.8L173.3 509.7L169.4 509.5L167.4 509.4L165.9 509.3L162.7 509.1L159.8 508.8L157.3 508.6L155 508.3L153 508.1L151.2 507.8L149.8 507.5L148.7 507.1L148.4 507L147.9 506.8L147.5 506.5L147.5 506.3L147.5 506.1L148 505.7L148.1 505.7L149.2 505.3L149.3 505.3L151.1 504.9L151.1 504.8L153.2 504.5L154.3 504.3L155.6 504.2L158.2 503.9L159.8 503.7L161.1 503.6L164.1 503.4L167.3 503.2L170.7 503L174.3 502.8L178.1 502.6L182 502.5L186.1 502.4L190.4 502.3L192.3 502.3L194.8 502.3L199.5 502.2L202.1 502.2L204.4 502.2L209.6 502.3L209.7 502.3L215.2 502.3L215.8 502.3L221.2 502.5L221.3 502.5L226.1 502.6L228.1 502.7L230.4 502.8L234.3 503L236.3 503.1L237.8 503.2L241 503.4L243.9 503.7L246.4 503.9L248.7 504.2L250.7 504.4L252.5 504.7L253.9 505L255 505.4L255.3 505.5L255.8 505.7L256.2 506L256.2 506.2L256.2 506.4L255.7 506.8L255.6 506.8L254.5 507.2L254.4 507.2L252.6 507.6L252.6 507.7L250.5 508L249.4 508.2L248.1 508.3L245.5 508.6L243.9 508.8L242.6 508.9L239.6 509.1L236.4 509.3L233 509.5L229.4 509.7L225.6 509.9L221.7 510L217.6 510.1L213.3 510.2z"/>
<path class="ct" stroke="#ff2000" d="M244.8 511.6L241.1 511.8L237.3 511.9L233.4 512.1L229.3 512.2L225.2 512.3L220.9 512.4L219.9 512.4L216.5 512.4L212 512.5L208.7 512.5L207.3 512.5L202.5 512.6L199.8 512.6L197.5 512.5L192.3 512.5L192.3 512.5L186.9 512.5L185.7 512.4L181.3 512.4L179.6 512.4L175.3 512.3L174.1 512.2L169.1 512.1L169.1 512.1L164.3 511.9L162.2 511.9L159.9 511.8L155.8 511.6L154.6 511.5L151.9 511.4L148.3 511.2L145.7 511L144.9 511L141.7 510.7L138.7 510.5L135.9 510.3L133.3 510L130.8 509.8L128.6 509.5M275.1 503L277.2 503.3L279 503.6L280.7 503.8L282.2 504.1L283.5 504.5L284.6 504.8L284.8 504.8L285.5 505.1L286.2 505.4L286.5 505.7L286.6 505.8L286.8 506.1L286.7 506.3L286.7 506.5L286.2 506.9L286.2 506.9L285.5 507.3L285.2 507.4L284.3 507.7L283.8 507.8L282.5 508.2L282.1 508.2L280.2 508.6L280.2 508.6L278.1 509L277 509.1L275.7 509.3L273.2 509.6L272.4 509.7L270.6 509.9L267.8 510.2L265.5 510.4L264.8 510.4L261.8 510.7L258.6 510.9L255.4 511.1L252 511.3L248.5 511.5L244.8 511.6M128.6 509.5L126.5 509.2L124.7 508.9L123 508.7L121.5 508.4L120.2 508L119.1 507.7L118.9 507.7L118.2 507.4L117.5 507.1L117.2 506.8L117.1 506.7L116.9 506.4L117 506.2L117 506L117.5 505.6L117.5 505.6L118.2 505.2L118.5 505.1L119.4 504.8L119.9 504.7L121.2 504.3L121.6 504.3L123.5 503.9L123.5 503.9L125.6 503.5L126.7 503.4L128 503.2L130.5 502.9L131.3 502.8L133.1 502.6L135.9 502.3L138.2 502.1L138.9 502.1L141.9 501.8L145.1 501.6L148.3 501.4L151.7 501.2L155.2 501L158.8 500.8M158.8 500.8L162.6 500.7L166.4 500.6L170.3 500.4L174.4 500.3L178.5 500.2L182.8 500.1L183.8 500.1L187.2 500.1L191.7 500L195 500L196.4 500L201.2 499.9L203.9 499.9L206.2 500L211.4 500L211.4 500L216.8 500L218 500.1L222.4 500.1L224.1 500.1L228.4 500.2L229.6 500.3L234.6 500.4L234.6 500.4L239.4 500.6L241.5 500.6L243.8 500.7L247.9 500.9L249.1 501L251.8 501.1L255.4 501.3L258 501.5L258.8 501.5L262 501.8L265 502L267.8 502.2L270.4 502.5L272.9 502.7L275.1 503"/>
<g class="sf">
<path fill="#8f0000" d="M230.6 372.5l3.6-1.8-2.1-1.9-3.7 1.8z"/>
<path fill="#9f0000" d="M226.9 374.3l3.7-1.8-2.2-1.9-3.6 1.7z"/>
<path fill="#af0000" d="M223.3 376.1l3.6-1.8-2.1-2-3.7 1.8z"/>
<g fill="#bf0000"><path d="M219.6 377.9l3.7-1.8-2.2-2-3.7 1.6z"/><path d="M215.9 379.6l3.7-1.7-2.2-2.2-3.6 1.7z"/></g>
<path fill="#cf0000" d="M212.3 381.2l3.6-1.6-2.1-2.2-3.7 1.6z"/>
<g fill="#df0000"><path d="M208.6 382.8l3.7-1.6-2.2-2.2-3.6 1.5z"/><path d="M205 384.4l3.6-1.6-2.1-2.3-3.7 1.5z"/></g>
<path fill="#ef0000" d="M201.3 385.9l3.7-1.5-2.2-2.4-3.7 1.4z"/>
<g fill="#f00"><path d="M197.6 387.3l3.7-1.4-2.2-2.5-3.6 1.3z"/><path d="M194 388.7l3.6-1.4-2.1-2.6-3.7 1.3z"/></g>
<g fill="#ff1000"><path d="M190.3 389.9l3.7-1.2-2.2-2.7-3.7 1.2z"/><path d="M186.6 391l3.7-1.1-2.2-2.7-3.6 1.1z"/></g>
<g fill="#ff2000"><path d="M183 392.1l3.6-1.1-2.1-2.7-3.7 .9z"/><path d="M179.3 393l3.7-.9-2.2-2.9-3.6 .9z"/><path d="M175.6 393.8l3.7-.8-2.1-2.9-3.7 .8z"/></g>
<g fill="#ff3000"><path d="M172 394.5l3.6-.7-2.1-2.9-3.7 .6z"/><path d="M168.3 395l3.7-.5-2.2-3-3.6 .5z"/><path d="M164.7 395.4l3.6-.4-2.1-3-3.7 .3z"/><path d="M161 395.6l3.7-.2-2.2-3.1-3.7 .3z"/><path d="M157.3 395.7l3.7-.1-2.2-3-3.6 .1z"/><path d="M153.7 395.6l3.6 .1-2.1-3-3.7-.1z"/><path d="M150 395.4l3.7 .2-2.2-3-3.6-.1z"/></g>
<g fill="#ff2000"><path d="M146.3 395.1l3.7 .3-2.1-2.9-3.7-.3z"/><path d="M142.7 394.6l3.6 .5-2.1-2.9-3.7-.5z"/><path d="M139 394l3.7 .6-2.2-2.9-3.6-.5z"/></g>
<g fill="#ff1000"><path d="M135.4 393.3l3.6 .7-2.1-2.8-3.7-.7z"/><path d="M131.7 392.5l3.7 .8-2.2-2.8-3.6-.7z"/></g>
<g fill="#f00"><path d="M128 391.6l3.7 .9-2.1-2.7-3.7-.9z"/><path d="M124.4 390.6l3.6 1-2.1-2.7-3.7-.9z"/></g>
<path fill="#ef0000" d="M120.7 389.5l3.7 1.1-2.2-2.6-3.6-1z"/>
<g fill="#df0000"><path d="M117 388.3l3.7 1.2-2.1-2.5-3.7-1.1z"/><path d="M113.4 387.1l3.6 1.2-2.1-2.4-3.7-1.2z"/></g>
<path fill="#cf0000" d="M109.7 385.8l3.7 1.3-2.2-2.4-3.6-1.2z"/>
<g fill="#bf0000"><path d="M106.1 384.4l3.6 1.4-2.1-2.3-3.7-1.3z"/><path d="M102.4 383.1l3.7 1.3-2.2-2.2-3.7-1.3z"/></g>
<path fill="#af0000" class="t" d="M98.7 381.6l3.7 1.5-2.2-2.2-3.6-1.3z"/>
<path fill="#9f0000" class="t" d="M95.1 380.2l3.6 1.4-2.1-2-3.7-1.4z"/>
<path fill="#8f0000" class="t" d="M91.4 378.7l3.7 1.5-2.2-2-3.6-1.4z"/>
<path fill="#800000" class="t" d="M87.7 377.2l3.7 1.5-2.1-1.9-3.7-1.5z"/>
<path fill="#9f0000" d="M232.7 374.4l3.7-1.8-2.2-1.9-3.6 1.8z"/>
<path fill="#af0000" d="M229.1 376.3l3.6-1.9-2.1-1.9-3.7 1.8z"/>
<g fill="#bf0000"><path d="M225.4 378.2l3.7-1.9-2.2-2-3.6 1.8z"/><path d="M221.8 380l3.6-1.8-2.1-2.1-3.7 1.8z"/></g>
<path fill="#cf0000" d="M218.1 381.8l3.7-1.8-2.2-2.1-3.7 1.7z"/>
<path fill="#df0000" d="M214.4 383.5l3.7-1.7-2.2-2.2-3.6 1.6z"/>
<path fill="#ef0000" d="M210.8 385.2l3.6-1.7-2.1-2.3-3.7 1.6z"/>
<g fill="#f00"><path d="M207.1 386.8l3.7-1.6-2.2-2.4-3.6 1.6z"/><path d="M203.4 388.4l3.7-1.6-2.1-2.4-3.7 1.5z"/></g>
<path fill="#ff1000" d="M199.8 389.9l3.6-1.5-2.1-2.5-3.7 1.4z"/>
<g fill="#ff2000"><path d="M196.1 391.3l3.7-1.4-2.2-2.6-3.6 1.4z"/><path d="M192.4 392.6l3.7-1.3-2.1-2.6-3.7 1.2z"/></g>
<g fill="#ff3000"><path d="M188.8 393.9l3.6-1.3-2.1-2.7-3.7 1.1z"/><path d="M185.1 395l3.7-1.1-2.2-2.9-3.6 1.1z"/><path d="M181.5 395.9l3.6-.9-2.1-2.9-3.7 .9z"/></g>
<g fill="#ff4000"><path d="M177.8 396.8l3.7-.9-2.2-2.9-3.7 .8z"/><path d="M174.1 397.5l3.7-.7-2.2-3-3.6 .7z"/><path d="M170.5 398l3.6-.5-2.1-3-3.7 .5z"/><path d="M166.8 398.4l3.7-.4-2.2-3-3.6 .4z"/><path d="M163.1 398.7l3.7-.3-2.1-3-3.7 .2z"/><path d="M159.5 398.8l3.6-.1-2.1-3.1-3.7 .1z"/><path d="M155.8 398.7l3.7 .1-2.2-3.1-3.6-.1z"/><path d="M152.2 398.5l3.6 .2-2.1-3.1-3.7-.2z"/><path d="M148.5 398.1l3.7 .4-2.2-3.1-3.7-.3z"/></g>
<g fill="#ff3000"><path d="M144.8 397.6l3.7 .5-2.2-3-3.6-.5z"/><path d="M141.2 396.9l3.6 .7-2.1-3-3.7-.6z"/><path d="M137.5 396.1l3.7 .8-2.2-2.9-3.6-.7z"/></g>
<g fill="#ff2000"><path d="M133.9 395.2l3.6 .9-2.1-2.8-3.7-.8z"/><path d="M130.2 394.2l3.7 1-2.2-2.7-3.7-.9z"/></g>
<path fill="#ff1000" d="M126.5 393.2l3.7 1-2.2-2.6-3.6-1z"/>
<g fill="#f00"><path d="M122.9 392l3.6 1.2-2.1-2.6-3.7-1.1z"/><path d="M119.2 390.7l3.7 1.3-2.2-2.5-3.7-1.2z"/></g>
<path fill="#ef0000" d="M115.5 389.4l3.7 1.3-2.2-2.4-3.6-1.2z"/>
<path fill="#df0000" d="M111.9 388.1l3.6 1.3-2.1-2.3-3.7-1.3z"/>
<path fill="#cf0000" d="M108.2 386.6l3.7 1.5-2.2-2.3-3.6-1.4z"/>
<g fill="#bf0000"><path d="M104.6 385.2l3.6 1.4-2.1-2.2-3.7-1.3z"/><path class="t" d="M100.9 383.7l3.7 1.5-2.2-2.1-3.7-1.5z"/></g>
<path fill="#af0000" class="t" d="M97.2 382.2l3.7 1.5-2.2-2.1-3.6-1.4z"/>
<path fill="#9f0000" class="t" d="M93.6 380.6l3.6 1.6-2.1-2-3.7-1.5z"/>
<path fill="#8f0000" class="t" d="M89.9 379.1l3.7 1.5-2.2-1.9-3.7-1.5z"/>
<path fill="#af0000" d="M234.9 376.3l3.7-1.9-2.2-1.8-3.7 1.8z"/>
<g fill="#bf0000"><path d="M231.2 378.3l3.7-2-2.2-1.9-3.6 1.9z"/><path d="M227.6 380.2l3.6-1.9-2.1-2-3.7 1.9z"/></g>
<path fill="#cf0000" d="M223.9 382.1l3.7-1.9-2.2-2-3.6 1.8z"/>
<path fill="#df0000" d="M220.2 383.9l3.7-1.8-2.1-2.1-3.7 1.8z"/>
<path fill="#ef0000" d="M216.6 385.8l3.6-1.9-2.1-2.1-3.7 1.7z"/>
<path fill="#f00" d="M212.9 387.5l3.7-1.7-2.2-2.3-3.6 1.7z"/>
<g fill="#ff1000"><path d="M209.2 389.3l3.7-1.8-2.1-2.3-3.7 1.6z"/><path d="M205.6 390.9l3.6-1.6-2.1-2.5-3.7 1.6z"/></g>
<path fill="#ff2000" d="M201.9 392.5l3.7-1.6-2.2-2.5-3.6 1.5z"/>
<g fill="#ff3000"><path d="M198.3 394l3.6-1.5-2.1-2.6-3.7 1.4z"/><path d="M194.6 395.4l3.7-1.4-2.2-2.7-3.7 1.3z"/></g>
<g fill="#ff4000"><path d="M190.9 396.7l3.7-1.3-2.2-2.8-3.6 1.3z"/><path d="M187.3 397.9l3.6-1.2-2.1-2.8-3.7 1.1z"/></g>
<g fill="#ff5000"><path d="M183.6 398.9l3.7-1-2.2-2.9-3.6 .9z"/><path d="M180 399.8l3.6-.9-2.1-3-3.7 .9z"/></g>
<g fill="#ff6000"><path d="M176.3 400.6l3.7-.8-2.2-3-3.7 .7z"/><path d="M172.6 401.2l3.7-.6-2.2-3.1-3.6 .5z"/><path d="M169 401.6l3.6-.4-2.1-3.2-3.7 .4z"/><path d="M165.3 401.8l3.7-.2-2.2-3.2-3.7 .3z"/><path d="M161.6 401.9l3.7-.1-2.2-3.1-3.6 .1z"/><path d="M158 401.8l3.6 .1-2.1-3.1-3.7-.1z"/><path d="M154.3 401.6l3.7 .2-2.2-3.1-3.6-.2z"/></g>
<g fill="#ff5000"><path d="M150.6 401.1l3.7 .5-2.1-3.1-3.7-.4z"/><path d="M147 400.6l3.6 .5-2.1-3-3.7-.5z"/></g>
<g fill="#ff4000"><path d="M143.3 399.8l3.7 .8-2.2-3-3.6-.7z"/><path d="M139.7 399l3.6 .8-2.1-2.9-3.7-.8z"/></g>
<g fill="#ff3000"><path d="M136 398l3.7 1-2.2-2.9-3.6-.9z"/><path d="M132.3 396.9l3.7 1.1-2.1-2.8-3.7-1z"/></g>
<path fill="#ff2000" d="M128.7 395.8l3.6 1.1-2.1-2.7-3.7-1z"/>
<g fill="#ff1000"><path d="M125 394.5l3.7 1.3-2.2-2.6-3.6-1.2z"/><path d="M121.4 393.2l3.6 1.3-2.1-2.5-3.7-1.3z"/></g>
<path fill="#f00" d="M117.7 391.8l3.7 1.4-2.2-2.5-3.7-1.3z"/>
<path fill="#ef0000" d="M114 390.3l3.7 1.5-2.2-2.4-3.6-1.3z"/>
<path fill="#df0000" d="M110.4 388.8l3.6 1.5-2.1-2.2-3.7-1.5z"/>
<path fill="#cf0000" class="t" d="M106.7 387.3l3.7 1.5-2.2-2.2-3.6-1.4z"/>
<g fill="#bf0000"><path class="t" d="M103 385.7l3.7 1.6-2.1-2.1-3.7-1.5z"/><path class="t" d="M99.4 384.1l3.6 1.6-2.1-2-3.7-1.5z"/></g>
<path fill="#af0000" class="t" d="M95.7 382.5l3.7 1.6-2.2-1.9-3.6-1.6z"/>
<path fill="#9f0000" class="t" d="M92 380.9l3.7 1.6-2.1-1.9-3.7-1.5z"/>
<g fill="#bf0000"><path d="M237 378.2l3.7-2-2.1-1.8-3.7 1.9z"/><path d="M233.4 380.2l3.6-2-2.1-1.9-3.7 2z"/></g>
<path fill="#cf0000" d="M229.7 382.2l3.7-2-2.2-1.9-3.6 1.9z"/>
<path fill="#df0000" d="M226 384.2l3.7-2-2.1-2-3.7 1.9z"/>
<path fill="#ef0000" d="M222.4 386.1l3.6-1.9-2.1-2.1-3.7 1.8z"/>
<path fill="#f00" d="M218.7 388l3.7-1.9-2.2-2.2-3.6 1.9z"/>
<path fill="#ff1000" d="M215.1 389.9l3.6-1.9-2.1-2.2-3.7 1.7z"/>
<g fill="#ff2000"><path d="M211.4 391.7l3.7-1.8-2.2-2.4-3.7 1.8z"/><path d="M207.7 393.5l3.7-1.8-2.2-2.4-3.6 1.6z"/></g>
<path fill="#ff3000" d="M204.1 395.1l3.6-1.6-2.1-2.6-3.7 1.6z"/>
<path fill="#ff4000" d="M200.4 396.7l3.7-1.6-2.2-2.6-3.6 1.5z"/>
<g fill="#ff5000"><path d="M196.7 398.2l3.7-1.5-2.1-2.7-3.7 1.4z"/><path d="M193.1 399.6l3.6-1.4-2.1-2.8-3.7 1.3z"/></g>
<g fill="#ff6000"><path d="M189.4 400.9l3.7-1.3-2.2-2.9-3.6 1.2z"/><path d="M185.8 402l3.6-1.1-2.1-3-3.7 1z"/></g>
<g fill="#ff7000"><path d="M182.1 403l3.7-1-2.2-3.1-3.6 .9z"/><path d="M178.4 403.8l3.7-.8-2.1-3.2-3.7 .8z"/><path d="M174.8 404.4l3.6-.6-2.1-3.2-3.7 .6z"/><path d="M171.1 404.8l3.7-.4-2.2-3.2-3.6 .4z"/><path d="M167.4 405.1l3.7-.3-2.1-3.2-3.7 .2z"/><path d="M163.8 405.2l3.6-.1-2.1-3.3-3.7 .1z"/><path d="M160.1 405l3.7 .2-2.2-3.3-3.6-.1z"/><path d="M156.5 404.7l3.6 .3-2.1-3.2-3.7-.2z"/><path d="M152.8 404.3l3.7 .4-2.2-3.1-3.7-.5z"/></g>
<g fill="#ff6000"><path d="M149.1 403.6l3.7 .7-2.2-3.2-3.6-.5z"/><path d="M145.5 402.8l3.6 .8-2.1-3-3.7-.8z"/></g>
<g fill="#ff5000"><path d="M141.8 401.9l3.7 .9-2.2-3-3.6-.8z"/><path d="M138.2 400.8l3.6 1.1-2.1-2.9-3.7-1z"/></g>
<path fill="#ff4000" d="M134.5 399.7l3.7 1.1-2.2-2.8-3.7-1.1z"/>
<path fill="#ff3000" d="M130.8 398.4l3.7 1.3-2.2-2.8-3.6-1.1z"/>
<g fill="#ff2000"><path d="M127.2 397l3.6 1.4-2.1-2.6-3.7-1.3z"/><path d="M123.5 395.6l3.7 1.4-2.2-2.5-3.6-1.3z"/></g>
<path fill="#ff1000" d="M119.8 394.1l3.7 1.5-2.1-2.4-3.7-1.4z"/>
<path fill="#f00" d="M116.2 392.6l3.6 1.5-2.1-2.3-3.7-1.5z"/>
<path fill="#ef0000" class="t" d="M112.5 391l3.7 1.6-2.2-2.3-3.6-1.5z"/>
<path fill="#df0000" class="t" d="M108.8 389.4l3.7 1.6-2.1-2.2-3.7-1.5z"/>
<path fill="#cf0000" class="t" d="M105.2 387.7l3.6 1.7-2.1-2.1-3.7-1.6z"/>
<g fill="#bf0000"><path class="t" d="M101.5 386l3.7 1.7-2.2-2-3.6-1.6z"/><path class="t" d="M97.9 384.4l3.6 1.6-2.1-1.9-3.7-1.6z"/></g>
<path fill="#af0000" class="t" d="M94.2 382.7l3.7 1.7-2.2-1.9-3.7-1.6z"/>
<path fill="#bf0000" d="M239.2 380l3.6-2.1-2.1-1.7-3.7 2z"/>
<path fill="#cf0000" d="M235.5 382.1l3.7-2.1-2.2-1.8-3.6 2z"/>
<path fill="#df0000" d="M231.9 384.2l3.6-2.1-2.1-1.9-3.7 2z"/>
<path fill="#ef0000" d="M228.2 386.2l3.7-2-2.2-2-3.7 2z"/>
<path fill="#f00" d="M224.5 388.3l3.7-2.1-2.2-2-3.6 1.9z"/>
<path fill="#ff1000" d="M220.9 390.3l3.6-2-2.1-2.2-3.7 1.9z"/>
<path fill="#ff2000" d="M217.2 392.2l3.7-1.9-2.2-2.3-3.6 1.9z"/>
<path fill="#ff3000" d="M213.6 394.1l3.6-1.9-2.1-2.3-3.7 1.8z"/>
<g fill="#ff4000"><path d="M209.9 396l3.7-1.9-2.2-2.4-3.7 1.8z"/><path d="M206.2 397.8l3.7-1.8-2.2-2.5-3.6 1.6z"/></g>
<path fill="#ff5000" d="M202.6 399.5l3.6-1.7-2.1-2.7-3.7 1.6z"/>
<path fill="#ff6000" d="M198.9 401.1l3.7-1.6-2.2-2.8-3.7 1.5z"/>
<g fill="#ff7000"><path d="M195.2 402.6l3.7-1.5-2.2-2.9-3.6 1.4z"/><path d="M191.6 403.9l3.6-1.3-2.1-3-3.7 1.3z"/></g>
<g fill="#ff8000"><path d="M187.9 405.1l3.7-1.2-2.2-3-3.6 1.1z"/><path d="M184.2 406.2l3.7-1.1-2.1-3.1-3.7 1z"/><path d="M180.6 407l3.6-.8-2.1-3.2-3.7 .8z"/></g>
<g fill="#ff8f00"><path d="M176.9 407.7l3.7-.7-2.2-3.2-3.6 .6z"/><path d="M173.3 408.2l3.6-.5-2.1-3.3-3.7 .4z"/><path d="M169.6 408.4l3.7-.2-2.2-3.4-3.7 .3z"/><path d="M165.9 408.5l3.7-.1-2.2-3.3-3.6 .1z"/><path d="M162.3 408.3l3.6 .2-2.1-3.3-3.7-.2z"/></g>
<g fill="#ff8000"><path d="M158.6 408l3.7 .3-2.2-3.3-3.6-.3z"/><path d="M155 407.5l3.6 .5-2.1-3.3-3.7-.4z"/><path d="M151.3 406.7l3.7 .8-2.2-3.2-3.7-.7z"/></g>
<g fill="#ff7000"><path d="M147.6 405.9l3.7 .8-2.2-3.1-3.6-.8z"/><path d="M144 404.8l3.6 1.1-2.1-3.1-3.7-.9z"/></g>
<path fill="#ff6000" d="M140.3 403.7l3.7 1.1-2.2-2.9-3.6-1.1z"/>
<path fill="#ff5000" d="M136.6 402.4l3.7 1.3-2.1-2.9-3.7-1.1z"/>
<g fill="#ff4000"><path d="M133 401l3.6 1.4-2.1-2.7-3.7-1.3z"/><path d="M129.3 399.6l3.7 1.4-2.2-2.6-3.6-1.4z"/></g>
<path fill="#ff3000" d="M125.6 398l3.7 1.6-2.1-2.6-3.7-1.4z"/>
<path fill="#ff2000" d="M122 396.5l3.6 1.5-2.1-2.4-3.7-1.5z"/>
<path fill="#ff1000" d="M118.3 394.8l3.7 1.7-2.2-2.4-3.6-1.5z"/>
<path fill="#f00" class="t" d="M114.7 393.1l3.6 1.7-2.1-2.2-3.7-1.6z"/>
<path fill="#ef0000" class="t" d="M111 391.4l3.7 1.7-2.2-2.1-3.7-1.6z"/>
<path fill="#df0000" class="t" d="M107.3 389.7l3.7 1.7-2.2-2-3.6-1.7z"/>
<path fill="#cf0000" class="t" d="M103.7 387.9l3.6 1.8-2.1-2-3.7-1.7z"/>
<path fill="#bf0000" class="t" d="M100 386.2l3.7 1.7-2.2-1.9-3.6-1.6z"/>
<path fill="#af0000" class="t" d="M96.4 384.4l3.6 1.8-2.1-1.8-3.7-1.7z"/>
<path fill="#cf0000" d="M241.3 381.8l3.7-2.2-2.2-1.7-3.6 2.1z"/>
<path fill="#df0000" d="M237.7 383.9l3.6-2.1-2.1-1.8-3.7 2.1z"/>
<path fill="#ef0000" d="M234 386.1l3.7-2.2-2.2-1.8-3.6 2.1z"/>
<path fill="#f00" d="M230.3 388.2l3.7-2.1-2.1-1.9-3.7 2z"/>
<path fill="#ff1000" d="M226.7 390.4l3.6-2.2-2.1-2-3.7 2.1z"/>
<path fill="#ff2000" d="M223 392.5l3.7-2.1-2.2-2.1-3.6 2z"/>
<path fill="#ff3000" d="M219.4 394.5l3.6-2-2.1-2.2-3.7 1.9z"/>
<path fill="#ff4000" d="M215.7 396.6l3.7-2.1-2.2-2.3-3.6 1.9z"/>
<path fill="#ff5000" d="M212 398.5l3.7-1.9-2.1-2.5-3.7 1.9z"/>
<g fill="#ff6000"><path d="M208.4 400.4l3.6-1.9-2.1-2.5-3.7 1.8z"/><path d="M204.7 402.2l3.7-1.8-2.2-2.6-3.6 1.7z"/></g>
<path fill="#ff7000" d="M201 404l3.7-1.8-2.1-2.7-3.7 1.6z"/>
<path fill="#ff8000" d="M197.4 405.6l3.6-1.6-2.1-2.9-3.7 1.5z"/>
<g fill="#ff8f00"><path d="M193.7 407l3.7-1.4-2.2-3-3.6 1.3z"/><path d="M190.1 408.3l3.6-1.3-2.1-3.1-3.7 1.2z"/></g>
<g fill="#ff9f00"><path d="M186.4 409.4l3.7-1.1-2.2-3.2-3.7 1.1z"/><path d="M182.7 410.4l3.7-1-2.2-3.2-3.6 .8z"/><path d="M179.1 411.1l3.6-.7-2.1-3.4-3.7 .7z"/><path d="M175.4 411.6l3.7-.5-2.2-3.4-3.6 .5z"/><path d="M171.8 411.9l3.6-.3-2.1-3.4-3.7 .2z"/><path d="M168.1 411.9l3.7 0-2.2-3.5-3.7 .1z"/><path d="M164.4 411.8l3.7 .1-2.2-3.4-3.6-.2z"/><path d="M160.8 411.3l3.6 .5-2.1-3.5-3.7-.3z"/><path d="M157.1 410.7l3.7 .6-2.2-3.3-3.6-.5z"/></g>
<g fill="#ff8f00"><path d="M153.4 409.9l3.7 .8-2.1-3.2-3.7-.8z"/><path d="M149.8 409l3.6 .9-2.1-3.2-3.7-.8z"/></g>
<path fill="#ff8000" d="M146.1 407.8l3.7 1.2-2.2-3.1-3.6-1.1z"/>
<path fill="#ff7000" d="M142.4 406.6l3.7 1.2-2.1-3-3.7-1.1z"/>
<g fill="#ff6000"><path d="M138.8 405.2l3.6 1.4-2.1-2.9-3.7-1.3z"/><path d="M135.1 403.7l3.7 1.5-2.2-2.8-3.6-1.4z"/></g>
<path fill="#ff5000" d="M131.5 402.1l3.6 1.6-2.1-2.7-3.7-1.4z"/>
<path fill="#ff4000" d="M127.8 400.5l3.7 1.6-2.2-2.5-3.7-1.6z"/>
<path fill="#ff3000" d="M124.1 398.8l3.7 1.7-2.2-2.5-3.6-1.5z"/>
<path fill="#ff2000" class="t" d="M120.5 397l3.6 1.8-2.1-2.3-3.7-1.7z"/>
<path fill="#ff1000" class="t" d="M116.8 395.2l3.7 1.8-2.2-2.2-3.6-1.7z"/>
<path fill="#f00" class="t" d="M113.2 393.4l3.6 1.8-2.1-2.1-3.7-1.7z"/>
<path fill="#ef0000" class="t" d="M109.5 391.6l3.7 1.8-2.2-2-3.7-1.7z"/>
<path fill="#df0000" class="t" d="M105.8 389.8l3.7 1.8-2.2-1.9-3.6-1.8z"/>
<path fill="#cf0000" class="t" d="M102.2 387.9l3.6 1.9-2.1-1.9-3.7-1.7z"/>
<path fill="#bf0000" class="t" d="M98.5 386.1l3.7 1.8-2.2-1.7-3.6-1.8z"/>
<path fill="#df0000" d="M243.5 383.5l3.7-2.3-2.2-1.6-3.7 2.2z"/>
<path fill="#ef0000" d="M239.8 385.7l3.7-2.2-2.2-1.7-3.6 2.1z"/>
<path fill="#f00" d="M236.2 388l3.6-2.3-2.1-1.8-3.7 2.2z"/>
<path fill="#ff1000" d="M232.5 390.2l3.7-2.2-2.2-1.9-3.7 2.1z"/>
<path fill="#ff2000" d="M228.8 392.4l3.7-2.2-2.2-2-3.6 2.2z"/>
<path fill="#ff3000" d="M225.2 394.6l3.6-2.2-2.1-2-3.7 2.1z"/>
<path fill="#ff4000" d="M221.5 396.8l3.7-2.2-2.2-2.1-3.6 2z"/>
<path fill="#ff5000" d="M217.8 399l3.7-2.2-2.1-2.3-3.7 2.1z"/>
<path fill="#ff6000" d="M214.2 401l3.6-2-2.1-2.4-3.7 1.9z"/>
<path fill="#ff7000" d="M210.5 403.1l3.7-2.1-2.2-2.5-3.6 1.9z"/>
<g fill="#ff8000"><path d="M206.9 405l3.6-1.9-2.1-2.7-3.7 1.8z"/><path d="M203.2 406.9l3.7-1.9-2.2-2.8-3.7 1.8z"/></g>
<path fill="#ff8f00" d="M199.5 408.6l3.7-1.7-2.2-2.9-3.6 1.6z"/>
<path fill="#ff9f00" d="M195.9 410.2l3.6-1.6-2.1-3-3.7 1.4z"/>
<g fill="#ffaf00"><path d="M192.2 411.6l3.7-1.4-2.2-3.2-3.6 1.3z"/><path d="M188.6 412.8l3.6-1.2-2.1-3.3-3.7 1.1z"/></g>
<g fill="#ffbf00"><path d="M184.9 413.8l3.7-1-2.2-3.4-3.7 1z"/><path d="M181.2 414.6l3.7-.8-2.2-3.4-3.6 .7z"/><path d="M177.6 415.2l3.6-.6-2.1-3.5-3.7 .5z"/><path d="M173.9 415.4l3.7-.2-2.2-3.6-3.6 .3z"/><path d="M170.2 415.5l3.7-.1-2.1-3.5-3.7 0z"/><path d="M166.6 415.3l3.6 .2-2.1-3.6-3.7-.1z"/><path d="M162.9 414.8l3.7 .5-2.2-3.5-3.6-.5z"/></g>
<g fill="#ffaf00"><path d="M159.2 414.1l3.7 .7-2.1-3.5-3.7-.6z"/><path d="M155.6 413.2l3.6 .9-2.1-3.4-3.7-.8z"/></g>
<path fill="#ff9f00" d="M151.9 412.1l3.7 1.1-2.2-3.3-3.6-.9z"/>
<path fill="#ff8f00" d="M148.3 410.9l3.6 1.2-2.1-3.1-3.7-1.2z"/>
<g fill="#ff8000"><path d="M144.6 409.5l3.7 1.4-2.2-3.1-3.7-1.2z"/><path d="M140.9 407.9l3.7 1.6-2.2-2.9-3.6-1.4z"/></g>
<path fill="#ff7000" d="M137.3 406.3l3.6 1.6-2.1-2.7-3.7-1.5z"/>
<path fill="#ff6000" d="M133.6 404.6l3.7 1.7-2.2-2.6-3.6-1.6z"/>
<path fill="#ff5000" d="M130 402.9l3.6 1.7-2.1-2.5-3.7-1.6z"/>
<path fill="#ff4000" class="t" d="M126.3 401l3.7 1.9-2.2-2.4-3.7-1.7z"/>
<path fill="#ff3000" class="t" d="M122.6 399.2l3.7 1.8-2.2-2.2-3.6-1.8z"/>
<path fill="#ff2000" class="t" d="M119 397.3l3.6 1.9-2.1-2.2-3.7-1.8z"/>
<path fill="#ff1000" class="t" d="M115.3 395.4l3.7 1.9-2.2-2.1-3.6-1.8z"/>
<path fill="#f00" class="t" d="M111.6 393.5l3.7 1.9-2.1-2-3.7-1.8z"/>
<path fill="#ef0000" class="t" d="M108 391.6l3.6 1.9-2.1-1.9-3.7-1.8z"/>
<path fill="#df0000" class="t" d="M104.3 389.7l3.7 1.9-2.2-1.8-3.6-1.9z"/>
<path fill="#cf0000" class="t" d="M100.6 387.7l3.7 2-2.1-1.8-3.7-1.8z"/>
<path fill="#df0000" d="M245.6 385.2l3.7-2.4-2.1-1.6-3.7 2.3z"/>
<path fill="#f00" d="M242 387.5l3.6-2.3-2.1-1.7-3.7 2.2z"/>
<path fill="#ff1000" d="M238.3 389.8l3.7-2.3-2.2-1.8-3.6 2.3z"/>
<path fill="#ff2000" d="M234.6 392.1l3.7-2.3-2.1-1.8-3.7 2.2z"/>
<path fill="#ff3000" d="M231 394.5l3.6-2.4-2.1-1.9-3.7 2.2z"/>
<path fill="#ff4000" d="M227.3 396.8l3.7-2.3-2.2-2.1-3.6 2.2z"/>
<path fill="#ff5000" d="M223.7 399.1l3.6-2.3-2.1-2.2-3.7 2.2z"/>
<path fill="#ff6000" d="M220 401.3l3.7-2.2-2.2-2.3-3.7 2.2z"/>
<path fill="#ff7000" d="M216.3 403.5l3.7-2.2-2.2-2.3-3.6 2z"/>
<path fill="#ff8000" d="M212.7 405.7l3.6-2.2-2.1-2.5-3.7 2.1z"/>
<path fill="#ff8f00" d="M209 407.8l3.7-2.1-2.2-2.6-3.6 1.9z"/>
<path fill="#ff9f00" d="M205.3 409.8l3.7-2-2.1-2.8-3.7 1.9z"/>
<g fill="#ffaf00"><path d="M201.7 411.6l3.6-1.8-2.1-2.9-3.7 1.7z"/><path d="M198 413.4l3.7-1.8-2.2-3-3.6 1.6z"/></g>
<path fill="#ffbf00" d="M194.4 414.9l3.6-1.5-2.1-3.2-3.7 1.4z"/>
<g fill="#ffcf00"><path d="M190.7 416.3l3.7-1.4-2.2-3.3-3.6 1.2z"/><path d="M187 417.4l3.7-1.1-2.1-3.5-3.7 1z"/></g>
<g fill="#ffdf00"><path d="M183.4 418.2l3.6-.8-2.1-3.6-3.7 .8z"/><path d="M179.7 418.8l3.7-.6-2.2-3.6-3.6 .6z"/><path d="M176 419.1l3.7-.3-2.1-3.6-3.7 .2z"/><path d="M172.4 419.2l3.6-.1-2.1-3.7-3.7 .1z"/><path d="M168.7 418.9l3.7 .3-2.2-3.7-3.6-.2z"/></g>
<g fill="#ffcf00"><path d="M165.1 418.4l3.6 .5-2.1-3.6-3.7-.5z"/><path d="M161.4 417.6l3.7 .8-2.2-3.6-3.7-.7z"/></g>
<path fill="#ffbf00" d="M157.7 416.5l3.7 1.1-2.2-3.5-3.6-.9z"/>
<g fill="#ffaf00"><path d="M154.1 415.3l3.6 1.2-2.1-3.3-3.7-1.1z"/><path d="M150.4 413.9l3.7 1.4-2.2-3.2-3.6-1.2z"/></g>
<path fill="#ff9f00" d="M146.8 412.4l3.6 1.5-2.1-3-3.7-1.4z"/>
<path fill="#ff8f00" d="M143.1 410.7l3.7 1.7-2.2-2.9-3.7-1.6z"/>
<path fill="#ff8000" d="M139.4 409l3.7 1.7-2.2-2.8-3.6-1.6z"/>
<path fill="#ff7000" d="M135.8 407.1l3.6 1.9-2.1-2.7-3.7-1.7z"/>
<path fill="#ff6000" class="t" d="M132.1 405.2l3.7 1.9-2.2-2.5-3.6-1.7z"/>
<path fill="#ff5000" class="t" d="M128.4 403.3l3.7 1.9-2.1-2.3-3.7-1.9z"/>
<path fill="#ff4000" class="t" d="M124.8 401.3l3.6 2-2.1-2.3-3.7-1.8z"/>
<path fill="#ff3000" class="t" d="M121.1 399.3l3.7 2-2.2-2.1-3.6-1.9z"/>
<path fill="#ff2000" class="t" d="M117.4 397.3l3.7 2-2.1-2-3.7-1.9z"/>
<path fill="#ff1000" class="t" d="M113.8 395.3l3.6 2-2.1-1.9-3.7-1.9z"/>
<path fill="#f00" class="t" d="M110.1 393.3l3.7 2-2.2-1.8-3.6-1.9z"/>
<path fill="#df0000" class="t" d="M106.5 391.3l3.6 2-2.1-1.7-3.7-1.9z"/>
<path fill="#cf0000" class="t" d="M102.8 389.3l3.7 2-2.2-1.6-3.7-2z"/>
<path fill="#ef0000" d="M247.8 386.8l3.6-2.4-2.1-1.6-3.7 2.4z"/>
<path fill="#f00" d="M244.1 389.2l3.7-2.4-2.2-1.6-3.6 2.3z"/>
<path fill="#ff1000" d="M240.5 391.6l3.6-2.4-2.1-1.7-3.7 2.3z"/>
<path fill="#ff2000" d="M236.8 394l3.7-2.4-2.2-1.8-3.7 2.3z"/>
<path fill="#ff4000" d="M233.1 396.4l3.7-2.4-2.2-1.9-3.6 2.4z"/>
<path fill="#ff5000" d="M229.5 398.9l3.6-2.5-2.1-1.9-3.7 2.3z"/>
<path fill="#ff6000" d="M225.8 401.3l3.7-2.4-2.2-2.1-3.6 2.3z"/>
<path fill="#ff7000" d="M222.2 403.7l3.6-2.4-2.1-2.2-3.7 2.2z"/>
<path fill="#ff8000" d="M218.5 406l3.7-2.3-2.2-2.4-3.7 2.2z"/>
<path fill="#ff8f00" d="M214.8 408.3l3.7-2.3-2.2-2.5-3.6 2.2z"/>
<path fill="#ff9f00" d="M211.2 410.5l3.6-2.2-2.1-2.6-3.7 2.1z"/>
<path fill="#ffaf00" d="M207.5 412.7l3.7-2.2-2.2-2.7-3.7 2z"/>
<path fill="#ffbf00" d="M203.8 414.7l3.7-2-2.2-2.9-3.6 1.8z"/>
<path fill="#ffcf00" d="M200.2 416.6l3.6-1.9-2.1-3.1-3.7 1.8z"/>
<g fill="#ffdf00"><path d="M196.5 418.3l3.7-1.7-2.2-3.2-3.6 1.5z"/><path d="M192.8 419.8l3.7-1.5-2.1-3.4-3.7 1.4z"/></g>
<g fill="#ffef00"><path d="M189.2 421l3.6-1.2-2.1-3.5-3.7 1.1z"/><path d="M185.5 422l3.7-1-2.2-3.6-3.6 .8z"/></g>
<g fill="#ff0"><path d="M181.9 422.7l3.6-.7-2.1-3.8-3.7 .6z"/><path d="M178.2 423l3.7-.3-2.2-3.9-3.7 .3z"/><path d="M174.5 423l3.7 0-2.2-3.9-3.6 .1z"/></g>
<g fill="#ffef00"><path d="M170.9 422.7l3.6 .3-2.1-3.8-3.7-.3z"/><path d="M167.2 422l3.7 .7-2.2-3.8-3.6-.5z"/></g>
<g fill="#ffdf00"><path d="M163.5 421.1l3.7 .9-2.1-3.6-3.7-.8z"/><path d="M159.9 419.9l3.6 1.2-2.1-3.5-3.7-1.1z"/></g>
<path fill="#ffcf00" d="M156.2 418.6l3.7 1.3-2.2-3.4-3.6-1.2z"/>
<path fill="#ffbf00" d="M152.6 417l3.6 1.6-2.1-3.3-3.7-1.4z"/>
<path fill="#ffaf00" d="M148.9 415.3l3.7 1.7-2.2-3.1-3.6-1.5z"/>
<path fill="#ff9f00" d="M145.2 413.5l3.7 1.8-2.1-2.9-3.7-1.7z"/>
<path fill="#ff8f00" d="M141.6 411.6l3.6 1.9-2.1-2.8-3.7-1.7z"/>
<path fill="#ff8000" d="M137.9 409.6l3.7 2-2.2-2.6-3.6-1.9z"/>
<path fill="#ff7000" class="t" d="M134.2 407.6l3.7 2-2.1-2.5-3.7-1.9z"/>
<path fill="#ff6000" class="t" d="M130.6 405.5l3.6 2.1-2.1-2.4-3.7-1.9z"/>
<path fill="#ff5000" class="t" d="M126.9 403.4l3.7 2.1-2.2-2.2-3.6-2z"/>
<path fill="#ff4000" class="t" d="M123.3 401.3l3.6 2.1-2.1-2.1-3.7-2z"/>
<path fill="#ff2000" class="t" d="M119.6 399.2l3.7 2.1-2.2-2-3.7-2z"/>
<path fill="#ff1000" class="t" d="M115.9 397.1l3.7 2.1-2.2-1.9-3.6-2z"/>
<path fill="#f00" class="t" d="M112.3 395l3.6 2.1-2.1-1.8-3.7-2z"/>
<path fill="#ef0000" class="t" d="M108.6 392.9l3.7 2.1-2.2-1.7-3.6-2z"/>
<path fill="#df0000" class="t" d="M105 390.9l3.6 2-2.1-1.6-3.7-2z"/>
<path fill="#f00" d="M249.9 388.3l3.7-2.5-2.2-1.4-3.6 2.4z"/>
<path fill="#ff1000" d="M246.3 390.8l3.6-2.5-2.1-1.5-3.7 2.4z"/>
<path fill="#ff2000" d="M242.6 393.3l3.7-2.5-2.2-1.6-3.6 2.4z"/>
<path fill="#ff3000" d="M239 395.8l3.6-2.5-2.1-1.7-3.7 2.4z"/>
<path fill="#ff4000" d="M235.3 398.3l3.7-2.5-2.2-1.8-3.7 2.4z"/>
<path fill="#ff6000" d="M231.6 400.9l3.7-2.6-2.2-1.9-3.6 2.5z"/>
<path fill="#ff7000" d="M228 403.4l3.6-2.5-2.1-2-3.7 2.4z"/>
<path fill="#ff8000" d="M224.3 405.9l3.7-2.5-2.2-2.1-3.6 2.4z"/>
<path fill="#ff8f00" d="M220.6 408.4l3.7-2.5-2.1-2.2-3.7 2.3z"/>
<path fill="#ff9f00" d="M217 410.9l3.6-2.5-2.1-2.4-3.7 2.3z"/>
<path fill="#ffaf00" d="M213.3 413.3l3.7-2.4-2.2-2.6-3.6 2.2z"/>
<path fill="#ffbf00" d="M209.6 415.6l3.7-2.3-2.1-2.8-3.7 2.2z"/>
<path fill="#ffcf00" d="M206 417.8l3.6-2.2-2.1-2.9-3.7 2z"/>
<path fill="#ffdf00" d="M202.3 419.9l3.7-2.1-2.2-3.1-3.6 1.9z"/>
<path fill="#ffef00" d="M198.7 421.8l3.6-1.9-2.1-3.3-3.7 1.7z"/>
<path fill="#ff0" d="M195 423.4l3.7-1.6-2.2-3.5-3.7 1.5z"/>
<g fill="#efff10"><path d="M191.3 424.8l3.7-1.4-2.2-3.6-3.6 1.2z"/><path d="M187.7 425.9l3.6-1.1-2.1-3.8-3.7 1z"/><path d="M184 426.6l3.7-.7-2.2-3.9-3.6 .7z"/><path d="M180.4 427l3.6-.4-2.1-3.9-3.7 .3z"/><path d="M176.7 427l3.7 0-2.2-4-3.7 0z"/><path d="M173 426.6l3.7 .4-2.2-4-3.6-.3z"/><path d="M169.4 425.8l3.6 .8-2.1-3.9-3.7-.7z"/></g>
<path fill="#ff0" d="M165.7 424.7l3.7 1.1-2.2-3.8-3.7-.9z"/>
<path fill="#ffef00" d="M162 423.4l3.7 1.3-2.2-3.6-3.6-1.2z"/>
<path fill="#ffdf00" d="M158.4 421.8l3.6 1.6-2.1-3.5-3.7-1.3z"/>
<path fill="#ffcf00" d="M154.7 420.1l3.7 1.7-2.2-3.2-3.6-1.6z"/>
<path fill="#ffbf00" d="M151 418.2l3.7 1.9-2.1-3.1-3.7-1.7z"/>
<path fill="#ffaf00" d="M147.4 416.2l3.6 2-2.1-2.9-3.7-1.8z"/>
<path fill="#ff9f00" d="M143.7 414.1l3.7 2.1-2.2-2.7-3.6-1.9z"/>
<path fill="#ff8f00" class="t" d="M140.1 412l3.6 2.1-2.1-2.5-3.7-2z"/>
<path fill="#ff8000" class="t" d="M136.4 409.8l3.7 2.2-2.2-2.4-3.7-2z"/>
<path fill="#ff7000" class="t" d="M132.7 407.6l3.7 2.2-2.2-2.2-3.6-2.1z"/>
<path fill="#ff6000" class="t" d="M129.1 405.4l3.6 2.2-2.1-2.1-3.7-2.1z"/>
<path fill="#ff4000" class="t" d="M125.4 403.2l3.7 2.2-2.2-2-3.6-2.1z"/>
<path fill="#ff3000" class="t" d="M121.8 401l3.6 2.2-2.1-1.9-3.7-2.1z"/>
<path fill="#ff2000" class="t" d="M118.1 398.8l3.7 2.2-2.2-1.8-3.7-2.1z"/>
<path fill="#ff1000" class="t" d="M114.4 396.6l3.7 2.2-2.2-1.7-3.6-2.1z"/>
<path fill="#f00" class="t" d="M110.8 394.5l3.6 2.1-2.1-1.6-3.7-2.1z"/>
<path fill="#ef0000" class="t" d="M107.1 392.3l3.7 2.2-2.2-1.6-3.6-2z"/>
<path fill="#f00" d="M252.1 389.7l3.7-2.5-2.2-1.4-3.7 2.5z"/>
<path fill="#ff2000" d="M248.4 392.3l3.7-2.6-2.2-1.4-3.6 2.5z"/>
<path fill="#ff3000" d="M244.8 394.9l3.6-2.6-2.1-1.5-3.7 2.5z"/>
<path fill="#ff4000" d="M241.1 397.5l3.7-2.6-2.2-1.6-3.6 2.5z"/>
<path fill="#ff5000" d="M237.4 400.1l3.7-2.6-2.1-1.7-3.7 2.5z"/>
<path fill="#ff6000" d="M233.8 402.8l3.6-2.7-2.1-1.8-3.7 2.6z"/>
<path fill="#ff8000" d="M230.1 405.4l3.7-2.6-2.2-1.9-3.6 2.5z"/>
<path fill="#ff8f00" d="M226.4 408.1l3.7-2.7-2.1-2-3.7 2.5z"/>
<path fill="#ff9f00" d="M222.8 410.8l3.6-2.7-2.1-2.2-3.7 2.5z"/>
<path fill="#ffaf00" d="M219.1 413.4l3.7-2.6-2.2-2.4-3.6 2.5z"/>
<path fill="#ffcf00" d="M215.5 416l3.6-2.6-2.1-2.5-3.7 2.4z"/>
<path fill="#ffdf00" d="M211.8 418.5l3.7-2.5-2.2-2.7-3.7 2.3z"/>
<path fill="#ffef00" d="M208.1 420.9l3.7-2.4-2.2-2.9-3.6 2.2z"/>
<path fill="#ff0" d="M204.5 423.2l3.6-2.3-2.1-3.1-3.7 2.1z"/>
<path fill="#efff10" d="M200.8 425.3l3.7-2.1-2.2-3.3-3.6 1.9z"/>
<g fill="#dfff20"><path d="M197.1 427.2l3.7-1.9-2.1-3.5-3.7 1.6z"/><path d="M193.5 428.8l3.6-1.6-2.1-3.8-3.7 1.4z"/></g>
<g fill="#cfff30"><path d="M189.8 430l3.7-1.2-2.2-4-3.6 1.1z"/><path d="M186.2 430.8l3.6-.8-2.1-4.1-3.7 .7z"/><path d="M182.5 431.2l3.7-.4-2.2-4.2-3.6 .4z"/><path d="M178.8 431.1l3.7 .1-2.1-4.2-3.7 0z"/><path d="M175.2 430.6l3.6 .5-2.1-4.1-3.7-.4z"/></g>
<g fill="#dfff20"><path d="M171.5 429.7l3.7 .9-2.2-4-3.6-.8z"/><path d="M167.8 428.5l3.7 1.2-2.1-3.9-3.7-1.1z"/></g>
<path fill="#efff10" d="M164.2 427l3.6 1.5-2.1-3.8-3.7-1.3z"/>
<path fill="#ff0" d="M160.5 425.2l3.7 1.8-2.2-3.6-3.6-1.6z"/>
<path fill="#ffef00" d="M156.9 423.2l3.6 2-2.1-3.4-3.7-1.7z"/>
<path fill="#ffdf00" d="M153.2 421.1l3.7 2.1-2.2-3.1-3.7-1.9z"/>
<path fill="#ffcf00" d="M149.5 418.9l3.7 2.2-2.2-2.9-3.6-2z"/>
<path fill="#ffaf00" class="t" d="M145.9 416.6l3.6 2.3-2.1-2.7-3.7-2.1z"/>
<path fill="#ff9f00" class="t" d="M142.2 414.3l3.7 2.3-2.2-2.5-3.6-2.1z"/>
<path fill="#ff8f00" class="t" d="M138.6 412l3.6 2.3-2.1-2.3-3.7-2.2z"/>
<path fill="#ff8000" class="t" d="M134.9 409.7l3.7 2.3-2.2-2.2-3.7-2.2z"/>
<path fill="#ff6000" class="t" d="M131.2 407.3l3.7 2.4-2.2-2.1-3.6-2.2z"/>
<path fill="#ff5000" class="t" d="M127.6 405l3.6 2.3-2.1-1.9-3.7-2.2z"/>
<path fill="#ff4000" class="t" d="M123.9 402.7l3.7 2.3-2.2-1.8-3.6-2.2z"/>
<path fill="#ff3000" class="t" d="M120.2 400.4l3.7 2.3-2.1-1.7-3.7-2.2z"/>
<path fill="#ff2000" class="t" d="M116.6 398.1l3.6 2.3-2.1-1.6-3.7-2.2z"/>
<path fill="#f00" class="t" d="M112.9 395.9l3.7 2.2-2.2-1.5-3.6-2.1z"/>
<path fill="#ef0000" class="t" d="M109.2 393.7l3.7 2.2-2.1-1.4-3.7-2.2z"/>
<path fill="#ff1000" d="M254.2 391.1l3.7-2.6-2.1-1.3-3.7 2.5z"/>
<path fill="#ff2000" d="M250.6 393.7l3.6-2.6-2.1-1.4-3.7 2.6z"/>
<path fill="#ff3000" d="M246.9 396.4l3.7-2.7-2.2-1.4-3.6 2.6z"/>
<path fill="#ff5000" d="M243.2 399.1l3.7-2.7-2.1-1.5-3.7 2.6z"/>
<path fill="#ff6000" d="M239.6 401.8l3.6-2.7-2.1-1.6-3.7 2.6z"/>
<path fill="#ff7000" d="M235.9 404.6l3.7-2.8-2.2-1.7-3.6 2.7z"/>
<path fill="#ff8000" d="M232.3 407.4l3.6-2.8-2.1-1.8-3.7 2.6z"/>
<path fill="#ff9f00" d="M228.6 410.2l3.7-2.8-2.2-2-3.7 2.7z"/>
<path fill="#ffaf00" d="M224.9 413l3.7-2.8-2.2-2.1-3.6 2.7z"/>
<path fill="#ffbf00" d="M221.3 415.8l3.6-2.8-2.1-2.2-3.7 2.6z"/>
<path fill="#ffdf00" d="M217.6 418.6l3.7-2.8-2.2-2.4-3.6 2.6z"/>
<path fill="#ffef00" d="M214 421.4l3.6-2.8-2.1-2.6-3.7 2.5z"/>
<path fill="#ff0" d="M210.3 424l3.7-2.6-2.2-2.9-3.7 2.4z"/>
<path fill="#efff10" d="M206.6 426.6l3.7-2.6-2.2-3.1-3.6 2.3z"/>
<path fill="#cfff30" d="M203 428.9l3.6-2.3-2.1-3.4-3.7 2.1z"/>
<g fill="#bfff40"><path d="M199.3 431l3.7-2.1-2.2-3.6-3.7 1.9z"/><path d="M195.6 432.8l3.7-1.8-2.2-3.8-3.6 1.6z"/></g>
<g fill="#afff50"><path d="M192 434.2l3.6-1.4-2.1-4-3.7 1.2z"/><path d="M188.3 435.2l3.7-1-2.2-4.2-3.6 .8z"/><path d="M184.6 435.6l3.7-.4-2.1-4.4-3.7 .4z"/><path d="M181 435.5l3.6 .1-2.1-4.4-3.7-.1z"/><path d="M177.3 434.9l3.7 .6-2.2-4.4-3.6-.5z"/></g>
<g fill="#bfff40"><path d="M173.7 433.8l3.6 1.1-2.1-4.3-3.7-.9z"/><path d="M170 432.3l3.7 1.5-2.2-4.1-3.7-1.2z"/></g>
<path fill="#cfff30" d="M166.3 430.5l3.7 1.8-2.2-3.8-3.6-1.5z"/>
<path fill="#efff10" d="M162.7 428.5l3.6 2-2.1-3.5-3.7-1.8z"/>
<path fill="#ff0" d="M159 426.3l3.7 2.2-2.2-3.3-3.6-2z"/>
<path fill="#ffef00" d="M155.4 424l3.6 2.3-2.1-3.1-3.7-2.1z"/>
<path fill="#ffdf00" class="t" d="M151.7 421.5l3.7 2.5-2.2-2.9-3.7-2.2z"/>
<path fill="#ffbf00" class="t" d="M148 419.1l3.7 2.4-2.2-2.6-3.6-2.3z"/>
<path fill="#ffaf00" class="t" d="M144.4 416.6l3.6 2.5-2.1-2.5-3.7-2.3z"/>
<path fill="#ff9f00" class="t" d="M140.7 414.1l3.7 2.5-2.2-2.3-3.6-2.3z"/>
<path fill="#ff8000" class="t" d="M137 411.6l3.7 2.5-2.1-2.1-3.7-2.3z"/>
<path fill="#ff7000" class="t" d="M133.4 409.1l3.6 2.5-2.1-1.9-3.7-2.4z"/>
<path fill="#ff6000" class="t" d="M129.7 406.7l3.7 2.4-2.2-1.8-3.6-2.3z"/>
<path fill="#ff5000" class="t" d="M126 404.3l3.7 2.4-2.1-1.7-3.7-2.3z"/>
<path fill="#ff3000" class="t" d="M122.4 401.9l3.6 2.4-2.1-1.6-3.7-2.3z"/>
<path fill="#ff2000" class="t" d="M118.7 399.6l3.7 2.3-2.2-1.5-3.6-2.3z"/>
<path fill="#ff1000" class="t" d="M115.1 397.3l3.6 2.3-2.1-1.5-3.7-2.2z"/>
<path fill="#f00" class="t" d="M111.4 395l3.7 2.3-2.2-1.4-3.7-2.2z"/>
<path fill="#ff1000" d="M256.4 392.3l3.6-2.6-2.1-1.2-3.7 2.6z"/>
<path fill="#ff3000" d="M252.7 395l3.7-2.7-2.2-1.2-3.6 2.6z"/>
<path fill="#ff4000" d="M249.1 397.8l3.6-2.8-2.1-1.3-3.7 2.7z"/>
<path fill="#ff5000" d="M245.4 400.6l3.7-2.8-2.2-1.4-3.7 2.7z"/>
<path fill="#ff7000" d="M241.7 403.4l3.7-2.8-2.2-1.5-3.6 2.7z"/>
<path fill="#ff8000" d="M238.1 406.3l3.6-2.9-2.1-1.6-3.7 2.8z"/>
<path fill="#ff8f00" d="M234.4 409.2l3.7-2.9-2.2-1.7-3.6 2.8z"/>
<path fill="#ffaf00" d="M230.8 412.2l3.6-3-2.1-1.8-3.7 2.8z"/>
<path fill="#ffbf00" d="M227.1 415.2l3.7-3-2.2-2-3.7 2.8z"/>
<path fill="#ffcf00" d="M223.4 418.2l3.7-3-2.2-2.2-3.6 2.8z"/>
<path fill="#ffef00" d="M219.8 421.1l3.6-2.9-2.1-2.4-3.7 2.8z"/>
<path fill="#ff0" d="M216.1 424.1l3.7-3-2.2-2.5-3.6 2.8z"/>
<path fill="#dfff20" d="M212.4 427l3.7-2.9-2.1-2.7-3.7 2.6z"/>
<path fill="#cfff30" d="M208.8 429.9l3.6-2.9-2.1-3-3.7 2.6z"/>
<path fill="#bfff40" d="M205.1 432.5l3.7-2.6-2.2-3.3-3.6 2.3z"/>
<path fill="#afff50" d="M201.4 435l3.7-2.5-2.1-3.6-3.7 2.1z"/>
<path fill="#9fff60" d="M197.8 437.1l3.6-2.1-2.1-4-3.7 1.8z"/>
<g fill="#8fff70"><path d="M194.1 438.7l3.7-1.6-2.2-4.3-3.6 1.4z"/><path d="M190.5 439.8l3.6-1.1-2.1-4.5-3.7 1z"/></g>
<path fill="#80ff80" d="M186.8 440.3l3.7-.5-2.2-4.6-3.7 .4z"/>
<g fill="#8fff70"><path d="M183.1 440.1l3.7 .2-2.2-4.7-3.6-.1z"/><path d="M179.5 439.4l3.6 .7-2.1-4.6-3.7-.6z"/></g>
<path fill="#9fff60" d="M175.8 438l3.7 1.4-2.2-4.5-3.6-1.1z"/>
<path fill="#afff50" d="M172.1 436.3l3.7 1.7-2.1-4.2-3.7-1.5z"/>
<path fill="#bfff40" d="M168.5 434.2l3.6 2.1-2.1-4-3.7-1.8z"/>
<path fill="#cfff30" d="M164.8 431.8l3.7 2.4-2.2-3.7-3.6-2z"/>
<path fill="#dfff20" d="M161.2 429.3l3.6 2.5-2.1-3.3-3.7-2.2z"/>
<path fill="#ff0" class="t" d="M157.5 426.7l3.7 2.6-2.2-3-3.6-2.3z"/>
<path fill="#ffef00" class="t" d="M153.8 424.1l3.7 2.6-2.1-2.7-3.7-2.5z"/>
<path fill="#ffcf00" class="t" d="M150.2 421.4l3.6 2.7-2.1-2.6-3.7-2.4z"/>
<path fill="#ffbf00" class="t" d="M146.5 418.7l3.7 2.7-2.2-2.3-3.6-2.5z"/>
<path fill="#ffaf00" class="t" d="M142.8 416.1l3.7 2.6-2.1-2.1-3.7-2.5z"/>
<path fill="#ff8f00" class="t" d="M139.2 413.4l3.6 2.7-2.1-2-3.7-2.5z"/>
<path fill="#ff8000" class="t" d="M135.5 410.9l3.7 2.5-2.2-1.8-3.6-2.5z"/>
<path fill="#ff7000" class="t" d="M131.9 408.3l3.6 2.6-2.1-1.8-3.7-2.4z"/>
<path fill="#ff5000" class="t" d="M128.2 405.8l3.7 2.5-2.2-1.6-3.7-2.4z"/>
<path fill="#ff4000" class="t" d="M124.5 403.3l3.7 2.5-2.2-1.5-3.6-2.4z"/>
<path fill="#ff3000" class="t" d="M120.9 400.9l3.6 2.4-2.1-1.4-3.7-2.3z"/>
<path fill="#ff1000" class="t" d="M117.2 398.5l3.7 2.4-2.2-1.3-3.6-2.3z"/>
<path fill="#f00" class="t" d="M113.5 396.2l3.7 2.3-2.1-1.2-3.7-2.3z"/>
<path fill="#ff2000" d="M258.5 393.5l3.7-2.7-2.2-1.1-3.6 2.6z"/>
<path fill="#ff3000" d="M254.9 396.2l3.6-2.7-2.1-1.2-3.7 2.7z"/>
<path fill="#ff4000" d="M251.2 399.1l3.7-2.9-2.2-1.2-3.6 2.8z"/>
<path fill="#ff6000" d="M247.6 402l3.6-2.9-2.1-1.3-3.7 2.8z"/>
<path fill="#ff7000" d="M243.9 404.9l3.7-2.9-2.2-1.4-3.7 2.8z"/>
<path fill="#ff8f00" d="M240.2 407.9l3.7-3-2.2-1.5-3.6 2.9z"/>
<path fill="#ff9f00" d="M236.6 410.9l3.6-3-2.1-1.6-3.7 2.9z"/>
<path fill="#ffaf00" d="M232.9 414l3.7-3.1-2.2-1.7-3.6 3z"/>
<path fill="#ffcf00" d="M229.2 417.1l3.7-3.1-2.1-1.8-3.7 3z"/>
<path fill="#ffdf00" d="M225.6 420.3l3.6-3.2-2.1-1.9-3.7 3z"/>
<path fill="#ff0" d="M221.9 423.5l3.7-3.2-2.2-2.1-3.6 2.9z"/>
<path fill="#efff10" d="M218.2 426.8l3.7-3.3-2.1-2.4-3.7 3z"/>
<path fill="#cfff30" d="M214.6 430l3.6-3.2-2.1-2.7-3.7 2.9z"/>
<path fill="#bfff40" d="M210.9 433.1l3.7-3.1-2.2-3-3.6 2.9z"/>
<path fill="#9fff60" d="M207.3 436.2l3.6-3.1-2.1-3.2-3.7 2.6z"/>
<path fill="#8fff70" d="M203.6 439l3.7-2.8-2.2-3.7-3.7 2.5z"/>
<path fill="#80ff80" d="M199.9 441.4l3.7-2.4-2.2-4-3.6 2.1z"/>
<path fill="#70ff8f" d="M196.3 443.4l3.6-2-2.1-4.3-3.7 1.6z"/>
<g fill="#60ff9f"><path d="M192.6 444.8l3.7-1.4-2.2-4.7-3.6 1.1z"/><path d="M189 445.3l3.6-.5-2.1-5-3.7 .5z"/><path d="M185.3 445.1l3.7 .2-2.2-5-3.7-.2z"/></g>
<path fill="#70ff8f" d="M181.6 444.1l3.7 1-2.2-5-3.6-.7z"/>
<path fill="#80ff80" d="M178 442.4l3.6 1.7-2.1-4.7-3.7-1.4z"/>
<path fill="#8fff70" d="M174.3 440.3l3.7 2.1-2.2-4.4-3.7-1.7z"/>
<path fill="#9fff60" d="M170.6 437.8l3.7 2.5-2.2-4-3.6-2.1z"/>
<path fill="#bfff40" d="M167 435.1l3.6 2.7-2.1-3.6-3.7-2.4z"/>
<path fill="#cfff30" class="t" d="M163.3 432.3l3.7 2.8-2.2-3.3-3.6-2.5z"/>
<path fill="#efff10" class="t" d="M159.6 429.4l3.7 2.9-2.1-3-3.7-2.6z"/>
<path fill="#ff0" class="t" d="M156 426.5l3.6 2.9-2.1-2.7-3.7-2.6z"/>
<path fill="#ffdf00" class="t" d="M152.3 423.6l3.7 2.9-2.2-2.4-3.6-2.7z"/>
<path fill="#ffcf00" class="t" d="M148.7 420.7l3.6 2.9-2.1-2.2-3.7-2.7z"/>
<path fill="#ffaf00" class="t" d="M145 417.9l3.7 2.8-2.2-2-3.7-2.6z"/>
<path fill="#ff9f00" class="t" d="M141.3 415.1l3.7 2.8-2.2-1.8-3.6-2.7z"/>
<path fill="#ff8f00" class="t" d="M137.7 412.4l3.6 2.7-2.1-1.7-3.7-2.5z"/>
<path fill="#ff7000" class="t" d="M134 409.8l3.7 2.6-2.2-1.5-3.6-2.6z"/>
<path fill="#ff6000" class="t" d="M130.4 407.2l3.6 2.6-2.1-1.5-3.7-2.5z"/>
<path fill="#ff4000" class="t" d="M126.7 404.6l3.7 2.6-2.2-1.4-3.7-2.5z"/>
<path fill="#ff3000" class="t" d="M123 402.1l3.7 2.5-2.2-1.3-3.6-2.4z"/>
<path fill="#ff2000" class="t" d="M119.4 399.7l3.6 2.4-2.1-1.2-3.7-2.4z"/>
<path fill="#ff1000" class="t" d="M115.7 397.3l3.7 2.4-2.2-1.2-3.7-2.3z"/>
<path fill="#ff2000" d="M260.7 394.5l3.7-2.8-2.2-.9-3.7 2.7z"/>
<path fill="#ff3000" d="M257 397.3l3.7-2.8-2.2-1-3.6 2.7z"/>
<path fill="#ff5000" d="M253.4 400.2l3.6-2.9-2.1-1.1-3.7 2.9z"/>
<path fill="#ff6000" d="M249.7 403.2l3.7-3-2.2-1.1-3.6 2.9z"/>
<path fill="#ff8000" d="M246 406.2l3.7-3-2.1-1.2-3.7 2.9z"/>
<path fill="#ff8f00" d="M242.4 409.3l3.6-3.1-2.1-1.3-3.7 3z"/>
<path fill="#ffaf00" d="M238.7 412.4l3.7-3.1-2.2-1.4-3.6 3z"/>
<path fill="#ffbf00" d="M235 415.7l3.7-3.3-2.1-1.5-3.7 3.1z"/>
<path fill="#ffdf00" d="M231.4 419l3.6-3.3-2.1-1.7-3.7 3.1z"/>
<path fill="#ffef00" d="M227.7 422.3l3.7-3.3-2.2-1.9-3.6 3.2z"/>
<path fill="#efff10" d="M224.1 425.8l3.6-3.5-2.1-2-3.7 3.2z"/>
<path fill="#cfff30" d="M220.4 429.2l3.7-3.4-2.2-2.3-3.7 3.3z"/>
<path fill="#bfff40" d="M216.7 432.8l3.7-3.6-2.2-2.4-3.6 3.2z"/>
<path fill="#9fff60" d="M213.1 436.3l3.6-3.5-2.1-2.8-3.7 3.1z"/>
<path fill="#8fff70" d="M209.4 439.7l3.7-3.4-2.2-3.2-3.6 3.1z"/>
<path fill="#70ff8f" d="M205.8 443l3.6-3.3-2.1-3.5-3.7 2.8z"/>
<path fill="#60ff9f" d="M202.1 446l3.7-3-2.2-4-3.7 2.4z"/>
<g fill="#40ffbf"><path d="M198.4 448.4l3.7-2.4-2.2-4.6-3.6 2z"/><path d="M194.8 450.1l3.6-1.7-2.1-5-3.7 1.4z"/></g>
<path fill="#30ffcf" d="M191.1 450.8l3.7-.7-2.2-5.3-3.6 .5z"/>
<g fill="#40ffbf"><path d="M187.4 450.4l3.7 .4-2.1-5.5-3.7-.2z"/><path d="M183.8 449l3.6 1.4-2.1-5.3-3.7-1z"/></g>
<path fill="#60ff9f" d="M180.1 446.9l3.7 2.1-2.2-4.9-3.6-1.7z"/>
<path fill="#70ff8f" d="M176.4 444.3l3.7 2.6-2.1-4.5-3.7-2.1z"/>
<path fill="#8fff70" d="M172.8 441.3l3.6 3-2.1-4-3.7-2.5z"/>
<path fill="#9fff60" d="M169.1 438.2l3.7 3.1-2.2-3.5-3.6-2.7z"/>
<path fill="#bfff40" class="t" d="M165.5 435l3.6 3.2-2.1-3.1-3.7-2.8z"/>
<path fill="#cfff30" class="t" d="M161.8 431.8l3.7 3.2-2.2-2.7-3.7-2.9z"/>
<path fill="#efff10" class="t" d="M158.1 428.7l3.7 3.1-2.2-2.4-3.6-2.9z"/>
<path fill="#ffef00" class="t" d="M154.5 425.6l3.6 3.1-2.1-2.2-3.7-2.9z"/>
<path fill="#ffdf00" class="t" d="M150.8 422.5l3.7 3.1-2.2-2-3.6-2.9z"/>
<path fill="#ffbf00" class="t" d="M147.2 419.6l3.6 2.9-2.1-1.8-3.7-2.8z"/>
<path fill="#ffaf00" class="t" d="M143.5 416.7l3.7 2.9-2.2-1.7-3.7-2.8z"/>
<path fill="#ff8f00" class="t" d="M139.8 413.8l3.7 2.9-2.2-1.6-3.6-2.7z"/>
<path fill="#ff8000" class="t" d="M136.2 411.1l3.6 2.7-2.1-1.4-3.7-2.6z"/>
<path fill="#ff6000" class="t" d="M132.5 408.4l3.7 2.7-2.2-1.3-3.6-2.6z"/>
<path fill="#ff5000" class="t" d="M128.8 405.8l3.7 2.6-2.1-1.2-3.7-2.6z"/>
<path fill="#ff3000" class="t" d="M125.2 403.2l3.6 2.6-2.1-1.2-3.7-2.5z"/>
<path fill="#ff2000" class="t" d="M121.5 400.7l3.7 2.5-2.2-1.1-3.6-2.4z"/>
<path fill="#ff1000" class="t" d="M117.8 398.2l3.7 2.5-2.1-1-3.7-2.4z"/>
<path fill="#ff2000" d="M262.8 395.4l3.7-2.8-2.1-.9-3.7 2.8z"/>
<path fill="#ff4000" d="M259.2 398.3l3.6-2.9-2.1-.9-3.7 2.8z"/>
<path fill="#ff5000" d="M255.5 401.2l3.7-2.9-2.2-1-3.6 2.9z"/>
<path fill="#ff7000" d="M251.8 404.3l3.7-3.1-2.1-1-3.7 3z"/>
<path fill="#ff8000" d="M248.2 407.3l3.6-3-2.1-1.1-3.7 3z"/>
<path fill="#ff9f00" d="M244.5 410.5l3.7-3.2-2.2-1.1-3.6 3.1z"/>
<path fill="#ffaf00" d="M240.9 413.8l3.6-3.3-2.1-1.2-3.7 3.1z"/>
<path fill="#ffcf00" d="M237.2 417.1l3.7-3.3-2.2-1.4-3.7 3.3z"/>
<path fill="#ffdf00" d="M233.5 420.6l3.7-3.5-2.2-1.4-3.6 3.3z"/>
<path fill="#ff0" d="M229.9 424.1l3.6-3.5-2.1-1.6-3.7 3.3z"/>
<path fill="#dfff20" d="M226.2 427.7l3.7-3.6-2.2-1.8-3.6 3.5z"/>
<path fill="#bfff40" d="M222.5 431.5l3.7-3.8-2.1-1.9-3.7 3.4z"/>
<path fill="#afff50" d="M218.9 435.3l3.6-3.8-2.1-2.3-3.7 3.6z"/>
<path fill="#8fff70" d="M215.2 439.2l3.7-3.9-2.2-2.5-3.6 3.5z"/>
<path fill="#70ff8f" d="M211.6 443.1l3.6-3.9-2.1-2.9-3.7 3.4z"/>
<path fill="#50ffaf" d="M207.9 446.9l3.7-3.8-2.2-3.4-3.6 3.3z"/>
<path fill="#30ffcf" d="M204.2 450.5l3.7-3.6-2.1-3.9-3.7 3z"/>
<path fill="#20ffdf" d="M200.6 453.6l3.6-3.1-2.1-4.5-3.7 2.4z"/>
<g fill="#10ffef"><path d="M196.9 455.8l3.7-2.2-2.2-5.2-3.6 1.7z"/><path d="M193.2 456.8l3.7-1-2.1-5.7-3.7 .7z"/><path d="M189.6 456.2l3.6 .6-2.1-6-3.7-.4z"/></g>
<path fill="#20ffdf" d="M185.9 454.3l3.7 1.9-2.2-5.8-3.6-1.4z"/>
<path fill="#30ffcf" d="M182.3 451.5l3.6 2.8-2.1-5.3-3.7-2.1z"/>
<path fill="#50ffaf" d="M178.6 448.2l3.7 3.3-2.2-4.6-3.7-2.6z"/>
<path fill="#70ff8f" d="M174.9 444.7l3.7 3.5-2.2-3.9-3.6-3z"/>
<path fill="#8fff70" class="t" d="M171.3 441.1l3.6 3.6-2.1-3.4-3.7-3.1z"/>
<path fill="#afff50" class="t" d="M167.6 437.6l3.7 3.5-2.2-2.9-3.6-3.2z"/>
<path fill="#bfff40" class="t" d="M164 434.1l3.6 3.5-2.1-2.6-3.7-3.2z"/>
<path fill="#dfff20" class="t" d="M160.3 430.7l3.7 3.4-2.2-2.3-3.7-3.1z"/>
<path fill="#ff0" class="t" d="M156.6 427.3l3.7 3.4-2.2-2-3.6-3.1z"/>
<path fill="#ffdf00" class="t" d="M153 424.1l3.6 3.2-2.1-1.7-3.7-3.1z"/>
<path fill="#ffcf00" class="t" d="M149.3 421l3.7 3.1-2.2-1.6-3.6-2.9z"/>
<path fill="#ffaf00" class="t" d="M145.6 418l3.7 3-2.1-1.4-3.7-2.9z"/>
<path fill="#ff9f00" class="t" d="M142 415.1l3.6 2.9-2.1-1.3-3.7-2.9z"/>
<path fill="#ff8000" class="t" d="M138.3 412.2l3.7 2.9-2.2-1.3-3.6-2.7z"/>
<path fill="#ff7000" class="t" d="M134.6 409.5l3.7 2.7-2.1-1.1-3.7-2.7z"/>
<path fill="#ff5000" class="t" d="M131 406.8l3.6 2.7-2.1-1.1-3.7-2.6z"/>
<path fill="#ff4000" class="t" d="M127.3 404.1l3.7 2.7-2.2-1-3.6-2.6z"/>
<path fill="#ff2000" class="t" d="M123.7 401.6l3.6 2.5-2.1-.9-3.7-2.5z"/>
<path fill="#ff1000" class="t" d="M120 399.1l3.7 2.5-2.2-.9-3.7-2.5z"/>
<path fill="#ff3000" d="M265 396.2l3.7-2.9-2.2-.7-3.7 2.8z"/>
<path fill="#ff4000" d="M261.3 399.1l3.7-2.9-2.2-.8-3.6 2.9z"/>
<path fill="#ff6000" d="M257.7 402.1l3.6-3-2.1-.8-3.7 2.9z"/>
<path fill="#ff7000" d="M254 405.2l3.7-3.1-2.2-.9-3.7 3.1z"/>
<path fill="#ff8000" d="M250.3 408.3l3.7-3.1-2.2-.9-3.6 3z"/>
<path fill="#ff9f00" d="M246.7 411.6l3.6-3.3-2.1-1-3.7 3.2z"/>
<path fill="#ffbf00" d="M243 414.9l3.7-3.3-2.2-1.1-3.6 3.3z"/>
<path fill="#ffcf00" d="M239.4 418.3l3.6-3.4-2.1-1.1-3.7 3.3z"/>
<path fill="#ffef00" d="M235.7 421.9l3.7-3.6-2.2-1.2-3.7 3.5z"/>
<path fill="#efff10" d="M232 425.6l3.7-3.7-2.2-1.3-3.6 3.5z"/>
<path fill="#dfff20" d="M228.4 429.4l3.6-3.8-2.1-1.5-3.7 3.6z"/>
<path fill="#bfff40" d="M224.7 433.4l3.7-4-2.2-1.7-3.7 3.8z"/>
<path fill="#9fff60" d="M221 437.5l3.7-4.1-2.2-1.9-3.6 3.8z"/>
<path fill="#80ff80" d="M217.4 441.8l3.6-4.3-2.1-2.2-3.7 3.9z"/>
<path fill="#60ff9f" d="M213.7 446.2l3.7-4.4-2.2-2.6-3.6 3.9z"/>
<path fill="#30ffcf" d="M210 450.7l3.7-4.5-2.1-3.1-3.7 3.8z"/>
<path fill="#10ffef" d="M206.4 455.1l3.6-4.4-2.1-3.8-3.7 3.6z"/>
<path fill="#00efff" d="M202.7 459.1l3.7-4-2.2-4.6-3.6 3.1z"/>
<path fill="#00dfff" d="M199.1 462.2l3.6-3.1-2.1-5.5-3.7 2.2z"/>
<path fill="#00cfff" d="M195.4 463.5l3.7-1.3-2.2-6.4-3.7 1z"/>
<path fill="#00dfff" d="M191.7 462.6l3.7 .9-2.2-6.7-3.6-.6z"/>
<path fill="#00efff" d="M188.1 459.8l3.6 2.8-2.1-6.4-3.7-1.9z"/>
<path fill="#10ffef" d="M184.4 456.1l3.7 3.7-2.2-5.5-3.6-2.8z"/>
<path fill="#30ffcf" d="M180.8 452l3.6 4.1-2.1-4.6-3.7-3.3z"/>
<path fill="#60ff9f" class="t" d="M177.1 447.8l3.7 4.2-2.2-3.8-3.7-3.5z"/>
<path fill="#80ff80" class="t" d="M173.4 443.7l3.7 4.1-2.2-3.1-3.6-3.6z"/>
<path fill="#9fff60" class="t" d="M169.8 439.8l3.6 3.9-2.1-2.6-3.7-3.5z"/>
<path fill="#bfff40" class="t" d="M166.1 436l3.7 3.8-2.2-2.2-3.6-3.5z"/>
<path fill="#dfff20" class="t" d="M162.4 432.3l3.7 3.7-2.1-1.9-3.7-3.4z"/>
<path fill="#efff10" class="t" d="M158.8 428.8l3.6 3.5-2.1-1.6-3.7-3.4z"/>
<path fill="#ffef00" class="t" d="M155.1 425.5l3.7 3.3-2.2-1.5-3.6-3.2z"/>
<path fill="#ffcf00" class="t" d="M151.4 422.2l3.7 3.3-2.1-1.4-3.7-3.1z"/>
<path fill="#ffbf00" class="t" d="M147.8 419.1l3.6 3.1-2.1-1.2-3.7-3z"/>
<path fill="#ff9f00" class="t" d="M144.1 416.1l3.7 3-2.2-1.1-3.6-2.9z"/>
<path fill="#ff8000" class="t" d="M140.5 413.2l3.6 2.9-2.1-1-3.7-2.9z"/>
<path fill="#ff7000" class="t" d="M136.8 410.4l3.7 2.8-2.2-1-3.7-2.7z"/>
<path fill="#ff6000" class="t" d="M133.1 407.6l3.7 2.8-2.2-.9-3.6-2.7z"/>
<path fill="#ff4000" class="t" d="M129.5 404.9l3.6 2.7-2.1-.8-3.7-2.7z"/>
<path fill="#ff3000" class="t" d="M125.8 402.3l3.7 2.6-2.2-.8-3.6-2.5z"/>
<path fill="#ff1000" class="t" d="M122.2 399.8l3.6 2.5-2.1-.7-3.7-2.5z"/>
<path fill="#ff3000" d="M267.1 396.8l3.7-2.9-2.1-.6-3.7 2.9z"/>
<path fill="#ff4000" d="M263.5 399.8l3.6-3-2.1-.6-3.7 2.9z"/>
<path fill="#ff6000" d="M259.8 402.8l3.7-3-2.2-.7-3.6 3z"/>
<path fill="#ff7000" d="M256.2 405.9l3.6-3.1-2.1-.7-3.7 3.1z"/>
<path fill="#ff8f00" d="M252.5 409.1l3.7-3.2-2.2-.7-3.7 3.1z"/>
<path fill="#ff9f00" d="M248.8 412.4l3.7-3.3-2.2-.8-3.6 3.3z"/>
<path fill="#ffbf00" d="M245.2 415.8l3.6-3.4-2.1-.8-3.7 3.3z"/>
<path fill="#ffdf00" d="M241.5 419.3l3.7-3.5-2.2-.9-3.6 3.4z"/>
<path fill="#ffef00" d="M237.8 423l3.7-3.7-2.1-1-3.7 3.6z"/>
<path fill="#efff10" d="M234.2 426.8l3.6-3.8-2.1-1.1-3.7 3.7z"/>
<path fill="#cfff30" d="M230.5 430.7l3.7-3.9-2.2-1.2-3.6 3.8z"/>
<path fill="#afff50" d="M226.8 434.9l3.7-4.2-2.1-1.3-3.7 4z"/>
<path fill="#8fff70" d="M223.2 439.3l3.6-4.4-2.1-1.5-3.7 4.1z"/>
<path fill="#70ff8f" d="M219.5 443.9l3.7-4.6-2.2-1.8-3.6 4.3z"/>
<path fill="#40ffbf" d="M215.9 448.7l3.6-4.8-2.1-2.1-3.7 4.4z"/>
<path fill="#20ffdf" d="M212.2 453.9l3.7-5.2-2.2-2.5-3.7 4.5z"/>
<path fill="#00efff" d="M208.5 459.3l3.7-5.4-2.2-3.2-3.6 4.4z"/>
<path fill="#00cfff" d="M204.9 464.7l3.6-5.4-2.1-4.2-3.7 4z"/>
<g fill="#009fff"><path d="M201.2 469.3l3.7-4.6-2.2-5.6-3.6 3.1z"/><path d="M197.5 471.5l3.7-2.2-2.1-7.1-3.7 1.3z"/><path d="M193.9 469.7l3.6 1.8-2.1-8-3.7-.9z"/></g>
<path fill="#00cfff" d="M190.2 465.3l3.7 4.4-2.2-7.1-3.6-2.8z"/>
<path fill="#00efff" d="M186.6 460.2l3.6 5.1-2.1-5.5-3.7-3.7z"/>
<path fill="#20ffdf" class="t" d="M182.9 455.2l3.7 5-2.2-4.1-3.6-4.1z"/>
<path fill="#40ffbf" class="t" d="M179.2 450.3l3.7 4.9-2.1-3.2-3.7-4.2z"/>
<path fill="#70ff8f" class="t" d="M175.6 445.8l3.6 4.5-2.1-2.5-3.7-4.1z"/>
<path fill="#8fff70" class="t" d="M171.9 441.5l3.7 4.3-2.2-2.1-3.6-3.9z"/>
<path fill="#afff50" class="t" d="M168.2 437.5l3.7 4-2.1-1.7-3.7-3.8z"/>
<path fill="#cfff30" class="t" d="M164.6 433.7l3.6 3.8-2.1-1.5-3.7-3.7z"/>
<path fill="#efff10" class="t" d="M160.9 430l3.7 3.7-2.2-1.4-3.6-3.5z"/>
<path fill="#ffef00" class="t" d="M157.3 426.5l3.6 3.5-2.1-1.2-3.7-3.3z"/>
<path fill="#ffdf00" class="t" d="M153.6 423.2l3.7 3.3-2.2-1-3.7-3.3z"/>
<path fill="#ffbf00" class="t" d="M149.9 420l3.7 3.2-2.2-1-3.6-3.1z"/>
<path fill="#ff9f00" class="t" d="M146.3 416.9l3.6 3.1-2.1-.9-3.7-3z"/>
<path fill="#ff8f00" class="t" d="M142.6 414l3.7 2.9-2.2-.8-3.6-2.9z"/>
<path fill="#ff7000" class="t" d="M139 411.1l3.6 2.9-2.1-.8-3.7-2.8z"/>
<path fill="#ff6000" class="t" d="M135.3 408.3l3.7 2.8-2.2-.7-3.7-2.8z"/>
<path fill="#ff4000" class="t" d="M131.6 405.6l3.7 2.7-2.2-.7-3.6-2.7z"/>
<path fill="#ff3000" class="t" d="M128 403l3.6 2.6-2.1-.7-3.7-2.6z"/>
<path fill="#ff2000" class="t" d="M124.3 400.4l3.7 2.6-2.2-.7-3.6-2.5z"/>
<path fill="#ff3000" d="M269.3 397.3l3.7-2.9-2.2-.5-3.7 2.9z"/>
<path fill="#ff4000" d="M265.6 400.3l3.7-3-2.2-.5-3.6 3z"/>
<path fill="#ff6000" d="M262 403.3l3.6-3-2.1-.5-3.7 3z"/>
<path fill="#ff7000" d="M258.3 406.4l3.7-3.1-2.2-.5-3.6 3.1z"/>
<path fill="#ff8f00" d="M254.6 409.7l3.7-3.3-2.1-.5-3.7 3.2z"/>
<path fill="#ff9f00" d="M251 413l3.6-3.3-2.1-.6-3.7 3.3z"/>
<path fill="#ffbf00" d="M247.3 416.4l3.7-3.4-2.2-.6-3.6 3.4z"/>
<path fill="#ffdf00" d="M243.6 420l3.7-3.6-2.1-.6-3.7 3.5z"/>
<path fill="#ff0" d="M240 423.7l3.6-3.7-2.1-.7-3.7 3.7z"/>
<path fill="#efff10" d="M236.3 427.6l3.7-3.9-2.2-.7-3.6 3.8z"/>
<path fill="#cfff30" d="M232.7 431.7l3.6-4.1-2.1-.8-3.7 3.9z"/>
<path fill="#afff50" d="M229 435.9l3.7-4.2-2.2-1-3.7 4.2z"/>
<path fill="#8fff70" d="M225.3 440.5l3.7-4.6-2.2-1-3.6 4.4z"/>
<path fill="#60ff9f" d="M221.7 445.3l3.6-4.8-2.1-1.2-3.7 4.6z"/>
<path fill="#40ffbf" d="M218 450.5l3.7-5.2-2.2-1.4-3.6 4.8z"/>
<path fill="#10ffef" d="M214.4 456.2l3.6-5.7-2.1-1.8-3.7 5.2z"/>
<path fill="#00dfff" d="M210.7 462.4l3.7-6.2-2.2-2.3-3.7 5.4z"/>
<path fill="#009fff" d="M207 469.5l3.7-7.1-2.2-3.1-3.6 5.4z"/>
<path fill="#0070ff" d="M203.4 477l3.6-7.5-2.1-4.8-3.7 4.6z"/>
<path fill="#0050ff" d="M199.7 481.8l3.7-4.8-2.2-7.7-3.7 2.2z"/>
<path fill="#0070ff" d="M196 477.4l3.7 4.4-2.2-10.3-3.6-1.8z"/>
<path fill="#009fff" d="M192.4 470.1l3.6 7.3-2.1-7.7-3.7-4.4z"/>
<path fill="#00dfff" class="t" d="M188.7 463.4l3.7 6.7-2.2-4.8-3.6-5.1z"/>
<path fill="#10ffef" class="t" d="M185 457.5l3.7 5.9-2.1-3.2-3.7-5z"/>
<path fill="#40ffbf" class="t" d="M181.4 452.1l3.6 5.4-2.1-2.3-3.7-4.9z"/>
<path fill="#60ff9f" class="t" d="M177.7 447.2l3.7 4.9-2.2-1.8-3.6-4.5z"/>
<path fill="#8fff70" class="t" d="M174.1 442.7l3.6 4.5-2.1-1.4-3.7-4.3z"/>
<path fill="#afff50" class="t" d="M170.4 438.5l3.7 4.2-2.2-1.2-3.7-4z"/>
<path fill="#cfff30" class="t" d="M166.7 434.6l3.7 3.9-2.2-1-3.6-3.8z"/>
<path fill="#efff10" class="t" d="M163.1 430.9l3.6 3.7-2.1-.9-3.7-3.7z"/>
<path fill="#ff0" class="t" d="M159.4 427.3l3.7 3.6-2.2-.9-3.6-3.5z"/>
<path fill="#ffdf00" class="t" d="M155.8 423.9l3.6 3.4-2.1-.8-3.7-3.3z"/>
<path fill="#ffbf00" class="t" d="M152.1 420.7l3.7 3.2-2.2-.7-3.7-3.2z"/>
<path fill="#ff9f00" class="t" d="M148.4 417.6l3.7 3.1-2.2-.7-3.6-3.1z"/>
<path fill="#ff8f00" class="t" d="M144.8 414.5l3.6 3.1-2.1-.7-3.7-2.9z"/>
<path fill="#ff7000" class="t" d="M141.1 411.6l3.7 2.9-2.2-.5-3.6-2.9z"/>
<path fill="#ff6000" class="t" d="M137.4 408.8l3.7 2.8-2.1-.5-3.7-2.8z"/>
<path fill="#ff4000" class="t" d="M133.8 406.1l3.6 2.7-2.1-.5-3.7-2.7z"/>
<path fill="#ff3000" class="t" d="M130.1 403.5l3.7 2.6-2.2-.5-3.6-2.6z"/>
<path fill="#ff2000" class="t" d="M126.4 400.9l3.7 2.6-2.1-.5-3.7-2.6z"/>
<path fill="#ff3000" d="M271.4 397.6l3.7-2.9-2.1-.3-3.7 2.9z"/>
<path fill="#ff4000" d="M267.8 400.6l3.6-3-2.1-.3-3.7 3z"/>
<path fill="#ff6000" d="M264.1 403.7l3.7-3.1-2.2-.3-3.6 3z"/>
<path fill="#ff7000" d="M260.4 406.8l3.7-3.1-2.1-.4-3.7 3.1z"/>
<path fill="#ff8f00" d="M256.8 410l3.6-3.2-2.1-.4-3.7 3.3z"/>
<path fill="#ff9f00" d="M253.1 413.4l3.7-3.4-2.2-.3-3.6 3.3z"/>
<path fill="#ffbf00" d="M249.5 416.8l3.6-3.4-2.1-.4-3.7 3.4z"/>
<path fill="#ffdf00" d="M245.8 420.4l3.7-3.6-2.2-.4-3.7 3.6z"/>
<path fill="#ff0" d="M242.1 424.2l3.7-3.8-2.2-.4-3.6 3.7z"/>
<path fill="#efff10" d="M238.5 428.1l3.6-3.9-2.1-.5-3.7 3.9z"/>
<path fill="#cfff30" d="M234.8 432.2l3.7-4.1-2.2-.5-3.6 4.1z"/>
<path fill="#afff50" d="M231.2 436.5l3.6-4.3-2.1-.5-3.7 4.2z"/>
<path fill="#80ff80" d="M227.5 441.1l3.7-4.6-2.2-.6-3.7 4.6z"/>
<path fill="#60ff9f" d="M223.8 446l3.7-4.9-2.2-.6-3.6 4.8z"/>
<path fill="#30ffcf" d="M220.2 451.3l3.6-5.3-2.1-.7-3.7 5.2z"/>
<path fill="#10ffef" d="M216.5 457.2l3.7-5.9-2.2-.8-3.6 5.7z"/>
<path fill="#00cfff" d="M212.8 463.8l3.7-6.6-2.1-1-3.7 6.2z"/>
<path fill="#009fff" d="M209.2 471.7l3.6-7.9-2.1-1.4-3.7 7.1z"/>
<path fill="#0050ff" d="M205.5 481.9l3.7-10.2-2.2-2.2-3.6 7.5z"/>
<path fill="#00008f" d="M201.8 506.2l3.7-24.3-2.1-4.9-3.7 4.8z"/>
<path fill="#0050ff" d="M198.2 482.2l3.6 24-2.1-24.4-3.7-4.4z"/>
<path fill="#009fff" class="t" d="M194.5 472.3l3.7 9.9-2.2-4.8-3.6-7.3z"/>
<path fill="#00cfff" d="M190.9 464.8l3.6 7.5-2.1-2.2-3.7-6.7z"/>
<path fill="#10ffef" d="M187.2 458.5l3.7 6.3-2.2-1.4-3.7-5.9z"/>
<path fill="#30ffcf" d="M183.5 452.9l3.7 5.6-2.2-1-3.6-5.4z"/>
<path fill="#60ff9f" d="M179.9 447.9l3.6 5-2.1-.8-3.7-4.9z"/>
<path fill="#80ff80" d="M176.2 443.3l3.7 4.6-2.2-.7-3.6-4.5z"/>
<path fill="#afff50" d="M172.6 439.1l3.6 4.2-2.1-.6-3.7-4.2z"/>
<path fill="#cfff30" d="M168.9 435.1l3.7 4-2.2-.6-3.7-3.9z"/>
<path fill="#efff10" d="M165.2 431.3l3.7 3.8-2.2-.5-3.6-3.7z"/>
<path fill="#ff0" d="M161.6 427.7l3.6 3.6-2.1-.4-3.7-3.6z"/>
<path fill="#ffdf00" d="M157.9 424.3l3.7 3.4-2.2-.4-3.6-3.4z"/>
<path fill="#ffbf00" d="M154.2 421.1l3.7 3.2-2.1-.4-3.7-3.2z"/>
<path fill="#ff9f00" d="M150.6 417.9l3.6 3.2-2.1-.4-3.7-3.1z"/>
<path fill="#ff8f00" d="M146.9 414.9l3.7 3-2.2-.3-3.6-3.1z"/>
<path fill="#ff7000" d="M143.2 412l3.7 2.9-2.1-.4-3.7-2.9z"/>
<path fill="#ff6000" d="M139.6 409.2l3.6 2.8-2.1-.4-3.7-2.8z"/>
<path fill="#ff4000" class="t" d="M135.9 406.5l3.7 2.7-2.2-.4-3.6-2.7z"/>
<path fill="#ff3000" class="t" d="M132.3 403.8l3.6 2.7-2.1-.4-3.7-2.6z"/>
<path fill="#ff2000" class="t" d="M128.6 401.2l3.7 2.6-2.2-.3-3.7-2.6z"/>
<path fill="#ff3000" d="M273.6 397.8l3.6-2.9-2.1-.2-3.7 2.9z"/>
<path fill="#ff4000" d="M269.9 400.8l3.7-3-2.2-.2-3.6 3z"/>
<path fill="#ff6000" d="M266.3 403.9l3.6-3.1-2.1-.2-3.7 3.1z"/>
<path fill="#ff7000" d="M262.6 407l3.7-3.1-2.2-.2-3.7 3.1z"/>
<path fill="#ff8f00" d="M258.9 410.2l3.7-3.2-2.2-.2-3.6 3.2z"/>
<path fill="#ff9f00" d="M255.3 413.5l3.6-3.3-2.1-.2-3.7 3.4z"/>
<path fill="#ffbf00" d="M251.6 417l3.7-3.5-2.2-.1-3.6 3.4z"/>
<path fill="#ffdf00" d="M248 420.6l3.6-3.6-2.1-.2-3.7 3.6z"/>
<path fill="#ff0" d="M244.3 424.3l3.7-3.7-2.2-.2-3.7 3.8z"/>
<path fill="#efff10" d="M240.6 428.1l3.7-3.8-2.2-.1-3.6 3.9z"/>
<path fill="#cfff30" d="M237 432.2l3.6-4.1-2.1 0-3.7 4.1z"/>
<path fill="#afff50" d="M233.3 436.5l3.7-4.3-2.2 0-3.6 4.3z"/>
<path fill="#8fff70" d="M229.6 441l3.7-4.5-2.1 0-3.7 4.6z"/>
<path fill="#60ff9f" d="M226 445.8l3.6-4.8-2.1 .1-3.7 4.9z"/>
<path fill="#40ffbf" d="M222.3 451l3.7-5.2-2.2 .2-3.6 5.3z"/>
<path fill="#10ffef" d="M218.6 456.7l3.7-5.7-2.1 .3-3.7 5.9z"/>
<path fill="#00dfff" d="M215 463l3.6-6.3-2.1 .5-3.7 6.6z"/>
<path fill="#009fff" d="M211.3 470l3.7-7-2.2 .8-3.6 7.9z"/>
<path fill="#0070ff" class="t" d="M207.7 477.6l3.6-7.6-2.1 1.7-3.7 10.2z"/>
<path fill="#0050ff" class="t" d="M204 482.3l3.7-4.7-2.2 4.3-3.7 24.3z"/>
<path fill="#0070ff" d="M200.3 477.9l3.7 4.4-2.2 23.9-3.6-24z"/>
<path fill="#009fff" d="M196.7 470.6l3.6 7.3-2.1 4.3-3.7-9.9z"/>
<path fill="#00dfff" d="M193 464l3.7 6.6-2.2 1.7-3.6-7.5z"/>
<path fill="#10ffef" d="M189.4 458l3.6 6-2.1 .8-3.7-6.3z"/>
<path fill="#40ffbf" d="M185.7 452.7l3.7 5.3-2.2 .5-3.7-5.6z"/>
<path fill="#60ff9f" d="M182 447.8l3.7 4.9-2.2 .2-3.6-5z"/>
<path fill="#8fff70" d="M178.4 443.3l3.6 4.5-2.1 .1-3.7-4.6z"/>
<path fill="#afff50" d="M174.7 439.1l3.7 4.2-2.2 0-3.6-4.2z"/>
<path fill="#cfff30" d="M171 435.1l3.7 4-2.1 0-3.7-4z"/>
<path fill="#efff10" d="M167.4 431.4l3.6 3.7-2.1 0-3.7-3.8z"/>
<path fill="#ff0" d="M163.7 427.8l3.7 3.6-2.2-.1-3.6-3.6z"/>
<path fill="#ffdf00" d="M160 424.5l3.7 3.3-2.1-.1-3.7-3.4z"/>
<path fill="#ffbf00" d="M156.4 421.2l3.6 3.3-2.1-.2-3.7-3.2z"/>
<path fill="#ff9f00" d="M152.7 418.1l3.7 3.1-2.2-.1-3.6-3.2z"/>
<path fill="#ff8f00" d="M149.1 415.1l3.6 3-2.1-.2-3.7-3z"/>
<path fill="#ff7000" d="M145.4 412.2l3.7 2.9-2.2-.2-3.7-2.9z"/>
<path fill="#ff6000" d="M141.7 409.4l3.7 2.8-2.2-.2-3.6-2.8z"/>
<path fill="#ff4000" d="M138.1 406.7l3.6 2.7-2.1-.2-3.7-2.7z"/>
<path fill="#ff3000" d="M134.4 404l3.7 2.7-2.2-.2-3.6-2.7z"/>
<path fill="#ff2000" d="M130.8 401.4l3.6 2.6-2.1-.2-3.7-2.6z"/>
<path fill="#ff3000" d="M275.7 397.9l3.7-2.9-2.2-.1-3.6 2.9z"/>
<path fill="#ff4000" d="M272.1 400.8l3.6-2.9-2.1-.1-3.7 3z"/>
<path fill="#ff6000" d="M268.4 403.9l3.7-3.1-2.2 0-3.6 3.1z"/>
<path fill="#ff7000" d="M264.8 407l3.6-3.1-2.1 0-3.7 3.1z"/>
<path fill="#ff8f00" d="M261.1 410.2l3.7-3.2-2.2 0-3.7 3.2z"/>
<path fill="#ff9f00" d="M257.4 413.5l3.7-3.3-2.2 0-3.6 3.3z"/>
<path fill="#ffbf00" d="M253.8 416.9l3.6-3.4-2.1 0-3.7 3.5z"/>
<path fill="#ffdf00" d="M250.1 420.4l3.7-3.5-2.2 .1-3.6 3.6z"/>
<path fill="#ffef00" d="M246.4 424.1l3.7-3.7-2.1 .2-3.7 3.7z"/>
<path fill="#efff10" d="M242.8 427.9l3.6-3.8-2.1 .2-3.7 3.8z"/>
<path fill="#cfff30" d="M239.1 431.8l3.7-3.9-2.2 .2-3.6 4.1z"/>
<path fill="#afff50" d="M235.4 436l3.7-4.2-2.1 .4-3.7 4.3z"/>
<path fill="#8fff70" d="M231.8 440.3l3.6-4.3-2.1 .5-3.7 4.5z"/>
<path fill="#70ff8f" d="M228.1 444.9l3.7-4.6-2.2 .7-3.6 4.8z"/>
<path fill="#40ffbf" d="M224.5 449.8l3.6-4.9-2.1 .9-3.7 5.2z"/>
<path fill="#20ffdf" class="t" d="M220.8 454.9l3.7-5.1-2.2 1.2-3.7 5.7z"/>
<path fill="#00efff" class="t" d="M217.1 460.3l3.7-5.4-2.2 1.8-3.6 6.3z"/>
<path fill="#00cfff" class="t" d="M213.5 465.7l3.6-5.4-2.1 2.7-3.7 7z"/>
<g fill="#009fff"><path class="t" d="M209.8 470.4l3.7-4.7-2.2 4.3-3.6 7.6z"/><path d="M206.2 472.6l3.6-2.2-2.1 7.2-3.7 4.7z"/><path d="M202.5 470.8l3.7 1.8-2.2 9.7-3.7-4.4z"/></g>
<path fill="#00cfff" d="M198.8 466.4l3.7 4.4-2.2 7.1-3.6-7.3z"/>
<path fill="#00efff" d="M195.2 461.3l3.6 5.1-2.1 4.2-3.7-6.6z"/>
<path fill="#20ffdf" d="M191.5 456.2l3.7 5.1-2.2 2.7-3.6-6z"/>
<path fill="#40ffbf" d="M187.8 451.4l3.7 4.8-2.1 1.8-3.7-5.3z"/>
<path fill="#70ff8f" d="M184.2 446.9l3.6 4.5-2.1 1.3-3.7-4.9z"/>
<path fill="#8fff70" d="M180.5 442.6l3.7 4.3-2.2 .9-3.6-4.5z"/>
<path fill="#afff50" d="M176.9 438.6l3.6 4-2.1 .7-3.7-4.2z"/>
<path fill="#cfff30" d="M173.2 434.7l3.7 3.9-2.2 .5-3.7-4z"/>
<path fill="#efff10" d="M169.5 431.1l3.7 3.6-2.2 .4-3.6-3.7z"/>
<path fill="#ffef00" d="M165.9 427.6l3.6 3.5-2.1 .3-3.7-3.6z"/>
<path fill="#ffdf00" d="M162.2 424.3l3.7 3.3-2.2 .2-3.7-3.3z"/>
<path fill="#ffbf00" d="M158.5 421.1l3.7 3.2-2.2 .2-3.6-3.3z"/>
<path fill="#ff9f00" d="M154.9 418l3.6 3.1-2.1 .1-3.7-3.1z"/>
<path fill="#ff8f00" d="M151.2 415l3.7 3-2.2 .1-3.6-3z"/>
<path fill="#ff7000" d="M147.6 412.2l3.6 2.8-2.1 .1-3.7-2.9z"/>
<path fill="#ff6000" d="M143.9 409.4l3.7 2.8-2.2 0-3.7-2.8z"/>
<path fill="#ff4000" d="M140.2 406.7l3.7 2.7-2.2 0-3.6-2.7z"/>
<path fill="#ff3000" d="M136.6 404.1l3.6 2.6-2.1 0-3.7-2.7z"/>
<path fill="#ff2000" d="M132.9 401.5l3.7 2.6-2.2-.1-3.6-2.6z"/>
<path fill="#ff3000" d="M277.9 397.8l3.7-2.9-2.2 .1-3.7 2.9z"/>
<path fill="#ff4000" d="M274.2 400.7l3.7-2.9-2.2 .1-3.6 2.9z"/>
<path fill="#ff6000" d="M270.6 403.7l3.6-3-2.1 .1-3.7 3.1z"/>
<path fill="#ff7000" d="M266.9 406.8l3.7-3.1-2.2 .2-3.6 3.1z"/>
<path fill="#ff8000" d="M263.2 409.9l3.7-3.1-2.1 .2-3.7 3.2z"/>
<path fill="#ff9f00" d="M259.6 413.2l3.6-3.3-2.1 .3-3.7 3.3z"/>
<path fill="#ffbf00" d="M255.9 416.5l3.7-3.3-2.2 .3-3.6 3.4z"/>
<path fill="#ffcf00" d="M252.2 420l3.7-3.5-2.1 .4-3.7 3.5z"/>
<path fill="#ffef00" d="M248.6 423.5l3.6-3.5-2.1 .4-3.7 3.7z"/>
<path fill="#efff10" d="M244.9 427.2l3.7-3.7-2.2 .6-3.6 3.8z"/>
<path fill="#dfff20" d="M241.3 431l3.6-3.8-2.1 .7-3.7 3.9z"/>
<path fill="#bfff40" d="M237.6 435l3.7-4-2.2 .8-3.7 4.2z"/>
<path fill="#9fff60" class="t" d="M233.9 439.1l3.7-4.1-2.2 1-3.6 4.3z"/>
<path fill="#80ff80" class="t" d="M230.3 443.4l3.6-4.3-2.1 1.2-3.7 4.6z"/>
<path fill="#60ff9f" class="t" d="M226.6 447.8l3.7-4.4-2.2 1.5-3.6 4.9z"/>
<path fill="#30ffcf" class="t" d="M223 452.3l3.6-4.5-2.1 2-3.7 5.1z"/>
<path fill="#10ffef" class="t" d="M219.3 456.7l3.7-4.4-2.2 2.6-3.7 5.4z"/>
<path fill="#00efff" class="t" d="M215.6 460.8l3.7-4.1-2.2 3.6-3.6 5.4z"/>
<path fill="#00dfff" d="M212 463.8l3.6-3-2.1 4.9-3.7 4.7z"/>
<path fill="#00cfff" d="M208.3 465.1l3.7-1.3-2.2 6.6-3.6 2.2z"/>
<path fill="#00dfff" d="M204.6 464.2l3.7 .9-2.1 7.5-3.7-1.8z"/>
<path fill="#00efff" d="M201 461.4l3.6 2.8-2.1 6.6-3.7-4.4z"/>
<path fill="#10ffef" d="M197.3 457.7l3.7 3.7-2.2 5-3.6-5.1z"/>
<path fill="#30ffcf" d="M193.6 453.6l3.7 4.1-2.1 3.6-3.7-5.1z"/>
<path fill="#60ff9f" d="M190 449.4l3.6 4.2-2.1 2.6-3.7-4.8z"/>
<path fill="#80ff80" d="M186.3 445.3l3.7 4.1-2.2 2-3.6-4.5z"/>
<path fill="#9fff60" d="M182.7 441.4l3.6 3.9-2.1 1.6-3.7-4.3z"/>
<path fill="#bfff40" d="M179 437.6l3.7 3.8-2.2 1.2-3.6-4z"/>
<path fill="#dfff20" d="M175.3 434l3.7 3.6-2.1 1-3.7-3.9z"/>
<path fill="#efff10" d="M171.7 430.5l3.6 3.5-2.1 .7-3.7-3.6z"/>
<path fill="#ffef00" d="M168 427.1l3.7 3.4-2.2 .6-3.6-3.5z"/>
<path fill="#ffcf00" d="M164.4 423.9l3.6 3.2-2.1 .5-3.7-3.3z"/>
<path fill="#ffbf00" d="M160.7 420.7l3.7 3.2-2.2 .4-3.7-3.2z"/>
<path fill="#ff9f00" d="M157 417.7l3.7 3-2.2 .4-3.6-3.1z"/>
<path fill="#ff8000" d="M153.4 414.8l3.6 2.9-2.1 .3-3.7-3z"/>
<path fill="#ff7000" d="M149.7 412l3.7 2.8-2.2 .2-3.6-2.8z"/>
<path fill="#ff6000" d="M146 409.2l3.7 2.8-2.1 .2-3.7-2.8z"/>
<path fill="#ff4000" d="M142.4 406.6l3.6 2.6-2.1 .2-3.7-2.7z"/>
<path fill="#ff3000" d="M138.7 404l3.7 2.6-2.2 .1-3.6-2.6z"/>
<path fill="#ff1000" d="M135 401.4l3.7 2.6-2.1 .1-3.7-2.6z"/>
<path fill="#ff2000" d="M280 397.6l3.7-2.9-2.1 .2-3.7 2.9z"/>
<path fill="#ff4000" d="M276.4 400.4l3.6-2.8-2.1 .2-3.7 2.9z"/>
<path fill="#ff5000" d="M272.7 403.4l3.7-3-2.2 .3-3.6 3z"/>
<path fill="#ff7000" d="M269 406.4l3.7-3-2.1 .3-3.7 3.1z"/>
<path fill="#ff8000" d="M265.4 409.5l3.6-3.1-2.1 .4-3.7 3.1z"/>
<path fill="#ff9f00" d="M261.7 412.7l3.7-3.2-2.2 .4-3.6 3.3z"/>
<path fill="#ffaf00" d="M258.1 415.9l3.6-3.2-2.1 .5-3.7 3.3z"/>
<path fill="#ffcf00" d="M254.4 419.3l3.7-3.4-2.2 .6-3.7 3.5z"/>
<path fill="#ffdf00" class="t" d="M250.7 422.7l3.7-3.4-2.2 .7-3.6 3.5z"/>
<path fill="#ff0" class="t" d="M247.1 426.3l3.6-3.6-2.1 .8-3.7 3.7z"/>
<path fill="#dfff20" class="t" d="M243.4 429.9l3.7-3.6-2.2 .9-3.6 3.8z"/>
<path fill="#bfff40" class="t" d="M239.7 433.6l3.7-3.7-2.1 1.1-3.7 4z"/>
<path fill="#afff50" class="t" d="M236.1 437.5l3.6-3.9-2.1 1.4-3.7 4.1z"/>
<path fill="#8fff70" class="t" d="M232.4 441.3l3.7-3.8-2.2 1.6-3.6 4.3z"/>
<path fill="#70ff8f" class="t" d="M228.8 445.3l3.6-4-2.1 2.1-3.7 4.4z"/>
<path fill="#50ffaf" class="t" d="M225.1 449.1l3.7-3.8-2.2 2.5-3.6 4.5z"/>
<path fill="#30ffcf" class="t" d="M221.4 452.7l3.7-3.6-2.1 3.2-3.7 4.4z"/>
<path fill="#20ffdf" d="M217.8 455.8l3.6-3.1-2.1 4-3.7 4.1z"/>
<g fill="#10ffef"><path d="M214.1 458l3.7-2.2-2.2 5-3.6 3z"/><path d="M210.4 458.9l3.7-.9-2.1 5.8-3.7 1.3z"/><path d="M206.8 458.3l3.6 .6-2.1 6.2-3.7-.9z"/></g>
<path fill="#20ffdf" d="M203.1 456.5l3.7 1.8-2.2 5.9-3.6-2.8z"/>
<path fill="#30ffcf" d="M199.5 453.7l3.6 2.8-2.1 4.9-3.7-3.7z"/>
<path fill="#50ffaf" d="M195.8 450.4l3.7 3.3-2.2 4-3.7-4.1z"/>
<path fill="#70ff8f" d="M192.1 446.9l3.7 3.5-2.2 3.2-3.6-4.2z"/>
<path fill="#8fff70" d="M188.5 443.3l3.6 3.6-2.1 2.5-3.7-4.1z"/>
<path fill="#afff50" d="M184.8 439.7l3.7 3.6-2.2 2-3.6-3.9z"/>
<path fill="#bfff40" d="M181.2 436.2l3.6 3.5-2.1 1.7-3.7-3.8z"/>
<path fill="#dfff20" d="M177.5 432.8l3.7 3.4-2.2 1.4-3.7-3.6z"/>
<path fill="#ff0" d="M173.8 429.5l3.7 3.3-2.2 1.2-3.6-3.5z"/>
<path fill="#ffdf00" d="M170.2 426.3l3.6 3.2-2.1 1-3.7-3.4z"/>
<path fill="#ffcf00" d="M166.5 423.2l3.7 3.1-2.2 .8-3.6-3.2z"/>
<path fill="#ffaf00" d="M162.8 420.2l3.7 3-2.1 .7-3.7-3.2z"/>
<path fill="#ff9f00" d="M159.2 417.2l3.6 3-2.1 .5-3.7-3z"/>
<path fill="#ff8000" d="M155.5 414.4l3.7 2.8-2.2 .5-3.6-2.9z"/>
<path fill="#ff7000" d="M151.8 411.6l3.7 2.8-2.1 .4-3.7-2.8z"/>
<path fill="#ff5000" d="M148.2 408.9l3.6 2.7-2.1 .4-3.7-2.8z"/>
<path fill="#ff4000" d="M144.5 406.3l3.7 2.6-2.2 .3-3.6-2.6z"/>
<path fill="#ff2000" d="M140.9 403.7l3.6 2.6-2.1 .3-3.7-2.6z"/>
<path fill="#ff1000" d="M137.2 401.2l3.7 2.5-2.2 .3-3.7-2.6z"/>
<path fill="#ff2000" d="M282.2 397.2l3.6-2.8-2.1 .3-3.7 2.9z"/>
<path fill="#ff3000" d="M278.5 400l3.7-2.8-2.2 .4-3.6 2.8z"/>
<path fill="#ff5000" class="t" d="M274.9 402.9l3.6-2.9-2.1 .4-3.7 3z"/>
<path fill="#ff6000" class="t" d="M271.2 405.9l3.7-3-2.2 .5-3.7 3z"/>
<path fill="#ff8000" class="t" d="M267.5 408.9l3.7-3-2.2 .5-3.6 3.1z"/>
<path fill="#ff8f00" class="t" d="M263.9 412l3.6-3.1-2.1 .6-3.7 3.2z"/>
<path fill="#ffaf00" class="t" d="M260.2 415.1l3.7-3.1-2.2 .7-3.6 3.2z"/>
<path fill="#ffbf00" class="t" d="M256.6 418.4l3.6-3.3-2.1 .8-3.7 3.4z"/>
<path fill="#ffdf00" class="t" d="M252.9 421.7l3.7-3.3-2.2 .9-3.7 3.4z"/>
<path fill="#ffef00" class="t" d="M249.2 425l3.7-3.3-2.2 1-3.6 3.6z"/>
<path fill="#efff10" class="t" d="M245.6 428.5l3.6-3.5-2.1 1.3-3.7 3.6z"/>
<path fill="#cfff30" class="t" d="M241.9 431.9l3.7-3.4-2.2 1.4-3.7 3.7z"/>
<path fill="#bfff40" class="t" d="M238.2 435.5l3.7-3.6-2.2 1.7-3.6 3.9z"/>
<path fill="#9fff60" class="t" d="M234.6 439l3.6-3.5-2.1 2-3.7 3.8z"/>
<path fill="#8fff70" class="t" d="M230.9 442.4l3.7-3.4-2.2 2.3-3.6 4z"/>
<path fill="#70ff8f" class="t" d="M227.2 445.7l3.7-3.3-2.1 2.9-3.7 3.8z"/>
<path fill="#60ff9f" d="M223.6 448.7l3.6-3-2.1 3.4-3.7 3.6z"/>
<g fill="#40ffbf"><path d="M219.9 451.1l3.7-2.4-2.2 4-3.6 3.1z"/><path d="M216.3 452.8l3.6-1.7-2.1 4.7-3.7 2.2z"/></g>
<path fill="#30ffcf" d="M212.6 453.5l3.7-.7-2.2 5.2-3.7 .9z"/>
<g fill="#40ffbf"><path d="M208.9 453.1l3.7 .4-2.2 5.4-3.6-.6z"/><path d="M205.3 451.7l3.6 1.4-2.1 5.2-3.7-1.8z"/></g>
<path fill="#60ff9f" d="M201.6 449.6l3.7 2.1-2.2 4.8-3.6-2.8z"/>
<path fill="#70ff8f" d="M198 447l3.6 2.6-2.1 4.1-3.7-3.3z"/>
<path fill="#8fff70" d="M194.3 444l3.7 3-2.2 3.4-3.7-3.5z"/>
<path fill="#9fff60" d="M190.6 440.9l3.7 3.1-2.2 2.9-3.6-3.6z"/>
<path fill="#bfff40" d="M187 437.7l3.6 3.2-2.1 2.4-3.7-3.6z"/>
<path fill="#cfff30" d="M183.3 434.5l3.7 3.2-2.2 2-3.6-3.5z"/>
<path fill="#efff10" d="M179.6 431.4l3.7 3.1-2.1 1.7-3.7-3.4z"/>
<path fill="#ffef00" d="M176 428.3l3.6 3.1-2.1 1.4-3.7-3.3z"/>
<path fill="#ffdf00" d="M172.3 425.2l3.7 3.1-2.2 1.2-3.6-3.2z"/>
<path fill="#ffbf00" d="M168.6 422.3l3.7 2.9-2.1 1.1-3.7-3.1z"/>
<path fill="#ffaf00" d="M165 419.4l3.6 2.9-2.1 .9-3.7-3z"/>
<path fill="#ff8f00" d="M161.3 416.5l3.7 2.9-2.2 .8-3.6-3z"/>
<path fill="#ff8000" d="M157.7 413.8l3.6 2.7-2.1 .7-3.7-2.8z"/>
<path fill="#ff6000" d="M154 411.1l3.7 2.7-2.2 .6-3.7-2.8z"/>
<path fill="#ff5000" d="M150.3 408.5l3.7 2.6-2.2 .5-3.6-2.7z"/>
<path fill="#ff3000" d="M146.7 405.9l3.6 2.6-2.1 .4-3.7-2.6z"/>
<path fill="#ff2000" d="M143 403.4l3.7 2.5-2.2 .4-3.6-2.6z"/>
<path fill="#ff1000" d="M139.4 400.9l3.6 2.5-2.1 .3-3.7-2.5z"/>
<path fill="#ff2000" class="t" d="M284.3 396.7l3.7-2.7-2.2 .4-3.6 2.8z"/>
<path fill="#ff3000" class="t" d="M280.7 399.5l3.6-2.8-2.1 .5-3.7 2.8z"/>
<path fill="#ff4000" class="t" d="M277 402.3l3.7-2.8-2.2 .5-3.6 2.9z"/>
<path fill="#ff6000" class="t" d="M273.3 405.2l3.7-2.9-2.1 .6-3.7 3z"/>
<path fill="#ff7000" class="t" d="M269.7 408.1l3.6-2.9-2.1 .7-3.7 3z"/>
<path fill="#ff8f00" class="t" d="M266 411.1l3.7-3-2.2 .8-3.6 3.1z"/>
<path fill="#ff9f00" class="t" d="M262.4 414.1l3.6-3-2.1 .9-3.7 3.1z"/>
<path fill="#ffaf00" class="t" d="M258.7 417.2l3.7-3.1-2.2 1-3.6 3.3z"/>
<path fill="#ffcf00" class="t" d="M255 420.4l3.7-3.2-2.1 1.2-3.7 3.3z"/>
<path fill="#ffdf00" class="t" d="M251.4 423.6l3.6-3.2-2.1 1.3-3.7 3.3z"/>
<path fill="#ff0" class="t" d="M247.7 426.8l3.7-3.2-2.2 1.4-3.6 3.5z"/>
<path fill="#efff10" class="t" d="M244 430l3.7-3.2-2.1 1.7-3.7 3.4z"/>
<path fill="#cfff30" class="t" d="M240.4 433.2l3.6-3.2-2.1 1.9-3.7 3.6z"/>
<path fill="#bfff40" class="t" d="M236.7 436.4l3.7-3.2-2.2 2.3-3.6 3.5z"/>
<path fill="#9fff60" class="t" d="M233.1 439.4l3.6-3-2.1 2.6-3.7 3.4z"/>
<path fill="#8fff70" class="t" d="M229.4 442.2l3.7-2.8-2.2 3-3.7 3.3z"/>
<path fill="#80ff80" d="M225.7 444.7l3.7-2.5-2.2 3.5-3.6 3z"/>
<path fill="#70ff8f" d="M222.1 446.7l3.6-2-2.1 4-3.7 2.4z"/>
<g fill="#60ff9f"><path d="M218.4 448l3.7-1.3-2.2 4.4-3.6 1.7z"/><path d="M214.8 448.6l3.6-.6-2.1 4.8-3.7 .7z"/><path d="M211.1 448.3l3.7 .3-2.2 4.9-3.7-.4z"/></g>
<path fill="#70ff8f" d="M207.4 447.3l3.7 1-2.2 4.8-3.6-1.4z"/>
<path fill="#80ff80" d="M203.8 445.7l3.6 1.6-2.1 4.4-3.7-2.1z"/>
<path fill="#8fff70" d="M200.1 443.5l3.7 2.2-2.2 3.9-3.6-2.6z"/>
<path fill="#9fff60" d="M196.4 441l3.7 2.5-2.1 3.5-3.7-3z"/>
<path fill="#bfff40" d="M192.8 438.3l3.6 2.7-2.1 3-3.7-3.1z"/>
<path fill="#cfff30" d="M189.1 435.5l3.7 2.8-2.2 2.6-3.6-3.2z"/>
<path fill="#efff10" d="M185.5 432.6l3.6 2.9-2.1 2.2-3.7-3.2z"/>
<path fill="#ff0" d="M181.8 429.7l3.7 2.9-2.2 1.9-3.7-3.1z"/>
<path fill="#ffdf00" d="M178.1 426.8l3.7 2.9-2.2 1.7-3.6-3.1z"/>
<path fill="#ffcf00" d="M174.5 424l3.6 2.8-2.1 1.5-3.7-3.1z"/>
<path fill="#ffaf00" d="M170.8 421.1l3.7 2.9-2.2 1.2-3.7-2.9z"/>
<path fill="#ff9f00" d="M167.1 418.4l3.7 2.7-2.2 1.2-3.6-2.9z"/>
<path fill="#ff8f00" d="M163.5 415.7l3.6 2.7-2.1 1-3.7-2.9z"/>
<path fill="#ff7000" d="M159.8 413l3.7 2.7-2.2 .8-3.6-2.7z"/>
<path fill="#ff6000" d="M156.2 410.4l3.6 2.6-2.1 .8-3.7-2.7z"/>
<path fill="#ff4000" d="M152.5 407.8l3.7 2.6-2.2 .7-3.7-2.6z"/>
<path fill="#ff3000" d="M148.8 405.3l3.7 2.5-2.2 .7-3.6-2.6z"/>
<path fill="#ff2000" d="M145.2 402.9l3.6 2.4-2.1 .6-3.7-2.5z"/>
<g fill="#ff1000"><path d="M141.5 400.5l3.7 2.4-2.2 .5-3.6-2.5z"/><path class="t" d="M286.5 396.1l3.7-2.7-2.2 .6-3.7 2.7z"/></g>
<path fill="#ff3000" class="t" d="M282.8 398.8l3.7-2.7-2.2 .6-3.6 2.8z"/>
<path fill="#ff4000" class="t" d="M279.2 401.6l3.6-2.8-2.1 .7-3.7 2.8z"/>
<path fill="#ff5000" class="t" d="M275.5 404.4l3.7-2.8-2.2 .7-3.7 2.9z"/>
<path fill="#ff7000" class="t" d="M271.8 407.2l3.7-2.8-2.2 .8-3.6 2.9z"/>
<path fill="#ff8000" class="t" d="M268.2 410.1l3.6-2.9-2.1 .9-3.7 3z"/>
<path fill="#ff8f00" class="t" d="M264.5 413l3.7-2.9-2.2 1-3.6 3z"/>
<path fill="#ffaf00" class="t" d="M260.8 416l3.7-3-2.1 1.1-3.7 3.1z"/>
<path fill="#ffbf00" class="t" d="M257.2 418.9l3.6-2.9-2.1 1.2-3.7 3.2z"/>
<path fill="#ffcf00" class="t" d="M253.5 421.9l3.7-3-2.2 1.5-3.6 3.2z"/>
<path fill="#ffef00" class="t" d="M249.9 424.9l3.6-3-2.1 1.7-3.7 3.2z"/>
<path fill="#ff0" class="t" d="M246.2 427.9l3.7-3-2.2 1.9-3.7 3.2z"/>
<path fill="#dfff20" class="t" d="M242.5 430.8l3.7-2.9-2.2 2.1-3.6 3.2z"/>
<path fill="#cfff30" class="t" d="M238.9 433.7l3.6-2.9-2.1 2.4-3.7 3.2z"/>
<path fill="#bfff40" class="t" d="M235.2 436.3l3.7-2.6-2.2 2.7-3.6 3z"/>
<path fill="#afff50" d="M231.6 438.7l3.6-2.4-2.1 3.1-3.7 2.8z"/>
<path fill="#9fff60" d="M227.9 440.8l3.7-2.1-2.2 3.5-3.7 2.5z"/>
<g fill="#8fff70"><path d="M224.2 442.5l3.7-1.7-2.2 3.9-3.6 2z"/><path d="M220.6 443.6l3.6-1.1-2.1 4.2-3.7 1.3z"/></g>
<path fill="#80ff80" d="M216.9 444.1l3.7-.5-2.2 4.4-3.6 .6z"/>
<g fill="#8fff70"><path d="M213.2 443.9l3.7 .2-2.1 4.5-3.7-.3z"/><path d="M209.6 443.1l3.6 .8-2.1 4.4-3.7-1z"/></g>
<path fill="#9fff60" d="M205.9 441.8l3.7 1.3-2.2 4.2-3.6-1.6z"/>
<path fill="#afff50" d="M202.2 440l3.7 1.8-2.1 3.9-3.7-2.2z"/>
<path fill="#bfff40" d="M198.6 437.9l3.6 2.1-2.1 3.5-3.7-2.5z"/>
<path fill="#cfff30" d="M194.9 435.6l3.7 2.3-2.2 3.1-3.6-2.7z"/>
<path fill="#dfff20" d="M191.3 433.1l3.6 2.5-2.1 2.7-3.7-2.8z"/>
<path fill="#ff0" d="M187.6 430.5l3.7 2.6-2.2 2.4-3.6-2.9z"/>
<path fill="#ffef00" d="M183.9 427.9l3.7 2.6-2.1 2.1-3.7-2.9z"/>
<path fill="#ffcf00" d="M180.3 425.2l3.6 2.7-2.1 1.8-3.7-2.9z"/>
<path fill="#ffbf00" d="M176.6 422.5l3.7 2.7-2.2 1.6-3.6-2.8z"/>
<path fill="#ffaf00" d="M173 419.9l3.6 2.6-2.1 1.5-3.7-2.9z"/>
<path fill="#ff8f00" d="M169.3 417.2l3.7 2.7-2.2 1.2-3.7-2.7z"/>
<path fill="#ff8000" d="M165.6 414.6l3.7 2.6-2.2 1.2-3.6-2.7z"/>
<path fill="#ff7000" d="M162 412.1l3.6 2.5-2.1 1.1-3.7-2.7z"/>
<path fill="#ff5000" d="M158.3 409.6l3.7 2.5-2.2 .9-3.6-2.6z"/>
<path fill="#ff4000" d="M154.6 407.1l3.7 2.5-2.1 .8-3.7-2.6z"/>
<path fill="#ff3000" d="M151 404.7l3.6 2.4-2.1 .7-3.7-2.5z"/>
<path fill="#ff1000" d="M147.3 402.3l3.7 2.4-2.2 .6-3.6-2.4z"/>
<path fill="#f00" d="M143.6 399.9l3.7 2.4-2.1 .6-3.7-2.4z"/>
<path fill="#ff1000" class="t" d="M288.6 395.4l3.7-2.6-2.1 .6-3.7 2.7z"/>
<path fill="#ff2000" class="t" d="M285 398l3.6-2.6-2.1 .7-3.7 2.7z"/>
<path fill="#ff3000" class="t" d="M281.3 400.7l3.7-2.7-2.2 .8-3.6 2.8z"/>
<path fill="#ff5000" class="t" d="M277.6 403.4l3.7-2.7-2.1 .9-3.7 2.8z"/>
<path fill="#ff6000" class="t" d="M274 406.2l3.6-2.8-2.1 1-3.7 2.8z"/>
<path fill="#ff7000" class="t" d="M270.3 408.9l3.7-2.7-2.2 1-3.6 2.9z"/>
<path fill="#ff8000" class="t" d="M266.7 411.7l3.6-2.8-2.1 1.2-3.7 2.9z"/>
<path fill="#ff9f00" class="t" d="M263 414.5l3.7-2.8-2.2 1.3-3.7 3z"/>
<path fill="#ffaf00" class="t" d="M259.3 417.3l3.7-2.8-2.2 1.5-3.6 2.9z"/>
<path fill="#ffbf00" class="t" d="M255.7 420.1l3.6-2.8-2.1 1.6-3.7 3z"/>
<path fill="#ffdf00" class="t" d="M252 422.9l3.7-2.8-2.2 1.8-3.6 3z"/>
<path fill="#ffef00" class="t" d="M248.3 425.7l3.7-2.8-2.1 2-3.7 3z"/>
<path fill="#ff0" class="t" d="M244.7 428.3l3.6-2.6-2.1 2.2-3.7 2.9z"/>
<path fill="#efff10" class="t" d="M241 430.9l3.7-2.6-2.2 2.5-3.6 2.9z"/>
<path fill="#cfff30" class="t" d="M237.4 433.2l3.6-2.3-2.1 2.8-3.7 2.6z"/>
<g fill="#bfff40"><path d="M233.7 435.4l3.7-2.2-2.2 3.1-3.6 2.4z"/><path d="M230 437.2l3.7-1.8-2.1 3.3-3.7 2.1z"/></g>
<g fill="#afff50"><path d="M226.4 438.6l3.6-1.4-2.1 3.6-3.7 1.7z"/><path d="M222.7 439.5l3.7-.9-2.2 3.9-3.6 1.1z"/><path d="M219 439.9l3.7-.4-2.1 4.1-3.7 .5z"/><path d="M215.4 439.8l3.6 .1-2.1 4.2-3.7-.2z"/><path d="M211.7 439.2l3.7 .6-2.2 4.1-3.6-.8z"/></g>
<g fill="#bfff40"><path d="M208.1 438.1l3.6 1.1-2.1 3.9-3.7-1.3z"/><path d="M204.4 436.7l3.7 1.4-2.2 3.7-3.7-1.8z"/></g>
<path fill="#cfff30" d="M200.7 434.9l3.7 1.8-2.2 3.3-3.6-2.1z"/>
<path fill="#efff10" d="M197.1 432.8l3.6 2.1-2.1 3-3.7-2.3z"/>
<path fill="#ff0" d="M193.4 430.6l3.7 2.2-2.2 2.8-3.6-2.5z"/>
<path fill="#ffef00" d="M189.8 428.3l3.6 2.3-2.1 2.5-3.7-2.6z"/>
<path fill="#ffdf00" d="M186.1 425.9l3.7 2.4-2.2 2.2-3.7-2.6z"/>
<path fill="#ffbf00" d="M182.4 423.4l3.7 2.5-2.2 2-3.6-2.7z"/>
<path fill="#ffaf00" d="M178.8 420.9l3.6 2.5-2.1 1.8-3.7-2.7z"/>
<path fill="#ff9f00" d="M175.1 418.4l3.7 2.5-2.2 1.6-3.6-2.6z"/>
<path fill="#ff8000" d="M171.4 415.9l3.7 2.5-2.1 1.5-3.7-2.7z"/>
<path fill="#ff7000" d="M167.8 413.5l3.6 2.4-2.1 1.3-3.7-2.6z"/>
<path fill="#ff6000" d="M164.1 411l3.7 2.5-2.2 1.1-3.6-2.5z"/>
<path fill="#ff5000" d="M160.4 408.6l3.7 2.4-2.1 1.1-3.7-2.5z"/>
<path fill="#ff3000" d="M156.8 406.2l3.6 2.4-2.1 1-3.7-2.5z"/>
<path fill="#ff2000" d="M153.1 403.9l3.7 2.3-2.2 .9-3.6-2.4z"/>
<path fill="#ff1000" d="M149.5 401.6l3.6 2.3-2.1 .8-3.7-2.4z"/>
<g fill="#f00"><path d="M145.8 399.3l3.7 2.3-2.2 .7-3.7-2.4z"/><path class="t" d="M290.8 394.6l3.7-2.5-2.2 .7-3.7 2.6z"/></g>
<path fill="#ff2000" class="t" d="M287.1 397.1l3.7-2.5-2.2 .8-3.6 2.6z"/>
<path fill="#ff3000" class="t" d="M283.5 399.7l3.6-2.6-2.1 .9-3.7 2.7z"/>
<path fill="#ff4000" class="t" d="M279.8 402.4l3.7-2.7-2.2 1-3.7 2.7z"/>
<path fill="#ff5000" class="t" d="M276.1 405l3.7-2.6-2.2 1-3.6 2.8z"/>
<path fill="#ff6000" class="t" d="M272.5 407.6l3.6-2.6-2.1 1.2-3.7 2.7z"/>
<path fill="#ff8000" class="t" d="M268.8 410.3l3.7-2.7-2.2 1.3-3.6 2.8z"/>
<path fill="#ff8f00" class="t" d="M265.2 413l3.6-2.7-2.1 1.4-3.7 2.8z"/>
<path fill="#ff9f00" class="t" d="M261.5 415.6l3.7-2.6-2.2 1.5-3.7 2.8z"/>
<path fill="#ffaf00" class="t" d="M257.8 418.3l3.7-2.7-2.2 1.7-3.6 2.8z"/>
<path fill="#ffcf00" class="t" d="M254.2 420.8l3.6-2.5-2.1 1.8-3.7 2.8z"/>
<path fill="#ffdf00" class="t" d="M250.5 423.4l3.7-2.6-2.2 2.1-3.7 2.8z"/>
<path fill="#ffef00" class="t" d="M246.8 425.8l3.7-2.4-2.2 2.3-3.6 2.6z"/>
<path fill="#ff0" class="t" d="M243.2 428.1l3.6-2.3-2.1 2.5-3.7 2.6z"/>
<path fill="#efff10" d="M239.5 430.2l3.7-2.1-2.2 2.8-3.6 2.3z"/>
<g fill="#dfff20"><path d="M235.8 432.1l3.7-1.9-2.1 3-3.7 2.2z"/><path d="M232.2 433.6l3.6-1.5-2.1 3.3-3.7 1.8z"/></g>
<g fill="#cfff30"><path d="M228.5 434.8l3.7-1.2-2.2 3.6-3.6 1.4z"/><path d="M224.9 435.7l3.6-.9-2.1 3.8-3.7 .9z"/><path d="M221.2 436.1l3.7-.4-2.2 3.8-3.7 .4z"/><path d="M217.5 436l3.7 .1-2.2 3.8-3.6-.1z"/><path d="M213.9 435.5l3.6 .5-2.1 3.8-3.7-.6z"/></g>
<g fill="#dfff20"><path d="M210.2 434.6l3.7 .9-2.2 3.7-3.6-1.1z"/><path d="M206.6 433.4l3.6 1.2-2.1 3.5-3.7-1.4z"/></g>
<path fill="#efff10" d="M202.9 431.8l3.7 1.6-2.2 3.3-3.7-1.8z"/>
<path fill="#ff0" d="M199.2 430l3.7 1.8-2.2 3.1-3.6-2.1z"/>
<path fill="#ffef00" d="M195.6 428.1l3.6 1.9-2.1 2.8-3.7-2.2z"/>
<path fill="#ffdf00" d="M191.9 426l3.7 2.1-2.2 2.5-3.6-2.3z"/>
<path fill="#ffcf00" d="M188.2 423.8l3.7 2.2-2.1 2.3-3.7-2.4z"/>
<path fill="#ffaf00" d="M184.6 421.5l3.6 2.3-2.1 2.1-3.7-2.5z"/>
<path fill="#ff9f00" d="M180.9 419.2l3.7 2.3-2.2 1.9-3.6-2.5z"/>
<path fill="#ff8f00" d="M177.2 416.9l3.7 2.3-2.1 1.7-3.7-2.5z"/>
<path fill="#ff8000" d="M173.6 414.5l3.6 2.4-2.1 1.5-3.7-2.5z"/>
<path fill="#ff6000" d="M169.9 412.2l3.7 2.3-2.2 1.4-3.6-2.4z"/>
<path fill="#ff5000" d="M166.3 409.9l3.6 2.3-2.1 1.3-3.7-2.5z"/>
<path fill="#ff4000" d="M162.6 407.6l3.7 2.3-2.2 1.1-3.7-2.4z"/>
<path fill="#ff3000" d="M158.9 405.3l3.7 2.3-2.2 1-3.6-2.4z"/>
<path fill="#ff2000" d="M155.3 403l3.6 2.3-2.1 .9-3.7-2.3z"/>
<path fill="#f00" d="M151.6 400.8l3.7 2.2-2.2 .9-3.6-2.3z"/>
<path fill="#ef0000" d="M148 398.6l3.6 2.2-2.1 .8-3.7-2.3z"/>
<path fill="#f00" class="t" d="M292.9 393.7l3.7-2.5-2.1 .9-3.7 2.5z"/>
<path fill="#ff1000" class="t" d="M289.3 396.2l3.6-2.5-2.1 .9-3.7 2.5z"/>
<path fill="#ff2000" class="t" d="M285.6 398.7l3.7-2.5-2.2 .9-3.6 2.6z"/>
<path fill="#ff3000" class="t" d="M282 401.2l3.6-2.5-2.1 1-3.7 2.7z"/>
<path fill="#ff4000" class="t" d="M278.3 403.7l3.7-2.5-2.2 1.2-3.7 2.6z"/>
<path fill="#ff6000" class="t" d="M274.6 406.3l3.7-2.6-2.2 1.3-3.6 2.6z"/>
<path fill="#ff7000" class="t" d="M271 408.8l3.6-2.5-2.1 1.3-3.7 2.7z"/>
<path fill="#ff8000" class="t" d="M267.3 411.3l3.7-2.5-2.2 1.5-3.6 2.7z"/>
<path fill="#ff8f00" class="t" d="M263.6 413.8l3.7-2.5-2.1 1.7-3.7 2.6z"/>
<path fill="#ff9f00" class="t" d="M260 416.3l3.6-2.5-2.1 1.8-3.7 2.7z"/>
<path fill="#ffaf00" class="t" d="M256.3 418.7l3.7-2.4-2.2 2-3.6 2.5z"/>
<path fill="#ffbf00" class="t" d="M252.6 421l3.7-2.3-2.1 2.1-3.7 2.6z"/>
<path fill="#ffcf00" class="t" d="M249 423.2l3.6-2.2-2.1 2.4-3.7 2.4z"/>
<path fill="#ffdf00" class="t" d="M245.3 425.3l3.7-2.1-2.2 2.6-3.6 2.3z"/>
<path fill="#ffef00" d="M241.7 427.2l3.6-1.9-2.1 2.8-3.7 2.1z"/>
<path fill="#ff0" d="M238 428.8l3.7-1.6-2.2 3-3.7 1.9z"/>
<g fill="#efff10"><path d="M234.3 430.2l3.7-1.4-2.2 3.3-3.6 1.5z"/><path d="M230.7 431.3l3.6-1.1-2.1 3.4-3.7 1.2z"/><path d="M227 432l3.7-.7-2.2 3.5-3.6 .9z"/><path d="M223.4 432.4l3.6-.4-2.1 3.7-3.7 .4z"/><path d="M219.7 432.4l3.7 0-2.2 3.7-3.7-.1z"/><path d="M216 432l3.7 .4-2.2 3.6-3.6-.5z"/><path d="M212.4 431.2l3.6 .8-2.1 3.5-3.7-.9z"/></g>
<path fill="#ff0" d="M208.7 430.1l3.7 1.1-2.2 3.4-3.6-1.2z"/>
<path fill="#ffef00" d="M205 428.8l3.7 1.3-2.1 3.3-3.7-1.6z"/>
<path fill="#ffdf00" d="M201.4 427.2l3.6 1.6-2.1 3-3.7-1.8z"/>
<path fill="#ffcf00" d="M197.7 425.5l3.7 1.7-2.2 2.8-3.6-1.9z"/>
<path fill="#ffbf00" d="M194 423.6l3.7 1.9-2.1 2.6-3.7-2.1z"/>
<path fill="#ffaf00" d="M190.4 421.6l3.6 2-2.1 2.4-3.7-2.2z"/>
<path fill="#ff9f00" d="M186.7 419.5l3.7 2.1-2.2 2.2-3.6-2.3z"/>
<path fill="#ff8f00" d="M183.1 417.4l3.6 2.1-2.1 2-3.7-2.3z"/>
<path fill="#ff8000" d="M179.4 415.2l3.7 2.2-2.2 1.8-3.7-2.3z"/>
<path fill="#ff7000" d="M175.7 413l3.7 2.2-2.2 1.7-3.6-2.4z"/>
<path fill="#ff6000" d="M172.1 410.8l3.6 2.2-2.1 1.5-3.7-2.3z"/>
<path fill="#ff4000" d="M168.4 408.6l3.7 2.2-2.2 1.4-3.6-2.3z"/>
<path fill="#ff3000" d="M164.8 406.4l3.6 2.2-2.1 1.3-3.7-2.3z"/>
<path fill="#ff2000" d="M161.1 404.2l3.7 2.2-2.2 1.2-3.7-2.3z"/>
<path fill="#ff1000" d="M157.4 402l3.7 2.2-2.2 1.1-3.6-2.3z"/>
<path fill="#f00" d="M153.8 399.9l3.6 2.1-2.1 1-3.7-2.2z"/>
<g fill="#ef0000"><path d="M150.1 397.7l3.7 2.2-2.2 .9-3.6-2.2z"/><path class="t" d="M295.1 392.7l3.7-2.4-2.2 .9-3.7 2.5z"/></g>
<path fill="#f00" class="t" d="M291.4 395.1l3.7-2.4-2.2 1-3.6 2.5z"/>
<path fill="#ff1000" class="t" d="M287.8 397.5l3.6-2.4-2.1 1.1-3.7 2.5z"/>
<path fill="#ff2000" class="t" d="M284.1 399.9l3.7-2.4-2.2 1.2-3.6 2.5z"/>
<path fill="#ff4000" class="t" d="M280.4 402.4l3.7-2.5-2.1 1.3-3.7 2.5z"/>
<path fill="#ff5000" class="t" d="M276.8 404.8l3.6-2.4-2.1 1.3-3.7 2.6z"/>
<path fill="#ff6000" class="t" d="M273.1 407.2l3.7-2.4-2.2 1.5-3.6 2.5z"/>
<path fill="#ff7000" class="t" d="M269.4 409.6l3.7-2.4-2.1 1.6-3.7 2.5z"/>
<path fill="#ff8000" class="t" d="M265.8 411.9l3.6-2.3-2.1 1.7-3.7 2.5z"/>
<path fill="#ff8f00" class="t" d="M262.1 414.2l3.7-2.3-2.2 1.9-3.6 2.5z"/>
<path fill="#ff9f00" class="t" d="M258.5 416.5l3.6-2.3-2.1 2.1-3.7 2.4z"/>
<path fill="#ffaf00" class="t" d="M254.8 418.6l3.7-2.1-2.2 2.2-3.7 2.3z"/>
<path fill="#ffbf00" class="t" d="M251.1 420.7l3.7-2.1-2.2 2.4-3.6 2.2z"/>
<path fill="#ffcf00" d="M247.5 422.5l3.6-1.8-2.1 2.5-3.7 2.1z"/>
<g fill="#ffdf00"><path d="M243.8 424.3l3.7-1.8-2.2 2.8-3.6 1.9z"/><path d="M240.2 425.7l3.6-1.4-2.1 2.9-3.7 1.6z"/></g>
<g fill="#ffef00"><path d="M236.5 427l3.7-1.3-2.2 3.1-3.7 1.4z"/><path d="M232.8 427.9l3.7-.9-2.2 3.2-3.6 1.1z"/></g>
<g fill="#ff0"><path d="M229.2 428.6l3.6-.7-2.1 3.4-3.7 .7z"/><path d="M225.5 428.9l3.7-.3-2.2 3.4-3.6 .4z"/><path d="M221.8 428.9l3.7 0-2.1 3.5-3.7 0z"/></g>
<g fill="#ffef00"><path d="M218.2 428.6l3.6 .3-2.1 3.5-3.7-.4z"/><path d="M214.5 428l3.7 .6-2.2 3.4-3.6-.8z"/></g>
<g fill="#ffdf00"><path d="M210.8 427l3.7 1-2.1 3.2-3.7-1.1z"/><path d="M207.2 425.9l3.6 1.1-2.1 3.1-3.7-1.3z"/></g>
<path fill="#ffcf00" d="M203.5 424.5l3.7 1.4-2.2 2.9-3.6-1.6z"/>
<path fill="#ffbf00" d="M199.9 422.9l3.6 1.6-2.1 2.7-3.7-1.7z"/>
<path fill="#ffaf00" d="M196.2 421.2l3.7 1.7-2.2 2.6-3.7-1.9z"/>
<path fill="#ff9f00" d="M192.5 419.4l3.7 1.8-2.2 2.4-3.6-2z"/>
<path fill="#ff8f00" d="M188.9 417.5l3.6 1.9-2.1 2.2-3.7-2.1z"/>
<path fill="#ff8000" d="M185.2 415.5l3.7 2-2.2 2-3.6-2.1z"/>
<path fill="#ff7000" d="M181.6 413.5l3.6 2-2.1 1.9-3.7-2.2z"/>
<path fill="#ff6000" d="M177.9 411.4l3.7 2.1-2.2 1.7-3.7-2.2z"/>
<path fill="#ff5000" d="M174.2 409.3l3.7 2.1-2.2 1.6-3.6-2.2z"/>
<path fill="#ff4000" d="M170.6 407.2l3.6 2.1-2.1 1.5-3.7-2.2z"/>
<path fill="#ff2000" d="M166.9 405.1l3.7 2.1-2.2 1.4-3.6-2.2z"/>
<path fill="#ff1000" d="M163.2 403l3.7 2.1-2.1 1.3-3.7-2.2z"/>
<path fill="#f00" d="M159.6 401l3.6 2-2.1 1.2-3.7-2.2z"/>
<path fill="#ef0000" d="M155.9 398.9l3.7 2.1-2.2 1-3.6-2.1z"/>
<g fill="#df0000"><path d="M152.2 396.8l3.7 2.1-2.1 1-3.7-2.2z"/><path class="t" d="M297.2 391.6l3.7-2.3-2.1 1-3.7 2.4z"/></g>
<path fill="#f00" class="t" d="M293.6 394l3.6-2.4-2.1 1.1-3.7 2.4z"/>
<path fill="#ff1000" class="t" d="M289.9 396.3l3.7-2.3-2.2 1.1-3.6 2.4z"/>
<path fill="#ff2000" class="t" d="M286.2 398.6l3.7-2.3-2.1 1.2-3.7 2.4z"/>
<path fill="#ff3000" class="t" d="M282.6 400.9l3.6-2.3-2.1 1.3-3.7 2.5z"/>
<path fill="#ff4000" class="t" d="M278.9 403.3l3.7-2.4-2.2 1.5-3.6 2.4z"/>
<path fill="#ff5000" class="t" d="M275.3 405.5l3.6-2.2-2.1 1.5-3.7 2.4z"/>
<path fill="#ff6000" class="t" d="M271.6 407.8l3.7-2.3-2.2 1.7-3.7 2.4z"/>
<path fill="#ff7000" class="t" d="M267.9 410l3.7-2.2-2.2 1.8-3.6 2.3z"/>
<path fill="#ff8000" class="t" d="M264.3 412.2l3.6-2.2-2.1 1.9-3.7 2.3z"/>
<path fill="#ff8f00" class="t" d="M260.6 414.3l3.7-2.1-2.2 2-3.6 2.3z"/>
<path fill="#ff9f00" class="t" d="M257 416.2l3.6-1.9-2.1 2.2-3.7 2.1z"/>
<g fill="#ffaf00"><path class="t" d="M253.3 418.1l3.7-1.9-2.2 2.4-3.7 2.1z"/><path d="M249.6 419.8l3.7-1.7-2.2 2.6-3.6 1.8z"/></g>
<path fill="#ffbf00" d="M246 421.4l3.6-1.6-2.1 2.7-3.7 1.8z"/>
<g fill="#ffcf00"><path d="M242.3 422.7l3.7-1.3-2.2 2.9-3.6 1.4z"/><path d="M238.6 423.9l3.7-1.2-2.1 3-3.7 1.3z"/></g>
<g fill="#ffdf00"><path d="M235 424.7l3.6-.8-2.1 3.1-3.7 .9z"/><path d="M231.3 425.3l3.7-.6-2.2 3.2-3.6 .7z"/><path d="M227.6 425.6l3.7-.3-2.1 3.3-3.7 .3z"/><path d="M224 425.6l3.6 0-2.1 3.3-3.7 0z"/><path d="M220.3 425.4l3.7 .2-2.2 3.3-3.6-.3z"/></g>
<g fill="#ffcf00"><path d="M216.7 424.8l3.6 .6-2.1 3.2-3.7-.6z"/><path d="M213 424l3.7 .8-2.2 3.2-3.7-1z"/></g>
<path fill="#ffbf00" d="M209.3 423l3.7 1-2.2 3-3.6-1.1z"/>
<g fill="#ffaf00"><path d="M205.7 421.8l3.6 1.2-2.1 2.9-3.7-1.4z"/><path d="M202 420.4l3.7 1.4-2.2 2.7-3.6-1.6z"/></g>
<path fill="#ff9f00" d="M198.4 418.8l3.6 1.6-2.1 2.5-3.7-1.7z"/>
<path fill="#ff8f00" d="M194.7 417.2l3.7 1.6-2.2 2.4-3.7-1.8z"/>
<path fill="#ff8000" d="M191 415.4l3.7 1.8-2.2 2.2-3.6-1.9z"/>
<path fill="#ff7000" d="M187.4 413.6l3.6 1.8-2.1 2.1-3.7-2z"/>
<path fill="#ff6000" d="M183.7 411.7l3.7 1.9-2.2 1.9-3.6-2z"/>
<path fill="#ff5000" d="M180 409.8l3.7 1.9-2.1 1.8-3.7-2.1z"/>
<path fill="#ff4000" d="M176.4 407.8l3.6 2-2.1 1.6-3.7-2.1z"/>
<path fill="#ff3000" d="M172.7 405.8l3.7 2-2.2 1.5-3.6-2.1z"/>
<path fill="#ff2000" d="M169 403.8l3.7 2-2.1 1.4-3.7-2.1z"/>
<path fill="#ff1000" d="M165.4 401.8l3.6 2-2.1 1.3-3.7-2.1z"/>
<path fill="#f00" d="M161.7 399.8l3.7 2-2.2 1.2-3.6-2z"/>
<path fill="#df0000" d="M158.1 397.8l3.6 2-2.1 1.2-3.7-2.1z"/>
<path fill="#cf0000" d="M154.4 395.8l3.7 2-2.2 1.1-3.7-2.1z"/>
<path fill="#df0000" class="t" d="M299.4 390.5l3.6-2.2-2.1 1-3.7 2.3z"/>
<path fill="#ef0000" class="t" d="M295.7 392.8l3.7-2.3-2.2 1.1-3.6 2.4z"/>
<path fill="#f00" class="t" d="M292.1 395l3.6-2.2-2.1 1.2-3.7 2.3z"/>
<path fill="#ff1000" class="t" d="M288.4 397.2l3.7-2.2-2.2 1.3-3.7 2.3z"/>
<path fill="#ff2000" class="t" d="M284.7 399.5l3.7-2.3-2.2 1.4-3.6 2.3z"/>
<path fill="#ff3000" class="t" d="M281.1 401.7l3.6-2.2-2.1 1.4-3.7 2.4z"/>
<path fill="#ff4000" class="t" d="M277.4 403.8l3.7-2.1-2.2 1.6-3.6 2.2z"/>
<path fill="#ff5000" class="t" d="M273.8 406l3.6-2.2-2.1 1.7-3.7 2.3z"/>
<path fill="#ff6000" class="t" d="M270.1 408.1l3.7-2.1-2.2 1.8-3.7 2.2z"/>
<path fill="#ff7000" class="t" d="M266.4 410.1l3.7-2-2.2 1.9-3.6 2.2z"/>
<g fill="#ff8000"><path class="t" d="M262.8 412l3.6-1.9-2.1 2.1-3.7 2.1z"/><path class="t" d="M259.1 413.9l3.7-1.9-2.2 2.3-3.6 1.9z"/></g>
<path fill="#ff8f00" d="M255.4 415.6l3.7-1.7-2.1 2.3-3.7 1.9z"/>
<path fill="#ff9f00" d="M251.8 417.2l3.6-1.6-2.1 2.5-3.7 1.7z"/>
<g fill="#ffaf00"><path d="M248.1 418.6l3.7-1.4-2.2 2.6-3.6 1.6z"/><path d="M244.4 419.8l3.7-1.2-2.1 2.8-3.7 1.3z"/></g>
<g fill="#ffbf00"><path d="M240.8 420.8l3.6-1-2.1 2.9-3.7 1.2z"/><path d="M237.1 421.6l3.7-.8-2.2 3.1-3.6 .8z"/><path d="M233.5 422.2l3.6-.6-2.1 3.1-3.7 .6z"/><path d="M229.8 422.5l3.7-.3-2.2 3.1-3.7 .3z"/><path d="M226.1 422.5l3.7 0-2.2 3.1-3.6 0z"/><path d="M222.5 422.3l3.6 .2-2.1 3.1-3.7-.2z"/><path d="M218.8 421.8l3.7 .5-2.2 3.1-3.6-.6z"/></g>
<g fill="#ffaf00"><path d="M215.2 421.1l3.6 .7-2.1 3-3.7-.8z"/><path d="M211.5 420.2l3.7 .9-2.2 2.9-3.7-1z"/></g>
<path fill="#ff9f00" d="M207.8 419.1l3.7 1.1-2.2 2.8-3.6-1.2z"/>
<path fill="#ff8f00" d="M204.2 417.9l3.6 1.2-2.1 2.7-3.7-1.4z"/>
<g fill="#ff8000"><path d="M200.5 416.5l3.7 1.4-2.2 2.5-3.6-1.6z"/><path d="M196.8 415l3.7 1.5-2.1 2.3-3.7-1.6z"/></g>
<path fill="#ff7000" d="M193.2 413.3l3.6 1.7-2.1 2.2-3.7-1.8z"/>
<path fill="#ff6000" d="M189.5 411.6l3.7 1.7-2.2 2.1-3.6-1.8z"/>
<path fill="#ff5000" d="M185.8 409.9l3.7 1.7-2.1 2-3.7-1.9z"/>
<path fill="#ff4000" d="M182.2 408.1l3.6 1.8-2.1 1.8-3.7-1.9z"/>
<path fill="#ff3000" d="M178.5 406.2l3.7 1.9-2.2 1.7-3.6-2z"/>
<path fill="#ff2000" d="M174.9 404.3l3.6 1.9-2.1 1.6-3.7-2z"/>
<path fill="#ff1000" d="M171.2 402.4l3.7 1.9-2.2 1.5-3.7-2z"/>
<path fill="#f00" d="M167.5 400.5l3.7 1.9-2.2 1.4-3.6-2z"/>
<path fill="#ef0000" d="M163.9 398.6l3.6 1.9-2.1 1.3-3.7-2z"/>
<path fill="#df0000" d="M160.2 396.7l3.7 1.9-2.2 1.2-3.6-2z"/>
<g fill="#cf0000"><path d="M156.5 394.8l3.7 1.9-2.1 1.1-3.7-2z"/><path class="t" d="M301.5 389.3l3.7-2.1-2.2 1.1-3.6 2.2z"/></g>
<path fill="#df0000" class="t" d="M297.9 391.5l3.6-2.2-2.1 1.2-3.7 2.3z"/>
<path fill="#ef0000" class="t" d="M294.2 393.7l3.7-2.2-2.2 1.3-3.6 2.2z"/>
<path fill="#f00" class="t" d="M290.6 395.8l3.6-2.1-2.1 1.3-3.7 2.2z"/>
<path fill="#ff1000" class="t" d="M286.9 397.9l3.7-2.1-2.2 1.4-3.7 2.3z"/>
<path fill="#ff2000" class="t" d="M283.2 400l3.7-2.1-2.2 1.6-3.6 2.2z"/>
<path fill="#ff3000" class="t" d="M279.6 402.1l3.6-2.1-2.1 1.7-3.7 2.1z"/>
<path fill="#ff4000" class="t" d="M275.9 404.1l3.7-2-2.2 1.7-3.6 2.2z"/>
<path fill="#ff5000" class="t" d="M272.2 406.1l3.7-2-2.1 1.9-3.7 2.1z"/>
<g fill="#ff6000"><path class="t" d="M268.6 408l3.6-1.9-2.1 2-3.7 2z"/><path class="t" d="M264.9 409.8l3.7-1.8-2.2 2.1-3.6 1.9z"/></g>
<path fill="#ff7000" class="t" d="M261.2 411.5l3.7-1.7-2.1 2.2-3.7 1.9z"/>
<path fill="#ff8000" d="M257.6 413.1l3.6-1.6-2.1 2.4-3.7 1.7z"/>
<g fill="#ff8f00"><path d="M253.9 414.6l3.7-1.5-2.2 2.5-3.6 1.6z"/><path d="M250.3 415.9l3.6-1.3-2.1 2.6-3.7 1.4z"/></g>
<g fill="#ff9f00"><path d="M246.6 417l3.7-1.1-2.2 2.7-3.7 1.2z"/><path d="M242.9 417.9l3.7-.9-2.2 2.8-3.6 1z"/><path d="M239.3 418.7l3.6-.8-2.1 2.9-3.7 .8z"/><path d="M235.6 419.2l3.7-.5-2.2 2.9-3.6 .6z"/><path d="M232 419.4l3.6-.2-2.1 3-3.7 .3z"/><path d="M228.3 419.5l3.7-.1-2.2 3.1-3.7 0z"/><path d="M224.6 419.3l3.7 .2-2.2 3-3.6-.2z"/><path d="M221 418.9l3.6 .4-2.1 3-3.7-.5z"/><path d="M217.3 418.3l3.7 .6-2.2 2.9-3.6-.7z"/></g>
<g fill="#ff8f00"><path d="M213.6 417.5l3.7 .8-2.1 2.8-3.7-.9z"/><path d="M210 416.5l3.6 1-2.1 2.7-3.7-1.1z"/></g>
<path fill="#ff8000" d="M206.3 415.4l3.7 1.1-2.2 2.6-3.6-1.2z"/>
<path fill="#ff7000" d="M202.6 414.1l3.7 1.3-2.1 2.5-3.7-1.4z"/>
<g fill="#ff6000"><path d="M199 412.7l3.6 1.4-2.1 2.4-3.7-1.5z"/><path d="M195.3 411.2l3.7 1.5-2.2 2.3-3.6-1.7z"/></g>
<path fill="#ff5000" d="M191.7 409.7l3.6 1.5-2.1 2.1-3.7-1.7z"/>
<path fill="#ff4000" d="M188 408l3.7 1.7-2.2 1.9-3.7-1.7z"/>
<path fill="#ff3000" d="M184.3 406.3l3.7 1.7-2.2 1.9-3.6-1.8z"/>
<path fill="#ff2000" d="M180.7 404.6l3.6 1.7-2.1 1.8-3.7-1.9z"/>
<path fill="#ff1000" d="M177 402.8l3.7 1.8-2.2 1.6-3.6-1.9z"/>
<path fill="#f00" d="M173.4 401l3.6 1.8-2.1 1.5-3.7-1.9z"/>
<path fill="#ef0000" d="M169.7 399.2l3.7 1.8-2.2 1.4-3.7-1.9z"/>
<path fill="#df0000" d="M166 397.3l3.7 1.9-2.2 1.3-3.6-1.9z"/>
<path fill="#cf0000" d="M162.4 395.5l3.6 1.8-2.1 1.3-3.7-1.9z"/>
<g fill="#bf0000"><path d="M158.7 393.7l3.7 1.8-2.2 1.2-3.7-1.9z"/><path class="t" d="M303.7 388.1l3.7-2.1-2.2 1.2-3.7 2.1z"/></g>
<path fill="#cf0000" class="t" d="M300 390.2l3.7-2.1-2.2 1.2-3.6 2.2z"/>
<path fill="#df0000" class="t" d="M296.4 392.3l3.6-2.1-2.1 1.3-3.7 2.2z"/>
<path fill="#ef0000" class="t" d="M292.7 394.3l3.7-2-2.2 1.4-3.6 2.1z"/>
<path fill="#f00" class="t" d="M289 396.4l3.7-2.1-2.1 1.5-3.7 2.1z"/>
<path fill="#ff1000" class="t" d="M285.4 398.4l3.6-2-2.1 1.5-3.7 2.1z"/>
<path fill="#ff2000" class="t" d="M281.7 400.3l3.7-1.9-2.2 1.6-3.6 2.1z"/>
<path fill="#ff3000" class="t" d="M278 402.2l3.7-1.9-2.1 1.8-3.7 2z"/>
<g fill="#ff4000"><path class="t" d="M274.4 404.1l3.6-1.9-2.1 1.9-3.7 2z"/><path class="t" d="M270.7 405.9l3.7-1.8-2.2 2-3.6 1.9z"/></g>
<path fill="#ff5000" class="t" d="M267.1 407.6l3.6-1.7-2.1 2.1-3.7 1.8z"/>
<path fill="#ff6000" class="t" d="M263.4 409.2l3.7-1.6-2.2 2.2-3.7 1.7z"/>
<g fill="#ff7000"><path d="M259.7 410.7l3.7-1.5-2.2 2.3-3.6 1.6z"/><path d="M256.1 412l3.6-1.3-2.1 2.4-3.7 1.5z"/></g>
<g fill="#ff8000"><path d="M252.4 413.2l3.7-1.2-2.2 2.6-3.6 1.3z"/><path d="M248.8 414.3l3.6-1.1-2.1 2.7-3.7 1.1z"/><path d="M245.1 415.1l3.7-.8-2.2 2.7-3.7 .9z"/></g>
<g fill="#ff8f00"><path d="M241.4 415.8l3.7-.7-2.2 2.8-3.6 .8z"/><path d="M237.8 416.3l3.6-.5-2.1 2.9-3.7 .5z"/><path d="M234.1 416.5l3.7-.2-2.2 2.9-3.6 .2z"/><path d="M230.4 416.6l3.7-.1-2.1 2.9-3.7 .1z"/><path d="M226.8 416.4l3.6 .2-2.1 2.9-3.7-.2z"/></g>
<g fill="#ff8000"><path d="M223.1 416.1l3.7 .3-2.2 2.9-3.6-.4z"/><path d="M219.4 415.6l3.7 .5-2.1 2.8-3.7-.6z"/><path d="M215.8 414.8l3.6 .8-2.1 2.7-3.7-.8z"/></g>
<g fill="#ff7000"><path d="M212.1 414l3.7 .8-2.2 2.7-3.6-1z"/><path d="M208.5 412.9l3.6 1.1-2.1 2.5-3.7-1.1z"/></g>
<path fill="#ff6000" d="M204.8 411.8l3.7 1.1-2.2 2.5-3.7-1.3z"/>
<path fill="#ff5000" d="M201.1 410.5l3.7 1.3-2.2 2.3-3.6-1.4z"/>
<g fill="#ff4000"><path d="M197.5 409.1l3.6 1.4-2.1 2.2-3.7-1.5z"/><path d="M193.8 407.7l3.7 1.4-2.2 2.1-3.6-1.5z"/></g>
<path fill="#ff3000" d="M190.2 406.1l3.6 1.6-2.1 2-3.7-1.7z"/>
<path fill="#ff2000" d="M186.5 404.6l3.7 1.5-2.2 1.9-3.7-1.7z"/>
<path fill="#ff1000" d="M182.8 402.9l3.7 1.7-2.2 1.7-3.6-1.7z"/>
<path fill="#f00" d="M179.2 401.2l3.6 1.7-2.1 1.7-3.7-1.8z"/>
<path fill="#ef0000" d="M175.5 399.5l3.7 1.7-2.2 1.6-3.6-1.8z"/>
<path fill="#df0000" d="M171.8 397.8l3.7 1.7-2.1 1.5-3.7-1.8z"/>
<path fill="#cf0000" d="M168.2 396l3.6 1.8-2.1 1.4-3.7-1.9z"/>
<path fill="#bf0000" d="M164.5 394.3l3.7 1.7-2.2 1.3-3.6-1.8z"/>
<path fill="#af0000" d="M160.8 392.5l3.7 1.8-2.1 1.2-3.7-1.8z"/>
<g fill="#bf0000"><path class="t" d="M305.8 386.8l3.7-2-2.1 1.2-3.7 2.1z"/><path class="t" d="M302.2 388.8l3.6-2-2.1 1.3-3.7 2.1z"/></g>
<path fill="#cf0000" class="t" d="M298.5 390.8l3.7-2-2.2 1.4-3.6 2.1z"/>
<path fill="#df0000" class="t" d="M294.8 392.8l3.7-2-2.1 1.5-3.7 2z"/>
<path fill="#ef0000" class="t" d="M291.2 394.8l3.6-2-2.1 1.5-3.7 2.1z"/>
<path fill="#f00" class="t" d="M287.5 396.7l3.7-1.9-2.2 1.6-3.6 2z"/>
<path fill="#ff1000" class="t" d="M283.9 398.5l3.6-1.8-2.1 1.7-3.7 1.9z"/>
<g fill="#ff2000"><path class="t" d="M280.2 400.4l3.7-1.9-2.2 1.8-3.7 1.9z"/><path class="t" d="M276.5 402.1l3.7-1.7-2.2 1.8-3.6 1.9z"/></g>
<path fill="#ff3000" class="t" d="M272.9 403.8l3.6-1.7-2.1 2-3.7 1.8z"/>
<path fill="#ff4000" class="t" d="M269.2 405.4l3.7-1.6-2.2 2.1-3.6 1.7z"/>
<g fill="#ff5000"><path d="M265.5 406.9l3.7-1.5-2.1 2.2-3.7 1.6z"/><path d="M261.9 408.3l3.6-1.4-2.1 2.3-3.7 1.5z"/></g>
<g fill="#ff6000"><path d="M258.2 409.5l3.7-1.2-2.2 2.4-3.6 1.3z"/><path d="M254.6 410.6l3.6-1.1-2.1 2.5-3.7 1.2z"/></g>
<g fill="#ff7000"><path d="M250.9 411.6l3.7-1-2.2 2.6-3.6 1.1z"/><path d="M247.2 412.4l3.7-.8-2.1 2.7-3.7 .8z"/><path d="M243.6 413l3.6-.6-2.1 2.7-3.7 .7z"/><path d="M239.9 413.5l3.7-.5-2.2 2.8-3.6 .5z"/><path d="M236.2 413.7l3.7-.2-2.1 2.8-3.7 .2z"/><path d="M232.6 413.8l3.6-.1-2.1 2.8-3.7 .1z"/><path d="M228.9 413.7l3.7 .1-2.2 2.8-3.6-.2z"/><path d="M225.3 413.4l3.6 .3-2.1 2.7-3.7-.3z"/><path d="M221.6 412.9l3.7 .5-2.2 2.7-3.7-.5z"/></g>
<g fill="#ff6000"><path d="M217.9 412.3l3.7 .6-2.2 2.7-3.6-.8z"/><path d="M214.3 411.5l3.6 .8-2.1 2.5-3.7-.8z"/></g>
<g fill="#ff5000"><path d="M210.6 410.5l3.7 1-2.2 2.5-3.6-1.1z"/><path d="M207 409.5l3.6 1-2.1 2.4-3.7-1.1z"/></g>
<path fill="#ff4000" d="M203.3 408.3l3.7 1.2-2.2 2.3-3.7-1.3z"/>
<path fill="#ff3000" d="M199.6 407l3.7 1.3-2.2 2.2-3.6-1.4z"/>
<g fill="#ff2000"><path d="M196 405.7l3.6 1.3-2.1 2.1-3.7-1.4z"/><path d="M192.3 404.2l3.7 1.5-2.2 2-3.6-1.6z"/></g>
<path fill="#ff1000" d="M188.6 402.8l3.7 1.4-2.1 1.9-3.7-1.5z"/>
<path fill="#f00" d="M185 401.2l3.6 1.6-2.1 1.8-3.7-1.7z"/>
<path fill="#ef0000" d="M181.3 399.6l3.7 1.6-2.2 1.7-3.6-1.7z"/>
<path fill="#df0000" d="M177.6 398l3.7 1.6-2.1 1.6-3.7-1.7z"/>
<path fill="#cf0000" d="M174 396.4l3.6 1.6-2.1 1.5-3.7-1.7z"/>
<g fill="#bf0000"><path d="M170.3 394.7l3.7 1.7-2.2 1.4-3.6-1.8z"/><path d="M166.7 393l3.6 1.7-2.1 1.3-3.7-1.7z"/></g>
<g fill="#af0000"><path d="M163 391.3l3.7 1.7-2.2 1.3-3.7-1.8z"/><path class="t" d="M308 385.5l3.7-1.9-2.2 1.2-3.7 2z"/></g>
<g fill="#bf0000"><path class="t" d="M304.3 387.5l3.7-2-2.2 1.3-3.6 2z"/><path class="t" d="M300.7 389.4l3.6-1.9-2.1 1.3-3.7 2z"/></g>
<path fill="#cf0000" class="t" d="M297 391.3l3.7-1.9-2.2 1.4-3.7 2z"/>
<path fill="#df0000" class="t" d="M293.3 393.1l3.7-1.8-2.2 1.5-3.6 2z"/>
<path fill="#ef0000" class="t" d="M289.7 395l3.6-1.9-2.1 1.7-3.7 1.9z"/>
<path fill="#f00" class="t" d="M286 396.7l3.7-1.7-2.2 1.7-3.6 1.8z"/>
<g fill="#ff1000"><path class="t" d="M282.4 398.5l3.6-1.8-2.1 1.8-3.7 1.9z"/><path class="t" d="M278.7 400.1l3.7-1.6-2.2 1.9-3.7 1.7z"/></g>
<path fill="#ff2000" class="t" d="M275 401.7l3.7-1.6-2.2 2-3.6 1.7z"/>
<g fill="#ff3000"><path class="t" d="M271.4 403.2l3.6-1.5-2.1 2.1-3.7 1.6z"/><path d="M267.7 404.6l3.7-1.4-2.2 2.2-3.7 1.5z"/></g>
<g fill="#ff4000"><path d="M264 405.9l3.7-1.3-2.2 2.3-3.6 1.4z"/><path d="M260.4 407.1l3.6-1.2-2.1 2.4-3.7 1.2z"/></g>
<g fill="#ff5000"><path d="M256.7 408.1l3.7-1-2.2 2.4-3.6 1.1z"/><path d="M253 409l3.7-.9-2.1 2.5-3.7 1z"/></g>
<g fill="#ff6000"><path d="M249.4 409.8l3.6-.8-2.1 2.6-3.7 .8z"/><path d="M245.7 410.4l3.7-.6-2.2 2.6-3.6 .6z"/><path d="M242.1 410.8l3.6-.4-2.1 2.6-3.7 .5z"/><path d="M238.4 411l3.7-.2-2.2 2.7-3.7 .2z"/><path d="M234.7 411.1l3.7-.1-2.2 2.7-3.6 .1z"/><path d="M231.1 411l3.6 .1-2.1 2.7-3.7-.1z"/><path d="M227.4 410.7l3.7 .3-2.2 2.7-3.6-.3z"/></g>
<g fill="#ff5000"><path d="M223.8 410.3l3.6 .4-2.1 2.7-3.7-.5z"/><path d="M220.1 409.7l3.7 .6-2.2 2.6-3.7-.6z"/></g>
<g fill="#ff4000"><path d="M216.4 409l3.7 .7-2.2 2.6-3.6-.8z"/><path d="M212.8 408.2l3.6 .8-2.1 2.5-3.7-1z"/></g>
<g fill="#ff3000"><path d="M209.1 407.2l3.7 1-2.2 2.3-3.6-1z"/><path d="M205.4 406.1l3.7 1.1-2.1 2.3-3.7-1.2z"/></g>
<path fill="#ff2000" d="M201.8 404.9l3.6 1.2-2.1 2.2-3.7-1.3z"/>
<g fill="#ff1000"><path d="M198.1 403.7l3.7 1.2-2.2 2.1-3.6-1.3z"/><path d="M194.5 402.4l3.6 1.3-2.1 2-3.7-1.5z"/></g>
<path fill="#f00" d="M190.8 401l3.7 1.4-2.2 1.8-3.7-1.4z"/>
<path fill="#ef0000" d="M187.1 399.5l3.7 1.5-2.2 1.8-3.6-1.6z"/>
<path fill="#df0000" d="M183.5 398l3.6 1.5-2.1 1.7-3.7-1.6z"/>
<path fill="#cf0000" d="M179.8 396.5l3.7 1.5-2.2 1.6-3.7-1.6z"/>
<g fill="#bf0000"><path d="M176.1 394.9l3.7 1.6-2.2 1.5-3.6-1.6z"/><path d="M172.5 393.3l3.6 1.6-2.1 1.5-3.7-1.7z"/></g>
<path fill="#af0000" d="M168.8 391.7l3.7 1.6-2.2 1.4-3.6-1.7z"/>
<g fill="#9f0000"><path d="M165.2 390.1l3.6 1.6-2.1 1.3-3.7-1.7z"/><path class="t" d="M310.1 384.2l3.7-1.9-2.1 1.3-3.7 1.9z"/></g>
<path fill="#af0000" class="t" d="M306.5 386l3.6-1.8-2.1 1.3-3.7 2z"/>
<g fill="#bf0000"><path class="t" d="M302.8 387.9l3.7-1.9-2.2 1.5-3.6 1.9z"/><path class="t" d="M299.2 389.7l3.6-1.8-2.1 1.5-3.7 1.9z"/></g>
<path fill="#cf0000" class="t" d="M295.5 391.5l3.7-1.8-2.2 1.6-3.7 1.8z"/>
<path fill="#df0000" class="t" d="M291.8 393.2l3.7-1.7-2.2 1.6-3.6 1.9z"/>
<path fill="#ef0000" class="t" d="M288.2 394.9l3.6-1.7-2.1 1.8-3.7 1.7z"/>
<g fill="#f00"><path class="t" d="M284.5 396.6l3.7-1.7-2.2 1.8-3.6 1.8z"/><path class="t" d="M280.8 398.1l3.7-1.5-2.1 1.9-3.7 1.6z"/></g>
<path fill="#ff1000" class="t" d="M277.2 399.6l3.6-1.5-2.1 2-3.7 1.6z"/>
<g fill="#ff2000"><path class="t" d="M273.5 401l3.7-1.4-2.2 2.1-3.6 1.5z"/><path d="M269.8 402.4l3.7-1.4-2.1 2.2-3.7 1.4z"/></g>
<g fill="#ff3000"><path d="M266.2 403.6l3.6-1.2-2.1 2.2-3.7 1.3z"/><path d="M262.5 404.7l3.7-1.1-2.2 2.3-3.6 1.2z"/><path d="M258.9 405.7l3.6-1-2.1 2.4-3.7 1z"/></g>
<g fill="#ff4000"><path d="M255.2 406.5l3.7-.8-2.2 2.4-3.7 .9z"/><path d="M251.5 407.2l3.7-.7-2.2 2.5-3.6 .8z"/><path d="M247.9 407.8l3.6-.6-2.1 2.6-3.7 .6z"/><path d="M244.2 408.2l3.7-.4-2.2 2.6-3.6 .4z"/><path d="M240.6 408.4l3.6-.2-2.1 2.6-3.7 .2z"/><path d="M236.9 408.5l3.7-.1-2.2 2.6-3.7 .1z"/><path d="M233.2 408.4l3.7 .1-2.2 2.6-3.6-.1z"/><path d="M229.6 408.2l3.6 .2-2.1 2.6-3.7-.3z"/><path d="M225.9 407.8l3.7 .4-2.2 2.5-3.6-.4z"/></g>
<g fill="#ff3000"><path d="M222.2 407.3l3.7 .5-2.1 2.5-3.7-.6z"/><path d="M218.6 406.6l3.6 .7-2.1 2.4-3.7-.7z"/><path d="M214.9 405.9l3.7 .7-2.2 2.4-3.6-.8z"/></g>
<g fill="#ff2000"><path d="M211.2 405l3.7 .9-2.1 2.3-3.7-1z"/><path d="M207.6 404l3.6 1-2.1 2.2-3.7-1.1z"/></g>
<path fill="#ff1000" d="M203.9 402.9l3.7 1.1-2.2 2.1-3.6-1.2z"/>
<g fill="#f00"><path d="M200.3 401.7l3.6 1.2-2.1 2-3.7-1.2z"/><path d="M196.6 400.5l3.7 1.2-2.2 2-3.6-1.3z"/></g>
<path fill="#ef0000" d="M192.9 399.1l3.7 1.4-2.1 1.9-3.7-1.4z"/>
<path fill="#df0000" d="M189.3 397.8l3.6 1.3-2.1 1.9-3.7-1.5z"/>
<path fill="#cf0000" d="M185.6 396.4l3.7 1.4-2.2 1.7-3.6-1.5z"/>
<g fill="#bf0000"><path d="M182 394.9l3.6 1.5-2.1 1.6-3.7-1.5z"/><path d="M178.3 393.4l3.7 1.5-2.2 1.6-3.7-1.6z"/></g>
<path fill="#af0000" d="M174.6 391.9l3.7 1.5-2.2 1.5-3.6-1.6z"/>
<path fill="#9f0000" d="M171 390.3l3.6 1.6-2.1 1.4-3.7-1.6z"/>
<g fill="#8f0000"><path d="M167.3 388.8l3.7 1.5-2.2 1.4-3.6-1.6z"/><path class="t" d="M312.3 382.8l3.7-1.8-2.2 1.3-3.7 1.9z"/></g>
<path fill="#9f0000" class="t" d="M308.6 384.6l3.7-1.8-2.2 1.4-3.6 1.8z"/>
<path fill="#af0000" class="t" d="M305 386.4l3.6-1.8-2.1 1.4-3.7 1.9z"/>
<g fill="#bf0000"><path class="t" d="M301.3 388.1l3.7-1.7-2.2 1.5-3.6 1.8z"/><path class="t" d="M297.6 389.8l3.7-1.7-2.1 1.6-3.7 1.8z"/></g>
<path fill="#cf0000" class="t" d="M294 391.5l3.6-1.7-2.1 1.7-3.7 1.7z"/>
<g fill="#df0000"><path class="t" d="M290.3 393.1l3.7-1.6-2.2 1.7-3.6 1.7z"/><path class="t" d="M286.7 394.7l3.6-1.6-2.1 1.8-3.7 1.7z"/></g>
<path fill="#ef0000" class="t" d="M283 396.2l3.7-1.5-2.2 1.9-3.7 1.5z"/>
<g fill="#f00"><path class="t" d="M279.3 397.6l3.7-1.4-2.2 1.9-3.6 1.5z"/><path class="t" d="M275.7 398.9l3.6-1.3-2.1 2-3.7 1.4z"/></g>
<g fill="#ff1000"><path d="M272 400.2l3.7-1.3-2.2 2.1-3.7 1.4z"/><path d="M268.3 401.3l3.7-1.1-2.2 2.2-3.6 1.2z"/></g>
<g fill="#ff2000"><path d="M264.7 402.3l3.6-1-2.1 2.3-3.7 1.1z"/><path d="M261 403.3l3.7-1-2.2 2.4-3.6 1z"/><path d="M257.4 404.1l3.6-.8-2.1 2.4-3.7 .8z"/></g>
<g fill="#ff3000"><path d="M253.7 404.7l3.7-.6-2.2 2.4-3.7 .7z"/><path d="M250 405.2l3.7-.5-2.2 2.5-3.6 .6z"/><path d="M246.4 405.6l3.6-.4-2.1 2.6-3.7 .4z"/><path d="M242.7 405.9l3.7-.3-2.2 2.6-3.6 .2z"/><path d="M239 405.9l3.7 0-2.1 2.5-3.7 .1z"/><path d="M235.4 405.9l3.6 0-2.1 2.6-3.7-.1z"/><path d="M231.7 405.7l3.7 .2-2.2 2.5-3.6-.2z"/></g>
<g fill="#ff2000"><path d="M228 405.4l3.7 .3-2.1 2.5-3.7-.4z"/><path d="M224.4 404.9l3.6 .5-2.1 2.4-3.7-.5z"/><path d="M220.7 404.3l3.7 .6-2.2 2.4-3.6-.7z"/></g>
<g fill="#ff1000"><path d="M217.1 403.6l3.6 .7-2.1 2.3-3.7-.7z"/><path d="M213.4 402.8l3.7 .8-2.2 2.3-3.7-.9z"/></g>
<g fill="#f00"><path d="M209.7 401.8l3.7 1-2.2 2.2-3.6-1z"/><path d="M206.1 400.8l3.6 1-2.1 2.2-3.7-1.1z"/></g>
<path fill="#ef0000" d="M202.4 399.7l3.7 1.1-2.2 2.1-3.6-1.2z"/>
<g fill="#df0000"><path d="M198.8 398.6l3.6 1.1-2.1 2-3.7-1.2z"/><path d="M195.1 397.3l3.7 1.3-2.2 1.9-3.7-1.4z"/></g>
<path fill="#cf0000" d="M191.4 396l3.7 1.3-2.2 1.8-3.6-1.3z"/>
<g fill="#bf0000"><path d="M187.8 394.7l3.6 1.3-2.1 1.8-3.7-1.4z"/><path d="M184.1 393.3l3.7 1.4-2.2 1.7-3.6-1.5z"/></g>
<path fill="#af0000" d="M180.4 391.9l3.7 1.4-2.1 1.6-3.7-1.5z"/>
<path fill="#9f0000" d="M176.8 390.4l3.6 1.5-2.1 1.5-3.7-1.5z"/>
<path fill="#8f0000" d="M173.1 389l3.7 1.4-2.2 1.5-3.6-1.6z"/>
<g fill="#800000"><path d="M169.4 387.5l3.7 1.5-2.1 1.3-3.7-1.5z"/><path class="t" d="M314.4 381.4l3.7-1.8-2.1 1.4-3.7 1.8z"/></g>
<path fill="#8f0000" class="t" d="M310.8 383.1l3.6-1.7-2.1 1.4-3.7 1.8z"/>
<path fill="#9f0000" class="t" d="M307.1 384.9l3.7-1.8-2.2 1.5-3.6 1.8z"/>
<g fill="#af0000"><path class="t" d="M303.4 386.5l3.7-1.6-2.1 1.5-3.7 1.7z"/><path class="t" d="M299.8 388.2l3.6-1.7-2.1 1.6-3.7 1.7z"/></g>
<path fill="#bf0000" class="t" d="M296.1 389.8l3.7-1.6-2.2 1.6-3.6 1.7z"/>
<g fill="#cf0000"><path class="t" d="M292.5 391.3l3.6-1.5-2.1 1.7-3.7 1.6z"/><path class="t" d="M288.8 392.8l3.7-1.5-2.2 1.8-3.6 1.6z"/></g>
<path fill="#df0000" class="t" d="M285.1 394.2l3.7-1.4-2.1 1.9-3.7 1.5z"/>
<g fill="#ef0000"><path class="t" d="M281.5 395.5l3.6-1.3-2.1 2-3.7 1.4z"/><path d="M277.8 396.8l3.7-1.3-2.2 2.1-3.6 1.3z"/></g>
<g fill="#f00"><path d="M274.2 398l3.6-1.2-2.1 2.1-3.7 1.3z"/><path d="M270.5 399.1l3.7-1.1-2.2 2.2-3.7 1.1z"/></g>
<g fill="#ff1000"><path d="M266.8 400l3.7-.9-2.2 2.2-3.6 1z"/><path d="M263.2 400.9l3.6-.9-2.1 2.3-3.7 1z"/><path d="M259.5 401.7l3.7-.8-2.2 2.4-3.6 .8z"/><path d="M255.8 402.3l3.7-.6-2.1 2.4-3.7 .6z"/></g>
<g fill="#ff2000"><path d="M252.2 402.8l3.6-.5-2.1 2.4-3.7 .5z"/><path d="M248.5 403.1l3.7-.3-2.2 2.4-3.6 .4z"/><path d="M244.8 403.4l3.7-.3-2.1 2.5-3.7 .3z"/><path d="M241.2 403.5l3.6-.1-2.1 2.5-3.7 0z"/><path d="M237.5 403.4l3.7 .1-2.2 2.4-3.6 0z"/></g>
<g fill="#ff1000"><path d="M233.9 403.3l3.6 .1-2.1 2.5-3.7-.2z"/><path d="M230.2 403l3.7 .3-2.2 2.4-3.7-.3z"/><path d="M226.5 402.5l3.7 .5-2.2 2.4-3.6-.5z"/><path d="M222.9 402l3.6 .5-2.1 2.4-3.7-.6z"/></g>
<g fill="#f00"><path d="M219.2 401.3l3.7 .7-2.2 2.3-3.6-.7z"/><path d="M215.6 400.6l3.6 .7-2.1 2.3-3.7-.8z"/></g>
<g fill="#ef0000"><path d="M211.9 399.7l3.7 .9-2.2 2.2-3.7-1z"/><path d="M208.2 398.8l3.7 .9-2.2 2.1-3.6-1z"/></g>
<path fill="#df0000" d="M204.6 397.8l3.6 1-2.1 2-3.7-1.1z"/>
<g fill="#cf0000"><path d="M200.9 396.7l3.7 1.1-2.2 1.9-3.6-1.1z"/><path d="M197.2 395.5l3.7 1.2-2.1 1.9-3.7-1.3z"/></g>
<path fill="#bf0000" d="M193.6 394.3l3.6 1.2-2.1 1.8-3.7-1.3z"/>
<g fill="#af0000"><path d="M189.9 393l3.7 1.3-2.2 1.7-3.6-1.3z"/><path d="M186.2 391.7l3.7 1.3-2.1 1.7-3.7-1.4z"/></g>
<path fill="#9f0000" d="M182.6 390.4l3.6 1.3-2.1 1.6-3.7-1.4z"/>
<path fill="#8f0000" d="M178.9 389l3.7 1.4-2.2 1.5-3.6-1.5z"/>
<g fill="#800000"><path d="M175.3 387.6l3.6 1.4-2.1 1.4-3.7-1.4z"/><path d="M171.6 386.1l3.7 1.5-2.2 1.4-3.7-1.5z"/></g>
</g>
</g>
<g id="pd">
<path class="gr" d="M553.8 508.1L481.4 480.5M437.8 500.4L597.3 488.1M633.5 501.9L561.1 474.3M401.6 486.6L561.1 474.3M481.4 480.5L481.4 342.3M561.1 474.3L561.1 336.1M633.5 501.9L633.5 363.7M597.3 488.1L597.3 349.9M401.6 440.5L561.1 428.2M561.1 428.2L633.5 455.8M401.6 394.5L561.1 382.2M561.1 382.2L633.5 409.8M401.6 348.4L561.1 336.1M561.1 336.1L633.5 363.7"/>
<path class="ax" d="M401.6 348.4L401.6 486.6L474 514.2L633.5 501.9M474 514.2L477.4 515.5M474 514.2L470.4 514.5M553.8 508.1L557.1 509.3M437.8 500.4L434.2 500.7M633.5 501.9L636.9 503.2M401.6 486.6L398 486.9M401.6 486.6L398.2 485.3M401.6 440.5L398.2 439.3M401.6 394.5L398.2 393.2M401.6 348.4L398.2 347.1"/>
<path class="ct" stroke="#0050ff" d="M518 494.4L516.5 494.3L517.1 494.1L518.6 494.2L518 494.4z"/>
<path class="ct" stroke="#10ffef" d="M518.5 494.6L515.4 494.4L516.6 493.9L519.7 494.1L518.5 494.6z"/>
<path class="ct" stroke="#dfff20" d="M519 494.8L514.3 494.5L516.1 493.7L520.8 494L519 494.8z"/>
<path class="ct" stroke="#ff6000" d="M521.5 495.7L518.6 495.8L517 495.9L511.7 495.5L510.7 495.3L508.9 494.9L508.4 494.4L508.1 494.1L510.1 493.2L511.4 493.1L513.6 492.8L516.5 492.7L518.1 492.6L523.4 493L524.4 493.2L526.2 493.6L526.7 494.1L527 494.4L525 495.3L523.7 495.4L521.5 495.7z"/>
<path class="ct" stroke="#9f0000" d="M553.8 508.1L549.7 508.3L545.6 508.6L541.4 508.8L537.1 509L532.7 509.2L528.2 509.3L527.1 509.3L523.6 509.3L518.8 509.4L515.4 509.3L514 509.3L509 509.3L506.3 509.2L503.9 509.2L498.7 509L498.7 509L493.2 508.7L492 508.7L487.6 508.4L485.9 508.3L481.7 508L480.5 507.9L475.5 507.5L475.5 507.5L470.8 507L468.8 506.7L466.6 506.5L462.6 506L461.5 505.8L458.9 505.4L455.5 504.8L453.1 504.4L452.3 504.3L449.4 503.7L446.6 503L444.1 502.4L441.8 501.7L439.7 501.1L437.8 500.4M597.3 488.1L599 488.8L600.5 489.5L601.8 490.2L602.9 491L603.8 491.7L604.5 492.5L604.6 492.7L604.9 493.3L605.1 494.1L605.1 494.7L605.1 495L604.7 495.8L604.4 496.3L604.1 496.7L603.1 497.6L603.1 497.6L601.7 498.5L601.3 498.8L599.8 499.5L599.2 499.8L597.4 500.5L596.9 500.7L594.4 501.6L594.4 501.6L591.6 502.4L590.3 502.7L588.8 503.1L585.8 503.8L584.9 504L582.6 504.4L579.4 505L576.8 505.4L576 505.6L572.5 506.1L569 506.5L565.3 507L561.5 507.4L557.7 507.7L553.8 508.1M437.8 500.4L436.1 499.7L434.6 499L433.3 498.3L432.2 497.5L431.3 496.8L430.6 496L430.5 495.8L430.2 495.2L430 494.4L430 493.8L430 493.5L430.4 492.7L430.7 492.2L431 491.8L432 490.9L432 490.9L433.4 490L433.8 489.7L435.3 489L435.9 488.7L437.7 488L438.2 487.8L440.7 486.9L440.7 486.9L443.5 486.1L444.8 485.8L446.3 485.4L449.3 484.7L450.2 484.5L452.5 484.1L455.7 483.5L458.3 483.1L459.1 482.9L462.6 482.4L466.1 482L469.8 481.5L473.6 481.1L477.4 480.8L481.4 480.5M481.4 480.5L485.4 480.2L489.5 479.9L493.7 479.7L498 479.5L502.4 479.3L506.9 479.2L508 479.2L511.5 479.2L516.3 479.1L519.7 479.2L521.1 479.2L526.1 479.2L528.8 479.3L531.2 479.3L536.4 479.5L536.4 479.5L541.9 479.8L543.1 479.8L547.5 480.1L549.2 480.2L553.4 480.5L554.6 480.6L559.6 481.1L559.6 481.1L564.3 481.5L566.3 481.8L568.5 482L572.5 482.5L573.6 482.7L576.2 483.1L579.6 483.7L582 484.1L582.8 484.2L585.7 484.8L588.5 485.5L591 486.1L593.3 486.8L595.4 487.4L597.3 488.1"/>
<g class="sf">
<g fill="#800000"><path d="M558.9 380.4l4-.6-1.8-.9-4 .6z"/><path d="M554.9 381l4-.6-1.8-.9-4 .5z"/><path d="M550.9 381.5l4-.5-1.8-1-4 .6z"/><path d="M547 382.1l3.9-.6-1.8-.9-3.9 .5z"/><path d="M543 382.6l4-.5-1.8-1-4 .5z"/></g>
<g fill="#8f0000"><path d="M539 383.2l4-.6-1.8-1-4 .6z"/><path d="M535 383.7l4-.5-1.8-1-4 .5z"/><path d="M531 384.2l4-.5-1.8-1-4 .5z"/><path d="M527 384.8l4-.6-1.8-1-4 .5z"/><path d="M523 385.3l4-.5-1.8-1.1-4 .5z"/><path d="M519 385.8l4-.5-1.8-1.1-4 .5z"/><path d="M515.1 386.3l3.9-.5-1.8-1.1-4 .5z"/></g>
<g fill="#9f0000"><path d="M511.1 386.7l4-.4-1.9-1.1-3.9 .4z"/><path d="M507.1 387.2l4-.5-1.8-1.1-4 .5z"/><path d="M503.1 387.6l4-.4-1.8-1.1-4 .4z"/><path d="M499.1 388.1l4-.5-1.8-1.1-4 .4z"/><path d="M495.1 388.4l4-.3-1.8-1.2-4 .4z"/><path d="M491.1 388.8l4-.4-1.8-1.1-4 .4z"/><path d="M487.1 389.2l4-.4-1.8-1.1-4 .3z"/><path d="M483.2 389.5l3.9-.3-1.8-1.2-3.9 .3z"/><path d="M479.2 389.8l4-.3-1.8-1.2-4 .3z"/><path d="M475.2 390l4-.2-1.8-1.2-4 .3z"/><path d="M471.2 390.3l4-.3-1.8-1.1-4 .2z"/><path d="M467.2 390.5l4-.2-1.8-1.2-4 .3z"/><path d="M463.2 390.7l4-.2-1.8-1.1-4 .2z"/><path d="M459.2 390.9l4-.2-1.8-1.1-4 .2z"/><path d="M455.2 391l4-.1-1.8-1.1-4 .1z"/></g>
<g fill="#8f0000"><path d="M451.3 391.2l3.9-.2-1.8-1.1-4 .2z"/><path d="M447.3 391.3l4-.1-1.9-1.1-3.9 .1z"/><path d="M443.3 391.4l4-.1-1.8-1.1-4 .2z"/><path d="M439.3 391.5l4-.1-1.8-1-4 .1z"/><path d="M435.3 391.6l4-.1-1.8-1-4 .1z"/><path d="M431.3 391.7l4-.1-1.8-1-4 .1z"/><path d="M427.3 391.8l4-.1-1.8-1-4 .1z"/></g>
<g fill="#800000"><path d="M423.3 391.8l4 0-1.8-1-4 .1z"/><path class="t" d="M419.4 391.9l3.9-.1-1.8-.9-3.9 0z"/><path class="t" d="M415.4 392l4-.1-1.8-1-4 .1z"/><path class="t" d="M411.4 392l4 0-1.8-1-4 .1z"/><path class="t" d="M407.4 392.1l4-.1-1.8-.9-4 .1z"/><path class="t" d="M403.4 392.1l4 0-1.8-.9-4 0z"/><path d="M560.7 381.3l4-.5-1.8-1-4 .6z"/><path d="M556.7 381.9l4-.6-1.8-.9-4 .6z"/><path d="M552.8 382.5l3.9-.6-1.8-.9-4 .5z"/></g>
<g fill="#8f0000"><path d="M548.8 383.1l4-.6-1.9-1-3.9 .6z"/><path d="M544.8 383.6l4-.5-1.8-1-4 .5z"/><path d="M540.8 384.2l4-.6-1.8-1-4 .6z"/><path d="M536.8 384.7l4-.5-1.8-1-4 .5z"/><path d="M532.8 385.3l4-.6-1.8-1-4 .5z"/><path d="M528.8 385.8l4-.5-1.8-1.1-4 .6z"/><path d="M524.8 386.4l4-.6-1.8-1-4 .5z"/></g>
<g fill="#9f0000"><path d="M520.9 386.9l3.9-.5-1.8-1.1-4 .5z"/><path d="M516.9 387.4l4-.5-1.9-1.1-3.9 .5z"/><path d="M512.9 387.9l4-.5-1.8-1.1-4 .4z"/><path d="M508.9 388.3l4-.4-1.8-1.2-4 .5z"/><path d="M504.9 388.8l4-.5-1.8-1.1-4 .4z"/><path d="M500.9 389.2l4-.4-1.8-1.2-4 .5z"/><path d="M496.9 389.6l4-.4-1.8-1.1-4 .3z"/><path d="M492.9 390l4-.4-1.8-1.2-4 .4z"/><path d="M489 390.3l3.9-.3-1.8-1.2-4 .4z"/><path d="M485 390.7l4-.4-1.9-1.1-3.9 .3z"/><path d="M481 391l4-.3-1.8-1.2-4 .3z"/><path d="M477 391.2l4-.2-1.8-1.2-4 .2z"/><path d="M473 391.5l4-.3-1.8-1.2-4 .3z"/><path d="M469 391.7l4-.2-1.8-1.2-4 .2z"/><path d="M465 391.9l4-.2-1.8-1.2-4 .2z"/><path d="M461 392l4-.1-1.8-1.2-4 .2z"/><path d="M457.1 392.2l3.9-.2-1.8-1.1-4 .1z"/><path d="M453.1 392.3l4-.1-1.9-1.2-3.9 .2z"/><path d="M449.1 392.4l4-.1-1.8-1.1-4 .1z"/></g>
<g fill="#8f0000"><path d="M445.1 392.5l4-.1-1.8-1.1-4 .1z"/><path d="M441.1 392.6l4-.1-1.8-1.1-4 .1z"/><path d="M437.1 392.7l4-.1-1.8-1.1-4 .1z"/><path d="M433.1 392.7l4 0-1.8-1.1-4 .1z"/><path d="M429.1 392.8l4-.1-1.8-1-4 .1z"/><path d="M425.2 392.8l3.9 0-1.8-1-4 0z"/><path class="t" d="M421.2 392.9l4-.1-1.9-1-3.9 .1z"/></g>
<g fill="#800000"><path class="t" d="M417.2 392.9l4 0-1.8-1-4 .1z"/><path class="t" d="M413.2 393l4-.1-1.8-.9-4 0z"/><path class="t" d="M409.2 393l4 0-1.8-1-4 .1z"/><path class="t" d="M405.2 393.1l4-.1-1.8-.9-4 0z"/><path d="M562.5 382.3l4-.6-1.8-.9-4 .5z"/><path d="M558.6 382.9l3.9-.6-1.8-1-4 .6z"/></g>
<g fill="#8f0000"><path d="M554.6 383.5l4-.6-1.9-1-3.9 .6z"/><path d="M550.6 384l4-.5-1.8-1-4 .6z"/><path d="M546.6 384.6l4-.6-1.8-.9-4 .5z"/><path d="M542.6 385.2l4-.6-1.8-1-4 .6z"/><path d="M538.6 385.8l4-.6-1.8-1-4 .5z"/><path d="M534.6 386.3l4-.5-1.8-1.1-4 .6z"/></g>
<g fill="#9f0000"><path d="M530.6 386.9l4-.6-1.8-1-4 .5z"/><path d="M526.7 387.4l3.9-.5-1.8-1.1-4 .6z"/><path d="M522.7 388l4-.6-1.9-1-3.9 .5z"/><path d="M518.7 388.5l4-.5-1.8-1.1-4 .5z"/><path d="M514.7 389l4-.5-1.8-1.1-4 .5z"/><path d="M510.7 389.5l4-.5-1.8-1.1-4 .4z"/><path d="M506.7 390l4-.5-1.8-1.2-4 .5z"/></g>
<g fill="#af0000"><path d="M502.7 390.4l4-.4-1.8-1.2-4 .4z"/><path d="M498.7 390.8l4-.4-1.8-1.2-4 .4z"/><path d="M494.8 391.2l3.9-.4-1.8-1.2-4 .4z"/><path d="M490.8 391.6l4-.4-1.9-1.2-3.9 .3z"/><path d="M486.8 391.9l4-.3-1.8-1.3-4 .4z"/><path d="M482.8 392.2l4-.3-1.8-1.2-4 .3z"/><path d="M478.8 392.4l4-.2-1.8-1.2-4 .2z"/><path d="M474.8 392.7l4-.3-1.8-1.2-4 .3z"/><path d="M470.8 392.9l4-.2-1.8-1.2-4 .2z"/></g>
<g fill="#9f0000"><path d="M466.8 393l4-.1-1.8-1.2-4 .2z"/><path d="M462.9 393.2l3.9-.2-1.8-1.1-4 .1z"/><path d="M458.9 393.3l4-.1-1.9-1.2-3.9 .2z"/><path d="M454.9 393.4l4-.1-1.8-1.1-4 .1z"/><path d="M450.9 393.5l4-.1-1.8-1.1-4 .1z"/><path d="M446.9 393.6l4-.1-1.8-1.1-4 .1z"/><path d="M442.9 393.7l4-.1-1.8-1.1-4 .1z"/></g>
<g fill="#8f0000"><path d="M438.9 393.7l4 0-1.8-1.1-4 .1z"/><path d="M434.9 393.8l4-.1-1.8-1-4 0z"/><path d="M431 393.8l3.9 0-1.8-1.1-4 .1z"/><path class="t" d="M427 393.8l4 0-1.9-1-3.9 0z"/><path class="t" d="M423 393.9l4-.1-1.8-1-4 .1z"/><path class="t" d="M419 393.9l4 0-1.8-1-4 0z"/></g>
<g fill="#800000"><path class="t" d="M415 393.9l4 0-1.8-1-4 .1z"/><path class="t" d="M411 394l4-.1-1.8-.9-4 0z"/><path class="t" d="M407 394l4 0-1.8-1-4 .1z"/><path d="M564.4 383.2l3.9-.6-1.8-.9-4 .6z"/></g>
<g fill="#8f0000"><path d="M560.4 383.8l4-.6-1.9-.9-3.9 .6z"/><path d="M556.4 384.4l4-.6-1.8-.9-4 .6z"/><path d="M552.4 385l4-.6-1.8-.9-4 .5z"/><path d="M548.4 385.6l4-.6-1.8-1-4 .6z"/><path d="M544.4 386.2l4-.6-1.8-1-4 .6z"/><path d="M540.4 386.8l4-.6-1.8-1-4 .6z"/></g>
<g fill="#9f0000"><path d="M536.4 387.4l4-.6-1.8-1-4 .5z"/><path d="M532.5 388l3.9-.6-1.8-1.1-4 .6z"/><path d="M528.5 388.5l4-.5-1.9-1.1-3.9 .5z"/><path d="M524.5 389.1l4-.6-1.8-1.1-4 .6z"/><path d="M520.5 389.6l4-.5-1.8-1.1-4 .5z"/></g>
<g fill="#af0000"><path d="M516.5 390.2l4-.6-1.8-1.1-4 .5z"/><path d="M512.5 390.7l4-.5-1.8-1.2-4 .5z"/><path d="M508.5 391.2l4-.5-1.8-1.2-4 .5z"/><path d="M504.5 391.6l4-.4-1.8-1.2-4 .4z"/><path d="M500.6 392l3.9-.4-1.8-1.2-4 .4z"/><path d="M496.6 392.4l4-.4-1.9-1.2-3.9 .4z"/><path d="M492.6 392.8l4-.4-1.8-1.2-4 .4z"/><path d="M488.6 393.1l4-.3-1.8-1.2-4 .3z"/><path d="M484.6 393.4l4-.3-1.8-1.2-4 .3z"/><path d="M480.6 393.7l4-.3-1.8-1.2-4 .2z"/><path d="M476.6 393.9l4-.2-1.8-1.3-4 .3z"/><path d="M472.6 394.1l4-.2-1.8-1.2-4 .2z"/><path d="M468.7 394.2l3.9-.1-1.8-1.2-4 .1z"/><path d="M464.7 394.4l4-.2-1.9-1.2-3.9 .2z"/><path d="M460.7 394.5l4-.1-1.8-1.2-4 .1z"/></g>
<g fill="#9f0000"><path d="M456.7 394.6l4-.1-1.8-1.2-4 .1z"/><path d="M452.7 394.6l4 0-1.8-1.2-4 .1z"/><path d="M448.7 394.7l4-.1-1.8-1.1-4 .1z"/><path d="M444.7 394.7l4 0-1.8-1.1-4 .1z"/><path d="M440.7 394.8l4-.1-1.8-1-4 0z"/></g>
<g fill="#8f0000"><path d="M436.8 394.8l3.9 0-1.8-1.1-4 .1z"/><path d="M432.8 394.8l4 0-1.9-1-3.9 0z"/><path class="t" d="M428.8 394.8l4 0-1.8-1-4 0z"/><path class="t" d="M424.8 394.9l4-.1-1.8-1-4 .1z"/><path class="t" d="M420.8 394.9l4 0-1.8-1-4 0z"/><path class="t" d="M416.8 394.9l4 0-1.8-1-4 0z"/></g>
<g fill="#800000"><path class="t" d="M412.8 394.9l4 0-1.8-1-4 .1z"/><path class="t" d="M408.8 394.9l4 0-1.8-.9-4 0z"/><path d="M566.2 384.2l4-.7-1.9-.9-3.9 .6z"/></g>
<g fill="#8f0000"><path d="M562.2 384.8l4-.6-1.8-1-4 .6z"/><path d="M558.2 385.4l4-.6-1.8-1-4 .6z"/><path d="M554.2 386l4-.6-1.8-1-4 .6z"/><path d="M550.2 386.6l4-.6-1.8-1-4 .6z"/></g>
<g fill="#9f0000"><path d="M546.2 387.2l4-.6-1.8-1-4 .6z"/><path d="M542.2 387.8l4-.6-1.8-1-4 .6z"/><path d="M538.2 388.5l4-.7-1.8-1-4 .6z"/><path d="M534.3 389.1l3.9-.6-1.8-1.1-3.9 .6z"/><path d="M530.3 389.6l4-.5-1.8-1.1-4 .5z"/></g>
<g fill="#af0000"><path d="M526.3 390.2l4-.6-1.8-1.1-4 .6z"/><path d="M522.3 390.8l4-.6-1.8-1.1-4 .5z"/><path d="M518.3 391.3l4-.5-1.8-1.2-4 .6z"/><path d="M514.3 391.9l4-.6-1.8-1.1-4 .5z"/><path d="M510.3 392.4l4-.5-1.8-1.2-4 .5z"/><path d="M506.4 392.8l3.9-.4-1.8-1.2-4 .4z"/><path d="M502.4 393.3l4-.5-1.9-1.2-3.9 .4z"/><path d="M498.4 393.7l4-.4-1.8-1.3-4 .4z"/><path d="M494.4 394.1l4-.4-1.8-1.3-4 .4z"/><path d="M490.4 394.4l4-.3-1.8-1.3-4 .3z"/><path d="M486.4 394.7l4-.3-1.8-1.3-4 .3z"/><path d="M482.4 394.9l4-.2-1.8-1.3-4 .3z"/><path d="M478.4 395.1l4-.2-1.8-1.2-4 .2z"/><path d="M474.4 395.3l4-.2-1.8-1.2-4 .2z"/><path d="M470.5 395.4l3.9-.1-1.8-1.2-3.9 .1z"/><path d="M466.5 395.6l4-.2-1.8-1.2-4 .2z"/><path d="M462.5 395.6l4 0-1.8-1.2-4 .1z"/><path d="M458.5 395.7l4-.1-1.8-1.1-4 .1z"/><path d="M454.5 395.8l4-.1-1.8-1.1-4 0z"/></g>
<g fill="#9f0000"><path d="M450.5 395.8l4 0-1.8-1.2-4 .1z"/><path d="M446.5 395.8l4 0-1.8-1.1-4 0z"/><path d="M442.6 395.8l3.9 0-1.8-1.1-4 .1z"/><path d="M438.6 395.8l4 0-1.9-1-3.9 0z"/><path d="M434.6 395.8l4 0-1.8-1-4 0z"/></g>
<g fill="#8f0000"><path class="t" d="M430.6 395.8l4 0-1.8-1-4 0z"/><path class="t" d="M426.6 395.8l4 0-1.8-1-4 .1z"/><path class="t" d="M422.6 395.8l4 0-1.8-.9-4 0z"/><path class="t" d="M418.6 395.8l4 0-1.8-.9-4 0z"/></g>
<g fill="#800000"><path class="t" d="M414.6 395.8l4 0-1.8-.9-4 0z"/><path class="t" d="M410.6 395.8l4 0-1.8-.9-4 0z"/></g>
<g fill="#8f0000"><path d="M568 385.1l4-.6-1.8-1-4 .7z"/><path d="M564 385.7l4-.6-1.8-.9-4 .6z"/><path d="M560 386.3l4-.6-1.8-.9-4 .6z"/><path d="M556 387l4-.7-1.8-.9-4 .6z"/></g>
<g fill="#9f0000"><path d="M552 387.6l4-.6-1.8-1-4 .6z"/><path d="M548 388.2l4-.6-1.8-1-4 .6z"/><path d="M544 388.9l4-.7-1.8-1-4 .6z"/><path d="M540.1 389.5l3.9-.6-1.8-1.1-4 .7z"/><path d="M536.1 390.1l4-.6-1.9-1-3.9 .6z"/></g>
<g fill="#af0000"><path d="M532.1 390.8l4-.7-1.8-1-4 .5z"/><path d="M528.1 391.4l4-.6-1.8-1.2-4 .6z"/><path d="M524.1 392l4-.6-1.8-1.2-4 .6z"/><path d="M520.1 392.5l4-.5-1.8-1.2-4 .5z"/><path d="M516.1 393.1l4-.6-1.8-1.2-4 .6z"/><path d="M512.1 393.6l4-.5-1.8-1.2-4 .5z"/></g>
<g fill="#bf0000"><path d="M508.2 394.1l3.9-.5-1.8-1.2-3.9 .4z"/><path d="M504.2 394.6l4-.5-1.8-1.3-4 .5z"/><path d="M500.2 395l4-.4-1.8-1.3-4 .4z"/><path d="M496.2 395.4l4-.4-1.8-1.3-4 .4z"/><path d="M492.2 395.7l4-.3-1.8-1.3-4 .3z"/><path d="M488.2 396l4-.3-1.8-1.3-4 .3z"/><path d="M484.2 396.2l4-.2-1.8-1.3-4 .2z"/><path d="M480.2 396.4l4-.2-1.8-1.3-4 .2z"/><path d="M476.3 396.6l3.9-.2-1.8-1.3-4 .2z"/></g>
<g fill="#af0000"><path d="M472.3 396.7l4-.1-1.9-1.3-3.9 .1z"/><path d="M468.3 396.8l4-.1-1.8-1.3-4 .2z"/><path d="M464.3 396.8l4 0-1.8-1.2-4 0z"/><path d="M460.3 396.9l4-.1-1.8-1.2-4 .1z"/><path d="M456.3 396.9l4 0-1.8-1.2-4 .1z"/><path d="M452.3 396.9l4 0-1.8-1.1-4 0z"/></g>
<g fill="#9f0000"><path d="M448.3 396.9l4 0-1.8-1.1-4 0z"/><path d="M444.4 396.9l3.9 0-1.8-1.1-3.9 0z"/><path d="M440.4 396.9l4 0-1.8-1.1-4 0z"/><path class="t" d="M436.4 396.9l4 0-1.8-1.1-4 0z"/><path class="t" d="M432.4 396.8l4 .1-1.8-1.1-4 0z"/></g>
<g fill="#8f0000"><path class="t" d="M428.4 396.8l4 0-1.8-1-4 0z"/><path class="t" d="M424.4 396.8l4 0-1.8-1-4 0z"/><path class="t" d="M420.4 396.8l4 0-1.8-1-4 0z"/><path class="t" d="M416.4 396.8l4 0-1.8-1-4 0z"/></g>
<path fill="#800000" class="t" d="M412.5 396.8l3.9 0-1.8-1-4 0z"/>
<g fill="#8f0000"><path d="M569.8 386l4-.6-1.8-.9-4 .6z"/><path d="M565.8 386.6l4-.6-1.8-.9-4 .6z"/><path d="M561.8 387.3l4-.7-1.8-.9-4 .6z"/><path d="M557.8 388l4-.7-1.8-1-4 .7z"/></g>
<g fill="#9f0000"><path d="M553.8 388.6l4-.6-1.8-1-4 .6z"/><path d="M549.8 389.3l4-.7-1.8-1-4 .6z"/><path d="M545.9 389.9l3.9-.6-1.8-1.1-4 .7z"/><path d="M541.9 390.6l4-.7-1.9-1-3.9 .6z"/></g>
<g fill="#af0000"><path d="M537.9 391.2l4-.6-1.8-1.1-4 .6z"/><path d="M533.9 391.9l4-.7-1.8-1.1-4 .7z"/><path d="M529.9 392.5l4-.6-1.8-1.1-4 .6z"/><path d="M525.9 393.1l4-.6-1.8-1.1-4 .6z"/></g>
<g fill="#bf0000"><path d="M521.9 393.8l4-.7-1.8-1.1-4 .5z"/><path d="M517.9 394.3l4-.5-1.8-1.3-4 .6z"/><path d="M514 394.9l3.9-.6-1.8-1.2-4 .5z"/><path d="M510 395.4l4-.5-1.9-1.3-3.9 .5z"/><path d="M506 395.9l4-.5-1.8-1.3-4 .5z"/><path d="M502 396.3l4-.4-1.8-1.3-4 .4z"/><path d="M498 396.7l4-.4-1.8-1.3-4 .4z"/><path d="M494 397l4-.3-1.8-1.3-4 .3z"/><path d="M490 397.3l4-.3-1.8-1.3-4 .3z"/><path d="M486 397.5l4-.2-1.8-1.3-4 .2z"/><path d="M482.1 397.7l3.9-.2-1.8-1.3-4 .2z"/><path d="M478.1 397.9l4-.2-1.9-1.3-3.9 .2z"/><path d="M474.1 398l4-.1-1.8-1.3-4 .1z"/><path d="M470.1 398l4 0-1.8-1.3-4 .1z"/><path d="M466.1 398.1l4-.1-1.8-1.2-4 0z"/></g>
<g fill="#af0000"><path d="M462.1 398.1l4 0-1.8-1.3-4 .1z"/><path d="M458.1 398.1l4 0-1.8-1.2-4 0z"/><path d="M454.1 398l4 .1-1.8-1.2-4 0z"/><path d="M450.2 398l3.9 0-1.8-1.1-4 0z"/></g>
<g fill="#9f0000"><path d="M446.2 398l4 0-1.9-1.1-3.9 0z"/><path d="M442.2 397.9l4 .1-1.8-1.1-4 0z"/><path class="t" d="M438.2 397.9l4 0-1.8-1-4 0z"/><path class="t" d="M434.2 397.8l4 .1-1.8-1-4-.1z"/></g>
<g fill="#8f0000"><path class="t" d="M430.2 397.8l4 0-1.8-1-4 0z"/><path class="t" d="M426.2 397.8l4 0-1.8-1-4 0z"/><path class="t" d="M422.2 397.7l4 .1-1.8-1-4 0z"/><path class="t" d="M418.3 397.7l3.9 0-1.8-.9-4 0z"/><path class="t" d="M414.3 397.7l4 0-1.9-.9-3.9 0z"/><path d="M571.6 386.9l4-.6-1.8-.9-4 .6z"/><path d="M567.6 387.6l4-.7-1.8-.9-4 .6z"/><path d="M563.6 388.2l4-.6-1.8-1-4 .7z"/></g>
<g fill="#9f0000"><path d="M559.6 388.9l4-.7-1.8-.9-4 .7z"/><path d="M555.6 389.6l4-.7-1.8-.9-4 .6z"/><path d="M551.7 390.3l3.9-.7-1.8-1-4 .7z"/><path d="M547.7 391l4-.7-1.9-1-3.9 .6z"/></g>
<g fill="#af0000"><path d="M543.7 391.7l4-.7-1.8-1.1-4 .7z"/><path d="M539.7 392.3l4-.6-1.8-1.1-4 .6z"/><path d="M535.7 393l4-.7-1.8-1.1-4 .7z"/><path d="M531.7 393.7l4-.7-1.8-1.1-4 .6z"/></g>
<g fill="#bf0000"><path d="M527.7 394.3l4-.6-1.8-1.2-4 .6z"/><path d="M523.7 395l4-.7-1.8-1.2-4 .7z"/><path d="M519.8 395.6l3.9-.6-1.8-1.2-4 .5z"/><path d="M515.8 396.2l4-.6-1.9-1.3-3.9 .6z"/><path d="M511.8 396.7l4-.5-1.8-1.3-4 .5z"/></g>
<g fill="#cf0000"><path d="M507.8 397.2l4-.5-1.8-1.3-4 .5z"/><path d="M503.8 397.7l4-.5-1.8-1.3-4 .4z"/><path d="M499.8 398.1l4-.4-1.8-1.4-4 .4z"/><path d="M495.8 398.4l4-.3-1.8-1.4-4 .3z"/><path d="M491.8 398.7l4-.3-1.8-1.4-4 .3z"/><path d="M487.9 398.9l3.9-.2-1.8-1.4-4 .2z"/><path d="M483.9 399.1l4-.2-1.9-1.4-3.9 .2z"/></g>
<g fill="#bf0000"><path d="M479.9 399.2l4-.1-1.8-1.4-4 .2z"/><path d="M475.9 399.3l4-.1-1.8-1.3-4 .1z"/><path d="M471.9 399.3l4 0-1.8-1.3-4 0z"/><path d="M467.9 399.3l4 0-1.8-1.3-4 .1z"/><path d="M463.9 399.3l4 0-1.8-1.2-4 0z"/></g>
<g fill="#af0000"><path d="M459.9 399.2l4 .1-1.8-1.2-4 0z"/><path d="M456 399.2l3.9 0-1.8-1.1-4-.1z"/><path d="M452 399.1l4 .1-1.9-1.2-3.9 0z"/><path d="M448 399l4 .1-1.8-1.1-4 0z"/></g>
<g fill="#9f0000"><path class="t" d="M444 399l4 0-1.8-1-4-.1z"/><path class="t" d="M440 398.9l4 .1-1.8-1.1-4 0z"/><path class="t" d="M436 398.8l4 .1-1.8-1-4-.1z"/><path class="t" d="M432 398.8l4 0-1.8-1-4 0z"/></g>
<g fill="#8f0000"><path class="t" d="M428 398.7l4 .1-1.8-1-4 0z"/><path class="t" d="M424.1 398.6l3.9 .1-1.8-.9-4-.1z"/><path class="t" d="M420.1 398.6l4 0-1.9-.9-3.9 0z"/><path class="t" d="M416.1 398.6l4 0-1.8-.9-4 0z"/><path d="M573.4 387.8l4-.6-1.8-.9-4 .6z"/><path d="M569.4 388.5l4-.7-1.8-.9-4 .7z"/></g>
<g fill="#9f0000"><path d="M565.4 389.2l4-.7-1.8-.9-4 .6z"/><path d="M561.4 389.9l4-.7-1.8-1-4 .7z"/><path d="M557.5 390.6l3.9-.7-1.8-1-4 .7z"/><path d="M553.5 391.3l4-.7-1.9-1-3.9 .7z"/></g>
<g fill="#af0000"><path d="M549.5 392l4-.7-1.8-1-4 .7z"/><path d="M545.5 392.7l4-.7-1.8-1-4 .7z"/><path d="M541.5 393.4l4-.7-1.8-1-4 .6z"/><path d="M537.5 394.1l4-.7-1.8-1.1-4 .7z"/></g>
<g fill="#bf0000"><path d="M533.5 394.9l4-.8-1.8-1.1-4 .7z"/><path d="M529.5 395.6l4-.7-1.8-1.2-4 .6z"/><path d="M525.6 396.2l3.9-.6-1.8-1.3-4 .7z"/></g>
<g fill="#cf0000"><path d="M521.6 396.9l4-.7-1.9-1.2-3.9 .6z"/><path d="M517.6 397.5l4-.6-1.8-1.3-4 .6z"/><path d="M513.6 398.1l4-.6-1.8-1.3-4 .5z"/><path d="M509.6 398.6l4-.5-1.8-1.4-4 .5z"/><path d="M505.6 399.1l4-.5-1.8-1.4-4 .5z"/><path d="M501.6 399.5l4-.4-1.8-1.4-4 .4z"/><path d="M497.6 399.9l4-.4-1.8-1.4-4 .3z"/><path d="M493.7 400.1l3.9-.2-1.8-1.5-4 .3z"/><path d="M489.7 400.4l4-.3-1.9-1.4-3.9 .2z"/><path d="M485.7 400.5l4-.1-1.8-1.5-4 .2z"/><path d="M481.7 400.6l4-.1-1.8-1.4-4 .1z"/><path d="M477.7 400.6l4 0-1.8-1.4-4 .1z"/><path d="M473.7 400.6l4 0-1.8-1.3-4 0z"/></g>
<g fill="#bf0000"><path d="M469.7 400.5l4 .1-1.8-1.3-4 0z"/><path d="M465.7 400.5l4 0-1.8-1.2-4 0z"/><path d="M461.8 400.4l3.9 .1-1.8-1.2-4-.1z"/></g>
<g fill="#af0000"><path d="M457.8 400.3l4 .1-1.9-1.2-3.9 0z"/><path d="M453.8 400.2l4 .1-1.8-1.1-4-.1z"/><path d="M449.8 400.1l4 .1-1.8-1.1-4-.1z"/><path class="t" d="M445.8 400l4 .1-1.8-1.1-4 0z"/></g>
<g fill="#9f0000"><path class="t" d="M441.8 399.9l4 .1-1.8-1-4-.1z"/><path class="t" d="M437.8 399.8l4 .1-1.8-1-4-.1z"/><path class="t" d="M433.8 399.7l4 .1-1.8-1-4 0z"/><path class="t" d="M429.9 399.6l3.9 .1-1.8-.9-4-.1z"/></g>
<g fill="#8f0000"><path class="t" d="M425.9 399.6l4 0-1.9-.9-3.9-.1z"/><path class="t" d="M421.9 399.5l4 .1-1.8-1-4 0z"/><path class="t" d="M417.9 399.5l4 0-1.8-.9-4 0z"/><path d="M575.2 388.7l4-.7-1.8-.8-4 .6z"/><path d="M571.2 389.4l4-.7-1.8-.9-4 .7z"/></g>
<g fill="#9f0000"><path d="M567.2 390.1l4-.7-1.8-.9-4 .7z"/><path d="M563.2 390.8l4-.7-1.8-.9-4 .7z"/><path d="M559.3 391.6l3.9-.8-1.8-.9-3.9 .7z"/></g>
<g fill="#af0000"><path d="M555.3 392.3l4-.7-1.8-1-4 .7z"/><path d="M551.3 393l4-.7-1.8-1-4 .7z"/><path d="M547.3 393.8l4-.8-1.8-1-4 .7z"/><path d="M543.3 394.5l4-.7-1.8-1.1-4 .7z"/></g>
<g fill="#bf0000"><path d="M539.3 395.3l4-.8-1.8-1.1-4 .7z"/><path d="M535.3 396l4-.7-1.8-1.2-4 .8z"/><path d="M531.4 396.8l3.9-.8-1.8-1.1-4 .7z"/></g>
<g fill="#cf0000"><path d="M527.4 397.5l4-.7-1.9-1.2-3.9 .6z"/><path d="M523.4 398.2l4-.7-1.8-1.3-4 .7z"/><path d="M519.4 398.9l4-.7-1.8-1.3-4 .6z"/><path d="M515.4 399.5l4-.6-1.8-1.4-4 .6z"/></g>
<g fill="#df0000"><path d="M511.4 400.1l4-.6-1.8-1.4-4 .5z"/><path d="M507.4 400.6l4-.5-1.8-1.5-4 .5z"/><path d="M503.4 401l4-.4-1.8-1.5-4 .4z"/><path d="M499.4 401.4l4-.4-1.8-1.5-4 .4z"/><path d="M495.5 401.7l3.9-.3-1.8-1.5-3.9 .2z"/><path d="M491.5 401.8l4-.1-1.8-1.6-4 .3z"/><path d="M487.5 401.9l4-.1-1.8-1.4-4 .1z"/></g>
<g fill="#cf0000"><path d="M483.5 402l4-.1-1.8-1.4-4 .1z"/><path d="M479.5 402l4 0-1.8-1.4-4 0z"/><path d="M475.5 401.9l4 .1-1.8-1.4-4 0z"/><path d="M471.5 401.8l4 .1-1.8-1.3-4-.1z"/></g>
<g fill="#bf0000"><path d="M467.6 401.7l3.9 .1-1.8-1.3-4 0z"/><path d="M463.6 401.6l4 .1-1.9-1.2-3.9-.1z"/><path d="M459.6 401.4l4 .2-1.8-1.2-4-.1z"/></g>
<g fill="#af0000"><path d="M455.6 401.3l4 .1-1.8-1.1-4-.1z"/><path class="t" d="M451.6 401.2l4 .1-1.8-1.1-4-.1z"/><path class="t" d="M447.6 401l4 .2-1.8-1.1-4-.1z"/><path class="t" d="M443.6 400.9l4 .1-1.8-1-4-.1z"/></g>
<g fill="#9f0000"><path class="t" d="M439.6 400.8l4 .1-1.8-1-4-.1z"/><path class="t" d="M435.6 400.7l4 .1-1.8-1-4-.1z"/><path class="t" d="M431.7 400.6l3.9 .1-1.8-1-3.9-.1z"/></g>
<g fill="#8f0000"><path class="t" d="M427.7 400.5l4 .1-1.8-1-4 0z"/><path class="t" d="M423.7 400.4l4 .1-1.8-.9-4-.1z"/><path class="t" d="M419.7 400.3l4 .1-1.8-.9-4 0z"/><path d="M577 389.6l4-.7-1.8-.9-4 .7z"/></g>
<g fill="#9f0000"><path d="M573 390.3l4-.7-1.8-.9-4 .7z"/><path d="M569 391l4-.7-1.8-.9-4 .7z"/><path d="M565.1 391.8l3.9-.8-1.8-.9-4 .7z"/></g>
<g fill="#af0000"><path d="M561.1 392.5l4-.7-1.9-1-3.9 .8z"/><path d="M557.1 393.3l4-.8-1.8-.9-4 .7z"/><path d="M553.1 394.1l4-.8-1.8-1-4 .7z"/><path d="M549.1 394.8l4-.7-1.8-1.1-4 .8z"/></g>
<g fill="#bf0000"><path d="M545.1 395.6l4-.8-1.8-1-4 .7z"/><path d="M541.1 396.4l4-.8-1.8-1.1-4 .8z"/><path d="M537.1 397.2l4-.8-1.8-1.1-4 .7z"/></g>
<g fill="#cf0000"><path d="M533.2 398l3.9-.8-1.8-1.2-3.9 .8z"/><path d="M529.2 398.8l4-.8-1.8-1.2-4 .7z"/><path d="M525.2 399.6l4-.8-1.8-1.3-4 .7z"/></g>
<g fill="#df0000"><path d="M521.2 400.3l4-.7-1.8-1.4-4 .7z"/><path d="M517.2 401l4-.7-1.8-1.4-4 .6z"/><path d="M513.2 401.6l4-.6-1.8-1.5-4 .6z"/><path d="M509.2 402.2l4-.6-1.8-1.5-4 .5z"/><path d="M505.2 402.6l4-.4-1.8-1.6-4 .4z"/><path d="M501.3 403l3.9-.4-1.8-1.6-4 .4z"/><path d="M497.3 403.2l4-.2-1.9-1.6-3.9 .3z"/><path d="M493.3 403.4l4-.2-1.8-1.5-4 .1z"/><path d="M489.3 403.5l4-.1-1.8-1.6-4 .1z"/><path d="M485.3 403.4l4 .1-1.8-1.6-4 .1z"/><path d="M481.3 403.4l4 0-1.8-1.4-4 0z"/></g>
<g fill="#cf0000"><path d="M477.3 403.2l4 .2-1.8-1.4-4-.1z"/><path d="M473.3 403.1l4 .1-1.8-1.3-4-.1z"/><path d="M469.4 402.9l3.9 .2-1.8-1.3-3.9-.1z"/></g>
<g fill="#bf0000"><path d="M465.4 402.7l4 .2-1.8-1.2-4-.1z"/><path d="M461.4 402.6l4 .1-1.8-1.1-4-.2z"/><path class="t" d="M457.4 402.4l4 .2-1.8-1.2-4-.1z"/></g>
<g fill="#af0000"><path class="t" d="M453.4 402.2l4 .2-1.8-1.1-4-.1z"/><path class="t" d="M449.4 402l4 .2-1.8-1-4-.2z"/><path class="t" d="M445.4 401.9l4 .1-1.8-1-4-.1z"/><path class="t" d="M441.4 401.7l4 .2-1.8-1-4-.1z"/></g>
<g fill="#9f0000"><path class="t" d="M437.5 401.6l3.9 .1-1.8-.9-4-.1z"/><path class="t" d="M433.5 401.5l4 .1-1.9-.9-3.9-.1z"/><path class="t" d="M429.5 401.4l4 .1-1.8-.9-4-.1z"/></g>
<g fill="#8f0000"><path class="t" d="M425.5 401.3l4 .1-1.8-.9-4-.1z"/><path class="t" d="M421.5 401.2l4 .1-1.8-.9-4-.1z"/><path d="M578.8 390.5l4-.7-1.8-.9-4 .7z"/></g>
<g fill="#9f0000"><path d="M574.8 391.2l4-.7-1.8-.9-4 .7z"/><path d="M570.9 391.9l3.9-.7-1.8-.9-4 .7z"/><path d="M566.9 392.7l4-.8-1.9-.9-3.9 .8z"/></g>
<g fill="#af0000"><path d="M562.9 393.5l4-.8-1.8-.9-4 .7z"/><path d="M558.9 394.3l4-.8-1.8-1-4 .8z"/><path d="M554.9 395.1l4-.8-1.8-1-4 .8z"/></g>
<g fill="#bf0000"><path d="M550.9 395.9l4-.8-1.8-1-4 .7z"/><path d="M546.9 396.7l4-.8-1.8-1.1-4 .8z"/><path d="M542.9 397.5l4-.8-1.8-1.1-4 .8z"/></g>
<g fill="#cf0000"><path d="M539 398.4l3.9-.9-1.8-1.1-4 .8z"/><path d="M535 399.2l4-.8-1.9-1.2-3.9 .8z"/><path d="M531 400.1l4-.9-1.8-1.2-4 .8z"/></g>
<g fill="#df0000"><path d="M527 400.9l4-.8-1.8-1.3-4 .8z"/><path d="M523 401.7l4-.8-1.8-1.3-4 .7z"/><path d="M519 402.5l4-.8-1.8-1.4-4 .7z"/></g>
<g fill="#ef0000"><path d="M515 403.2l4-.7-1.8-1.5-4 .6z"/><path d="M511 403.8l4-.6-1.8-1.6-4 .6z"/><path d="M507.1 404.3l3.9-.5-1.8-1.6-4 .4z"/><path d="M503.1 404.7l4-.4-1.9-1.7-3.9 .4z"/><path d="M499.1 404.9l4-.2-1.8-1.7-4 .2z"/><path d="M495.1 405l4-.1-1.8-1.7-4 .2z"/><path d="M491.1 405l4 0-1.8-1.6-4 .1z"/></g>
<g fill="#df0000"><path d="M487.1 405l4 0-1.8-1.5-4-.1z"/><path d="M483.1 404.8l4 .2-1.8-1.6-4 0z"/><path d="M479.1 404.6l4 .2-1.8-1.4-4-.2z"/></g>
<g fill="#cf0000"><path d="M475.2 404.4l3.9 .2-1.8-1.4-4-.1z"/><path d="M471.2 404.2l4 .2-1.9-1.3-3.9-.2z"/><path d="M467.2 403.9l4 .3-1.8-1.3-4-.2z"/></g>
<g fill="#bf0000"><path d="M463.2 403.7l4 .2-1.8-1.2-4-.1z"/><path class="t" d="M459.2 403.5l4 .2-1.8-1.1-4-.2z"/><path class="t" d="M455.2 403.3l4 .2-1.8-1.1-4-.2z"/></g>
<g fill="#af0000"><path class="t" d="M451.2 403.1l4 .2-1.8-1.1-4-.2z"/><path class="t" d="M447.2 402.9l4 .2-1.8-1.1-4-.1z"/><path class="t" d="M443.3 402.7l3.9 .2-1.8-1-4-.2z"/></g>
<g fill="#9f0000"><path class="t" d="M439.3 402.5l4 .2-1.9-1-3.9-.1z"/><path class="t" d="M435.3 402.4l4 .1-1.8-.9-4-.1z"/><path class="t" d="M431.3 402.3l4 .1-1.8-.9-4-.1z"/></g>
<g fill="#8f0000"><path class="t" d="M427.3 402.2l4 .1-1.8-.9-4-.1z"/><path class="t" d="M423.3 402.1l4 .1-1.8-.9-4-.1z"/></g>
<g fill="#9f0000"><path d="M580.6 391.3l4-.7-1.8-.8-4 .7z"/><path d="M576.7 392.1l3.9-.8-1.8-.8-4 .7z"/><path d="M572.7 392.8l4-.7-1.9-.9-3.9 .7z"/></g>
<g fill="#af0000"><path d="M568.7 393.6l4-.8-1.8-.9-4 .8z"/><path d="M564.7 394.4l4-.8-1.8-.9-4 .8z"/><path d="M560.7 395.2l4-.8-1.8-.9-4 .8z"/></g>
<g fill="#bf0000"><path d="M556.7 396l4-.8-1.8-.9-4 .8z"/><path d="M552.7 396.9l4-.9-1.8-.9-4 .8z"/><path d="M548.7 397.8l4-.9-1.8-1-4 .8z"/></g>
<g fill="#cf0000"><path d="M544.8 398.7l3.9-.9-1.8-1.1-4 .8z"/><path d="M540.8 399.6l4-.9-1.9-1.2-3.9 .9z"/><path d="M536.8 400.5l4-.9-1.8-1.2-4 .8z"/></g>
<g fill="#df0000"><path d="M532.8 401.4l4-.9-1.8-1.3-4 .9z"/><path d="M528.8 402.3l4-.9-1.8-1.3-4 .8z"/></g>
<g fill="#ef0000"><path d="M524.8 403.2l4-.9-1.8-1.4-4 .8z"/><path d="M520.8 404.1l4-.9-1.8-1.5-4 .8z"/><path d="M516.8 404.8l4-.7-1.8-1.6-4 .7z"/></g>
<g fill="#f00"><path d="M512.9 405.5l3.9-.7-1.8-1.6-4 .6z"/><path d="M508.9 406.1l4-.6-1.9-1.7-3.9 .5z"/><path d="M504.9 406.5l4-.4-1.8-1.8-4 .4z"/><path d="M500.9 406.7l4-.2-1.8-1.8-4 .2z"/><path d="M496.9 406.8l4-.1-1.8-1.8-4 .1z"/></g>
<g fill="#ef0000"><path d="M492.9 406.7l4 .1-1.8-1.8-4 0z"/><path d="M488.9 406.5l4 .2-1.8-1.7-4 0z"/><path d="M484.9 406.3l4 .2-1.8-1.5-4-.2z"/></g>
<g fill="#df0000"><path d="M481 406l3.9 .3-1.8-1.5-4-.2z"/><path d="M477 405.7l4 .3-1.9-1.4-3.9-.2z"/></g>
<g fill="#cf0000"><path d="M473 405.4l4 .3-1.8-1.3-4-.2z"/><path d="M469 405.1l4 .3-1.8-1.2-4-.3z"/><path class="t" d="M465 404.8l4 .3-1.8-1.2-4-.2z"/></g>
<g fill="#bf0000"><path class="t" d="M461 404.5l4 .3-1.8-1.1-4-.2z"/><path class="t" d="M457 404.3l4 .2-1.8-1-4-.2z"/><path class="t" d="M453 404l4 .3-1.8-1-4-.2z"/></g>
<g fill="#af0000"><path class="t" d="M449.1 403.8l3.9 .2-1.8-.9-4-.2z"/><path class="t" d="M445.1 403.6l4 .2-1.9-.9-3.9-.2z"/><path class="t" d="M441.1 403.5l4 .1-1.8-.9-4-.2z"/></g>
<g fill="#9f0000"><path class="t" d="M437.1 403.3l4 .2-1.8-1-4-.1z"/><path class="t" d="M433.1 403.1l4 .2-1.8-.9-4-.1z"/><path class="t" d="M429.1 403l4 .1-1.8-.8-4-.1z"/></g>
<path fill="#8f0000" class="t" d="M425.1 402.9l4 .1-1.8-.8-4-.1z"/>
<g fill="#9f0000"><path d="M582.5 392.2l3.9-.8-1.8-.8-4 .7z"/><path d="M578.5 392.9l4-.7-1.9-.9-3.9 .8z"/><path d="M574.5 393.7l4-.8-1.8-.8-4 .7z"/></g>
<g fill="#af0000"><path d="M570.5 394.5l4-.8-1.8-.9-4 .8z"/><path d="M566.5 395.3l4-.8-1.8-.9-4 .8z"/><path d="M562.5 396.2l4-.9-1.8-.9-4 .8z"/></g>
<g fill="#bf0000"><path d="M558.5 397l4-.8-1.8-1-4 .8z"/><path d="M554.5 397.9l4-.9-1.8-1-4 .9z"/></g>
<g fill="#cf0000"><path d="M550.6 398.8l3.9-.9-1.8-1-4 .9z"/><path d="M546.6 399.7l4-.9-1.9-1-3.9 .9z"/><path d="M542.6 400.7l4-1-1.8-1-4 .9z"/></g>
<g fill="#df0000"><path d="M538.6 401.7l4-1-1.8-1.1-4 .9z"/><path d="M534.6 402.7l4-1-1.8-1.2-4 .9z"/></g>
<g fill="#ef0000"><path d="M530.6 403.7l4-1-1.8-1.3-4 .9z"/><path d="M526.6 404.7l4-1-1.8-1.4-4 .9z"/></g>
<g fill="#f00"><path d="M522.6 405.7l4-1-1.8-1.5-4 .9z"/><path d="M518.7 406.6l3.9-.9-1.8-1.6-4 .7z"/><path d="M514.7 407.4l4-.8-1.9-1.8-3.9 .7z"/></g>
<g fill="#ff1000"><path d="M510.7 408l4-.6-1.8-1.9-4 .6z"/><path d="M506.7 408.4l4-.4-1.8-1.9-4 .4z"/><path d="M502.7 408.6l4-.2-1.8-1.9-4 .2z"/></g>
<g fill="#f00"><path d="M498.7 408.6l4 0-1.8-1.9-4 .1z"/><path d="M494.7 408.4l4 .2-1.8-1.8-4-.1z"/><path d="M490.7 408.1l4 .3-1.8-1.7-4-.2z"/></g>
<g fill="#ef0000"><path d="M486.8 407.8l3.9 .3-1.8-1.6-4-.2z"/><path d="M482.8 407.4l4 .4-1.9-1.5-3.9-.3z"/></g>
<g fill="#df0000"><path d="M478.8 407l4 .4-1.8-1.4-4-.3z"/><path d="M474.8 406.6l4 .4-1.8-1.3-4-.3z"/></g>
<g fill="#cf0000"><path class="t" d="M470.8 406.2l4 .4-1.8-1.2-4-.3z"/><path class="t" d="M466.8 405.9l4 .3-1.8-1.1-4-.3z"/><path class="t" d="M462.8 405.6l4 .3-1.8-1.1-4-.3z"/></g>
<g fill="#bf0000"><path class="t" d="M458.8 405.3l4 .3-1.8-1.1-4-.2z"/><path class="t" d="M454.9 405l3.9 .3-1.8-1-4-.3z"/></g>
<g fill="#af0000"><path class="t" d="M450.9 404.8l4 .2-1.9-1-3.9-.2z"/><path class="t" d="M446.9 404.5l4 .3-1.8-1-4-.2z"/><path class="t" d="M442.9 404.3l4 .2-1.8-.9-4-.1z"/></g>
<g fill="#9f0000"><path class="t" d="M438.9 404.2l4 .1-1.8-.8-4-.2z"/><path class="t" d="M434.9 404l4 .2-1.8-.9-4-.2z"/><path class="t" d="M430.9 403.9l4 .1-1.8-.9-4-.1z"/></g>
<path fill="#8f0000" class="t" d="M426.9 403.7l4 .2-1.8-.9-4-.1z"/>
<g fill="#9f0000"><path d="M584.3 393l3.9-.8-1.8-.8-3.9 .8z"/><path d="M580.3 393.8l4-.8-1.8-.8-4 .7z"/><path d="M576.3 394.6l4-.8-1.8-.9-4 .8z"/></g>
<g fill="#af0000"><path d="M572.3 395.4l4-.8-1.8-.9-4 .8z"/><path d="M568.3 396.2l4-.8-1.8-.9-4 .8z"/><path d="M564.3 397.1l4-.9-1.8-.9-4 .9z"/></g>
<g fill="#bf0000"><path d="M560.3 397.9l4-.8-1.8-.9-4 .8z"/><path d="M556.4 398.9l3.9-1-1.8-.9-4 .9z"/></g>
<g fill="#cf0000"><path d="M552.4 399.8l4-.9-1.9-1-3.9 .9z"/><path d="M548.4 400.8l4-1-1.8-1-4 .9z"/></g>
<g fill="#df0000"><path d="M544.4 401.8l4-1-1.8-1.1-4 1z"/><path d="M540.4 402.9l4-1.1-1.8-1.1-4 1z"/></g>
<g fill="#ef0000"><path d="M536.4 404l4-1.1-1.8-1.2-4 1z"/><path d="M532.4 405.1l4-1.1-1.8-1.3-4 1z"/></g>
<g fill="#f00"><path d="M528.4 406.2l4-1.1-1.8-1.4-4 1z"/><path d="M524.4 407.4l4-1.2-1.8-1.5-4 1z"/></g>
<g fill="#ff1000"><path d="M520.5 408.4l3.9-1-1.8-1.7-3.9 .9z"/><path d="M516.5 409.4l4-1-1.8-1.8-4 .8z"/></g>
<g fill="#ff2000"><path d="M512.5 410.1l4-.7-1.8-2-4 .6z"/><path d="M508.5 410.6l4-.5-1.8-2.1-4 .4z"/><path d="M504.5 410.7l4-.1-1.8-2.2-4 .2z"/></g>
<g fill="#ff1000"><path d="M500.5 410.6l4 .1-1.8-2.1-4 0z"/><path d="M496.5 410.3l4 .3-1.8-2-4-.2z"/></g>
<g fill="#f00"><path d="M492.6 409.8l3.9 .5-1.8-1.9-4-.3z"/><path d="M488.6 409.3l4 .5-1.9-1.7-3.9-.3z"/></g>
<g fill="#ef0000"><path d="M484.6 408.8l4 .5-1.8-1.5-4-.4z"/><path d="M480.6 408.3l4 .5-1.8-1.4-4-.4z"/></g>
<g fill="#df0000"><path class="t" d="M476.6 407.8l4 .5-1.8-1.3-4-.4z"/><path class="t" d="M472.6 407.4l4 .4-1.8-1.2-4-.4z"/></g>
<g fill="#cf0000"><path class="t" d="M468.6 407l4 .4-1.8-1.2-4-.3z"/><path class="t" d="M464.6 406.6l4 .4-1.8-1.1-4-.3z"/></g>
<g fill="#bf0000"><path class="t" d="M460.6 406.2l4 .4-1.8-1-4-.3z"/><path class="t" d="M456.7 405.9l3.9 .3-1.8-.9-3.9-.3z"/></g>
<g fill="#af0000"><path class="t" d="M452.7 405.7l4 .2-1.8-.9-4-.2z"/><path class="t" d="M448.7 405.4l4 .3-1.8-.9-4-.3z"/><path class="t" d="M444.7 405.2l4 .2-1.8-.9-4-.2z"/></g>
<g fill="#9f0000"><path class="t" d="M440.7 405l4 .2-1.8-.9-4-.1z"/><path class="t" d="M436.7 404.8l4 .2-1.8-.8-4-.2z"/><path class="t" d="M432.7 404.7l4 .1-1.8-.8-4-.1z"/></g>
<path fill="#8f0000" class="t" d="M428.8 404.5l3.9 .2-1.8-.8-4-.2z"/>
<g fill="#9f0000"><path d="M586.1 393.8l4-.8-1.9-.8-3.9 .8z"/><path d="M582.1 394.6l4-.8-1.8-.8-4 .8z"/></g>
<g fill="#af0000"><path d="M578.1 395.4l4-.8-1.8-.8-4 .8z"/><path d="M574.1 396.2l4-.8-1.8-.8-4 .8z"/><path d="M570.1 397.1l4-.9-1.8-.8-4 .8z"/></g>
<g fill="#bf0000"><path d="M566.1 397.9l4-.8-1.8-.9-4 .9z"/><path d="M562.1 398.8l4-.9-1.8-.8-4 .8z"/><path d="M558.2 399.8l3.9-1-1.8-.9-3.9 1z"/></g>
<g fill="#cf0000"><path d="M554.2 400.8l4-1-1.8-.9-4 .9z"/><path d="M550.2 401.8l4-1-1.8-1-4 1z"/></g>
<g fill="#df0000"><path d="M546.2 402.9l4-1.1-1.8-1-4 1z"/><path d="M542.2 404l4-1.1-1.8-1.1-4 1.1z"/></g>
<path fill="#ef0000" d="M538.2 405.2l4-1.2-1.8-1.1-4 1.1z"/>
<g fill="#f00"><path d="M534.2 406.4l4-1.2-1.8-1.2-4 1.1z"/><path d="M530.2 407.7l4-1.3-1.8-1.3-4 1.1z"/></g>
<path fill="#ff1000" d="M526.3 409.1l3.9-1.4-1.8-1.5-4 1.2z"/>
<g fill="#ff2000"><path d="M522.3 410.4l4-1.3-1.9-1.7-3.9 1z"/><path d="M518.3 411.6l4-1.2-1.8-2-4 1z"/></g>
<g fill="#ff3000"><path d="M514.3 412.5l4-.9-1.8-2.2-4 .7z"/><path d="M510.3 413.1l4-.6-1.8-2.4-4 .5z"/><path d="M506.3 413.1l4 0-1.8-2.5-4 .1z"/></g>
<g fill="#ff2000"><path d="M502.3 412.8l4 .3-1.8-2.4-4-.1z"/><path d="M498.3 412.2l4 .6-1.8-2.2-4-.3z"/></g>
<path fill="#ff1000" d="M494.4 411.5l3.9 .7-1.8-1.9-3.9-.5z"/>
<g fill="#f00"><path d="M490.4 410.8l4 .7-1.8-1.7-4-.5z"/><path d="M486.4 410.1l4 .7-1.8-1.5-4-.5z"/></g>
<path fill="#ef0000" class="t" d="M482.4 409.5l4 .6-1.8-1.3-4-.5z"/>
<g fill="#df0000"><path class="t" d="M478.4 408.9l4 .6-1.8-1.2-4-.5z"/><path class="t" d="M474.4 408.4l4 .5-1.8-1.1-4-.4z"/></g>
<g fill="#cf0000"><path class="t" d="M470.4 408l4 .4-1.8-1-4-.4z"/><path class="t" d="M466.4 407.5l4 .5-1.8-1-4-.4z"/></g>
<g fill="#bf0000"><path class="t" d="M462.5 407.2l3.9 .3-1.8-.9-4-.4z"/><path class="t" d="M458.5 406.8l4 .4-1.9-1-3.9-.3z"/><path class="t" d="M454.5 406.5l4 .3-1.8-.9-4-.2z"/></g>
<g fill="#af0000"><path class="t" d="M450.5 406.3l4 .2-1.8-.8-4-.3z"/><path class="t" d="M446.5 406l4 .3-1.8-.9-4-.2z"/><path class="t" d="M442.5 405.8l4 .2-1.8-.8-4-.2z"/></g>
<g fill="#9f0000"><path class="t" d="M438.5 405.6l4 .2-1.8-.8-4-.2z"/><path class="t" d="M434.5 405.5l4 .1-1.8-.8-4-.1z"/><path class="t" d="M430.6 405.3l3.9 .2-1.8-.8-3.9-.2z"/><path d="M587.9 394.6l4-.8-1.8-.8-4 .8z"/><path d="M583.9 395.4l4-.8-1.8-.8-4 .8z"/></g>
<g fill="#af0000"><path d="M579.9 396.2l4-.8-1.8-.8-4 .8z"/><path d="M575.9 397l4-.8-1.8-.8-4 .8z"/><path d="M571.9 397.9l4-.9-1.8-.8-4 .9z"/></g>
<g fill="#bf0000"><path d="M567.9 398.8l4-.9-1.8-.8-4 .8z"/><path d="M564 399.7l3.9-.9-1.8-.9-4 .9z"/></g>
<g fill="#cf0000"><path d="M560 400.7l4-1-1.9-.9-3.9 1z"/><path d="M556 401.7l4-1-1.8-.9-4 1z"/></g>
<g fill="#df0000"><path d="M552 402.8l4-1.1-1.8-.9-4 1z"/><path d="M548 403.9l4-1.1-1.8-1-4 1.1z"/></g>
<g fill="#ef0000"><path d="M544 405.1l4-1.2-1.8-1-4 1.1z"/><path d="M540 406.4l4-1.3-1.8-1.1-4 1.2z"/></g>
<path fill="#f00" d="M536 407.7l4-1.3-1.8-1.2-4 1.2z"/>
<path fill="#ff1000" d="M532.1 409.2l3.9-1.5-1.8-1.3-4 1.3z"/>
<path fill="#ff2000" d="M528.1 410.7l4-1.5-1.9-1.5-3.9 1.4z"/>
<g fill="#ff3000"><path d="M524.1 412.4l4-1.7-1.8-1.6-4 1.3z"/><path d="M520.1 413.9l4-1.5-1.8-2-4 1.2z"/></g>
<g fill="#ff4000"><path d="M516.1 415.3l4-1.4-1.8-2.3-4 .9z"/><path d="M512.1 416l4-.7-1.8-2.8-4 .6z"/><path d="M508.1 415.9l4 .1-1.8-2.9-4 0z"/></g>
<g fill="#ff3000"><path d="M504.1 415.2l4 .7-1.8-2.8-4-.3z"/><path d="M500.2 414.2l3.9 1-1.8-2.4-4-.6z"/></g>
<path fill="#ff2000" d="M496.2 413.2l4 1-1.9-2-3.9-.7z"/>
<path fill="#ff1000" d="M492.2 412.3l4 .9-1.8-1.7-4-.7z"/>
<path fill="#f00" class="t" d="M488.2 411.4l4 .9-1.8-1.5-4-.7z"/>
<g fill="#ef0000"><path class="t" d="M484.2 410.7l4 .7-1.8-1.3-4-.6z"/><path class="t" d="M480.2 410l4 .7-1.8-1.2-4-.6z"/></g>
<g fill="#df0000"><path class="t" d="M476.2 409.4l4 .6-1.8-1.1-4-.5z"/><path class="t" d="M472.2 408.9l4 .5-1.8-1-4-.4z"/></g>
<g fill="#cf0000"><path class="t" d="M468.3 408.5l3.9 .4-1.8-.9-4-.5z"/><path class="t" d="M464.3 408.1l4 .4-1.9-1-3.9-.3z"/></g>
<g fill="#bf0000"><path class="t" d="M460.3 407.7l4 .4-1.8-.9-4-.4z"/><path class="t" d="M456.3 407.4l4 .3-1.8-.9-4-.3z"/></g>
<g fill="#af0000"><path class="t" d="M452.3 407.1l4 .3-1.8-.9-4-.2z"/><path class="t" d="M448.3 406.8l4 .3-1.8-.8-4-.3z"/><path class="t" d="M444.3 406.6l4 .2-1.8-.8-4-.2z"/></g>
<g fill="#9f0000"><path class="t" d="M440.3 406.4l4 .2-1.8-.8-4-.2z"/><path class="t" d="M436.4 406.3l3.9 .1-1.8-.8-4-.1z"/><path class="t" d="M432.4 406.1l4 .2-1.9-.8-3.9-.2z"/><path d="M589.7 395.3l4-.8-1.8-.7-4 .8z"/><path d="M585.7 396.1l4-.8-1.8-.7-4 .8z"/></g>
<g fill="#af0000"><path d="M581.7 396.9l4-.8-1.8-.7-4 .8z"/><path d="M577.7 397.8l4-.9-1.8-.7-4 .8z"/><path d="M573.7 398.7l4-.9-1.8-.8-4 .9z"/></g>
<g fill="#bf0000"><path d="M569.8 399.6l3.9-.9-1.8-.8-4 .9z"/><path d="M565.8 400.5l4-.9-1.9-.8-3.9 .9z"/></g>
<g fill="#cf0000"><path d="M561.8 401.5l4-1-1.8-.8-4 1z"/><path d="M557.8 402.6l4-1.1-1.8-.8-4 1z"/></g>
<g fill="#df0000"><path d="M553.8 403.7l4-1.1-1.8-.9-4 1.1z"/><path d="M549.8 404.8l4-1.1-1.8-.9-4 1.1z"/></g>
<path fill="#ef0000" d="M545.8 406.1l4-1.3-1.8-.9-4 1.2z"/>
<g fill="#f00"><path d="M541.8 407.4l4-1.3-1.8-1-4 1.3z"/><path d="M537.9 408.9l3.9-1.5-1.8-1-4 1.3z"/></g>
<path fill="#ff1000" d="M533.9 410.5l4-1.6-1.9-1.2-3.9 1.5z"/>
<path fill="#ff2000" d="M529.9 412.3l4-1.8-1.8-1.3-4 1.5z"/>
<path fill="#ff3000" d="M525.9 414.3l4-2-1.8-1.6-4 1.7z"/>
<path fill="#ff5000" d="M521.9 416.5l4-2.2-1.8-1.9-4 1.5z"/>
<g fill="#ff6000"><path d="M517.9 418.6l4-2.1-1.8-2.6-4 1.4z"/><path d="M513.9 419.7l4-1.1-1.8-3.3-4 .7z"/><path d="M509.9 419.2l4 .5-1.8-3.7-4-.1z"/></g>
<path fill="#ff5000" d="M506 417.7l3.9 1.5-1.8-3.3-4-.7z"/>
<path fill="#ff3000" d="M502 416.2l4 1.5-1.9-2.5-3.9-1z"/>
<path fill="#ff2000" d="M498 414.8l4 1.4-1.8-2-4-1z"/>
<path fill="#ff1000" class="t" d="M494 413.6l4 1.2-1.8-1.6-4-.9z"/>
<g fill="#f00"><path class="t" d="M490 412.6l4 1-1.8-1.3-4-.9z"/><path class="t" d="M486 411.7l4 .9-1.8-1.2-4-.7z"/></g>
<path fill="#ef0000" class="t" d="M482 411l4 .7-1.8-1-4-.7z"/>
<g fill="#df0000"><path class="t" d="M478 410.4l4 .6-1.8-1-4-.6z"/><path class="t" d="M474.1 409.8l3.9 .6-1.8-1-4-.5z"/></g>
<g fill="#cf0000"><path class="t" d="M470.1 409.3l4 .5-1.9-.9-3.9-.4z"/><path class="t" d="M466.1 408.9l4 .4-1.8-.8-4-.4z"/></g>
<g fill="#bf0000"><path class="t" d="M462.1 408.5l4 .4-1.8-.8-4-.4z"/><path class="t" d="M458.1 408.2l4 .3-1.8-.8-4-.3z"/></g>
<g fill="#af0000"><path class="t" d="M454.1 407.9l4 .3-1.8-.8-4-.3z"/><path class="t" d="M450.1 407.6l4 .3-1.8-.8-4-.3z"/><path class="t" d="M446.1 407.4l4 .2-1.8-.8-4-.2z"/></g>
<g fill="#9f0000"><path class="t" d="M442.2 407.2l3.9 .2-1.8-.8-4-.2z"/><path class="t" d="M438.2 407l4 .2-1.9-.8-3.9-.1z"/><path class="t" d="M434.2 406.8l4 .2-1.8-.7-4-.2z"/><path d="M591.5 396l4-.7-1.8-.8-4 .8z"/><path d="M587.5 396.8l4-.8-1.8-.7-4 .8z"/></g>
<g fill="#af0000"><path d="M583.5 397.7l4-.9-1.8-.7-4 .8z"/><path d="M579.5 398.5l4-.8-1.8-.8-4 .9z"/><path d="M575.6 399.4l3.9-.9-1.8-.7-4 .9z"/></g>
<g fill="#bf0000"><path d="M571.6 400.3l4-.9-1.9-.7-3.9 .9z"/><path d="M567.6 401.3l4-1-1.8-.7-4 .9z"/></g>
<g fill="#cf0000"><path d="M563.6 402.3l4-1-1.8-.8-4 1z"/><path d="M559.6 403.4l4-1.1-1.8-.8-4 1.1z"/></g>
<g fill="#df0000"><path d="M555.6 404.5l4-1.1-1.8-.8-4 1.1z"/><path d="M551.6 405.7l4-1.2-1.8-.8-4 1.1z"/></g>
<path fill="#ef0000" d="M547.6 407l4-1.3-1.8-.9-4 1.3z"/>
<path fill="#f00" d="M543.7 408.4l3.9-1.4-1.8-.9-4 1.3z"/>
<path fill="#ff1000" d="M539.7 409.9l4-1.5-1.9-1-3.9 1.5z"/>
<path fill="#ff2000" d="M535.7 411.7l4-1.8-1.8-1-4 1.6z"/>
<path fill="#ff3000" d="M531.7 413.7l4-2-1.8-1.2-4 1.8z"/>
<path fill="#ff4000" d="M527.7 416l4-2.3-1.8-1.4-4 2z"/>
<path fill="#ff6000" d="M523.7 418.9l4-2.9-1.8-1.7-4 2.2z"/>
<path fill="#ff8000" d="M519.7 422.6l4-3.7-1.8-2.4-4 2.1z"/>
<path fill="#ff9f00" d="M515.7 425.3l4-2.7-1.8-4-4 1.1z"/>
<path fill="#ff8000" d="M511.8 423.2l3.9 2.1-1.8-5.6-4-.5z"/>
<path fill="#ff6000" d="M507.8 420.2l4 3-1.9-4-3.9-1.5z"/>
<path fill="#ff4000" class="t" d="M503.8 417.9l4 2.3-1.8-2.5-4-1.5z"/>
<path fill="#ff3000" class="t" d="M499.8 416.1l4 1.8-1.8-1.7-4-1.4z"/>
<path fill="#ff2000" class="t" d="M495.8 414.7l4 1.4-1.8-1.3-4-1.2z"/>
<path fill="#ff1000" class="t" d="M491.8 413.6l4 1.1-1.8-1.1-4-1z"/>
<path fill="#f00" class="t" d="M487.8 412.7l4 .9-1.8-1-4-.9z"/>
<path fill="#ef0000" class="t" d="M483.8 411.9l4 .8-1.8-1-4-.7z"/>
<g fill="#df0000"><path class="t" d="M479.9 411.2l3.9 .7-1.8-.9-4-.6z"/><path class="t" d="M475.9 410.6l4 .6-1.9-.8-3.9-.6z"/></g>
<g fill="#cf0000"><path class="t" d="M471.9 410.1l4 .5-1.8-.8-4-.5z"/><path class="t" d="M467.9 409.7l4 .4-1.8-.8-4-.4z"/></g>
<g fill="#bf0000"><path class="t" d="M463.9 409.3l4 .4-1.8-.8-4-.4z"/><path class="t" d="M459.9 408.9l4 .4-1.8-.8-4-.3z"/></g>
<g fill="#af0000"><path class="t" d="M455.9 408.6l4 .3-1.8-.7-4-.3z"/><path class="t" d="M451.9 408.4l4 .2-1.8-.7-4-.3z"/><path class="t" d="M448 408.1l3.9 .3-1.8-.8-4-.2z"/></g>
<g fill="#9f0000"><path class="t" d="M444 407.9l4 .2-1.9-.7-3.9-.2z"/><path class="t" d="M440 407.7l4 .2-1.8-.7-4-.2z"/><path class="t" d="M436 407.6l4 .1-1.8-.7-4-.2z"/><path d="M593.3 396.7l4-.7-1.8-.7-4 .7z"/><path d="M589.3 397.6l4-.9-1.8-.7-4 .8z"/></g>
<g fill="#af0000"><path d="M585.3 398.4l4-.8-1.8-.8-4 .9z"/><path d="M581.3 399.2l4-.8-1.8-.7-4 .8z"/><path d="M577.4 400.1l3.9-.9-1.8-.7-3.9 .9z"/></g>
<g fill="#bf0000"><path d="M573.4 401l4-.9-1.8-.7-4 .9z"/><path d="M569.4 402l4-1-1.8-.7-4 1z"/></g>
<g fill="#cf0000"><path d="M565.4 403l4-1-1.8-.7-4 1z"/><path d="M561.4 404.1l4-1.1-1.8-.7-4 1.1z"/></g>
<g fill="#df0000"><path d="M557.4 405.2l4-1.1-1.8-.7-4 1.1z"/><path d="M553.4 406.4l4-1.2-1.8-.7-4 1.2z"/></g>
<path fill="#ef0000" d="M549.4 407.7l4-1.3-1.8-.7-4 1.3z"/>
<path fill="#f00" d="M545.5 409.1l3.9-1.4-1.8-.7-3.9 1.4z"/>
<path fill="#ff1000" d="M541.5 410.7l4-1.6-1.8-.7-4 1.5z"/>
<path fill="#ff2000" d="M537.5 412.5l4-1.8-1.8-.8-4 1.8z"/>
<path fill="#ff3000" d="M533.5 414.6l4-2.1-1.8-.8-4 2z"/>
<path fill="#ff4000" d="M529.5 417.1l4-2.5-1.8-.9-4 2.3z"/>
<path fill="#ff6000" d="M525.5 420.5l4-3.4-1.8-1.1-4 2.9z"/>
<path fill="#ff9f00" d="M521.5 425.7l4-5.2-1.8-1.6-4 3.7z"/>
<path fill="#00008f" d="M517.6 494.3l3.9-68.6-1.8-3.1-4 2.7z"/>
<path fill="#ff9f00" d="M513.6 426.3l4 68-1.9-69-3.9-2.1z"/>
<path fill="#ff6000" class="t" d="M509.6 421.7l4 4.6-1.8-3.1-4-3z"/>
<path fill="#ff4000" class="t" d="M505.6 419l4 2.7-1.8-1.5-4-2.3z"/>
<path fill="#ff3000" class="t" d="M501.6 417l4 2-1.8-1.1-4-1.8z"/>
<path fill="#ff2000" class="t" d="M497.6 415.6l4 1.4-1.8-.9-4-1.4z"/>
<path fill="#ff1000" class="t" d="M493.6 414.4l4 1.2-1.8-.9-4-1.1z"/>
<path fill="#f00" class="t" d="M489.6 413.5l4 .9-1.8-.8-4-.9z"/>
<path fill="#ef0000" class="t" d="M485.6 412.6l4 .9-1.8-.8-4-.8z"/>
<g fill="#df0000"><path class="t" d="M481.7 412l3.9 .6-1.8-.7-3.9-.7z"/><path class="t" d="M477.7 411.4l4 .6-1.8-.8-4-.6z"/></g>
<g fill="#cf0000"><path class="t" d="M473.7 410.8l4 .6-1.8-.8-4-.5z"/><path class="t" d="M469.7 410.4l4 .4-1.8-.7-4-.4z"/></g>
<g fill="#bf0000"><path class="t" d="M465.7 410l4 .4-1.8-.7-4-.4z"/><path class="t" d="M461.7 409.7l4 .3-1.8-.7-4-.4z"/></g>
<g fill="#af0000"><path class="t" d="M457.7 409.3l4 .4-1.8-.8-4-.3z"/><path class="t" d="M453.8 409.1l3.9 .2-1.8-.7-4-.2z"/><path class="t" d="M449.8 408.8l4 .3-1.9-.7-3.9-.3z"/></g>
<g fill="#9f0000"><path class="t" d="M445.8 408.6l4 .2-1.8-.7-4-.2z"/><path class="t" d="M441.8 408.4l4 .2-1.8-.7-4-.2z"/><path class="t" d="M437.8 408.3l4 .1-1.8-.7-4-.1z"/><path d="M595.1 397.4l4-.8-1.8-.6-4 .7z"/><path d="M591.1 398.2l4-.8-1.8-.7-4 .9z"/></g>
<g fill="#af0000"><path d="M587.1 399.1l4-.9-1.8-.6-4 .8z"/><path d="M583.2 399.9l3.9-.8-1.8-.7-4 .8z"/><path d="M579.2 400.8l4-.9-1.9-.7-3.9 .9z"/></g>
<g fill="#bf0000"><path d="M575.2 401.7l4-.9-1.8-.7-4 .9z"/><path d="M571.2 402.7l4-1-1.8-.7-4 1z"/></g>
<g fill="#cf0000"><path d="M567.2 403.7l4-1-1.8-.7-4 1z"/><path d="M563.2 404.7l4-1-1.8-.7-4 1.1z"/></g>
<g fill="#df0000"><path d="M559.2 405.9l4-1.2-1.8-.6-4 1.1z"/><path d="M555.2 407.1l4-1.2-1.8-.7-4 1.2z"/></g>
<path fill="#ef0000" d="M551.3 408.4l3.9-1.3-1.8-.7-4 1.3z"/>
<path fill="#f00" d="M547.3 409.8l4-1.4-1.9-.7-3.9 1.4z"/>
<path fill="#ff1000" d="M543.3 411.3l4-1.5-1.8-.7-4 1.6z"/>
<path fill="#ff2000" d="M539.3 413l4-1.7-1.8-.6-4 1.8z"/>
<path fill="#ff3000" d="M535.3 415l4-2-1.8-.5-4 2.1z"/>
<path fill="#ff4000" d="M531.3 417.4l4-2.4-1.8-.4-4 2.5z"/>
<path fill="#ff6000" d="M527.3 420.3l4-2.9-1.8-.3-4 3.4z"/>
<path fill="#ff8000" class="t" d="M523.3 423.9l4-3.6-1.8 .2-4 5.2z"/>
<path fill="#ff9f00" d="M519.4 426.7l3.9-2.8-1.8 1.8-3.9 68.6z"/>
<path fill="#ff8000" d="M515.4 424.6l4 2.1-1.8 67.6-4-68z"/>
<path fill="#ff6000" d="M511.4 421.6l4 3-1.8 1.7-4-4.6z"/>
<path fill="#ff4000" class="t" d="M507.4 419.3l4 2.3-1.8 .1-4-2.7z"/>
<path fill="#ff3000" class="t" d="M503.4 417.5l4 1.8-1.8-.3-4-2z"/>
<path fill="#ff2000" class="t" d="M499.4 416.1l4 1.4-1.8-.5-4-1.4z"/>
<path fill="#ff1000" class="t" d="M495.4 415l4 1.1-1.8-.5-4-1.2z"/>
<path fill="#f00" class="t" d="M491.4 414.1l4 .9-1.8-.6-4-.9z"/>
<path fill="#ef0000" class="t" d="M487.5 413.3l3.9 .8-1.8-.6-4-.9z"/>
<g fill="#df0000"><path class="t" d="M483.5 412.6l4 .7-1.9-.7-3.9-.6z"/><path class="t" d="M479.5 412l4 .6-1.8-.6-4-.6z"/></g>
<g fill="#cf0000"><path class="t" d="M475.5 411.5l4 .5-1.8-.6-4-.6z"/><path class="t" d="M471.5 411.1l4 .4-1.8-.7-4-.4z"/></g>
<g fill="#bf0000"><path class="t" d="M467.5 410.7l4 .4-1.8-.7-4-.4z"/><path class="t" d="M463.5 410.3l4 .4-1.8-.7-4-.3z"/></g>
<g fill="#af0000"><path class="t" d="M459.5 410l4 .3-1.8-.6-4-.4z"/><path class="t" d="M455.6 409.7l3.9 .3-1.8-.7-3.9-.2z"/><path class="t" d="M451.6 409.5l4 .2-1.8-.6-4-.3z"/></g>
<g fill="#9f0000"><path class="t" d="M447.6 409.3l4 .2-1.8-.7-4-.2z"/><path class="t" d="M443.6 409.1l4 .2-1.8-.7-4-.2z"/><path class="t" d="M439.6 408.9l4 .2-1.8-.7-4-.1z"/><path class="t" d="M596.9 398.1l4-.8-1.8-.7-4 .8z"/><path class="t" d="M592.9 398.9l4-.8-1.8-.7-4 .8z"/></g>
<g fill="#af0000"><path d="M589 399.7l3.9-.8-1.8-.7-4 .9z"/><path d="M585 400.5l4-.8-1.9-.6-3.9 .8z"/><path d="M581 401.4l4-.9-1.8-.6-4 .9z"/></g>
<g fill="#bf0000"><path d="M577 402.3l4-.9-1.8-.6-4 .9z"/><path d="M573 403.3l4-1-1.8-.6-4 1z"/></g>
<g fill="#cf0000"><path d="M569 404.3l4-1-1.8-.6-4 1z"/><path d="M565 405.3l4-1-1.8-.6-4 1z"/></g>
<g fill="#df0000"><path d="M561 406.4l4-1.1-1.8-.6-4 1.2z"/><path d="M557.1 407.6l3.9-1.2-1.8-.5-4 1.2z"/></g>
<path fill="#ef0000" d="M553.1 408.9l4-1.3-1.9-.5-3.9 1.3z"/>
<g fill="#f00"><path d="M549.1 410.2l4-1.3-1.8-.5-4 1.4z"/><path d="M545.1 411.7l4-1.5-1.8-.4-4 1.5z"/></g>
<path fill="#ff1000" d="M541.1 413.3l4-1.6-1.8-.4-4 1.7z"/>
<path fill="#ff2000" class="t" d="M537.1 415.1l4-1.8-1.8-.3-4 2z"/>
<path fill="#ff3000" class="t" d="M533.1 417.1l4-2-1.8-.1-4 2.4z"/>
<path fill="#ff5000" class="t" d="M529.1 419.3l4-2.2-1.8 .3-4 2.9z"/>
<g fill="#ff6000"><path class="t" d="M525.2 421.3l3.9-2-1.8 1-4 3.6z"/><path d="M521.2 422.4l4-1.1-1.9 2.6-3.9 2.8z"/><path d="M517.2 421.9l4 .5-1.8 4.3-4-2.1z"/></g>
<path fill="#ff5000" d="M513.2 420.5l4 1.4-1.8 2.7-4-3z"/>
<path fill="#ff3000" d="M509.2 418.9l4 1.6-1.8 1.1-4-2.3z"/>
<path fill="#ff2000" class="t" d="M505.2 417.5l4 1.4-1.8 .4-4-1.8z"/>
<path fill="#ff1000" class="t" d="M501.2 416.4l4 1.1-1.8 0-4-1.4z"/>
<g fill="#f00"><path class="t" d="M497.2 415.4l4 1-1.8-.3-4-1.1z"/><path class="t" d="M493.3 414.5l3.9 .9-1.8-.4-4-.9z"/></g>
<path fill="#ef0000" class="t" d="M489.3 413.8l4 .7-1.9-.4-3.9-.8z"/>
<g fill="#df0000"><path class="t" d="M485.3 413.1l4 .7-1.8-.5-4-.7z"/><path class="t" d="M481.3 412.6l4 .5-1.8-.5-4-.6z"/></g>
<g fill="#cf0000"><path class="t" d="M477.3 412.1l4 .5-1.8-.6-4-.5z"/><path class="t" d="M473.3 411.7l4 .4-1.8-.6-4-.4z"/></g>
<g fill="#bf0000"><path class="t" d="M469.3 411.3l4 .4-1.8-.6-4-.4z"/><path class="t" d="M465.3 410.9l4 .4-1.8-.6-4-.4z"/></g>
<g fill="#af0000"><path class="t" d="M461.4 410.6l3.9 .3-1.8-.6-4-.3z"/><path class="t" d="M457.4 410.4l4 .2-1.9-.6-3.9-.3z"/><path class="t" d="M453.4 410.2l4 .2-1.8-.7-4-.2z"/></g>
<g fill="#9f0000"><path class="t" d="M449.4 409.9l4 .3-1.8-.7-4-.2z"/><path class="t" d="M445.4 409.8l4 .1-1.8-.6-4-.2z"/><path class="t" d="M441.4 409.6l4 .2-1.8-.7-4-.2z"/><path class="t" d="M598.7 398.7l4-.8-1.8-.6-4 .8z"/><path class="t" d="M594.8 399.5l3.9-.8-1.8-.6-4 .8z"/></g>
<g fill="#af0000"><path class="t" d="M590.8 400.3l4-.8-1.9-.6-3.9 .8z"/><path class="t" d="M586.8 401.1l4-.8-1.8-.6-4 .8z"/><path class="t" d="M582.8 402l4-.9-1.8-.6-4 .9z"/></g>
<g fill="#bf0000"><path class="t" d="M578.8 402.9l4-.9-1.8-.6-4 .9z"/><path class="t" d="M574.8 403.8l4-.9-1.8-.6-4 1z"/></g>
<g fill="#cf0000"><path class="t" d="M570.8 404.8l4-1-1.8-.5-4 1z"/><path class="t" d="M566.8 405.8l4-1-1.8-.5-4 1z"/></g>
<g fill="#df0000"><path class="t" d="M562.9 406.9l3.9-1.1-1.8-.5-4 1.1z"/><path class="t" d="M558.9 408l4-1.1-1.9-.5-3.9 1.2z"/></g>
<g fill="#ef0000"><path class="t" d="M554.9 409.2l4-1.2-1.8-.4-4 1.3z"/><path class="t" d="M550.9 410.5l4-1.3-1.8-.3-4 1.3z"/></g>
<path fill="#f00" class="t" d="M546.9 411.9l4-1.4-1.8-.3-4 1.5z"/>
<path fill="#ff1000" class="t" d="M542.9 413.3l4-1.4-1.8-.2-4 1.6z"/>
<path fill="#ff2000" class="t" d="M538.9 414.9l4-1.6-1.8 0-4 1.8z"/>
<g fill="#ff3000"><path class="t" d="M534.9 416.5l4-1.6-1.8 .2-4 2z"/><path class="t" d="M531 418.1l3.9-1.6-1.8 .6-4 2.2z"/></g>
<g fill="#ff4000"><path class="t" d="M527 419.4l4-1.3-1.9 1.2-3.9 2z"/><path d="M523 420.1l4-.7-1.8 1.9-4 1.1z"/><path d="M519 420l4 .1-1.8 2.3-4-.5z"/></g>
<g fill="#ff3000"><path d="M515 419.3l4 .7-1.8 1.9-4-1.4z"/><path d="M511 418.3l4 1-1.8 1.2-4-1.6z"/></g>
<path fill="#ff2000" class="t" d="M507 417.3l4 1-1.8 .6-4-1.4z"/>
<path fill="#ff1000" class="t" d="M503 416.4l4 .9-1.8 .2-4-1.1z"/>
<path fill="#f00" class="t" d="M499.1 415.6l3.9 .8-1.8 0-4-1z"/>
<g fill="#ef0000"><path class="t" d="M495.1 414.8l4 .8-1.9-.2-3.9-.9z"/><path class="t" d="M491.1 414.2l4 .6-1.8-.3-4-.7z"/></g>
<g fill="#df0000"><path class="t" d="M487.1 413.6l4 .6-1.8-.4-4-.7z"/><path class="t" d="M483.1 413.1l4 .5-1.8-.5-4-.5z"/></g>
<g fill="#cf0000"><path class="t" d="M479.1 412.6l4 .5-1.8-.5-4-.5z"/><path class="t" d="M475.1 412.2l4 .4-1.8-.5-4-.4z"/></g>
<g fill="#bf0000"><path class="t" d="M471.1 411.8l4 .4-1.8-.5-4-.4z"/><path class="t" d="M467.2 411.5l3.9 .3-1.8-.5-4-.4z"/></g>
<g fill="#af0000"><path class="t" d="M463.2 411.2l4 .3-1.9-.6-3.9-.3z"/><path class="t" d="M459.2 411l4 .2-1.8-.6-4-.2z"/><path class="t" d="M455.2 410.8l4 .2-1.8-.6-4-.2z"/></g>
<g fill="#9f0000"><path class="t" d="M451.2 410.6l4 .2-1.8-.6-4-.3z"/><path class="t" d="M447.2 410.4l4 .2-1.8-.7-4-.1z"/><path class="t" d="M443.2 410.2l4 .2-1.8-.6-4-.2z"/><path class="t" d="M600.6 399.3l3.9-.8-1.8-.6-4 .8z"/><path class="t" d="M596.6 400.1l4-.8-1.9-.6-3.9 .8z"/></g>
<g fill="#af0000"><path class="t" d="M592.6 400.9l4-.8-1.8-.6-4 .8z"/><path class="t" d="M588.6 401.7l4-.8-1.8-.6-4 .8z"/><path class="t" d="M584.6 402.6l4-.9-1.8-.6-4 .9z"/></g>
<g fill="#bf0000"><path class="t" d="M580.6 403.5l4-.9-1.8-.6-4 .9z"/><path class="t" d="M576.6 404.4l4-.9-1.8-.6-4 .9z"/><path class="t" d="M572.6 405.3l4-.9-1.8-.6-4 1z"/></g>
<g fill="#cf0000"><path class="t" d="M568.7 406.3l3.9-1-1.8-.5-4 1z"/><path class="t" d="M564.7 407.3l4-1-1.9-.5-3.9 1.1z"/></g>
<g fill="#df0000"><path class="t" d="M560.7 408.4l4-1.1-1.8-.4-4 1.1z"/><path class="t" d="M556.7 409.5l4-1.1-1.8-.4-4 1.2z"/></g>
<path fill="#ef0000" class="t" d="M552.7 410.7l4-1.2-1.8-.3-4 1.3z"/>
<g fill="#f00"><path class="t" d="M548.7 412l4-1.3-1.8-.2-4 1.4z"/><path class="t" d="M544.7 413.3l4-1.3-1.8-.1-4 1.4z"/></g>
<path fill="#ff1000" class="t" d="M540.7 414.6l4-1.3-1.8 0-4 1.6z"/>
<g fill="#ff2000"><path class="t" d="M536.8 415.9l3.9-1.3-1.8 .3-4 1.6z"/><path class="t" d="M532.8 417.1l4-1.2-1.9 .6-3.9 1.6z"/></g>
<g fill="#ff3000"><path class="t" d="M528.8 418l4-.9-1.8 1-4 1.3z"/><path d="M524.8 418.6l4-.6-1.8 1.4-4 .7z"/><path d="M520.8 418.6l4 0-1.8 1.5-4-.1z"/></g>
<g fill="#ff2000"><path d="M516.8 418.3l4 .3-1.8 1.4-4-.7z"/><path d="M512.8 417.7l4 .6-1.8 1-4-1z"/></g>
<path fill="#ff1000" class="t" d="M508.8 417l4 .7-1.8 .6-4-1z"/>
<g fill="#f00"><path class="t" d="M504.9 416.3l3.9 .7-1.8 .3-4-.9z"/><path class="t" d="M500.9 415.7l4 .6-1.9 .1-3.9-.8z"/></g>
<path fill="#ef0000" class="t" d="M496.9 415l4 .7-1.8-.1-4-.8z"/>
<g fill="#df0000"><path class="t" d="M492.9 414.5l4 .5-1.8-.2-4-.6z"/><path class="t" d="M488.9 413.9l4 .6-1.8-.3-4-.6z"/></g>
<g fill="#cf0000"><path class="t" d="M484.9 413.5l4 .4-1.8-.3-4-.5z"/><path class="t" d="M480.9 413.1l4 .4-1.8-.4-4-.5z"/></g>
<g fill="#bf0000"><path class="t" d="M476.9 412.7l4 .4-1.8-.5-4-.4z"/><path class="t" d="M473 412.4l3.9 .3-1.8-.5-4-.4z"/><path class="t" d="M469 412.1l4 .3-1.9-.6-3.9-.3z"/></g>
<g fill="#af0000"><path class="t" d="M465 411.8l4 .3-1.8-.6-4-.3z"/><path class="t" d="M461 411.6l4 .2-1.8-.6-4-.2z"/><path class="t" d="M457 411.3l4 .3-1.8-.6-4-.2z"/></g>
<g fill="#9f0000"><path class="t" d="M453 411.2l4 .1-1.8-.5-4-.2z"/><path class="t" d="M449 411l4 .2-1.8-.6-4-.2z"/><path class="t" d="M445 410.8l4 .2-1.8-.6-4-.2z"/><path class="t" d="M602.4 399.9l4-.8-1.9-.6-3.9 .8z"/><path class="t" d="M598.4 400.7l4-.8-1.8-.6-4 .8z"/><path class="t" d="M594.4 401.5l4-.8-1.8-.6-4 .8z"/></g>
<g fill="#af0000"><path class="t" d="M590.4 402.3l4-.8-1.8-.6-4 .8z"/><path class="t" d="M586.4 403.1l4-.8-1.8-.6-4 .9z"/><path class="t" d="M582.4 404l4-.9-1.8-.5-4 .9z"/></g>
<g fill="#bf0000"><path class="t" d="M578.4 404.8l4-.8-1.8-.5-4 .9z"/><path class="t" d="M574.4 405.8l4-1-1.8-.4-4 .9z"/></g>
<g fill="#cf0000"><path class="t" d="M570.5 406.7l3.9-.9-1.8-.5-3.9 1z"/><path class="t" d="M566.5 407.7l4-1-1.8-.4-4 1z"/></g>
<g fill="#df0000"><path class="t" d="M562.5 408.7l4-1-1.8-.4-4 1.1z"/><path class="t" d="M558.5 409.8l4-1.1-1.8-.3-4 1.1z"/></g>
<g fill="#ef0000"><path class="t" d="M554.5 410.9l4-1.1-1.8-.3-4 1.2z"/><path class="t" d="M550.5 412l4-1.1-1.8-.2-4 1.3z"/></g>
<g fill="#f00"><path class="t" d="M546.5 413.1l4-1.1-1.8 0-4 1.3z"/><path class="t" d="M542.6 414.3l3.9-1.2-1.8 .2-4 1.3z"/></g>
<g fill="#ff1000"><path class="t" d="M538.6 415.3l4-1-1.9 .3-3.9 1.3z"/><path class="t" d="M534.6 416.3l4-1-1.8 .6-4 1.2z"/></g>
<g fill="#ff2000"><path class="t" d="M530.6 417l4-.7-1.8 .8-4 .9z"/><path class="t" d="M526.6 417.5l4-.5-1.8 1-4 .6z"/><path class="t" d="M522.6 417.6l4-.1-1.8 1.1-4 0z"/></g>
<g fill="#ff1000"><path class="t" d="M518.6 417.5l4 .1-1.8 1-4-.3z"/><path class="t" d="M514.6 417.2l4 .3-1.8 .8-4-.6z"/></g>
<g fill="#f00"><path class="t" d="M510.6 416.7l4 .5-1.8 .5-4-.7z"/><path class="t" d="M506.7 416.2l3.9 .5-1.8 .3-3.9-.7z"/></g>
<g fill="#ef0000"><path class="t" d="M502.7 415.7l4 .5-1.8 .1-4-.6z"/><path class="t" d="M498.7 415.2l4 .5-1.8 0-4-.7z"/></g>
<g fill="#df0000"><path class="t" d="M494.7 414.7l4 .5-1.8-.2-4-.5z"/><path class="t" d="M490.7 414.3l4 .4-1.8-.2-4-.6z"/></g>
<g fill="#cf0000"><path class="t" d="M486.7 413.9l4 .4-1.8-.4-4-.4z"/><path class="t" d="M482.7 413.5l4 .4-1.8-.4-4-.4z"/></g>
<g fill="#bf0000"><path class="t" d="M478.8 413.1l3.9 .4-1.8-.4-4-.4z"/><path class="t" d="M474.8 412.8l4 .3-1.9-.4-3.9-.3z"/></g>
<g fill="#af0000"><path class="t" d="M470.8 412.6l4 .2-1.8-.4-4-.3z"/><path class="t" d="M466.8 412.3l4 .3-1.8-.5-4-.3z"/><path class="t" d="M462.8 412.1l4 .2-1.8-.5-4-.2z"/></g>
<g fill="#9f0000"><path class="t" d="M458.8 411.9l4 .2-1.8-.5-4-.3z"/><path class="t" d="M454.8 411.7l4 .2-1.8-.6-4-.1z"/><path class="t" d="M450.8 411.6l4 .1-1.8-.5-4-.2z"/></g>
<path fill="#8f0000" class="t" d="M446.8 411.4l4 .2-1.8-.6-4-.2z"/>
<g fill="#9f0000"><path class="t" d="M604.2 400.5l4-.8-1.8-.6-4 .8z"/><path class="t" d="M600.2 401.2l4-.7-1.8-.6-4 .8z"/><path class="t" d="M596.2 402l4-.8-1.8-.5-4 .8z"/></g>
<g fill="#af0000"><path class="t" d="M592.2 402.8l4-.8-1.8-.5-4 .8z"/><path class="t" d="M588.2 403.6l4-.8-1.8-.5-4 .8z"/><path class="t" d="M584.2 404.4l4-.8-1.8-.5-4 .9z"/></g>
<g fill="#bf0000"><path class="t" d="M580.2 405.3l4-.9-1.8-.4-4 .8z"/><path class="t" d="M576.3 406.2l3.9-.9-1.8-.5-4 1z"/></g>
<g fill="#cf0000"><path class="t" d="M572.3 407.1l4-.9-1.9-.4-3.9 .9z"/><path class="t" d="M568.3 408l4-.9-1.8-.4-4 1z"/><path class="t" d="M564.3 409l4-1-1.8-.3-4 1z"/></g>
<g fill="#df0000"><path class="t" d="M560.3 410l4-1-1.8-.3-4 1.1z"/><path class="t" d="M556.3 411l4-1-1.8-.2-4 1.1z"/></g>
<g fill="#ef0000"><path class="t" d="M552.3 412l4-1-1.8-.1-4 1.1z"/><path class="t" d="M548.3 413l4-1-1.8 0-4 1.1z"/></g>
<g fill="#f00"><path class="t" d="M544.4 414l3.9-1-1.8 .1-3.9 1.2z"/><path class="t" d="M540.4 414.9l4-.9-1.8 .3-4 1z"/><path class="t" d="M536.4 415.7l4-.8-1.8 .4-4 1z"/></g>
<g fill="#ff1000"><path class="t" d="M532.4 416.3l4-.6-1.8 .6-4 .7z"/><path class="t" d="M528.4 416.7l4-.4-1.8 .7-4 .5z"/><path class="t" d="M524.4 416.9l4-.2-1.8 .8-4 .1z"/></g>
<g fill="#f00"><path class="t" d="M520.4 416.9l4 0-1.8 .7-4-.1z"/><path class="t" d="M516.4 416.7l4 .2-1.8 .6-4-.3z"/><path class="t" d="M512.5 416.4l3.9 .3-1.8 .5-4-.5z"/></g>
<g fill="#ef0000"><path class="t" d="M508.5 416.1l4 .3-1.9 .3-3.9-.5z"/><path class="t" d="M504.5 415.7l4 .4-1.8 .1-4-.5z"/></g>
<g fill="#df0000"><path class="t" d="M500.5 415.3l4 .4-1.8 0-4-.5z"/><path class="t" d="M496.5 414.9l4 .4-1.8-.1-4-.5z"/></g>
<g fill="#cf0000"><path class="t" d="M492.5 414.5l4 .4-1.8-.2-4-.4z"/><path class="t" d="M488.5 414.2l4 .3-1.8-.2-4-.4z"/><path class="t" d="M484.5 413.9l4 .3-1.8-.3-4-.4z"/></g>
<g fill="#bf0000"><path class="t" d="M480.6 413.6l3.9 .3-1.8-.4-3.9-.4z"/><path class="t" d="M476.6 413.3l4 .3-1.8-.5-4-.3z"/></g>
<g fill="#af0000"><path class="t" d="M472.6 413l4 .3-1.8-.5-4-.2z"/><path class="t" d="M468.6 412.8l4 .2-1.8-.4-4-.3z"/><path class="t" d="M464.6 412.6l4 .2-1.8-.5-4-.2z"/></g>
<g fill="#9f0000"><path class="t" d="M460.6 412.4l4 .2-1.8-.5-4-.2z"/><path class="t" d="M456.6 412.3l4 .1-1.8-.5-4-.2z"/><path class="t" d="M452.6 412.1l4 .2-1.8-.6-4-.1z"/></g>
<path fill="#8f0000" class="t" d="M448.7 412l3.9 .1-1.8-.5-4-.2z"/>
<g fill="#9f0000"><path class="t" d="M606 401l4-.7-1.8-.6-4 .8z"/><path class="t" d="M602 401.7l4-.7-1.8-.5-4 .7z"/><path class="t" d="M598 402.5l4-.8-1.8-.5-4 .8z"/></g>
<g fill="#af0000"><path class="t" d="M594 403.3l4-.8-1.8-.5-4 .8z"/><path class="t" d="M590 404.1l4-.8-1.8-.5-4 .8z"/><path class="t" d="M586 404.9l4-.8-1.8-.5-4 .8z"/></g>
<g fill="#bf0000"><path class="t" d="M582.1 405.7l3.9-.8-1.8-.5-4 .9z"/><path class="t" d="M578.1 406.6l4-.9-1.9-.4-3.9 .9z"/><path class="t" d="M574.1 407.4l4-.8-1.8-.4-4 .9z"/></g>
<g fill="#cf0000"><path class="t" d="M570.1 408.3l4-.9-1.8-.3-4 .9z"/><path class="t" d="M566.1 409.2l4-.9-1.8-.3-4 1z"/><path class="t" d="M562.1 410.1l4-.9-1.8-.2-4 1z"/></g>
<g fill="#df0000"><path class="t" d="M558.1 411.1l4-1-1.8-.1-4 1z"/><path class="t" d="M554.1 412l4-.9-1.8-.1-4 1z"/></g>
<g fill="#ef0000"><path class="t" d="M550.2 412.9l3.9-.9-1.8 0-4 1z"/><path class="t" d="M546.2 413.7l4-.8-1.9 .1-3.9 1z"/><path class="t" d="M542.2 414.5l4-.8-1.8 .3-4 .9z"/></g>
<g fill="#f00"><path class="t" d="M538.2 415.2l4-.7-1.8 .4-4 .8z"/><path class="t" d="M534.2 415.7l4-.5-1.8 .5-4 .6z"/><path class="t" d="M530.2 416.1l4-.4-1.8 .6-4 .4z"/><path class="t" d="M526.2 416.4l4-.3-1.8 .6-4 .2z"/><path class="t" d="M522.2 416.4l4 0-1.8 .5-4 0z"/></g>
<g fill="#ef0000"><path class="t" d="M518.3 416.4l3.9 0-1.8 .5-4-.2z"/><path class="t" d="M514.3 416.2l4 .2-1.9 .3-3.9-.3z"/><path class="t" d="M510.3 415.9l4 .3-1.8 .2-4-.3z"/></g>
<g fill="#df0000"><path class="t" d="M506.3 415.7l4 .2-1.8 .2-4-.4z"/><path class="t" d="M502.3 415.4l4 .3-1.8 0-4-.4z"/></g>
<g fill="#cf0000"><path class="t" d="M498.3 415.1l4 .3-1.8-.1-4-.4z"/><path class="t" d="M494.3 414.8l4 .3-1.8-.2-4-.4z"/><path class="t" d="M490.3 414.5l4 .3-1.8-.3-4-.3z"/></g>
<g fill="#bf0000"><path class="t" d="M486.4 414.2l3.9 .3-1.8-.3-4-.3z"/><path class="t" d="M482.4 413.9l4 .3-1.9-.3-3.9-.3z"/><path class="t" d="M478.4 413.7l4 .2-1.8-.3-4-.3z"/></g>
<g fill="#af0000"><path class="t" d="M474.4 413.5l4 .2-1.8-.4-4-.3z"/><path class="t" d="M470.4 413.3l4 .2-1.8-.5-4-.2z"/><path class="t" d="M466.4 413.1l4 .2-1.8-.5-4-.2z"/></g>
<g fill="#9f0000"><path class="t" d="M462.4 413l4 .1-1.8-.5-4-.2z"/><path class="t" d="M458.4 412.8l4 .2-1.8-.6-4-.1z"/><path class="t" d="M454.5 412.7l3.9 .1-1.8-.5-4-.2z"/></g>
<g fill="#8f0000"><path class="t" d="M450.5 412.6l4 .1-1.9-.6-3.9-.1z"/><path class="t" d="M607.8 401.5l4-.7-1.8-.5-4 .7z"/></g>
<g fill="#9f0000"><path class="t" d="M603.8 402.2l4-.7-1.8-.5-4 .7z"/><path class="t" d="M599.8 403l4-.8-1.8-.5-4 .8z"/><path class="t" d="M595.8 403.7l4-.7-1.8-.5-4 .8z"/></g>
<g fill="#af0000"><path class="t" d="M591.8 404.5l4-.8-1.8-.4-4 .8z"/><path class="t" d="M587.9 405.3l3.9-.8-1.8-.4-4 .8z"/><path class="t" d="M583.9 406.1l4-.8-1.9-.4-3.9 .8z"/></g>
<g fill="#bf0000"><path class="t" d="M579.9 406.9l4-.8-1.8-.4-4 .9z"/><path class="t" d="M575.9 407.7l4-.8-1.8-.3-4 .8z"/><path class="t" d="M571.9 408.6l4-.9-1.8-.3-4 .9z"/></g>
<g fill="#cf0000"><path class="t" d="M567.9 409.4l4-.8-1.8-.3-4 .9z"/><path class="t" d="M563.9 410.3l4-.9-1.8-.2-4 .9z"/><path class="t" d="M559.9 411.1l4-.8-1.8-.2-4 1z"/></g>
<g fill="#df0000"><path class="t" d="M556 412l3.9-.9-1.8 0-4 .9z"/><path class="t" d="M552 412.8l4-.8-1.9 0-3.9 .9z"/><path class="t" d="M548 413.5l4-.7-1.8 .1-4 .8z"/></g>
<g fill="#ef0000"><path class="t" d="M544 414.2l4-.7-1.8 .2-4 .8z"/><path class="t" d="M540 414.8l4-.6-1.8 .3-4 .7z"/><path class="t" d="M536 415.3l4-.5-1.8 .4-4 .5z"/><path class="t" d="M532 415.7l4-.4-1.8 .4-4 .4z"/><path class="t" d="M528 415.9l4-.2-1.8 .4-4 .3z"/><path class="t" d="M524.1 416.1l3.9-.2-1.8 .5-4 0z"/><path class="t" d="M520.1 416.1l4 0-1.9 .3-3.9 0z"/></g>
<g fill="#df0000"><path class="t" d="M516.1 416l4 .1-1.8 .3-4-.2z"/><path class="t" d="M512.1 415.8l4 .2-1.8 .2-4-.3z"/><path class="t" d="M508.1 415.7l4 .1-1.8 .1-4-.2z"/></g>
<g fill="#cf0000"><path class="t" d="M504.1 415.4l4 .3-1.8 0-4-.3z"/><path class="t" d="M500.1 415.2l4 .2-1.8 0-4-.3z"/><path class="t" d="M496.1 415l4 .2-1.8-.1-4-.3z"/></g>
<g fill="#bf0000"><path class="t" d="M492.2 414.7l3.9 .3-1.8-.2-4-.3z"/><path class="t" d="M488.2 414.5l4 .2-1.9-.2-3.9-.3z"/><path class="t" d="M484.2 414.3l4 .2-1.8-.3-4-.3z"/></g>
<g fill="#af0000"><path class="t" d="M480.2 414.1l4 .2-1.8-.4-4-.2z"/><path class="t" d="M476.2 413.9l4 .2-1.8-.4-4-.2z"/><path class="t" d="M472.2 413.7l4 .2-1.8-.4-4-.2z"/></g>
<g fill="#9f0000"><path class="t" d="M468.2 413.6l4 .1-1.8-.4-4-.2z"/><path class="t" d="M464.2 413.4l4 .2-1.8-.5-4-.1z"/><path class="t" d="M460.3 413.3l3.9 .1-1.8-.4-4-.2z"/></g>
<g fill="#8f0000"><path class="t" d="M456.3 413.2l4 .1-1.9-.5-3.9-.1z"/><path class="t" d="M452.3 413.1l4 .1-1.8-.5-4-.1z"/><path class="t" d="M609.6 402l4-.7-1.8-.5-4 .7z"/></g>
<g fill="#9f0000"><path class="t" d="M605.6 402.7l4-.7-1.8-.5-4 .7z"/><path class="t" d="M601.6 403.5l4-.8-1.8-.5-4 .8z"/><path class="t" d="M597.6 404.2l4-.7-1.8-.5-4 .7z"/></g>
<g fill="#af0000"><path class="t" d="M593.7 404.9l3.9-.7-1.8-.5-4 .8z"/><path class="t" d="M589.7 405.7l4-.8-1.9-.4-3.9 .8z"/><path class="t" d="M585.7 406.5l4-.8-1.8-.4-4 .8z"/><path class="t" d="M581.7 407.3l4-.8-1.8-.4-4 .8z"/></g>
<g fill="#bf0000"><path class="t" d="M577.7 408l4-.7-1.8-.4-4 .8z"/><path class="t" d="M573.7 408.8l4-.8-1.8-.3-4 .9z"/><path class="t" d="M569.7 409.6l4-.8-1.8-.2-4 .8z"/></g>
<g fill="#cf0000"><path class="t" d="M565.7 410.4l4-.8-1.8-.2-4 .9z"/><path class="t" d="M561.8 411.2l3.9-.8-1.8-.1-4 .8z"/><path class="t" d="M557.8 412l4-.8-1.9-.1-3.9 .9z"/></g>
<g fill="#df0000"><path class="t" d="M553.8 412.7l4-.7-1.8 0-4 .8z"/><path class="t" d="M549.8 413.4l4-.7-1.8 .1-4 .7z"/><path class="t" d="M545.8 414l4-.6-1.8 .1-4 .7z"/><path class="t" d="M541.8 414.6l4-.6-1.8 .2-4 .6z"/><path class="t" d="M537.8 415l4-.4-1.8 .2-4 .5z"/><path class="t" d="M533.8 415.4l4-.4-1.8 .3-4 .4z"/><path class="t" d="M529.9 415.7l3.9-.3-1.8 .3-4 .2z"/><path class="t" d="M525.9 415.8l4-.1-1.9 .2-3.9 .2z"/><path class="t" d="M521.9 415.9l4-.1-1.8 .3-4 0z"/><path class="t" d="M517.9 415.9l4 0-1.8 .2-4-.1z"/><path class="t" d="M513.9 415.8l4 .1-1.8 .1-4-.2z"/></g>
<g fill="#cf0000"><path class="t" d="M509.9 415.7l4 .1-1.8 0-4-.1z"/><path class="t" d="M505.9 415.5l4 .2-1.8 0-4-.3z"/><path class="t" d="M501.9 415.3l4 .2-1.8-.1-4-.2z"/></g>
<g fill="#bf0000"><path class="t" d="M498 415.2l3.9 .1-1.8-.1-4-.2z"/><path class="t" d="M494 415l4 .2-1.9-.2-3.9-.3z"/><path class="t" d="M490 414.8l4 .2-1.8-.3-4-.2z"/></g>
<g fill="#af0000"><path class="t" d="M486 414.6l4 .2-1.8-.3-4-.2z"/><path class="t" d="M482 414.5l4 .1-1.8-.3-4-.2z"/><path class="t" d="M478 414.3l4 .2-1.8-.4-4-.2z"/><path class="t" d="M474 414.2l4 .1-1.8-.4-4-.2z"/></g>
<g fill="#9f0000"><path class="t" d="M470 414l4 .2-1.8-.5-4-.1z"/><path class="t" d="M466.1 413.9l3.9 .1-1.8-.4-4-.2z"/><path class="t" d="M462.1 413.8l4 .1-1.9-.5-3.9-.1z"/></g>
<g fill="#8f0000"><path class="t" d="M458.1 413.7l4 .1-1.8-.5-4-.1z"/><path class="t" d="M454.1 413.6l4 .1-1.8-.5-4-.1z"/><path class="t" d="M611.4 402.5l4-.7-1.8-.5-4 .7z"/><path class="t" d="M607.4 403.2l4-.7-1.8-.5-4 .7z"/></g>
<g fill="#9f0000"><path class="t" d="M603.4 403.9l4-.7-1.8-.5-4 .8z"/><path class="t" d="M599.4 404.6l4-.7-1.8-.4-4 .7z"/><path class="t" d="M595.5 405.4l3.9-.8-1.8-.4-3.9 .7z"/></g>
<g fill="#af0000"><path class="t" d="M591.5 406.1l4-.7-1.8-.5-4 .8z"/><path class="t" d="M587.5 406.8l4-.7-1.8-.4-4 .8z"/><path class="t" d="M583.5 407.6l4-.8-1.8-.3-4 .8z"/><path class="t" d="M579.5 408.3l4-.7-1.8-.3-4 .7z"/></g>
<g fill="#bf0000"><path class="t" d="M575.5 409.1l4-.8-1.8-.3-4 .8z"/><path class="t" d="M571.5 409.8l4-.7-1.8-.3-4 .8z"/><path class="t" d="M567.6 410.6l3.9-.8-1.8-.2-4 .8z"/></g>
<g fill="#cf0000"><path class="t" d="M563.6 411.3l4-.7-1.9-.2-3.9 .8z"/><path class="t" d="M559.6 412l4-.7-1.8-.1-4 .8z"/><path class="t" d="M555.6 412.7l4-.7-1.8 0-4 .7z"/><path class="t" d="M551.6 413.3l4-.6-1.8 0-4 .7z"/></g>
<g fill="#df0000"><path class="t" d="M547.6 413.9l4-.6-1.8 .1-4 .6z"/><path class="t" d="M543.6 414.4l4-.5-1.8 .1-4 .6z"/><path class="t" d="M539.6 414.8l4-.4-1.8 .2-4 .4z"/><path class="t" d="M535.6 415.2l4-.4-1.8 .2-4 .4z"/><path class="t" d="M531.7 415.5l3.9-.3-1.8 .2-3.9 .3z"/><path class="t" d="M527.7 415.6l4-.1-1.8 .2-4 .1z"/><path class="t" d="M523.7 415.7l4-.1-1.8 .2-4 .1z"/></g>
<g fill="#cf0000"><path class="t" d="M519.7 415.8l4-.1-1.8 .2-4 0z"/><path class="t" d="M515.7 415.8l4 0-1.8 .1-4-.1z"/><path class="t" d="M511.7 415.7l4 .1-1.8 0-4-.1z"/><path class="t" d="M507.7 415.6l4 .1-1.8 0-4-.2z"/></g>
<g fill="#bf0000"><path class="t" d="M503.8 415.5l3.9 .1-1.8-.1-4-.2z"/><path class="t" d="M499.8 415.4l4 .1-1.9-.2-3.9-.1z"/><path class="t" d="M495.8 415.2l4 .2-1.8-.2-4-.2z"/></g>
<g fill="#af0000"><path class="t" d="M491.8 415.1l4 .1-1.8-.2-4-.2z"/><path class="t" d="M487.8 415l4 .1-1.8-.3-4-.2z"/><path class="t" d="M483.8 414.8l4 .2-1.8-.4-4-.1z"/><path class="t" d="M479.8 414.7l4 .1-1.8-.3-4-.2z"/></g>
<g fill="#9f0000"><path class="t" d="M475.8 414.6l4 .1-1.8-.4-4-.1z"/><path class="t" d="M471.8 414.5l4 .1-1.8-.4-4-.2z"/><path class="t" d="M467.9 414.4l3.9 .1-1.8-.5-3.9-.1z"/></g>
<g fill="#8f0000"><path class="t" d="M463.9 414.3l4 .1-1.8-.5-4-.1z"/><path class="t" d="M459.9 414.2l4 .1-1.8-.5-4-.1z"/><path class="t" d="M455.9 414.1l4 .1-1.8-.5-4-.1z"/><path class="t" d="M613.2 403l4-.7-1.8-.5-4 .7z"/><path class="t" d="M609.2 403.7l4-.7-1.8-.5-4 .7z"/></g>
<g fill="#9f0000"><path class="t" d="M605.2 404.4l4-.7-1.8-.5-4 .7z"/><path class="t" d="M601.3 405.1l3.9-.7-1.8-.5-4 .7z"/><path class="t" d="M597.3 405.8l4-.7-1.9-.5-3.9 .8z"/><path class="t" d="M593.3 406.5l4-.7-1.8-.4-4 .7z"/></g>
<g fill="#af0000"><path class="t" d="M589.3 407.2l4-.7-1.8-.4-4 .7z"/><path class="t" d="M585.3 407.9l4-.7-1.8-.4-4 .8z"/><path class="t" d="M581.3 408.6l4-.7-1.8-.3-4 .7z"/><path class="t" d="M577.3 409.3l4-.7-1.8-.3-4 .8z"/></g>
<g fill="#bf0000"><path class="t" d="M573.3 410l4-.7-1.8-.2-4 .7z"/><path class="t" d="M569.4 410.7l3.9-.7-1.8-.2-3.9 .8z"/><path class="t" d="M565.4 411.4l4-.7-1.8-.1-4 .7z"/></g>
<g fill="#cf0000"><path class="t" d="M561.4 412.1l4-.7-1.8-.1-4 .7z"/><path class="t" d="M557.4 412.7l4-.6-1.8-.1-4 .7z"/><path class="t" d="M553.4 413.3l4-.6-1.8 0-4 .6z"/><path class="t" d="M549.4 413.8l4-.5-1.8 0-4 .6z"/><path class="t" d="M545.4 414.3l4-.5-1.8 .1-4 .5z"/><path class="t" d="M541.4 414.7l4-.4-1.8 .1-4 .4z"/><path class="t" d="M537.5 415.1l3.9-.4-1.8 .1-4 .4z"/><path class="t" d="M533.5 415.3l4-.2-1.9 .1-3.9 .3z"/><path class="t" d="M529.5 415.5l4-.2-1.8 .2-4 .1z"/><path class="t" d="M525.5 415.7l4-.2-1.8 .1-4 .1z"/><path class="t" d="M521.5 415.7l4 0-1.8 0-4 .1z"/><path class="t" d="M517.5 415.8l4-.1-1.8 .1-4 0z"/><path class="t" d="M513.5 415.8l4 0-1.8 0-4-.1z"/></g>
<g fill="#bf0000"><path class="t" d="M509.5 415.7l4 .1-1.8-.1-4-.1z"/><path class="t" d="M505.6 415.7l3.9 0-1.8-.1-3.9-.1z"/><path class="t" d="M501.6 415.6l4 .1-1.8-.2-4-.1z"/></g>
<g fill="#af0000"><path class="t" d="M497.6 415.5l4 .1-1.8-.2-4-.2z"/><path class="t" d="M493.6 415.4l4 .1-1.8-.3-4-.1z"/><path class="t" d="M489.6 415.3l4 .1-1.8-.3-4-.1z"/><path class="t" d="M485.6 415.2l4 .1-1.8-.3-4-.2z"/></g>
<g fill="#9f0000"><path class="t" d="M481.6 415.1l4 .1-1.8-.4-4-.1z"/><path class="t" d="M477.6 415l4 .1-1.8-.4-4-.1z"/><path class="t" d="M473.7 414.9l3.9 .1-1.8-.4-4-.1z"/><path class="t" d="M469.7 414.8l4 .1-1.9-.4-3.9-.1z"/></g>
<g fill="#8f0000"><path class="t" d="M465.7 414.8l4 0-1.8-.4-4-.1z"/><path class="t" d="M461.7 414.7l4 .1-1.8-.5-4-.1z"/><path class="t" d="M457.7 414.6l4 .1-1.8-.5-4-.1z"/><path class="t" d="M615 403.5l4-.7-1.8-.5-4 .7z"/><path class="t" d="M611 404.1l4-.6-1.8-.5-4 .7z"/><path class="t" d="M607.1 404.8l3.9-.7-1.8-.4-4 .7z"/></g>
<g fill="#9f0000"><path class="t" d="M603.1 405.5l4-.7-1.9-.4-3.9 .7z"/><path class="t" d="M599.1 406.2l4-.7-1.8-.4-4 .7z"/><path class="t" d="M595.1 406.8l4-.6-1.8-.4-4 .7z"/><path class="t" d="M591.1 407.5l4-.7-1.8-.3-4 .7z"/></g>
<g fill="#af0000"><path class="t" d="M587.1 408.2l4-.7-1.8-.3-4 .7z"/><path class="t" d="M583.1 408.9l4-.7-1.8-.3-4 .7z"/><path class="t" d="M579.1 409.6l4-.7-1.8-.3-4 .7z"/><path class="t" d="M575.2 410.2l3.9-.6-1.8-.3-4 .7z"/></g>
<g fill="#bf0000"><path class="t" d="M571.2 410.9l4-.7-1.9-.2-3.9 .7z"/><path class="t" d="M567.2 411.5l4-.6-1.8-.2-4 .7z"/><path class="t" d="M563.2 412.2l4-.7-1.8-.1-4 .7z"/><path class="t" d="M559.2 412.7l4-.5-1.8-.1-4 .6z"/><path class="t" d="M555.2 413.3l4-.6-1.8 0-4 .6z"/></g>
<g fill="#cf0000"><path class="t" d="M551.2 413.8l4-.5-1.8 0-4 .5z"/><path class="t" d="M547.2 414.3l4-.5-1.8 0-4 .5z"/><path class="t" d="M543.3 414.7l3.9-.4-1.8 0-4 .4z"/><path class="t" d="M539.3 415l4-.3-1.9 0-3.9 .4z"/><path class="t" d="M535.3 415.3l4-.3-1.8 .1-4 .2z"/><path class="t" d="M531.3 415.5l4-.2-1.8 0-4 .2z"/><path class="t" d="M527.3 415.6l4-.1-1.8 0-4 .2z"/></g>
<g fill="#bf0000"><path class="t" d="M523.3 415.8l4-.2-1.8 .1-4 0z"/><path class="t" d="M519.3 415.8l4 0-1.8-.1-4 .1z"/><path class="t" d="M515.3 415.9l4-.1-1.8 0-4 0z"/><path class="t" d="M511.4 415.8l3.9 .1-1.8-.1-4-.1z"/><path class="t" d="M507.4 415.8l4 0-1.9-.1-3.9 0z"/></g>
<g fill="#af0000"><path class="t" d="M503.4 415.8l4 0-1.8-.1-4-.1z"/><path class="t" d="M499.4 415.7l4 .1-1.8-.2-4-.1z"/><path class="t" d="M495.4 415.7l4 0-1.8-.2-4-.1z"/><path class="t" d="M491.4 415.6l4 .1-1.8-.3-4-.1z"/></g>
<g fill="#9f0000"><path class="t" d="M487.4 415.5l4 .1-1.8-.3-4-.1z"/><path class="t" d="M483.4 415.5l4 0-1.8-.3-4-.1z"/><path class="t" d="M479.5 415.4l3.9 .1-1.8-.4-4-.1z"/><path class="t" d="M475.5 415.3l4 .1-1.9-.4-3.9-.1z"/></g>
<g fill="#8f0000"><path class="t" d="M471.5 415.3l4 0-1.8-.4-4-.1z"/><path class="t" d="M467.5 415.2l4 .1-1.8-.5-4 0z"/><path class="t" d="M463.5 415.2l4 0-1.8-.4-4-.1z"/><path class="t" d="M459.5 415.1l4 .1-1.8-.5-4-.1z"/><path class="t" d="M616.8 403.9l4-.6-1.8-.5-4 .7z"/><path class="t" d="M612.9 404.6l3.9-.7-1.8-.4-4 .6z"/><path class="t" d="M608.9 405.2l4-.6-1.9-.5-3.9 .7z"/><path class="t" d="M604.9 405.9l4-.7-1.8-.4-4 .7z"/></g>
<g fill="#9f0000"><path class="t" d="M600.9 406.5l4-.6-1.8-.4-4 .7z"/><path class="t" d="M596.9 407.2l4-.7-1.8-.3-4 .6z"/><path class="t" d="M592.9 407.9l4-.7-1.8-.4-4 .7z"/><path class="t" d="M588.9 408.5l4-.6-1.8-.4-4 .7z"/></g>
<g fill="#af0000"><path class="t" d="M584.9 409.2l4-.7-1.8-.3-4 .7z"/><path class="t" d="M581 409.8l3.9-.6-1.8-.3-4 .7z"/><path class="t" d="M577 410.5l4-.7-1.9-.2-3.9 .6z"/><path class="t" d="M573 411.1l4-.6-1.8-.3-4 .7z"/></g>
<g fill="#bf0000"><path class="t" d="M569 411.7l4-.6-1.8-.2-4 .6z"/><path class="t" d="M565 412.3l4-.6-1.8-.2-4 .7z"/><path class="t" d="M561 412.8l4-.5-1.8-.1-4 .5z"/><path class="t" d="M557 413.3l4-.5-1.8-.1-4 .6z"/><path class="t" d="M553 413.8l4-.5-1.8 0-4 .5z"/><path class="t" d="M549.1 414.3l3.9-.5-1.8 0-4 .5z"/><path class="t" d="M545.1 414.6l4-.3-1.9 0-3.9 .4z"/><path class="t" d="M541.1 415l4-.4-1.8 .1-4 .3z"/><path class="t" d="M537.1 415.3l4-.3-1.8 0-4 .3z"/><path class="t" d="M533.1 415.5l4-.2-1.8 0-4 .2z"/><path class="t" d="M529.1 415.7l4-.2-1.8 0-4 .1z"/><path class="t" d="M525.1 415.8l4-.1-1.8-.1-4 .2z"/><path class="t" d="M521.1 415.9l4-.1-1.8 0-4 0z"/><path class="t" d="M517.2 416l3.9-.1-1.8-.1-4 .1z"/><path class="t" d="M513.2 416l4 0-1.9-.1-3.9-.1z"/></g>
<g fill="#af0000"><path class="t" d="M509.2 416l4 0-1.8-.2-4 0z"/><path class="t" d="M505.2 416l4 0-1.8-.2-4 0z"/><path class="t" d="M501.2 416l4 0-1.8-.2-4-.1z"/><path class="t" d="M497.2 415.9l4 .1-1.8-.3-4 0z"/></g>
<g fill="#9f0000"><path class="t" d="M493.2 415.9l4 0-1.8-.2-4-.1z"/><path class="t" d="M489.2 415.9l4 0-1.8-.3-4-.1z"/><path class="t" d="M485.3 415.8l3.9 .1-1.8-.4-4 0z"/><path class="t" d="M481.3 415.8l4 0-1.9-.3-3.9-.1z"/></g>
<g fill="#8f0000"><path class="t" d="M477.3 415.7l4 .1-1.8-.4-4-.1z"/><path class="t" d="M473.3 415.7l4 0-1.8-.4-4 0z"/><path class="t" d="M469.3 415.7l4 0-1.8-.4-4-.1z"/><path class="t" d="M465.3 415.6l4 .1-1.8-.5-4 0z"/><path class="t" d="M461.3 415.6l4 0-1.8-.4-4-.1z"/><path class="t" d="M618.7 404.4l3.9-.6-1.8-.5-4 .6z"/><path class="t" d="M614.7 405l4-.6-1.9-.5-3.9 .7z"/><path class="t" d="M610.7 405.7l4-.7-1.8-.4-4 .6z"/><path class="t" d="M606.7 406.3l4-.6-1.8-.5-4 .7z"/></g>
<g fill="#9f0000"><path class="t" d="M602.7 406.9l4-.6-1.8-.4-4 .6z"/><path class="t" d="M598.7 407.6l4-.7-1.8-.4-4 .7z"/><path class="t" d="M594.7 408.2l4-.6-1.8-.4-4 .7z"/><path class="t" d="M590.7 408.8l4-.6-1.8-.3-4 .6z"/><path class="t" d="M586.8 409.5l3.9-.7-1.8-.3-4 .7z"/></g>
<g fill="#af0000"><path class="t" d="M582.8 410.1l4-.6-1.9-.3-3.9 .6z"/><path class="t" d="M578.8 410.7l4-.6-1.8-.3-4 .7z"/><path class="t" d="M574.8 411.3l4-.6-1.8-.2-4 .6z"/><path class="t" d="M570.8 411.9l4-.6-1.8-.2-4 .6z"/><path class="t" d="M566.8 412.4l4-.5-1.8-.2-4 .6z"/><path class="t" d="M562.8 412.9l4-.5-1.8-.1-4 .5z"/></g>
<g fill="#bf0000"><path class="t" d="M558.8 413.4l4-.5-1.8-.1-4 .5z"/><path class="t" d="M554.9 413.9l3.9-.5-1.8-.1-4 .5z"/><path class="t" d="M550.9 414.3l4-.4-1.9-.1-3.9 .5z"/><path class="t" d="M546.9 414.7l4-.4-1.8 0-4 .3z"/><path class="t" d="M542.9 415l4-.3-1.8-.1-4 .4z"/><path class="t" d="M538.9 415.3l4-.3-1.8 0-4 .3z"/><path class="t" d="M534.9 415.5l4-.2-1.8 0-4 .2z"/><path class="t" d="M530.9 415.7l4-.2-1.8 0-4 .2z"/><path class="t" d="M526.9 415.9l4-.2-1.8 0-4 .1z"/></g>
<g fill="#af0000"><path class="t" d="M523 416l3.9-.1-1.8-.1-4 .1z"/><path class="t" d="M519 416.1l4-.1-1.9-.1-3.9 .1z"/><path class="t" d="M515 416.2l4-.1-1.8-.1-4 0z"/><path class="t" d="M511 416.2l4 0-1.8-.2-4 0z"/><path class="t" d="M507 416.2l4 0-1.8-.2-4 0z"/><path class="t" d="M503 416.2l4 0-1.8-.2-4 0z"/></g>
<g fill="#9f0000"><path class="t" d="M499 416.2l4 0-1.8-.2-4-.1z"/><path class="t" d="M495 416.2l4 0-1.8-.3-4 0z"/><path class="t" d="M491.1 416.2l3.9 0-1.8-.3-4 0z"/><path class="t" d="M487.1 416.2l4 0-1.9-.3-3.9-.1z"/><path class="t" d="M483.1 416.2l4 0-1.8-.4-4 0z"/></g>
<g fill="#8f0000"><path class="t" d="M479.1 416.1l4 .1-1.8-.4-4-.1z"/><path class="t" d="M475.1 416.1l4 0-1.8-.4-4 0z"/><path class="t" d="M471.1 416.1l4 0-1.8-.4-4 0z"/><path class="t" d="M467.1 416.1l4 0-1.8-.4-4-.1z"/></g>
<g fill="#800000"><path class="t" d="M463.1 416.1l4 0-1.8-.5-4 0z"/><path class="t" d="M620.5 404.9l3.9-.7-1.8-.4-3.9 .6z"/></g>
<g fill="#8f0000"><path class="t" d="M616.5 405.5l4-.6-1.8-.5-4 .6z"/><path class="t" d="M612.5 406.1l4-.6-1.8-.5-4 .7z"/><path class="t" d="M608.5 406.7l4-.6-1.8-.4-4 .6z"/><path class="t" d="M604.5 407.3l4-.6-1.8-.4-4 .6z"/></g>
<g fill="#9f0000"><path class="t" d="M600.5 407.9l4-.6-1.8-.4-4 .7z"/><path class="t" d="M596.5 408.5l4-.6-1.8-.3-4 .6z"/><path class="t" d="M592.6 409.2l3.9-.7-1.8-.3-4 .6z"/><path class="t" d="M588.6 409.8l4-.6-1.9-.4-3.9 .7z"/><path class="t" d="M584.6 410.3l4-.5-1.8-.3-4 .6z"/></g>
<g fill="#af0000"><path class="t" d="M580.6 410.9l4-.6-1.8-.2-4 .6z"/><path class="t" d="M576.6 411.5l4-.6-1.8-.2-4 .6z"/><path class="t" d="M572.6 412l4-.5-1.8-.2-4 .6z"/><path class="t" d="M568.6 412.6l4-.6-1.8-.1-4 .5z"/><path class="t" d="M564.6 413.1l4-.5-1.8-.2-4 .5z"/><path class="t" d="M560.7 413.5l3.9-.4-1.8-.2-4 .5z"/><path class="t" d="M556.7 414l4-.5-1.9-.1-3.9 .5z"/><path class="t" d="M552.7 414.4l4-.4-1.8-.1-4 .4z"/><path class="t" d="M548.7 414.8l4-.4-1.8-.1-4 .4z"/><path class="t" d="M544.7 415.1l4-.3-1.8-.1-4 .3z"/><path class="t" d="M540.7 415.4l4-.3-1.8-.1-4 .3z"/><path class="t" d="M536.7 415.6l4-.2-1.8-.1-4 .2z"/><path class="t" d="M532.7 415.8l4-.2-1.8-.1-4 .2z"/><path class="t" d="M528.8 416l3.9-.2-1.8-.1-4 .2z"/><path class="t" d="M524.8 416.1l4-.1-1.9-.1-3.9 .1z"/><path class="t" d="M520.8 416.3l4-.2-1.8-.1-4 .1z"/><path class="t" d="M516.8 416.3l4 0-1.8-.2-4 .1z"/><path class="t" d="M512.8 416.4l4-.1-1.8-.1-4 0z"/><path class="t" d="M508.8 416.5l4-.1-1.8-.2-4 0z"/></g>
<g fill="#9f0000"><path class="t" d="M504.8 416.5l4 0-1.8-.3-4 0z"/><path class="t" d="M500.8 416.5l4 0-1.8-.3-4 0z"/><path class="t" d="M496.8 416.5l4 0-1.8-.3-4 0z"/><path class="t" d="M492.9 416.5l3.9 0-1.8-.3-3.9 0z"/><path class="t" d="M488.9 416.5l4 0-1.8-.3-4 0z"/></g>
<g fill="#8f0000"><path class="t" d="M484.9 416.5l4 0-1.8-.3-4 0z"/><path class="t" d="M480.9 416.5l4 0-1.8-.3-4-.1z"/><path class="t" d="M476.9 416.5l4 0-1.8-.4-4 0z"/><path class="t" d="M472.9 416.5l4 0-1.8-.4-4 0z"/></g>
<g fill="#800000"><path class="t" d="M468.9 416.5l4 0-1.8-.4-4 0z"/><path class="t" d="M465 416.5l3.9 0-1.8-.4-4 0z"/><path class="t" d="M622.3 405.3l4-.6-1.9-.5-3.9 .7z"/></g>
<g fill="#8f0000"><path class="t" d="M618.3 405.9l4-.6-1.8-.4-4 .6z"/><path class="t" d="M614.3 406.5l4-.6-1.8-.4-4 .6z"/><path class="t" d="M610.3 407.1l4-.6-1.8-.4-4 .6z"/><path class="t" d="M606.3 407.7l4-.6-1.8-.4-4 .6z"/><path class="t" d="M602.3 408.3l4-.6-1.8-.4-4 .6z"/><path class="t" d="M598.3 408.9l4-.6-1.8-.4-4 .6z"/></g>
<g fill="#9f0000"><path class="t" d="M594.4 409.5l3.9-.6-1.8-.4-3.9 .7z"/><path class="t" d="M590.4 410l4-.5-1.8-.3-4 .6z"/><path class="t" d="M586.4 410.6l4-.6-1.8-.2-4 .5z"/><path class="t" d="M582.4 411.2l4-.6-1.8-.3-4 .6z"/><path class="t" d="M578.4 411.7l4-.5-1.8-.3-4 .6z"/></g>
<g fill="#af0000"><path class="t" d="M574.4 412.2l4-.5-1.8-.2-4 .5z"/><path class="t" d="M570.4 412.8l4-.6-1.8-.2-4 .6z"/><path class="t" d="M566.4 413.2l4-.4-1.8-.2-4 .5z"/><path class="t" d="M562.5 413.7l3.9-.5-1.8-.1-3.9 .4z"/><path class="t" d="M558.5 414.1l4-.4-1.8-.2-4 .5z"/><path class="t" d="M554.5 414.5l4-.4-1.8-.1-4 .4z"/><path class="t" d="M550.5 414.9l4-.4-1.8-.1-4 .4z"/><path class="t" d="M546.5 415.2l4-.3-1.8-.1-4 .3z"/><path class="t" d="M542.5 415.5l4-.3-1.8-.1-4 .3z"/><path class="t" d="M538.5 415.7l4-.2-1.8-.1-4 .2z"/><path class="t" d="M534.5 416l4-.3-1.8-.1-4 .2z"/><path class="t" d="M530.6 416.1l3.9-.1-1.8-.2-3.9 .2z"/><path class="t" d="M526.6 416.3l4-.2-1.8-.1-4 .1z"/><path class="t" d="M522.6 416.4l4-.1-1.8-.2-4 .2z"/><path class="t" d="M518.6 416.6l4-.2-1.8-.1-4 0z"/></g>
<g fill="#9f0000"><path class="t" d="M514.6 416.6l4 0-1.8-.3-4 .1z"/><path class="t" d="M510.6 416.7l4-.1-1.8-.2-4 .1z"/><path class="t" d="M506.6 416.8l4-.1-1.8-.2-4 0z"/><path class="t" d="M502.6 416.8l4 0-1.8-.3-4 0z"/><path class="t" d="M498.7 416.9l3.9-.1-1.8-.3-4 0z"/></g>
<g fill="#8f0000"><path class="t" d="M494.7 416.9l4 0-1.9-.4-3.9 0z"/><path class="t" d="M490.7 416.9l4 0-1.8-.4-4 0z"/><path class="t" d="M486.7 416.9l4 0-1.8-.4-4 0z"/><path class="t" d="M482.7 416.9l4 0-1.8-.4-4 0z"/><path class="t" d="M478.7 417l4-.1-1.8-.4-4 0z"/><path class="t" d="M474.7 417l4 0-1.8-.5-4 0z"/></g>
<g fill="#800000"><path class="t" d="M470.7 417l4 0-1.8-.5-4 0z"/><path class="t" d="M466.8 417l3.9 0-1.8-.5-3.9 0z"/><path class="t" d="M624.1 405.7l4-.5-1.8-.5-4 .6z"/><path class="t" d="M620.1 406.3l4-.6-1.8-.4-4 .6z"/></g>
<g fill="#8f0000"><path class="t" d="M616.1 406.9l4-.6-1.8-.4-4 .6z"/><path class="t" d="M612.1 407.5l4-.6-1.8-.4-4 .6z"/><path class="t" d="M608.1 408.1l4-.6-1.8-.4-4 .6z"/><path class="t" d="M604.1 408.7l4-.6-1.8-.4-4 .6z"/><path class="t" d="M600.2 409.2l3.9-.5-1.8-.4-4 .6z"/><path class="t" d="M596.2 409.8l4-.6-1.9-.3-3.9 .6z"/></g>
<g fill="#9f0000"><path class="t" d="M592.2 410.4l4-.6-1.8-.3-4 .5z"/><path class="t" d="M588.2 410.9l4-.5-1.8-.4-4 .6z"/><path class="t" d="M584.2 411.4l4-.5-1.8-.3-4 .6z"/><path class="t" d="M580.2 412l4-.6-1.8-.2-4 .5z"/><path class="t" d="M576.2 412.5l4-.5-1.8-.3-4 .5z"/><path class="t" d="M572.2 413l4-.5-1.8-.3-4 .6z"/><path class="t" d="M568.3 413.4l3.9-.4-1.8-.2-4 .4z"/></g>
<g fill="#af0000"><path class="t" d="M564.3 413.9l4-.5-1.9-.2-3.9 .5z"/><path class="t" d="M560.3 414.3l4-.4-1.8-.2-4 .4z"/><path class="t" d="M556.3 414.7l4-.4-1.8-.2-4 .4z"/><path class="t" d="M552.3 415l4-.3-1.8-.2-4 .4z"/><path class="t" d="M548.3 415.3l4-.3-1.8-.1-4 .3z"/><path class="t" d="M544.3 415.6l4-.3-1.8-.1-4 .3z"/><path class="t" d="M540.3 415.9l4-.3-1.8-.1-4 .2z"/><path class="t" d="M536.4 416.1l3.9-.2-1.8-.2-4 .3z"/><path class="t" d="M532.4 416.3l4-.2-1.9-.1-3.9 .1z"/></g>
<g fill="#9f0000"><path class="t" d="M528.4 416.5l4-.2-1.8-.2-4 .2z"/><path class="t" d="M524.4 416.6l4-.1-1.8-.2-4 .1z"/><path class="t" d="M520.4 416.8l4-.2-1.8-.2-4 .2z"/><path class="t" d="M516.4 416.9l4-.1-1.8-.2-4 0z"/><path class="t" d="M512.4 417l4-.1-1.8-.3-4 .1z"/><path class="t" d="M508.4 417.1l4-.1-1.8-.3-4 .1z"/><path class="t" d="M504.5 417.1l3.9 0-1.8-.3-4 0z"/></g>
<g fill="#8f0000"><path class="t" d="M500.5 417.2l4-.1-1.9-.3-3.9 .1z"/><path class="t" d="M496.5 417.2l4 0-1.8-.3-4 0z"/><path class="t" d="M492.5 417.3l4-.1-1.8-.3-4 0z"/><path class="t" d="M488.5 417.3l4 0-1.8-.4-4 0z"/><path class="t" d="M484.5 417.3l4 0-1.8-.4-4 0z"/><path class="t" d="M480.5 417.4l4-.1-1.8-.4-4 .1z"/></g>
<g fill="#800000"><path class="t" d="M476.5 417.4l4 0-1.8-.4-4 0z"/><path class="t" d="M472.6 417.4l3.9 0-1.8-.4-4 0z"/><path class="t" d="M468.6 417.5l4-.1-1.9-.4-3.9 0z"/><path class="t" d="M625.9 406.2l4-.6-1.8-.4-4 .5z"/><path class="t" d="M621.9 406.8l4-.6-1.8-.5-4 .6z"/><path class="t" d="M617.9 407.3l4-.5-1.8-.5-4 .6z"/></g>
<g fill="#8f0000"><path class="t" d="M613.9 407.9l4-.6-1.8-.4-4 .6z"/><path class="t" d="M609.9 408.5l4-.6-1.8-.4-4 .6z"/><path class="t" d="M606 409l3.9-.5-1.8-.4-4 .6z"/><path class="t" d="M602 409.6l4-.6-1.9-.3-3.9 .5z"/><path class="t" d="M598 410.1l4-.5-1.8-.4-4 .6z"/><path class="t" d="M594 410.7l4-.6-1.8-.3-4 .6z"/><path class="t" d="M590 411.2l4-.5-1.8-.3-4 .5z"/></g>
<g fill="#9f0000"><path class="t" d="M586 411.7l4-.5-1.8-.3-4 .5z"/><path class="t" d="M582 412.2l4-.5-1.8-.3-4 .6z"/><path class="t" d="M578 412.7l4-.5-1.8-.2-4 .5z"/><path class="t" d="M574.1 413.2l3.9-.5-1.8-.2-4 .5z"/><path class="t" d="M570.1 413.6l4-.4-1.9-.2-3.9 .4z"/><path class="t" d="M566.1 414.1l4-.5-1.8-.2-4 .5z"/><path class="t" d="M562.1 414.5l4-.4-1.8-.2-4 .4z"/><path class="t" d="M558.1 414.8l4-.3-1.8-.2-4 .4z"/><path class="t" d="M554.1 415.2l4-.4-1.8-.1-4 .3z"/><path class="t" d="M550.1 415.5l4-.3-1.8-.2-4 .3z"/><path class="t" d="M546.1 415.8l4-.3-1.8-.2-4 .3z"/><path class="t" d="M542.2 416.1l3.9-.3-1.8-.2-4 .3z"/><path class="t" d="M538.2 416.3l4-.2-1.9-.2-3.9 .2z"/><path class="t" d="M534.2 416.5l4-.2-1.8-.2-4 .2z"/><path class="t" d="M530.2 416.7l4-.2-1.8-.2-4 .2z"/><path class="t" d="M526.2 416.9l4-.2-1.8-.2-4 .1z"/><path class="t" d="M522.2 417l4-.1-1.8-.3-4 .2z"/><path class="t" d="M518.2 417.1l4-.1-1.8-.2-4 .1z"/><path class="t" d="M514.2 417.3l4-.2-1.8-.2-4 .1z"/></g>
<g fill="#8f0000"><path class="t" d="M510.3 417.3l3.9 0-1.8-.3-4 .1z"/><path class="t" d="M506.3 417.4l4-.1-1.9-.2-3.9 0z"/><path class="t" d="M502.3 417.5l4-.1-1.8-.3-4 .1z"/><path class="t" d="M498.3 417.6l4-.1-1.8-.3-4 0z"/><path class="t" d="M494.3 417.6l4 0-1.8-.4-4 .1z"/><path class="t" d="M490.3 417.7l4-.1-1.8-.3-4 0z"/><path class="t" d="M486.3 417.7l4 0-1.8-.4-4 0z"/></g>
<g fill="#800000"><path class="t" d="M482.3 417.8l4-.1-1.8-.4-4 .1z"/><path class="t" d="M478.4 417.8l3.9 0-1.8-.4-4 0z"/><path class="t" d="M474.4 417.9l4-.1-1.9-.4-3.9 0z"/><path class="t" d="M470.4 417.9l4 0-1.8-.5-4 .1z"/><path class="t" d="M627.7 406.6l4-.5-1.8-.5-4 .6z"/><path class="t" d="M623.7 407.2l4-.6-1.8-.4-4 .6z"/><path class="t" d="M619.7 407.7l4-.5-1.8-.4-4 .5z"/><path class="t" d="M615.7 408.3l4-.6-1.8-.4-4 .6z"/><path class="t" d="M611.8 408.8l3.9-.5-1.8-.4-4 .6z"/></g>
<g fill="#8f0000"><path class="t" d="M607.8 409.4l4-.6-1.9-.3-3.9 .5z"/><path class="t" d="M603.8 409.9l4-.5-1.8-.4-4 .6z"/><path class="t" d="M599.8 410.5l4-.6-1.8-.3-4 .5z"/><path class="t" d="M595.8 411l4-.5-1.8-.4-4 .6z"/><path class="t" d="M591.8 411.5l4-.5-1.8-.3-4 .5z"/><path class="t" d="M587.8 412l4-.5-1.8-.3-4 .5z"/><path class="t" d="M583.8 412.5l4-.5-1.8-.3-4 .5z"/></g>
<g fill="#9f0000"><path class="t" d="M579.9 413l3.9-.5-1.8-.3-4 .5z"/><path class="t" d="M575.9 413.4l4-.4-1.9-.3-3.9 .5z"/><path class="t" d="M571.9 413.9l4-.5-1.8-.2-4 .4z"/><path class="t" d="M567.9 414.3l4-.4-1.8-.3-4 .5z"/><path class="t" d="M563.9 414.7l4-.4-1.8-.2-4 .4z"/><path class="t" d="M559.9 415l4-.3-1.8-.2-4 .3z"/><path class="t" d="M555.9 415.4l4-.4-1.8-.2-4 .4z"/><path class="t" d="M551.9 415.7l4-.3-1.8-.2-4 .3z"/><path class="t" d="M548 416l3.9-.3-1.8-.2-4 .3z"/><path class="t" d="M544 416.3l4-.3-1.9-.2-3.9 .3z"/><path class="t" d="M540 416.5l4-.2-1.8-.2-4 .2z"/><path class="t" d="M536 416.7l4-.2-1.8-.2-4 .2z"/><path class="t" d="M532 416.9l4-.2-1.8-.2-4 .2z"/><path class="t" d="M528 417.1l4-.2-1.8-.2-4 .2z"/><path class="t" d="M524 417.3l4-.2-1.8-.2-4 .1z"/></g>
<g fill="#8f0000"><path class="t" d="M520 417.4l4-.1-1.8-.3-4 .1z"/><path class="t" d="M516.1 417.5l3.9-.1-1.8-.3-4 .2z"/><path class="t" d="M512.1 417.6l4-.1-1.9-.2-3.9 0z"/><path class="t" d="M508.1 417.7l4-.1-1.8-.3-4 .1z"/><path class="t" d="M504.1 417.8l4-.1-1.8-.3-4 .1z"/><path class="t" d="M500.1 417.9l4-.1-1.8-.3-4 .1z"/><path class="t" d="M496.1 418l4-.1-1.8-.3-4 0z"/></g>
<g fill="#800000"><path class="t" d="M492.1 418.1l4-.1-1.8-.4-4 .1z"/><path class="t" d="M488.1 418.1l4 0-1.8-.4-4 0z"/><path class="t" d="M484.2 418.2l3.9-.1-1.8-.4-4 .1z"/><path class="t" d="M480.2 418.3l4-.1-1.9-.4-3.9 0z"/><path class="t" d="M476.2 418.3l4 0-1.8-.5-4 .1z"/><path class="t" d="M472.2 418.4l4-.1-1.8-.4-4 0z"/><path class="t" d="M629.5 407.1l4-.6-1.8-.4-4 .5z"/><path class="t" d="M625.5 407.6l4-.5-1.8-.5-4 .6z"/><path class="t" d="M621.5 408.2l4-.6-1.8-.4-4 .5z"/><path class="t" d="M617.6 408.7l3.9-.5-1.8-.5-4 .6z"/><path class="t" d="M613.6 409.2l4-.5-1.9-.4-3.9 .5z"/><path class="t" d="M609.6 409.8l4-.6-1.8-.4-4 .6z"/></g>
<g fill="#8f0000"><path class="t" d="M605.6 410.3l4-.5-1.8-.4-4 .5z"/><path class="t" d="M601.6 410.8l4-.5-1.8-.4-4 .6z"/><path class="t" d="M597.6 411.3l4-.5-1.8-.3-4 .5z"/><path class="t" d="M593.6 411.8l4-.5-1.8-.3-4 .5z"/><path class="t" d="M589.6 412.3l4-.5-1.8-.3-4 .5z"/><path class="t" d="M585.6 412.8l4-.5-1.8-.3-4 .5z"/><path class="t" d="M581.7 413.2l3.9-.4-1.8-.3-3.9 .5z"/><path class="t" d="M577.7 413.7l4-.5-1.8-.2-4 .4z"/><path class="t" d="M573.7 414.1l4-.4-1.8-.3-4 .5z"/></g>
<g fill="#9f0000"><path class="t" d="M569.7 414.5l4-.4-1.8-.2-4 .4z"/><path class="t" d="M565.7 414.9l4-.4-1.8-.2-4 .4z"/><path class="t" d="M561.7 415.3l4-.4-1.8-.2-4 .3z"/><path class="t" d="M557.7 415.6l4-.3-1.8-.3-4 .4z"/><path class="t" d="M553.8 415.9l3.9-.3-1.8-.2-4 .3z"/><path class="t" d="M549.8 416.2l4-.3-1.9-.2-3.9 .3z"/><path class="t" d="M545.8 416.5l4-.3-1.8-.2-4 .3z"/><path class="t" d="M541.8 416.7l4-.2-1.8-.2-4 .2z"/><path class="t" d="M537.8 417l4-.3-1.8-.2-4 .2z"/></g>
<g fill="#8f0000"><path class="t" d="M533.8 417.2l4-.2-1.8-.3-4 .2z"/><path class="t" d="M529.8 417.4l4-.2-1.8-.3-4 .2z"/><path class="t" d="M525.8 417.5l4-.1-1.8-.3-4 .2z"/><path class="t" d="M521.8 417.7l4-.2-1.8-.2-4 .1z"/><path class="t" d="M517.9 417.8l3.9-.1-1.8-.3-3.9 .1z"/><path class="t" d="M513.9 418l4-.2-1.8-.3-4 .1z"/><path class="t" d="M509.9 418.1l4-.1-1.8-.4-4 .1z"/><path class="t" d="M505.9 418.2l4-.1-1.8-.4-4 .1z"/><path class="t" d="M501.9 418.3l4-.1-1.8-.4-4 .1z"/></g>
<g fill="#800000"><path class="t" d="M497.9 418.4l4-.1-1.8-.4-4 .1z"/><path class="t" d="M493.9 418.5l4-.1-1.8-.4-4 .1z"/><path class="t" d="M490 418.5l3.9 0-1.8-.4-4 0z"/><path class="t" d="M486 418.6l4-.1-1.9-.4-3.9 .1z"/><path class="t" d="M482 418.7l4-.1-1.8-.4-4 .1z"/><path class="t" d="M478 418.8l4-.1-1.8-.4-4 0z"/><path class="t" d="M474 418.8l4 0-1.8-.5-4 .1z"/></g>
</g>
</g>
<text class="tk" x="77.1" y="241.6" text-anchor="end">0</text>
<text class="tk" x="77.1" y="205.7" text-anchor="end">0.5</text>
<text class="tk" x="77.1" y="169.8" text-anchor="end">1</text>
<text class="tk" x="77.1" y="133.9" text-anchor="end">1.5</text>
<text class="tk" x="77.1" y="98" text-anchor="end">2</text>
<text class="tk" x="175.1" y="276.6">−1</text>
<text class="tk" x="251.6" y="271.9">0</text>
<text class="tk" x="325.8" y="265.1">1</text>
<text class="tk" x="157.9" y="275.8" text-anchor="end">−1</text>
<text class="tk" x="117.7" y="265.1" text-anchor="end">0</text>
<text class="tk" x="77.1" y="253.8" text-anchor="end">1</text>
<text class="tx" x="231.8" y="283" font-size="17.5"><tspan font-style="italic">d</tspan><tspan font-size="11.5" dx=".2" dy="2.2">1</tspan></text>
<text class="tx" x="104.3" y="282" font-size="17.5"><tspan font-style="italic">d</tspan><tspan font-size="11.5" dx=".2" dy="2.2">2</tspan></text>
<g transform="translate(41.2 183.1) rotate(-90)"><text class="tx" font-size="18.7" x=".7 3.9 19.8 23" y="0">||||</text><text class="tx" font-size="16" font-weight="bold" x="7.8" y=".5" textLength="11" lengthAdjust="spacingAndGlyphs">d</text><text class="tx" font-size="12" x="28.2" y="4.4">2</text><text class="tx" font-size="11.5" font-style="italic" x="28.7" y="-7.6">p</text></g>
<text class="tx" font-size="16" y="67.4"><tspan x="165.8" letter-spacing="1.05">(a),</tspan><tspan x="197.5" font-style="italic">p</tspan><tspan x="212.5" textLength="12" lengthAdjust="spacingAndGlyphs">=</tspan><tspan x="229.5" letter-spacing=".5">2</tspan></text>
<text class="tk" x="392.7" y="240.4" text-anchor="end">0</text>
<text class="tk" x="392.7" y="192.4" text-anchor="end">0.5</text>
<text class="tk" x="392.7" y="144.5" text-anchor="end">1</text>
<text class="tk" x="392.7" y="96.5" text-anchor="end">1.5</text>
<text class="tk" x="484.5" y="277.7">−1</text>
<text class="tk" x="563" y="272.1">0</text>
<text class="tk" x="641.6" y="266.6">1</text>
<text class="tk" x="466.3" y="276" text-anchor="end">−1</text>
<text class="tk" x="428.8" y="264.4" text-anchor="end">0</text>
<text class="tk" x="392.2" y="252.7" text-anchor="end">1</text>
<text class="tx" x="542.5" y="284" font-size="17.5"><tspan font-style="italic">d</tspan><tspan font-size="11.5" dx=".2" dy="2.2">1</tspan></text>
<text class="tx" x="414" y="281" font-size="17.5"><tspan font-style="italic">d</tspan><tspan font-size="11.5" dx=".2" dy="2.2">2</tspan></text>
<g transform="translate(357.2 182.1) rotate(-90)"><text class="tx" font-size="18.7" x=".7 3.9 19.8 23" y="0">||||</text><text class="tx" font-size="16" font-weight="bold" x="7.8" y=".5" textLength="11" lengthAdjust="spacingAndGlyphs">d</text><text class="tx" font-size="12" x="28.2" y="4.4">2</text><text class="tx" font-size="11.5" font-style="italic" x="28.7" y="-7.6">p</text></g>
<text class="tx" font-size="16" y="67.4"><tspan x="481.4" letter-spacing="1.05">(b),</tspan><tspan x="513.6" font-style="italic">p</tspan><tspan x="527.6" textLength="12" lengthAdjust="spacingAndGlyphs">=</tspan><tspan x="545.6" letter-spacing=".5">1</tspan></text>
<text class="tk" x="76.8" y="509.4" text-anchor="end">0</text>
<text class="tk" x="76.8" y="455.3" text-anchor="end">0.5</text>
<text class="tk" x="76.8" y="401.1" text-anchor="end">1</text>
<text class="tk" x="76.8" y="347" text-anchor="end">1.5</text>
<text class="tk" x="166.8" y="537.5" text-anchor="middle">−1</text>
<text class="tk" x="244.3" y="535.6" text-anchor="middle">0</text>
<text class="tk" x="317.6" y="532.9" text-anchor="middle">1</text>
<text class="tk" x="128.1" y="533.5" text-anchor="middle">0</text>
<text class="tk" x="85.1" y="529.6" text-anchor="middle">1</text>
<text class="tx" x="226.3" y="542" font-size="17.5"><tspan font-style="italic">d</tspan><tspan font-size="11.5" dx=".2" dy="2.2">1</tspan></text>
<text class="tx" x="116" y="540" font-size="17.5"><tspan font-style="italic">d</tspan><tspan font-size="11.5" dx=".2" dy="2.2">2</tspan></text>
<g transform="translate(41.2 440.8) rotate(-90)"><text class="tx" font-size="18.7" x=".7 3.9 19.8 23" y="0">||||</text><text class="tx" font-size="16" font-weight="bold" x="7.8" y=".5" textLength="11" lengthAdjust="spacingAndGlyphs">d</text><text class="tx" font-size="12" x="28.2" y="4.4">2</text><text class="tx" font-size="11.5" font-style="italic" x="28.7" y="-7.6">p</text></g>
<text class="tx" font-size="16" y="321.9"><tspan x="160.2" letter-spacing="1.05">(c),</tspan><tspan x="191.4" font-style="italic">p</tspan><tspan x="205" textLength="12" lengthAdjust="spacingAndGlyphs">=</tspan><tspan x="222.2" letter-spacing=".5">0.5</tspan></text>
<text class="tk" x="392.8" y="490.8" text-anchor="end">0</text>
<text class="tk" x="392.8" y="444.7" text-anchor="end">0.5</text>
<text class="tk" x="392.8" y="398.7" text-anchor="end">1</text>
<text class="tk" x="392.8" y="352.6" text-anchor="end">1.5</text>
<text class="tk" x="482" y="532.4">−1</text>
<text class="tk" x="561.8" y="526.3">0</text>
<text class="tk" x="641.5" y="520.1">1</text>
<text class="tk" x="464.2" y="530.7" text-anchor="end">−1</text>
<text class="tk" x="428" y="516.9" text-anchor="end">0</text>
<text class="tk" x="391.8" y="503.1" text-anchor="end">1</text>
<text class="tx" x="541" y="540" font-size="17.5"><tspan font-style="italic">d</tspan><tspan font-size="11.5" dx=".2" dy="2.2">1</tspan></text>
<text class="tx" x="413" y="535.5" font-size="17.5"><tspan font-style="italic">d</tspan><tspan font-size="11.5" dx=".2" dy="2.2">2</tspan></text>
<g transform="translate(357.2 435.5) rotate(-90)"><text class="tx" font-size="18.7" x=".7 3.9 19.8 23" y="0">||||</text><text class="tx" font-size="16" font-weight="bold" x="7.8" y=".5" textLength="11" lengthAdjust="spacingAndGlyphs">d</text><text class="tx" font-size="12" x="28.2" y="4.4">2</text><text class="tx" font-size="11.5" font-style="italic" x="28.7" y="-7.6">p</text></g>
<text class="tx" font-size="16" y="321.9"><tspan x="474.4" letter-spacing="1.05">(d),</tspan><tspan x="506.6" font-style="italic">p</tspan><tspan x="520.5" textLength="12" lengthAdjust="spacingAndGlyphs">=</tspan><tspan x="537.7" letter-spacing=".5">0.1</tspan></text>
</svg></body></html>
